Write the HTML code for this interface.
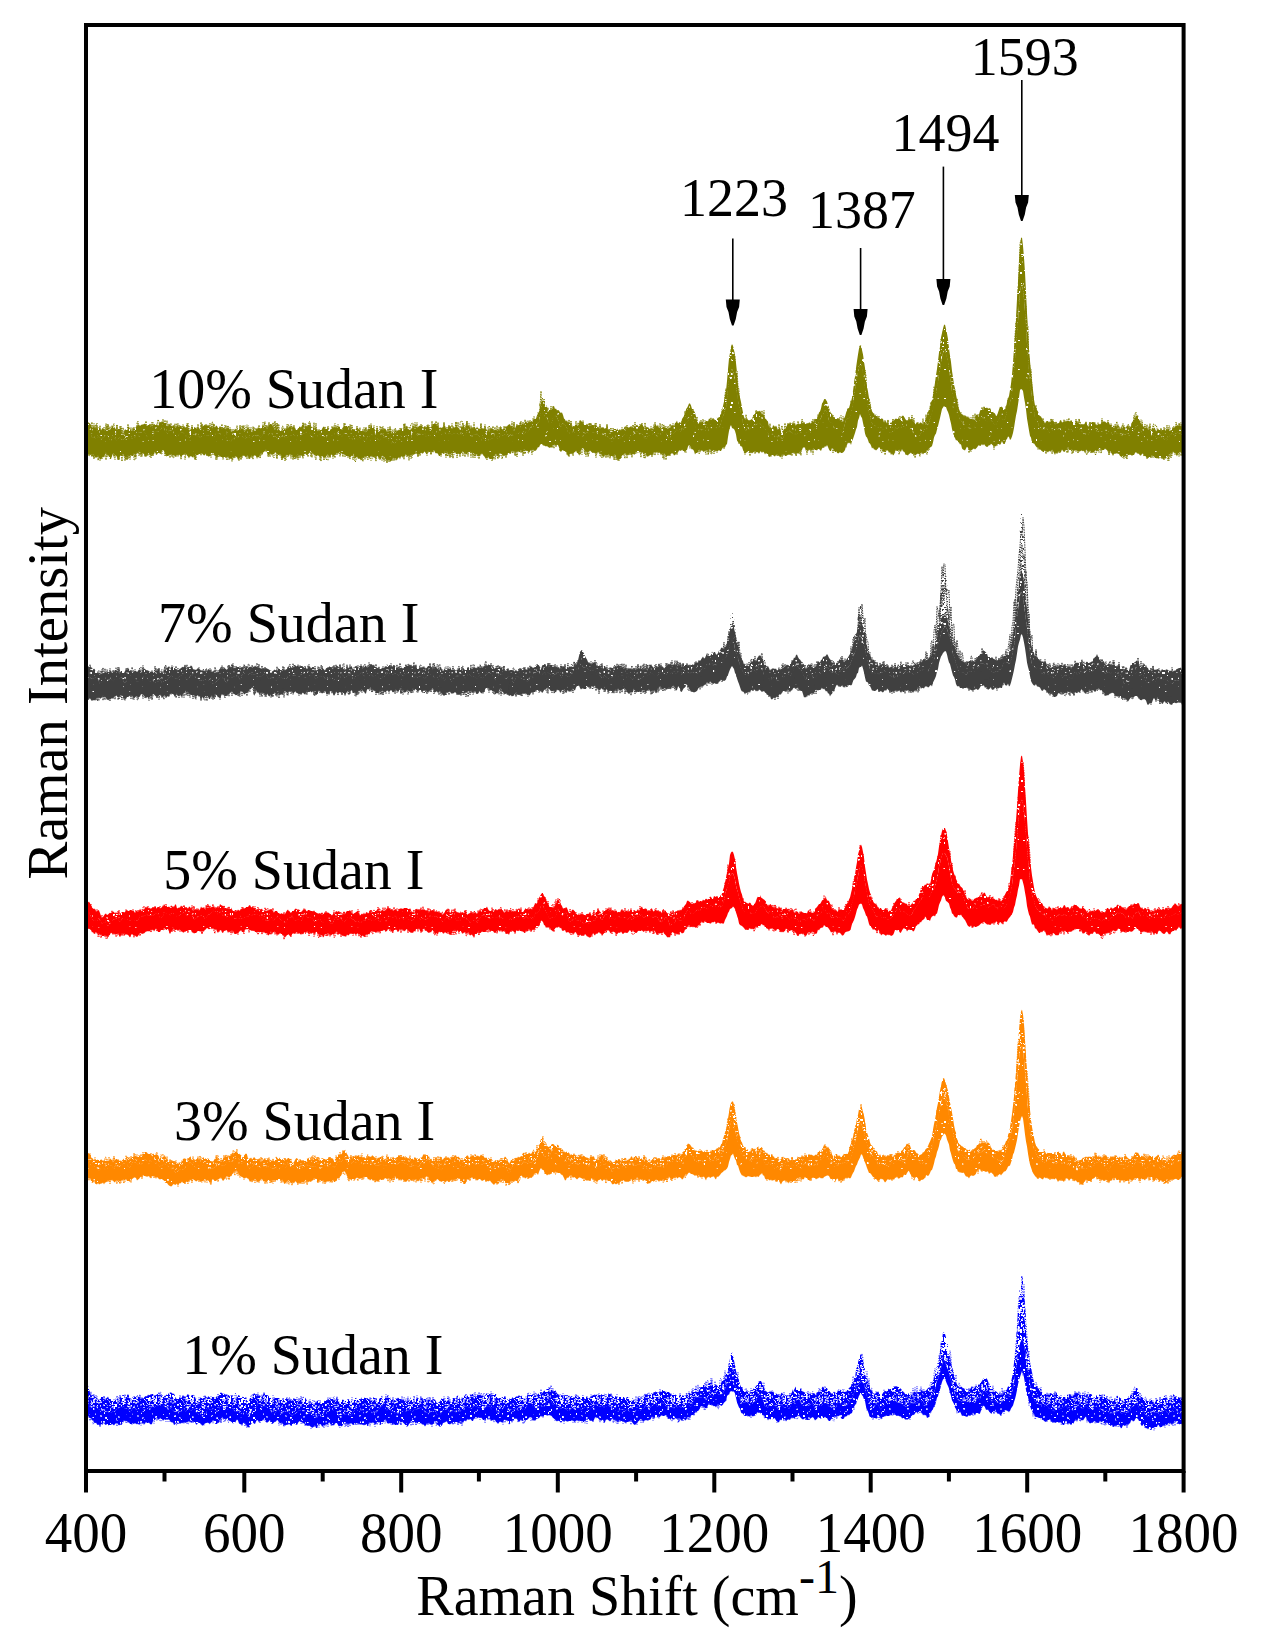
<!DOCTYPE html>
<html><head><meta charset="utf-8"><style>
html,body{margin:0;padding:0;background:#fff;overflow:hidden;}
svg{display:block;}
.t{font-family:'Liberation Serif','Times New Roman',serif;font-size:56px;fill:#000;}
</style></head><body>
<svg width="1261" height="1651" viewBox="0 0 1261 1651">
<rect width="1261" height="1651" fill="#fff"/>
<g transform="scale(0.5)">
<defs><pattern id="pat10u" width="74" height="58" patternUnits="userSpaceOnUse"><rect width="74" height="58" fill="#808000"/><path d="M2 0h2v2h-2zM26 0h2v2h-2zM46 0h2v4h-2zM52 0h4v2h-4zM60 0h4v4h-4zM28 2h2v4h-2zM30 2h4v2h-4zM40 2h2v4h-2zM68 2h2v2h-2zM8 4h2v4h-2zM36 6h4v2h-4zM42 6h2v2h-2zM30 8h2v4h-2zM52 8h4v2h-4zM58 8h4v4h-4zM4 14h4v4h-4zM54 14h4v2h-4zM32 16h2v4h-2zM50 18h4v2h-4zM32 20h2v2h-2zM38 20h2v2h-2zM22 22h4v4h-4zM42 22h4v4h-4zM56 22h2v4h-2zM24 24h4v4h-4zM58 24h2v2h-2zM26 26h2v4h-2zM28 28h2v4h-2zM72 28h2v4h-2zM0 30h4v4h-4zM0 34h2v4h-2zM2 34h2v4h-2zM4 36h4v2h-4zM14 36h2v2h-2zM28 36h2v2h-2zM36 36h2v4h-2zM4 40h2v4h-2zM8 42h2v2h-2zM14 42h4v4h-4zM30 44h4v4h-4zM44 44h4v2h-4zM48 44h2v4h-2zM30 46h2v2h-2zM36 46h2v4h-2zM64 46h4v4h-4zM44 48h4v2h-4zM8 50h4v4h-4zM50 50h2v4h-2zM8 54h4v4h-4zM20 54h4v4h-4zM24 54h4v4h-4zM34 54h4v2h-4zM22 56h2v2h-2z" fill="#fff"/></pattern></defs>
<defs><pattern id="pat10l" width="74" height="58" patternUnits="userSpaceOnUse"><rect width="74" height="58" fill="#808000"/><path d="M54 0h4v4h-4zM0 8h2v4h-2zM8 10h4v2h-4zM62 12h4v2h-4zM16 32h4v2h-4zM24 42h4v2h-4zM38 42h4v2h-4zM4 44h2v2h-2zM70 44h2v2h-2zM56 50h4v4h-4z" fill="#fff"/></pattern></defs>
<defs><pattern id="pat10s" width="74" height="58" patternUnits="userSpaceOnUse"><rect width="74" height="58" fill="#808000"/><path d="M0 0h4v4h-4zM4 0h2v2h-2zM6 0h2v2h-2zM12 0h4v4h-4zM16 0h4v4h-4zM22 0h4v2h-4zM40 0h2v2h-2zM42 0h4v4h-4zM50 0h2v4h-2zM54 0h4v4h-4zM58 0h4v2h-4zM62 0h2v4h-2zM64 0h4v2h-4zM66 0h2v4h-2zM70 0h2v4h-2zM72 0h4v4h-4zM4 2h2v4h-2zM8 2h4v4h-4zM14 2h2v2h-2zM22 2h2v4h-2zM24 2h4v4h-4zM26 2h2v4h-2zM32 2h4v2h-4zM34 2h4v2h-4zM40 2h4v2h-4zM42 2h4v2h-4zM46 2h2v2h-2zM48 2h2v4h-2zM52 2h4v4h-4zM56 2h2v2h-2zM58 2h2v2h-2zM60 2h4v4h-4zM62 2h2v2h-2zM64 2h2v4h-2zM66 2h4v2h-4zM2 4h4v2h-4zM4 4h4v2h-4zM18 4h2v2h-2zM20 4h2v2h-2zM26 4h4v2h-4zM30 4h2v4h-2zM40 4h4v4h-4zM46 4h2v2h-2zM52 4h2v4h-2zM56 4h2v2h-2zM60 4h2v4h-2zM64 4h2v4h-2zM68 4h2v2h-2zM72 4h2v4h-2zM6 6h2v4h-2zM8 6h2v2h-2zM10 6h4v2h-4zM14 6h4v2h-4zM16 6h4v4h-4zM18 6h4v4h-4zM22 6h2v4h-2zM28 6h2v4h-2zM32 6h2v4h-2zM44 6h4v2h-4zM46 6h4v4h-4zM50 6h4v2h-4zM58 6h4v2h-4zM62 6h4v4h-4zM64 6h2v2h-2zM70 6h2v2h-2zM0 8h4v4h-4zM8 8h4v2h-4zM10 8h2v2h-2zM30 8h4v4h-4zM38 8h4v2h-4zM40 8h2v4h-2zM42 8h2v2h-2zM46 8h2v2h-2zM50 8h4v4h-4zM52 8h2v2h-2zM54 8h2v4h-2zM64 8h2v2h-2zM68 8h2v2h-2zM6 10h2v4h-2zM8 10h2v4h-2zM12 10h4v2h-4zM14 10h2v2h-2zM20 10h2v2h-2zM36 10h2v4h-2zM38 10h4v2h-4zM42 10h4v2h-4zM44 10h4v2h-4zM46 10h2v2h-2zM48 10h2v2h-2zM52 10h2v2h-2zM54 10h2v4h-2zM56 10h4v4h-4zM60 10h2v2h-2zM62 10h2v4h-2zM64 10h4v2h-4zM66 10h2v2h-2zM68 10h2v4h-2zM70 10h4v2h-4zM72 10h4v4h-4zM0 12h2v4h-2zM2 12h4v4h-4zM8 12h2v2h-2zM10 12h2v4h-2zM16 12h4v4h-4zM18 12h2v4h-2zM20 12h2v2h-2zM24 12h2v4h-2zM26 12h2v2h-2zM28 12h2v4h-2zM30 12h2v4h-2zM32 12h2v2h-2zM40 12h2v2h-2zM46 12h4v4h-4zM50 12h2v2h-2zM52 12h4v4h-4zM56 12h4v4h-4zM58 12h4v2h-4zM60 12h4v2h-4zM62 12h4v4h-4zM64 12h4v2h-4zM68 12h4v2h-4zM0 14h4v4h-4zM4 14h2v4h-2zM8 14h2v4h-2zM10 14h4v2h-4zM14 14h2v4h-2zM16 14h4v4h-4zM18 14h2v4h-2zM26 14h4v2h-4zM28 14h4v4h-4zM34 14h4v4h-4zM36 14h4v4h-4zM44 14h4v2h-4zM48 14h2v4h-2zM50 14h2v4h-2zM62 14h4v4h-4zM64 14h2v4h-2zM70 14h4v4h-4zM6 16h4v2h-4zM14 16h4v4h-4zM18 16h4v4h-4zM20 16h2v4h-2zM22 16h2v2h-2zM30 16h4v2h-4zM42 16h2v2h-2zM44 16h2v2h-2zM48 16h4v2h-4zM50 16h2v4h-2zM68 16h2v2h-2zM0 18h2v4h-2zM2 18h4v4h-4zM22 18h2v2h-2zM24 18h4v2h-4zM28 18h4v2h-4zM34 18h4v2h-4zM40 18h4v2h-4zM46 18h2v4h-2zM48 18h4v2h-4zM50 18h2v4h-2zM54 18h2v2h-2zM56 18h4v4h-4zM60 18h2v4h-2zM62 18h4v2h-4zM68 18h2v4h-2zM72 18h2v4h-2zM4 20h2v2h-2zM8 20h2v4h-2zM16 20h4v2h-4zM28 20h4v2h-4zM32 20h4v2h-4zM40 20h4v2h-4zM46 20h2v4h-2zM60 20h2v2h-2zM62 20h4v2h-4zM64 20h4v2h-4zM66 20h2v4h-2zM68 20h4v4h-4zM70 20h4v2h-4zM4 22h4v2h-4zM8 22h2v2h-2zM12 22h4v2h-4zM22 22h2v4h-2zM24 22h2v4h-2zM26 22h4v4h-4zM28 22h2v4h-2zM34 22h2v4h-2zM36 22h4v2h-4zM38 22h2v2h-2zM40 22h4v4h-4zM48 22h2v4h-2zM52 22h4v2h-4zM56 22h2v2h-2zM58 22h2v4h-2zM64 22h2v4h-2zM66 22h4v2h-4zM70 22h4v4h-4zM72 22h4v4h-4zM4 24h4v2h-4zM26 24h4v4h-4zM32 24h2v2h-2zM40 24h2v4h-2zM44 24h2v4h-2zM46 24h2v2h-2zM50 24h2v4h-2zM52 24h4v2h-4zM56 24h4v4h-4zM58 24h2v2h-2zM60 24h4v4h-4zM62 24h2v4h-2zM66 24h4v4h-4zM68 24h4v4h-4zM70 24h4v4h-4zM72 24h2v2h-2zM4 26h2v2h-2zM6 26h2v4h-2zM8 26h2v2h-2zM12 26h4v4h-4zM14 26h4v2h-4zM18 26h2v2h-2zM22 26h4v2h-4zM24 26h2v2h-2zM26 26h4v4h-4zM28 26h4v2h-4zM32 26h2v2h-2zM36 26h2v2h-2zM44 26h2v2h-2zM46 26h4v4h-4zM48 26h4v2h-4zM52 26h4v4h-4zM56 26h2v2h-2zM60 26h2v4h-2zM2 28h2v2h-2zM6 28h4v2h-4zM8 28h4v2h-4zM18 28h4v4h-4zM24 28h2v2h-2zM32 28h4v4h-4zM38 28h2v4h-2zM42 28h4v2h-4zM48 28h4v4h-4zM52 28h2v2h-2zM60 28h4v4h-4zM66 28h4v4h-4zM70 28h2v4h-2zM72 28h4v2h-4zM14 30h2v2h-2zM16 30h4v2h-4zM26 30h2v2h-2zM28 30h4v4h-4zM40 30h4v2h-4zM58 30h4v2h-4zM64 30h4v2h-4zM68 30h2v2h-2zM72 30h2v2h-2zM0 32h4v4h-4zM2 32h2v4h-2zM8 32h2v2h-2zM12 32h4v4h-4zM18 32h4v2h-4zM22 32h4v2h-4zM24 32h4v4h-4zM28 32h4v4h-4zM30 32h2v2h-2zM34 32h4v2h-4zM38 32h2v4h-2zM40 32h4v4h-4zM46 32h2v4h-2zM48 32h2v4h-2zM58 32h4v4h-4zM60 32h2v2h-2zM62 32h4v2h-4zM66 32h4v2h-4zM72 32h4v4h-4zM0 34h4v2h-4zM8 34h4v2h-4zM10 34h2v2h-2zM16 34h4v4h-4zM20 34h4v4h-4zM22 34h4v2h-4zM24 34h4v2h-4zM28 34h2v2h-2zM36 34h2v4h-2zM38 34h4v2h-4zM42 34h4v2h-4zM50 34h4v2h-4zM58 34h4v4h-4zM60 34h4v4h-4zM64 34h2v4h-2zM66 34h2v4h-2zM70 34h2v4h-2zM2 36h2v4h-2zM6 36h4v4h-4zM8 36h2v2h-2zM10 36h4v4h-4zM12 36h2v2h-2zM16 36h4v2h-4zM22 36h4v2h-4zM26 36h4v2h-4zM34 36h4v2h-4zM46 36h2v2h-2zM48 36h2v4h-2zM50 36h2v4h-2zM52 36h2v4h-2zM54 36h2v4h-2zM58 36h2v2h-2zM60 36h2v2h-2zM66 36h4v2h-4zM68 36h4v2h-4zM2 38h2v4h-2zM6 38h2v4h-2zM10 38h2v2h-2zM20 38h4v4h-4zM22 38h4v2h-4zM36 38h4v4h-4zM40 38h2v2h-2zM46 38h4v4h-4zM50 38h4v4h-4zM54 38h4v2h-4zM58 38h2v2h-2zM64 38h2v4h-2zM70 38h4v4h-4zM0 40h4v2h-4zM10 40h4v2h-4zM14 40h2v2h-2zM18 40h2v2h-2zM28 40h4v4h-4zM30 40h4v2h-4zM32 40h4v2h-4zM36 40h2v2h-2zM40 40h2v2h-2zM42 40h2v2h-2zM44 40h4v2h-4zM50 40h2v4h-2zM52 40h2v4h-2zM58 40h4v4h-4zM62 40h4v4h-4zM0 42h4v2h-4zM12 42h2v2h-2zM14 42h2v4h-2zM22 42h4v4h-4zM34 42h4v2h-4zM40 42h2v4h-2zM44 42h4v4h-4zM58 42h2v2h-2zM62 42h4v2h-4zM66 42h2v2h-2zM70 42h2v2h-2zM72 42h2v2h-2zM14 44h4v4h-4zM18 44h4v4h-4zM36 44h2v2h-2zM40 44h2v4h-2zM48 44h2v4h-2zM50 44h2v2h-2zM54 44h2v4h-2zM68 44h2v4h-2zM72 44h2v4h-2zM2 46h2v2h-2zM4 46h4v2h-4zM8 46h2v2h-2zM16 46h2v2h-2zM18 46h4v4h-4zM26 46h2v4h-2zM30 46h4v2h-4zM40 46h4v2h-4zM44 46h4v4h-4zM50 46h4v2h-4zM54 46h2v2h-2zM56 46h2v4h-2zM62 46h2v4h-2zM64 46h2v4h-2zM68 46h4v4h-4zM70 46h4v4h-4zM0 48h4v4h-4zM2 48h4v4h-4zM10 48h2v4h-2zM14 48h4v2h-4zM22 48h4v2h-4zM26 48h4v2h-4zM30 48h2v4h-2zM40 48h4v2h-4zM42 48h4v4h-4zM46 48h4v4h-4zM50 48h2v4h-2zM54 48h2v4h-2zM56 48h2v4h-2zM58 48h2v4h-2zM64 48h2v2h-2zM68 48h4v4h-4zM70 48h2v4h-2zM4 50h2v4h-2zM8 50h4v4h-4zM10 50h4v2h-4zM14 50h2v4h-2zM34 50h4v4h-4zM36 50h4v2h-4zM42 50h2v2h-2zM44 50h4v4h-4zM60 50h2v2h-2zM64 50h2v2h-2zM70 50h2v2h-2zM0 52h4v4h-4zM4 52h2v2h-2zM14 52h4v4h-4zM30 52h4v2h-4zM34 52h2v2h-2zM36 52h2v2h-2zM38 52h4v4h-4zM50 52h4v2h-4zM52 52h4v4h-4zM62 52h4v2h-4zM64 52h4v4h-4zM66 52h2v2h-2zM68 52h2v2h-2zM72 52h2v2h-2zM4 54h2v4h-2zM6 54h4v4h-4zM8 54h2v2h-2zM18 54h2v4h-2zM20 54h4v2h-4zM26 54h2v2h-2zM28 54h4v4h-4zM30 54h4v4h-4zM32 54h4v4h-4zM34 54h2v4h-2zM38 54h2v4h-2zM44 54h4v4h-4zM48 54h4v2h-4zM56 54h4v2h-4zM58 54h2v4h-2zM64 54h4v4h-4zM4 56h4v4h-4zM10 56h4v2h-4zM14 56h2v2h-2zM20 56h2v4h-2zM26 56h2v2h-2zM28 56h2v2h-2zM30 56h4v2h-4zM34 56h2v4h-2zM40 56h2v2h-2zM44 56h2v2h-2zM48 56h4v4h-4zM54 56h2v4h-2zM68 56h4v2h-4zM70 56h4v2h-4z" fill="#fff"/></pattern></defs>
<path d="M174 849l2-5 2 2 2 1 2 3 2 5 2 0 2-3 2 4 2 1 2 0 2-3 2 2 2-1 2 6 2-4 2-1 2 3 2 2 2-3 2-2 2 1 2 5 2-1 2-5 2-2 2-2 2 3 2 1 2 3 2 1 2-3 2 1 2 0 2 4 2 3 2 2 2-2 2-7 2 2 2-5 2-1 2-1 2 5 2 2 2 2 2-3 2-2 2 1 2-5 2 0 2-2 2-2 2 3 2-2 2-1 2 0 2-1 2-1 2 3 2 2 2-2 2 0 2 0 2 3 2 0 2-2 2-2 2-1 2 2 2-2 2 4 2-3 2-5 2 1 2-3 2 1 2 3 2 0 2 0 2 4 2 3 2-5 2 2 2 1 2 3 2-4 2 3 2 3 2-1 2-3 2 1 2 0 2-1 2-1 2 5 2-1 2-1 2 2 2-1 2 3 2-2 2 4 2 1 2-5 2 2 2-2 2-2 2 1 2 1 2 2 2-2 2 0 2 3 2-4 2 0 2-2 2-2 2-2 2 3 2-3 2 3 2-3 2 7 2-4 2 5 2-2 2 0 2 0 2-4 2 1 2 4 2 1 2-5 2 4 2 1 2-1 2-1 2 3 2 1 2-1 2-2 2 1 2 4 2 3 2-1 2-1 2 0 2-5 2 2 2 3 2-1 2-4 2 1 2 0 2-1 2 2 2 3 2 2 2-6 2 1 2-1 2 1 2-2 2 5 2 3 2-5 2-2 2 4 2-5 2 2 2-5 2 2 2 0 2 1 2-4 2-3 2 3 2 1 2 0 2-2 2 3 2-4 2-3 2 0 2 1 2 6 2 3 2-5 2 3 2-2 2 6 2 0 2 2 2 0 2-4 2 0 2-3 2 4 2 0 2-4 2 2 2-4 2 0 2 2 2 2 2-6 2 4 2 0 2 5 2 0 2-3 2-3 2-1 2 2 2-4 2-2 2 4 2 2 2-4 2 4 2-5 2 0 2 1 2 3 2-1 2 4 2-4 2 6 2-1 2 1 2 4 2-2 2-4 2 3 2-1 2-5 2-1 2 5 2 0 2 0 2-3 2 2 2 2 2 0 2-2 2-3 2 1 2-2 2 3 2-4 2 2 2-1 2 1 2 2 2 4 2-4 2-3 2 0 2-1 2 0 2 3 2 6 2-2 2-1 2-1 2 3 2 0 2-2 2 3 2-2 2 0 2-2 2 4 2 1 2 0 2-2 2 3 2 0 2 3 2-4 2-2 2-2 2 0 2-6 2-1 2 4 2 2 2 3 2 2 2-3 2 5 2 0 2-3 2-1 2-3 2 4 2-5 2 3 2 0 2 5 2-1 2 1 2-1 2 3 2 1 2-2 2 3 2-2 2-1 2-4 2 0 2 0 2 1 2-5 2 0 2 1 2-1 2 2 2-8 2 3 2 5 2 1 2 0 2 0 2-5 2-1 2 1 2-4 2 3 2 2 2-2 2-2 2-1 2 0 2 2 2 2 2-1 2-2 2 4 2-4 2 0 2 2 2 1 2-1 2-2 2-4 2 0 2-1 2 3 2 2 2 0 2 4 2-1 2 0 2 1 2-3 2 0 2-2 2 6 2 1 2 0 2-4 2-2 2 1 2 3 2 0 2-2 2 2 2-4 2 1 2 3 2 1 2 0 2-7 2 5 2-3 2 1 2 5 2-8 2 2 2-1 2 1 2 3 2 3 2-4 2 3 2-3 2 1 2 3 2-5 2 4 2 0 2 1 2 0 2 0 2-1 2 0 2 0 2 0 2 4 2 2 2 1 2-5 2-1 2-3 2 4 2 2 2-1 2-1 2 2 2 0 2 1 2-6 2 0 2 3 2-1 2-3 2-1 2 1 2-2 2-3 2-1 2-1 2 5 2-2 2 5 2-1 2 2 2-5 2-2 2 1 2-4 2-4 2 4 2 1 2 1 2 0 2-3 2-5 2 6 2-2 2 0 2-2 2 1 2-5 2 1 2-3 2 1 2-1 2-6 2-6 2-1 2-12 2-10 2-1 2 1 2 0 2 9 2 2 2 0 2 7 2 0 2 0 2-3 2 3 2-7 2-1 2 6 2-1 2 4 2 0 2 0 2 4 2 1 2-1 2 5 2 7 2 2 2 4 2-3 2 7 2-4 2 4 2 6 2 2 2-5 2 3 2-2 2-1 2 0 2 2 2-4 2-7 2 0 2 3 2 3 2 3 2 0 2 0 2-3 2 3 2 4 2-1 2-2 2-2 2-1 2 3 2 1 2-2 2 3 2 3 2-1 2-2 2 1 2 2 2-1 2 2 2 0 2-1 2 1 2 2 2 2 2 4 2-1 2 0 2-1 2-7 2 2 2-2 2 0 2 5 2-1 2-2 2 3 2-1 2-1 2-2 2-3 2 4 2-4 2 1 2 0 2-1 2 0 2 2 2-1 2-4 2 4 2-4 2-2 2 3 2 2 2-3 2-2 2-2 2 5 2 2 2 2 2-1 2 0 2-1 2 3 2 1 2 1 2-2 2-3 2 2 2-7 2 1 2 3 2-4 2 7 2-2 2 4 2-2 2-3 2 1 2 1 2 1 2 1 2 1 2-2 2 0 2-3 2-3 2 2 2 1 2-7 2-1 2-4 2 7 2-3 2-1 2 3 2-9 2-3 2-3 2-5 2-8 2-3 2-4 2-5 2 0 2 4 2 7 2 0 2 4 2 3 2 9 2 8 2 6 2-2 2-5 2 5 2-3 2 1 2 0 2 0 2-2 2 0 2 1 2-6 2 1 2 2 2-1 2-2 2 3 2-2 2-3 2 3 2-3 2 0 2-5 2-2 2-6 2-10 2-9 2-13 2-8 2-20 2-24 2-21 2-11 2-12 2-6 2 4 2 8 2 13 2 13 2 19 2 25 2 16 2 9 2 9 2 11 2 10 2 9 2 4 2 1 2-3 2 4 2 1 2 0 2-2 2-1 2-4 2-5 2-1 2-5 2 0 2-1 2 1 2-2 2 4 2 5 2-3 2 6 2 4 2 1 2 3 2 2 2 11 2 2 2-1 2 2 2-6 2 0 2 3 2-3 2 4 2 5 2-4 2 1 2 6 2 1 2-2 2-4 2-3 2-1 2-3 2-3 2 0 2-4 2 3 2 0 2 0 2 2 2-3 2 5 2-2 2-2 2 0 2 2 2-2 2-1 2 1 2-2 2 3 2 0 2-2 2 1 2-2 2 0 2 3 2-5 2 1 2-2 2-3 2-1 2 0 2-6 2-7 2-2 2-6 2-10 2-3 2-5 2-1 2 2 2 3 2 7 2 6 2 6 2 5 2 0 2 6 2 2 2-1 2 0 2 3 2-1 2 3 2 2 2-2 2 5 2 0 2-7 2-4 2-7 2-4 2-5 2-1 2-7 2-5 2-9 2-13 2-15 2-14 2-17 2-14 2-13 2-12 2-5 2-2 2 10 2 9 2 14 2 13 2 21 2 16 2 10 2 13 2 9 2 13 2 4 2 5 2-1 2 6 2-4 2 5 2 3 2-2 2 2 2 1 2 0 2 1 2 7 2-2 2 0 2 4 2 0 2 0 2-2 2 1 2-2 2-1 2-2 2-3 2-1 2 1 2 0 2-5 2 1 2 1 2-3 2-1 2 2 2 4 2 3 2 1 2-1 2 1 2-3 2 1 2-3 2 7 2 0 2 6 2-2 2-3 2 2 2 2 2-3 2 0 2 2 2 3 2-8 2-1 2-3 2-9 2-5 2-5 2-6 2-6 2-7 2-9 2-12 2-14 2-15 2-12 2-16 2-17 2-11 2-19 2-9 2-9 2-7 2-1 2 9 2 9 2 11 2 19 2 14 2 13 2 18 2 13 2 14 2 9 2 11 2 10 2 13 2 6 2 5 2 4 2 2 2 0 2 5 2-4 2 3 2 2 2-3 2 5 2 1 2 0 2 0 2 1 2 1 2-4 2-7 2 1 2 1 2-2 2-7 2-4 2 0 2 1 2-4 2-1 2 2 2-1 2 2 2 0 2-1 2 4 2 3 2 0 2 4 2 0 2 5 2-1 2-6 2-6 2-6 2 0 2 1 2 2 2 2 2 1 2-4 2-11 2-7 2-5 2-12 2-12 2-19 2-23 2-28 2-29 2-33 2-38 2-35 2-41 2-28 2-18 2-1 2 17 2 23 2 30 2 38 2 43 2 34 2 37 2 25 2 23 2 17 2 18 2 19 2 12 2 4 2 5 2 3 2 6 2 4 2 0 2 4 2 4 2 1 2 5 2-4 2-1 2 0 2 3 2-3 2 0 2 0 2-1 2 5 2 5 2-5 2 2 2-1 2-1 2-5 2-1 2 5 2-1 2 0 2-4 2 4 2-1 2-2 2 2 2 0 2-3 2 2 2 2 2 0 2 2 2-1 2-2 2 4 2 0 2 2 2-1 2 1 2-1 2 1 2-3 2-2 2 4 2 5 2 0 2-3 2-4 2-2 2 0 2 1 2 2 2 3 2 1 2-2 2 0 2 1 2-3 2-1 2-3 2 0 2 0 2 2 2 2 2-3 2 1 2 5 2 0 2 5 2 1 2-1 2-4 2 1 2 1 2-2 2 2 2 5 2-1 2 3 2-7 2 0 2 2 2 0 2-4 2 2 2 2 2-1 2-1 2-9 2 0 2-3 2-4 2-6 2 1 2-2 2 9 2 3 2 6 2 3 2 1 2 2 2 2 2-1 2 1 2 3 2 1 2 2 2-1 2-5 2 1 2 1 2-1 2 6 2-3 2-3 2 3 2 0 2 3 2-2 2-5 2 3 2 1 2-3 2 3 2-4 2 3 2 0 2 2 2-4 2-1 2 0 2-3 2-1 2-1 2-1 2 2 2-3 2 4 2-3L2364 869l-2-1 -2-3 -2 3 -2-3 -2 1 -2 1 -2 0 -2 3 -2-2 -2-1 -2 2 -2 2 -2 3 -2 1 -2 6 -2-1 -2 0 -2-2 -2-3 -2 1 -2 0 -2-3 -2 3 -2-2 -2 3 -2 0 -2-6 -2 0 -2-2 -2-1 -2 5 -2 2 -2 1 -2 1 -2 1 -2-2 -2 0 -2-3 -2-5 -2-3 -2-3 -2-4 -2-3 -2-5 -2 3 -2-1 -2 5 -2 4 -2 3 -2 0 -2 6 -2 0 -2 2 -2-1 -2-4 -2 1 -2 2 -2-2 -2 1 -2 5 -2-4 -2 1 -2-4 -2-1 -2 1 -2-2 -2-1 -2 3 -2 3 -2-2 -2-5 -2-1 -2 0 -2 3 -2 3 -2-3 -2-6 -2-1 -2 0 -2 0 -2-1 -2 3 -2 2 -2 2 -2-1 -2-2 -2-2 -2 0 -2 0 -2 0 -2 2 -2 2 -2 4 -2 2 -2-2 -2-1 -2 4 -2 0 -2-4 -2-3 -2-3 -2 0 -2-2 -2 0 -2-1 -2 4 -2 3 -2 0 -2 0 -2-4 -2-2 -2 1 -2 1 -2-4 -2 0 -2-1 -2-2 -2 4 -2 2 -2 2 -2-1 -2 0 -2 0 -2-1 -2 0 -2-3 -2 5 -2-2 -2-1 -2 4 -2 3 -2 0 -2 0 -2-5 -2-3 -2 0 -2 3 -2-1 -2 0 -2 0 -2-1 -2 0 -2-4 -2-8 -2-3 -2-3 -2-5 -2-12 -2-15 -2-14 -2-14 -2-17 -2-21 -2-28 -2-27 -2-35 -2-29 -2-25 -2-18 -2-10 -2 3 -2 14 -2 24 -2 31 -2 24 -2 26 -2 25 -2 24 -2 25 -2 18 -2 14 -2 7 -2 6 -2 3 -2 7 -2 11 -2 7 -2 1 -2-1 -2-2 -2-1 -2-1 -2 2 -2 4 -2 5 -2 4 -2-2 -2 1 -2-6 -2 0 -2-2 -2 0 -2 3 -2 0 -2-1 -2-1 -2-4 -2-2 -2 1 -2-3 -2 1 -2 3 -2 5 -2 3 -2 1 -2-1 -2 5 -2 2 -2 2 -2 2 -2 0 -2 1 -2-1 -2-3 -2 1 -2-2 -2-3 -2 2 -2-4 -2-2 -2-5 -2-2 -2-5 -2-6 -2-11 -2-8 -2-7 -2-3 -2-8 -2-8 -2-17 -2-13 -2-14 -2-16 -2-8 -2-7 -2-7 -2 0 -2 5 -2 9 -2 9 -2 15 -2 9 -2 15 -2 14 -2 11 -2 11 -2 9 -2 10 -2 8 -2 6 -2 6 -2 7 -2 5 -2 3 -2 7 -2 0 -2-1 -2 6 -2-1 -2 2 -2 4 -2 2 -2-2 -2-1 -2 3 -2 1 -2-6 -2-1 -2-6 -2 0 -2-2 -2 1 -2-1 -2 0 -2 0 -2-3 -2-2 -2 0 -2-1 -2 4 -2-1 -2-2 -2 4 -2 0 -2-2 -2 2 -2 5 -2 2 -2-1 -2 3 -2-2 -2 1 -2-4 -2-3 -2-5 -2 3 -2 5 -2-2 -2-3 -2-1 -2-1 -2 0 -2 2 -2-3 -2-3 -2 3 -2-3 -2 0 -2-4 -2-4 -2-10 -2-6 -2-10 -2-9 -2-11 -2-19 -2-16 -2-15 -2-12 -2-7 -2 2 -2 7 -2 9 -2 10 -2 10 -2 15 -2 14 -2 14 -2 11 -2 11 -2 4 -2 5 -2-3 -2 2 -2 2 -2 8 -2 6 -2 7 -2 2 -2-3 -2-1 -2-2 -2-1 -2 2 -2 0 -2-1 -2-2 -2-5 -2-6 -2 2 -2-2 -2-3 -2-7 -2-9 -2-3 -2-1 -2 3 -2 4 -2 2 -2 6 -2 3 -2 1 -2 7 -2 6 -2 2 -2 1 -2 2 -2 2 -2 1 -2 4 -2-1 -2-1 -2 3 -2-2 -2 0 -2 0 -2-3 -2 0 -2 1 -2 3 -2 1 -2 0 -2 0 -2 2 -2 3 -2-4 -2 2 -2-2 -2-2 -2 0 -2-4 -2 2 -2-1 -2 2 -2 2 -2 2 -2 4 -2 4 -2 2 -2-1 -2-4 -2-2 -2 4 -2-2 -2 0 -2 2 -2-5 -2-3 -2 3 -2-1 -2 2 -2 2 -2-7 -2-2 -2-4 -2-1 -2-4 -2-3 -2 4 -2-6 -2-4 -2 2 -2-1 -2 2 -2 0 -2 2 -2-1 -2 2 -2 2 -2 1 -2 2 -2 2 -2 0 -2-1 -2 3 -2-1 -2-4 -2-9 -2-11 -2-10 -2-9 -2-6 -2-9 -2-15 -2-16 -2-11 -2-11 -2-7 -2-4 -2 3 -2 10 -2 9 -2 19 -2 21 -2 15 -2 6 -2 7 -2 4 -2 7 -2 8 -2 4 -2 4 -2-1 -2 3 -2-3 -2 3 -2-1 -2-2 -2 2 -2 1 -2 0 -2 0 -2 6 -2-1 -2 0 -2-1 -2-1 -2-1 -2-1 -2 3 -2-5 -2 1 -2 4 -2-1 -2-3 -2-5 -2-5 -2-5 -2 0 -2-4 -2-3 -2 2 -2 5 -2 3 -2 0 -2 8 -2 4 -2 3 -2 0 -2 4 -2-5 -2 1 -2 3 -2-4 -2 3 -2 1 -2 5 -2-1 -2 0 -2 4 -2 5 -2 0 -2-2 -2-4 -2-4 -2-4 -2-1 -2 2 -2 3 -2 4 -2-4 -2 1 -2-2 -2 5 -2 1 -2-3 -2 1 -2-3 -2 4 -2 0 -2 0 -2 1 -2 0 -2 6 -2 0 -2 1 -2-3 -2-4 -2-5 -2 1 -2 1 -2 1 -2-4 -2-3 -2 1 -2 6 -2-1 -2 3 -2 1 -2 2 -2 0 -2 3 -2-3 -2-4 -2 1 -2-3 -2 3 -2 3 -2 1 -2 2 -2-2 -2 2 -2 0 -2-3 -2-1 -2 3 -2 1 -2 6 -2 0 -2-2 -2-1 -2-5 -2 0 -2-1 -2 0 -2-1 -2 0 -2-1 -2-1 -2-1 -2-1 -2 1 -2 0 -2-2 -2-3 -2 0 -2 0 -2 0 -2 1 -2 1 -2 0 -2 0 -2-1 -2-1 -2 1 -2 1 -2-2 -2-2 -2-1 -2-1 -2 2 -2 6 -2 3 -2-2 -2-4 -2 0 -2-2 -2-2 -2 4 -2 1 -2 0 -2-2 -2 0 -2-9 -2-2 -2-4 -2-1 -2-3 -2 2 -2 6 -2-1 -2-8 -2-6 -2-4 -2-4 -2 2 -2-2 -2 4 -2 10 -2 1 -2 3 -2-4 -2-4 -2-7 -2 2 -2 1 -2-7 -2-2 -2-3 -2 1 -2 8 -2 10 -2 1 -2 4 -2 4 -2 0 -2 0 -2-1 -2-1 -2 3 -2 2 -2 5 -2 2 -2 3 -2-3 -2 3 -2 2 -2 1 -2-2 -2-3 -2-1 -2 4 -2 1 -2-1 -2-1 -2 4 -2 0 -2 2 -2-4 -2 4 -2-4 -2 1 -2-1 -2 2 -2 1 -2-2 -2 1 -2 1 -2-1 -2-1 -2 2 -2 6 -2 1 -2-1 -2-5 -2 0 -2 4 -2 2 -2-2 -2 2 -2 1 -2 2 -2-3 -2 1 -2 1 -2 1 -2-3 -2-3 -2-1 -2 0 -2 0 -2-2 -2-2 -2-4 -2 4 -2-1 -2 0 -2 2 -2 0 -2 2 -2-2 -2-4 -2-4 -2 1 -2 1 -2 7 -2 0 -2-2 -2 0 -2-6 -2 5 -2 0 -2 0 -2-2 -2-1 -2 1 -2 0 -2 1 -2 1 -2-2 -2-1 -2 1 -2 3 -2-2 -2 1 -2-5 -2 3 -2 0 -2 2 -2-1 -2 0 -2-1 -2-6 -2 2 -2 1 -2 2 -2 2 -2 1 -2 2 -2-1 -2 1 -2 1 -2-2 -2 1 -2 3 -2-5 -2-1 -2 1 -2 0 -2 0 -2 1 -2 1 -2 1 -2-1 -2-6 -2-2 -2 3 -2 1 -2 2 -2 7 -2 2 -2 1 -2-1 -2-5 -2-4 -2 6 -2-2 -2 2 -2-1 -2 1 -2 5 -2-2 -2 1 -2 2 -2 3 -2 3 -2 1 -2-6 -2 3 -2 2 -2-1 -2-4 -2-3 -2-1 -2-3 -2 1 -2-3 -2 2 -2-2 -2 4 -2 2 -2 2 -2-2 -2-3 -2 1 -2-2 -2-2 -2-1 -2-3 -2 1 -2 3 -2 1 -2 0 -2 2 -2 5 -2-2 -2 3 -2-3 -2-1 -2 0 -2-2 -2-1 -2 4 -2-2 -2 2 -2-1 -2 1 -2 1 -2-3 -2 1 -2-1 -2-1 -2-6 -2-2 -2 0 -2 0 -2-1 -2 3 -2 3 -2-3 -2-1 -2 1 -2 1 -2-4 -2 2 -2-3 -2 4 -2 0 -2 1 -2-1 -2 0 -2-1 -2 0 -2 4 -2 2 -2 1 -2-4 -2 0 -2 1 -2-2 -2-4 -2 4 -2 2 -2-2 -2 0 -2 1 -2 0 -2 4 -2-1 -2-1 -2-6 -2-3 -2-2 -2 4 -2-4 -2 5 -2-1 -2 0 -2 2 -2 4 -2-1 -2 0 -2 0 -2 2 -2 0 -2-3 -2 1 -2-5 -2 4 -2 1 -2-2 -2 2 -2 4 -2-2 -2 2 -2-1 -2-4 -2 2 -2-1 -2 2 -2 2 -2 1 -2 2 -2-4 -2-1 -2-3 -2 3 -2-2 -2-3 -2-2 -2-1 -2 2 -2 3 -2-4 -2-1 -2 1 -2 1 -2 1 -2 3 -2 3 -2-2 -2 0 -2-4 -2 4 -2-3 -2 2 -2-2 -2 3 -2 4 -2 0 -2-2 -2 1 -2-3 -2 2 -2 0 -2 3 -2-1 -2-2 -2-1 -2 0 -2 0 -2-1 -2 3 -2-1 -2-1 -2 1 -2 4 -2-2 -2 2 -2 4 -2-1 -2-1 -2-3 -2 1 -2-2 -2-3 -2-4 -2 0 -2 0 -2 0 -2-4 -2 2 -2-1 -2-1 -2 0 -2 6 -2 1 -2-1 -2-1 -2-4 -2 5 -2-3 -2 4 -2-3 -2 1 -2 0 -2 2 -2 1 -2 0 -2-2 -2 3 -2-2 -2 0 -2 1 -2-2 -2-3 -2-1 -2 2 -2 2 -2-1 -2 4 -2 0 -2-3 -2 3 -2-2 -2-3 -2-3 -2-2 -2 0 -2 0 -2 2 -2 2 -2 3 -2 0 -2 2 -2-1 -2-4 -2-3 -2 0 -2-3 -2-2 -2-1 -2 6 -2 1 -2-3 -2-2 -2-4 -2-4 -2 0 -2 5 -2 0 -2 3 -2 2 -2-2 -2 1 -2-1 -2 6 -2 4 -2 1 -2-2 -2-3 -2 1 -2 1 -2 3 -2-3 -2-4 -2-2 -2 0 -2 0 -2 1 -2 1 -2-2 -2 4 -2 2 -2 0 -2 5 -2-2 -2 3 -2 2 -2-1 -2-1 -2 0 -2 2 -2 0 -2 2 -2-4 -2 2 -2 1 -2 1 -2-2 -2-3 -2 1 -2 1 -2 3 -2-1 -2-2 -2-1 -2-3 -2 2 -2 2 -2 3 -2-3 -2-5 -2-2 -2 0 -2 3 -2 2 -2-1 -2 3 -2 3 -2-5 -2 0 -2-2 -2 4 -2 1 -2-1 -2-3 -2 2 -2-1 -2-6 -2-3 -2-4 -2-2 -2 3z" fill="url(#pat10u)"/>
<path d="M174 863l2-3 2 2 2 4 2 3 2 6 2 1 2-2 2 3 2 1 2-1 2-4 2 2 2 0 2 5 2-3 2-3 2 1 2-2 2-3 2 0 2 2 2 5 2 3 2-3 2-2 2-2 2 3 2 1 2 2 2 1 2-3 2-1 2-1 2 3 2 2 2-1 2-1 2-2 2 4 2-2 2 0 2-2 2 0 2 1 2 1 2-2 2-3 2 2 2-5 2 0 2-2 2-4 2 2 2-1 2-1 2 0 2 0 2 2 2 4 2 3 2-3 2-1 2-1 2 3 2 2 2-1 2-4 2-6 2 1 2-1 2 2 2-2 2-3 2 0 2-5 2 0 2 4 2 4 2 2 2 3 2-1 2-6 2 1 2 2 2 3 2 0 2 3 2 4 2 1 2-2 2 0 2-3 2-2 2-2 2 0 2 0 2 2 2 3 2 3 2 2 2-3 2 3 2 0 2-4 2 1 2-2 2-2 2 1 2 3 2 2 2-1 2 0 2 2 2-3 2 2 2 0 2-1 2-2 2 0 2-1 2 3 2-4 2 3 2-5 2 4 2 1 2 1 2-1 2-6 2 0 2 1 2 1 2-2 2 4 2 0 2 0 2 0 2 4 2 3 2 2 2-1 2 3 2 1 2 1 2-4 2-2 2 2 2-4 2-1 2 1 2 1 2-3 2 1 2 0 2 0 2 1 2 2 2 1 2-3 2 0 2-2 2 3 2-1 2 2 2 0 2-4 2-3 2 2 2-2 2 3 2-4 2 4 2 0 2 2 2-3 2-3 2-1 2-1 2-1 2 1 2 4 2-3 2-2 2 1 2 2 2 3 2 2 2-3 2 3 2 1 2 4 2-2 2-1 2-2 2-2 2 1 2-2 2 4 2 1 2-2 2 2 2-4 2-2 2 2 2-1 2-4 2 5 2-1 2 3 2 0 2-2 2 0 2 0 2 1 2-4 2-2 2 0 2 1 2-5 2 4 2-4 2 2 2 3 2 6 2 1 2 1 2-4 2 0 2-1 2 0 2 2 2-2 2-4 2 4 2 2 2-1 2 0 2 4 2-1 2-2 2-4 2 0 2 1 2 0 2 1 2-1 2 0 2-4 2 3 2-2 2 4 2-1 2-1 2 1 2 3 2-3 2-3 2 1 2 0 2 0 2 2 2 6 2 1 2 1 2-1 2 3 2-1 2-1 2 1 2-2 2 2 2-4 2 1 2 2 2 0 2 1 2 3 2-3 2 2 2-5 2-2 2 0 2-1 2-3 2-1 2 3 2 1 2 2 2 2 2-1 2 3 2 2 2-2 2-2 2-4 2 2 2-2 2 3 2-1 2 3 2 1 2 3 2 4 2 1 2-2 2-3 2 6 2-1 2-3 2-3 2-2 2-1 2 2 2-5 2-1 2 1 2-2 2 2 2-6 2 4 2 5 2 1 2-1 2-2 2-7 2-2 2-1 2-3 2 2 2 6 2 1 2-1 2-1 2-1 2 0 2 0 2-1 2 1 2 5 2-3 2-1 2 2 2-1 2-1 2 1 2-2 2-1 2-2 2-2 2-1 2-2 2 6 2 1 2 0 2 1 2-2 2 0 2-3 2 5 2-1 2 2 2-3 2-1 2 1 2 2 2-1 2-1 2 0 2-1 2 1 2 2 2 0 2 0 2-5 2 6 2 0 2 2 2 0 2-7 2-1 2-1 2 4 2 4 2 2 2-2 2 0 2-2 2 0 2 1 2-4 2 4 2 2 2 2 2 0 2 0 2 1 2 3 2 3 2-1 2-1 2-1 2 3 2-2 2-1 2-2 2 2 2-2 2-4 2 0 2 5 2 1 2-1 2-6 2-2 2 1 2 1 2-1 2-1 2 2 2-1 2-2 2 1 2-1 2 4 2-4 2 4 2-2 2 0 2-4 2 1 2 1 2-1 2-4 2 1 2 3 2 2 2-1 2-2 2-3 2 3 2-3 2-2 2-5 2-2 2-3 2 1 2 1 2 0 2 0 2-4 2-4 2-1 2-10 2-8 2-1 2 3 2 2 2 7 2-1 2-2 2 7 2 4 2 4 2-3 2-1 2-10 2-4 2 2 2-2 2 4 2 4 2 6 2 8 2 1 2-6 2-2 2 3 2 1 2 4 2 2 2 9 2 0 2 2 2 0 2-1 2-4 2 2 2 2 2 0 2 4 2 2 2-3 2-6 2-2 2 1 2 1 2 2 2 2 2-1 2-1 2 1 2 1 2 0 2 0 2-1 2-1 2 0 2 0 2 0 2 3 2 2 2 0 2-1 2 1 2 1 2 1 2 1 2 0 2 1 2 0 2 1 2 0 2 5 2 1 2 2 2 0 2-6 2-1 2-3 2 1 2 3 2 0 2-2 2 2 2-2 2-1 2-3 2-3 2 3 2-1 2 4 2 3 2-3 2 0 2-2 2-1 2-3 2 1 2-6 2-1 2 3 2 4 2-1 2-1 2-1 2 5 2 4 2 3 2-1 2 0 2-6 2 0 2-1 2 0 2 0 2-4 2 3 2-1 2 3 2-1 2-5 2 2 2-1 2 4 2-4 2-3 2-2 2 1 2 4 2 4 2 4 2 2 2 0 2-5 2-4 2 0 2 1 2-5 2-1 2-3 2 4 2-3 2-1 2 5 2-4 2 0 2-3 2-4 2-8 2 0 2-3 2-5 2-2 2 3 2 4 2 0 2 5 2 5 2 5 2 3 2 1 2-4 2-1 2 5 2-3 2 1 2 1 2 1 2 1 2 0 2 1 2-6 2 0 2 0 2-1 2-2 2 2 2 1 2-3 2 3 2-3 2 1 2-4 2-4 2-8 2-7 2-4 2-7 2-6 2-15 2-21 2-19 2-9 2-10 2-3 2 4 2 7 2 11 2 11 2 16 2 15 2 9 2 6 2 9 2 10 2 11 2 9 2 4 2 1 2-3 2 1 2 0 2-2 2-2 2-1 2-2 2-2 2 1 2-2 2 0 2-2 2 1 2-2 2 4 2 6 2-4 2 3 2 4 2 1 2 4 2 2 2 7 2-2 2-2 2 1 2-3 2 3 2 5 2-2 2 0 2 2 2-4 2 2 2 4 2 1 2-2 2-4 2-4 2-2 2-2 2-2 2 1 2-2 2 4 2 0 2 2 2 2 2-2 2 4 2-3 2-2 2 0 2 0 2-1 2-3 2-1 2 0 2 3 2 0 2 0 2 2 2-3 2 1 2 1 2-4 2-1 2-2 2-2 2-1 2-2 2-6 2-7 2-1 2-3 2-6 2-2 2-4 2-3 2 1 2 3 2 9 2 7 2 3 2 2 2-2 2 6 2 5 2 2 2 1 2 0 2-2 2 1 2 2 2 1 2 3 2-2 2-7 2-6 2-8 2-2 2-2 2 3 2-5 2-4 2-11 2-11 2-14 2-14 2-15 2-10 2-10 2-9 2-7 2-2 2 7 2 12 2 15 2 16 2 19 2 11 2 9 2 10 2 6 2 10 2 4 2 4 2 0 2 3 2-3 2 3 2 3 2-2 2 0 2 1 2 1 2 3 2 2 2-5 2-3 2 5 2 3 2 4 2-1 2 2 2-3 2 1 2-2 2-5 2-2 2 2 2 0 2-4 2 2 2 1 2-4 2 1 2 0 2 2 2 3 2 0 2 0 2 1 2-1 2 2 2 0 2 6 2 1 2 6 2-1 2-3 2 1 2 2 2-2 2-4 2-2 2 1 2-6 2 1 2 0 2-7 2-3 2-5 2-7 2-6 2-6 2-8 2-10 2-9 2-11 2-11 2-14 2-15 2-9 2-15 2-9 2-9 2-5 2 0 2 7 2 7 2 8 2 16 2 14 2 13 2 17 2 8 2 8 2 3 2 7 2 8 2 11 2 6 2 5 2 2 2 5 2 2 2 4 2-2 2 3 2 2 2-1 2 3 2 1 2-1 2 0 2-2 2-2 2-2 2-5 2 1 2-1 2-3 2-5 2-3 2-1 2 3 2-1 2 2 2 4 2 1 2 1 2 0 2-3 2 0 2 2 2 0 2 6 2-1 2 2 2-4 2-5 2-4 2-2 2 1 2 1 2 2 2 1 2-1 2-7 2-11 2-7 2-3 2-6 2-7 2-14 2-18 2-25 2-24 2-25 2-26 2-24 2-31 2-24 2-14 2-3 2 10 2 18 2 25 2 29 2 35 2 27 2 28 2 21 2 17 2 14 2 14 2 15 2 12 2 5 2 3 2 3 2 8 2 4 2 0 2 1 2 0 2 0 2 1 2-3 2 0 2 3 2 5 2 0 2 0 2-3 2-4 2 1 2 2 2-5 2 3 2 0 2 1 2 0 2 0 2 1 2-2 2-2 2-4 2 2 2 1 2 0 2 4 2-1 2-1 2 2 2 4 2 0 2 0 2-3 2-4 2 1 2 0 2 2 2 0 2 3 2 3 2 4 2 0 2-4 2 1 2 2 2-2 2-4 2-2 2-2 2 0 2 0 2 0 2 2 2 2 2 1 2-2 2-2 2-3 2 1 2 0 2 0 2 1 2 6 2 3 2-3 2-3 2 0 2 1 2 5 2 2 2-3 2-3 2 1 2 2 2-1 2 1 2 4 2-1 2 4 2-5 2-1 2 2 2-2 2-1 2 4 2 1 2-2 2 0 2-6 2 0 2-3 2-4 2-5 2 1 2-3 2 5 2 3 2 4 2 3 2 3 2 5 2 3 2 0 2 2 2-1 2-1 2-1 2-2 2-5 2 1 2 2 2 0 2 6 2 0 2-3 2 2 2-3 2 3 2 0 2-1 2 3 2 2 2 0 2 1 2-6 2-1 2-3 2-2 2-2 2 1 2 2 2-3 2 0 2-1 2-1 2 3 2-3 2 3 2 1L2364 908l-2-3 -2-2 -2 3 -2 1 -2 6 -2-4 -2-4 -2 1 -2-3 -2 3 -2-2 -2 4 -2 0 -2 4 -2 0 -2 6 -2-2 -2 1 -2 2 -2-4 -2 2 -2-4 -2 5 -2-2 -2 1 -2-1 -2 0 -2-3 -2-1 -2-2 -2 4 -2 1 -2 1 -2-1 -2 3 -2-5 -2-1 -2-1 -2-4 -2 1 -2 3 -2 0 -2-3 -2-1 -2 0 -2-3 -2 2 -2 4 -2 0 -2 0 -2 0 -2-1 -2 1 -2 0 -2-3 -2 3 -2 5 -2-4 -2 0 -2 4 -2-2 -2-1 -2-4 -2-2 -2 0 -2 1 -2 0 -2 1 -2 4 -2-4 -2-4 -2-2 -2 1 -2 1 -2-4 -2-1 -2-2 -2 3 -2 0 -2 0 -2-2 -2-2 -2 0 -2 4 -2 2 -2-2 -2 2 -2 2 -2 1 -2-1 -2 0 -2-3 -2 2 -2-1 -2-1 -2-2 -2 5 -2-2 -2-1 -2-1 -2 1 -2 2 -2 0 -2 0 -2-2 -2 0 -2-1 -2 2 -2-1 -2-2 -2 0 -2 1 -2-1 -2-6 -2 4 -2 2 -2 4 -2 1 -2-2 -2-3 -2 5 -2 2 -2-4 -2 1 -2 3 -2-1 -2 5 -2-4 -2-4 -2-3 -2 5 -2-3 -2 1 -2 3 -2-2 -2 0 -2-4 -2 5 -2 0 -2-2 -2-2 -2-1 -2 0 -2-5 -2 1 -2-2 -2-3 -2-4 -2 0 -2 0 -2-11 -2-3 -2-11 -2-12 -2-12 -2-18 -2-13 -2-11 -2-13 -2-3 -2-1 -2 2 -2 15 -2 14 -2 13 -2 9 -2 12 -2 13 -2 10 -2 7 -2 5 -2 2 -2-6 -2-1 -2 5 -2 2 -2 6 -2 1 -2 0 -2-5 -2 5 -2 3 -2-2 -2 0 -2 1 -2 4 -2-1 -2 1 -2-2 -2-2 -2-2 -2 4 -2-1 -2 3 -2 1 -2-1 -2-2 -2-3 -2 3 -2-3 -2 3 -2 0 -2-1 -2 2 -2 3 -2 2 -2 2 -2-2 -2 1 -2 2 -2 0 -2 3 -2-4 -2-3 -2-3 -2 4 -2 4 -2-1 -2-1 -2-2 -2-9 -2 1 -2-4 -2-1 -2-4 -2 1 -2-5 -2-3 -2-8 -2-7 -2-11 -2-8 -2-9 -2-6 -2-4 -2-6 -2 0 -2-2 -2 3 -2 3 -2 9 -2 9 -2 8 -2 8 -2 7 -2 8 -2 3 -2 5 -2 10 -2 7 -2 2 -2 1 -2 2 -2 3 -2 0 -2 5 -2 1 -2 0 -2 3 -2-4 -2 0 -2 4 -2-1 -2-1 -2 1 -2 1 -2 1 -2-3 -2 1 -2 0 -2-3 -2 2 -2 1 -2 3 -2-1 -2-1 -2-3 -2-3 -2 0 -2-5 -2 6 -2-2 -2-3 -2 3 -2 2 -2-5 -2 3 -2 7 -2 2 -2-4 -2 3 -2-6 -2 2 -2-5 -2 0 -2-2 -2 4 -2 1 -2-1 -2-5 -2 2 -2-4 -2-2 -2 3 -2 2 -2 2 -2-2 -2 0 -2-4 -2 2 -2-6 -2-4 -2-1 -2-6 -2-5 -2-2 -2-6 -2-12 -2-9 -2-10 -2-3 -2-5 -2 8 -2 5 -2 13 -2 5 -2 7 -2 6 -2 6 -2 4 -2 8 -2-5 -2 2 -2-2 -2 5 -2 2 -2 8 -2 3 -2 2 -2 1 -2 0 -2-2 -2 2 -2 1 -2-2 -2-3 -2 1 -2-2 -2-5 -2 0 -2 6 -2 0 -2-3 -2-5 -2-4 -2 4 -2-2 -2 4 -2-1 -2 2 -2 5 -2-2 -2-2 -2 0 -2 3 -2-1 -2 0 -2-2 -2-1 -2 5 -2-3 -2 2 -2-2 -2 4 -2-2 -2-2 -2-4 -2 0 -2 0 -2 5 -2 2 -2 0 -2 6 -2-2 -2 0 -2 1 -2-2 -2 0 -2 1 -2-1 -2 6 -2-2 -2 1 -2-1 -2 2 -2 1 -2 0 -2-3 -2 0 -2 0 -2 4 -2 2 -2-4 -2-1 -2-1 -2 1 -2 3 -2-1 -2-2 -2 0 -2 1 -2 3 -2-1 -2-5 -2 0 -2-2 -2 3 -2-4 -2-2 -2 3 -2-3 -2 0 -2 5 -2-4 -2 1 -2-1 -2-1 -2 1 -2 1 -2 2 -2-2 -2 0 -2 1 -2-3 -2 1 -2 2 -2 0 -2-3 -2-3 -2-7 -2 0 -2-4 -2-4 -2-1 -2-3 -2-12 -2-7 -2-4 -2-1 -2-1 -2-6 -2 4 -2 8 -2 12 -2 14 -2 2 -2 5 -2-1 -2 1 -2 3 -2 4 -2 0 -2-2 -2 2 -2 1 -2-2 -2 3 -2-4 -2 1 -2 1 -2-1 -2-3 -2 0 -2 4 -2-2 -2 1 -2 0 -2 3 -2-1 -2-3 -2 1 -2 0 -2-3 -2 6 -2 2 -2 0 -2 3 -2-7 -2-3 -2-1 -2-3 -2-4 -2-1 -2 3 -2 7 -2 0 -2 6 -2-4 -2 0 -2-3 -2 3 -2-1 -2 0 -2 4 -2 1 -2 1 -2 3 -2 1 -2-4 -2 0 -2 0 -2 3 -2 2 -2-1 -2 1 -2 1 -2-5 -2-1 -2 1 -2-1 -2 4 -2-5 -2-2 -2-1 -2 0 -2 2 -2-1 -2 1 -2 1 -2 6 -2-3 -2 1 -2 2 -2-2 -2 4 -2-7 -2-1 -2 0 -2-2 -2 0 -2 2 -2-3 -2 3 -2-3 -2 4 -2-4 -2 6 -2 0 -2-1 -2 1 -2 2 -2-6 -2 6 -2-2 -2 2 -2-3 -2-1 -2 1 -2 3 -2-1 -2 6 -2 2 -2 0 -2 0 -2-1 -2-5 -2-4 -2 1 -2 6 -2-2 -2-1 -2 2 -2-6 -2 3 -2-1 -2 2 -2-3 -2 3 -2 4 -2-7 -2-1 -2-3 -2 2 -2-4 -2 6 -2-3 -2 1 -2-2 -2 1 -2-1 -2-2 -2-2 -2 1 -2 2 -2 2 -2-4 -2 2 -2-7 -2-1 -2 1 -2 3 -2 1 -2 4 -2 1 -2 0 -2-5 -2 4 -2-1 -2 3 -2-1 -2 1 -2 1 -2 2 -2 2 -2-4 -2-5 -2 1 -2-1 -2-3 -2 1 -2 3 -2-2 -2-7 -2-5 -2-1 -2 3 -2-2 -2-1 -2 0 -2 5 -2 0 -2 2 -2-1 -2-1 -2-2 -2 1 -2-1 -2-1 -2 0 -2-3 -2 0 -2 2 -2 5 -2-1 -2 4 -2 3 -2-1 -2 2 -2-5 -2 3 -2-1 -2 3 -2 3 -2-2 -2-2 -2 1 -2-2 -2-2 -2 6 -2 2 -2-6 -2 4 -2 0 -2-2 -2 2 -2-1 -2 1 -2-2 -2 1 -2-2 -2 6 -2 1 -2-2 -2 0 -2 5 -2 0 -2 0 -2 1 -2-1 -2-2 -2-2 -2-1 -2 0 -2 5 -2 2 -2-6 -2 2 -2 6 -2 5 -2-3 -2 1 -2 0 -2-1 -2-4 -2 2 -2 3 -2-3 -2-3 -2-4 -2-1 -2 1 -2 3 -2 2 -2-1 -2-4 -2 1 -2-2 -2-1 -2-2 -2 3 -2-4 -2 1 -2 0 -2 0 -2 4 -2 1 -2-5 -2 2 -2-4 -2 3 -2 1 -2 4 -2-3 -2-1 -2 2 -2 0 -2-4 -2 2 -2 0 -2 2 -2-2 -2 1 -2 1 -2 2 -2-7 -2 1 -2-3 -2 6 -2 0 -2-1 -2 1 -2 5 -2 0 -2-4 -2-2 -2 1 -2-2 -2-5 -2 3 -2 0 -2-1 -2 2 -2 0 -2-1 -2 1 -2 3 -2-3 -2-1 -2 4 -2 0 -2-2 -2 3 -2 0 -2 0 -2 1 -2-5 -2 4 -2 1 -2 1 -2-1 -2 2 -2 0 -2 1 -2-1 -2 2 -2-5 -2 5 -2-1 -2 2 -2-1 -2 0 -2 6 -2-5 -2 2 -2 4 -2-3 -2-1 -2 3 -2-5 -2 6 -2 2 -2 2 -2-5 -2 1 -2-2 -2 0 -2-2 -2-4 -2 0 -2-1 -2 5 -2 1 -2 0 -2-5 -2 1 -2-1 -2 1 -2 2 -2-1 -2-3 -2 1 -2 2 -2 4 -2-6 -2 0 -2 3 -2-3 -2 3 -2 1 -2-1 -2 6 -2-3 -2-1 -2 1 -2-5 -2 2 -2 1 -2-9 -2 3 -2 1 -2 2 -2 2 -2-1 -2-2 -2 1 -2-1 -2-3 -2-1 -2 1 -2-2 -2 0 -2-4 -2 2 -2 3 -2-4 -2 5 -2 0 -2 4 -2-2 -2-1 -2-1 -2 4 -2-1 -2-3 -2 0 -2 5 -2 1 -2-1 -2-1 -2-1 -2 2 -2-1 -2-1 -2-1 -2 0 -2 3 -2-5 -2 2 -2-5 -2 0 -2-3 -2-2 -2 4 -2 3 -2 2 -2-3 -2 2 -2-1 -2 6 -2-3 -2 0 -2 0 -2 0 -2-4 -2 3 -2 3 -2 1 -2 3 -2-4 -2-4 -2 2 -2-3 -2 4 -2-1 -2-3 -2 1 -2 5 -2 1 -2 2 -2-1 -2-7 -2 0 -2 1 -2 0 -2-2 -2-4 -2 0 -2 4 -2 0 -2 3 -2-3 -2-2 -2 4 -2 1 -2-6 -2-6 -2 3 -2 2 -2 1 -2 0 -2 2 -2 1 -2 7 -2-1 -2 4 -2-6 -2-1 -2 0 -2 1 -2-3 -2 4 -2 5 -2-1 -2-5 -2-1 -2 4 -2-2 -2-2 -2 1 -2-1 -2 3 -2 1 -2 3 -2 2 -2-6 -2-2 -2 2 -2 3 -2-4 -2 1 -2 3 -2 1 -2-1 -2-5 -2 1 -2 0 -2 3 -2-2 -2 1 -2-1 -2 0 -2-2 -2-2 -2 0 -2 6 -2-4 -2-1 -2-4 -2-1 -2 0 -2 0 -2 6 -2 1 -2 0 -2-4 -2-2 -2 3 -2 1 -2-2 -2-2 -2 0 -2 1 -2 0 -2 2 -2 0 -2 0 -2-3 -2 2 -2 6 -2-1 -2-2 -2 0 -2 5 -2-4 -2-2 -2-3 -2-1 -2 2 -2 1 -2 1 -2 4 -2-4 -2-2 -2 2 -2-2 -2 4 -2 0 -2-3 -2 1 -2-4 -2 4 -2-3 -2 1 -2 3 -2 2 -2-4 -2-3 -2-5 -2-2 -2 1 -2 7 -2-1 -2-1 -2 0 -2 3 -2 1 -2-7 -2 6 -2 0 -2 0 -2 1 -2 0 -2-3 -2-1 -2 3 -2 2 -2 2 -2-5 -2-1 -2 0 -2 2 -2-6 -2-2 -2 5 -2-1 -2 2 -2 1 -2-2 -2 6 -2 0 -2-1 -2 0 -2 2 -2-3 -2-1 -2 5 -2 1 -2-5 -2-3 -2 4 -2 0 -2 1 -2 1 -2 2 -2-1 -2-3 -2-2 -2-2 -2 0 -2 5 -2 6 -2 0 -2-4 -2-4 -2-1 -2-4 -2 3 -2 7 -2-2 -2 2 -2 4 -2-1 -2-3 -2-4 -2 3 -2 2 -2-2 -2-5 -2 0 -2 1 -2-1 -2 1 -2-1 -2 1 -2 1z" fill="url(#pat10l)"/>
<path d="M1068 835l2 1 2 1 2-7 2-8 2-7 2-13 2-14 2-4 2 3 2 5 2 10 2 8 2 3 2 7 2 0 2 0 2-4L1102 817l-2 3 -2 0 -2 0 -2-7 -2 0 -2-2 -2-9 -2 0 -2-1 -2 1 -2 10 -2 12 -2 1 -2 6 -2 6 -2 1 -2-1z" fill="url(#pat10s)"/>
<g fill="none" stroke="#808000" stroke-width="2.0" stroke-dasharray="3 2"><path d="M174 898l2 7 2-51 2 14 2 36 2 8 2-7 2 13 2-61 2 40 2-21 2 45 2-6 2-64 2 55 2-6 2-1 2 14 2-19 2-31 2-14 2 53 2-7 2-27 2 44 2-16 2-34 2 51 2-11 2-35 2-18 2 60 2 11 2-68 2 24 2-9 2-12 2 9 2 5 2 29 2 22 2-23 2 12 2-15 2-30 2 2 2 39 2-51 2 26 2 37 2-71 2-4 2 57 2-42 2 31 2-10 2 28 2-29 2 15 2-50 2 46 2-33 2 29 2-37 2 37 2-40 2 55 2-39 2 41 2-30 2-21 2-11 2 4 2 26 2-6 2 31 2-56 2 38 2 36 2-29 2-42 2 55 2 15 2-52 2-13 2 53 2 12 2-59 2 43 2 2 2 8 2-44 2 3 2 26 2 29 2-16 2-45 2-5 2 66 2-16 2-49 2 57 2-43 2 45 2-3 2-57 2 8 2 54 2-5 2 10 2-28 2-44 2 33 2 11 2-30 2-12 2 43 2-34 2 9 2-5 2 48 2-48 2-6 2 29 2-12 2 28 2 8 2-62 2 50 2 22 2-61 2 52 2-6 2 8 2-5 2-53 2 64 2-14 2-43 2 35 2-24 2-22 2 68 2-64 2 56 2 7 2 1 2-7 2-8 2-20 2-33 2 22 2 24 2-7 2 27 2-51 2-4 2 13 2 21 2-45 2-2 2 2 2 37 2-4 2-29 2 60 2-51 2-10 2 16 2-14 2 58 2 1 2-31 2 28 2-50 2 45 2-3 2-47 2 37 2-8 2-29 2 27 2 13 2 17 2-21 2-36 2-12 2 25 2 24 2-13 2 35 2-68 2 26 2 6 2 2 2 38 2-34 2 19 2-21 2 22 2-2 2 10 2-55 2 6 2-17 2 8 2 60 2-3 2 6 2-40 2 7 2 34 2-32 2 16 2-10 2 17 2-4 2 5 2-34 2 15 2 17 2-58 2 54 2-6 2 14 2-17 2-31 2 6 2 42 2 6 2-35 2-7 2-17 2 31 2 31 2-42 2 22 2-5 2-45 2 66 2 0 2 2 2-59 2 21 2-11 2 13 2 32 2-49 2 13 2-15 2 44 2-18 2 14 2 3 2-5 2-7 2-39 2 3 2-15 2 46 2 20 2-46 2 42 2 11 2-48 2 39 2-33 2-19 2 58 2-53 2 48 2-7 2 8 2-1 2-5 2-34 2 28 2-23 2-17 2-4 2 27 2 26 2-24 2 30 2 6 2-2 2-56 2-12 2 59 2 13 2-66 2 11 2 12 2 12 2 17 2-56 2 64 2-20 2-40 2 5 2 63 2-70 2 69 2-71 2 60 2 4 2-15 2-10 2-26 2-5 2 20 2 34 2-36 2-23 2 15 2-6 2 45 2-62 2 8 2 36 2 7 2-25 2-20 2 3 2-9 2-1 2-1 2 28 2-29 2 28 2-28 2 58 2-47 2 56 2-42 2-20 2 51 2-2 2-17 2 6 2 20 2-25 2 3 2-1 2 24 2-67 2 57 2-23 2 25 2-59 2 20 2-5 2 36 2-37 2 30 2 17 2-5 2-53 2 37 2 5 2 6 2-23 2-18 2 49 2-8 2-46 2 59 2-50 2 48 2-60 2 72 2-22 2-7 2 7 2-3 2 13 2 8 2-25 2 27 2-48 2-24 2 26 2-1 2 5 2 30 2-26 2-5 2 29 2 13 2-52 2-5 2 58 2 4 2-8 2-28 2-26 2 46 2-40 2-13 2 55 2 16 2-67 2 0 2 0 2 16 2 53 2-8 2-27 2 20 2-8 2-27 2-14 2 56 2-2 2-33 2 39 2-6 2-37 2 32 2-11 2 2 2 3 2-44 2 31 2-14 2 27 2 6 2-62 2 66 2 0 2-58 2 44 2-10 2-42 2 61 2-15 2 21 2-17 2-3 2-48 2 14 2 48 2 0 2-22 2-28 2 12 2-11 2 43 2-61 2 26 2-9 2 34 2-2 2-8 2-62 2 21 2 1 2 31 2-37 2-2 2 10 2 45 2-23 2-30 2 8 2 54 2-15 2 16 2-68 2 65 2-26 2 2 2 9 2 23 2-12 2 7 2-25 2 20 2-45 2 0 2 62 2-3 2 8 2-8 2-59 2 62 2-51 2 40 2-19 2 16 2-41 2 13 2 42 2 1 2-58 2 11 2 14 2 16 2-20 2-14 2 14 2 40 2-42 2-25 2 50 2-31 2 32 2-3 2-47 2 21 2-3 2 20 2 18 2-52 2 27 2 7 2 11 2-23 2-4 2 23 2-43 2 12 2-1 2 57 2-42 2-9 2 18 2-11 2 47 2-37 2-19 2 48 2 10 2-51 2 37 2-53 2 28 2-18 2-12 2 24 2 40 2-53 2 32 2-28 2 25 2-35 2 11 2 29 2 4 2-32 2 11 2 9 2-30 2-9 2 6 2-11 2 54 2 16 2-28 2 23 2-5 2 7 2-55 2 45 2-33 2-13 2 48 2-29 2-32 2 14 2-1 2 47 2-28 2-3 2 25 2-50 2 4 2-3 2 46 2-42 2 11 2-12 2 8 2 52 2-61 2 26 2-23 2 44 2-30 2 7 2-13 2 25 2-23 2 4 2 19 2-34 2 20 2-6 2 33 2 5 2-67 2-9 2 9 2 59 2-28 2 30 2-65 2 12 2 44 2-19 2-25 2 28 2 34 2-3 2-40 2 28 2-23 2 3 2-32 2 17 2-14 2 66 2-6 2-54 2 58 2 0 2-61 2 61 2-55 2 10 2 32 2 1 2-41 2 9 2 26 2-45 2-2 2 55 2-26 2-6 2-51 2-12 2 55 2-40 2 17 2 6 2 4 2-37 2 14 2 37 2 2 2-1 2 28 2-62 2 67 2-9 2-31 2 49 2 7 2-47 2 7 2-18 2 31 2 30 2-62 2 11 2 39 2-57 2 65 2-12 2-39 2 21 2 28 2-39 2 22 2 9 2-40 2 45 2-54 2 9 2 18 2 11 2 26 2-43 2-7 2 25 2 14 2-15 2-10 2 29 2-28 2 27 2 7 2-35 2-11 2 51 2-29 2-9 2-14 2 44 2-19 2-42 2 20 2-2 2-12 2 14 2 29 2-54 2 27 2 41 2-54 2-4 2 16 2 40 2-40 2 11 2 13 2-49 2 28 2 29 2-13 2-32 2 2 2-6 2-5 2 36 2-37 2 5 2-10 2 20 2 21 2-23 2 33 2-23 2 11 2 3 2-40 2 46 2-35 2 14 2 14 2-10 2 21 2-48 2 35 2-39 2 65 2-51 2 38 2-52 2 35 2 30 2-53 2 42 2 1 2 3 2-51 2 42 2-19 2 24 2-30 2 18 2 1 2-15 2-47 2 6 2 5 2-2 2-4 2-34 2 4 2-19 2 3 2 8 2-26 2 51 2-21 2 36 2 13 2 13 2-1 2 1 2 22 2-16 2 26 2 3 2 2 2-16 2-24 2-8 2 2 2 45 2-5 2-7 2 3 2 7 2-24 2-9 2 54 2-12 2-42 2 35 2 0 2-1 2-38 2 52 2-50 2 50 2-54 2 50 2 1 2-58 2 66 2-7 2-35 2-14 2 3 2 6 2-13 2 61 2-54 2 51 2-4 2-9 2-44 2 57 2-3 2-40 2 52 2-10 2 0 2-57 2 58 2 6 2-63 2 3 2 21 2 5 2-13 2 37 2 6 2-9 2 1 2-32 2-22 2 25 2-41 2 27 2 8 2-28 2-41 2 28 2 8 2-28 2-27 2 17 2 12 2-27 2 3 2-14 2 35 2-44 2 55 2-44 2 18 2 3 2 2 2 21 2 52 2-39 2 7 2-2 2-2 2 50 2-34 2-12 2 59 2-14 2-42 2 56 2-41 2 17 2 36 2-21 2-12 2-7 2 22 2-12 2-12 2-9 2 16 2 9 2-36 2-8 2 4 2 10 2 39 2-51 2 34 2 10 2-43 2 39 2-7 2-37 2 49 2 1 2-40 2 55 2-45 2-16 2 53 2-62 2 59 2-38 2 2 2-1 2-9 2 46 2-4 2-53 2-12 2-5 2 40 2-42 2 10 2 36 2-66 2-5 2 43 2-58 2 3 2 7 2-13 2-16 2-69 2 12 2 4 2 43 2 22 2 13 2-29 2 56 2 21 2-8 2 35 2-31 2 48 2 17 2-16 2-1 2-36 2 65 2-23 2 9 2-6 2 22 2-18 2-18 2-11 2 49 2-13 2-24 2-3 2-11 2 39 2-11 2-23 2-13 2 11 2-12 2 57 2-54 2 60 2-6 2-38 2-11 2 26 2 6 2-36 2 11 2 48 2-64 2 11 2 4 2 43 2-7 2-32 2 22 2 4 2-49 2 35 2-31 2-2 2 2 2 10 2 48 2 0 2-27 2 32 2-62 2 33 2-22 2 50 2-57 2 52 2 0 2 7 2-62 2 36 2-32 2 55 2-10 2 12 2-58 2 60 2-7 2-45 2 29 2-24 2-13 2 2 2 12 2 48 2-22 2-40 2 6 2 4 2 17 2 33 2-2 2-11 2-45 2 33 2 21 2-14 2-36 2 55 2 9 2-19 2-41 2 45 2-34 2 1 2 27 2-18 2-5 2 13 2-30 2-8 2 20 2 5 2-15 2-13 2 56 2-40 2-16 2 39 2-23 2 44 2-7 2-49 2 65 2-7 2-30 2 5 2 28 2-61 2-1 2 3 2-1 2 5 2 23 2 22 2-26 2-18 2 24 2-10 2 49 2-25 2-6 2-38 2 58 2 13 2-42 2-11 2 26 2-18 2 23 2 4 2 0 2-38 2 6 2-25 2 2 2 34 2-6"/><path d="M174 900l2-50 2 62 2-1 2-45 2-8 2 54 2-65 2 62 2-60 2 41 2-26 2 36 2 7 2-7 2 12 2-17 2 2 2 7 2-6 2-5 2-45 2 16 2 14 2 14 2-20 2-20 2-5 2 64 2-45 2 38 2 16 2-4 2-28 2 4 2 31 2-59 2 9 2-13 2 9 2 46 2-19 2-29 2 52 2-26 2-11 2-23 2 61 2 0 2-50 2-17 2 54 2-35 2 38 2-4 2-5 2-3 2 3 2 12 2-32 2 19 2 11 2-20 2-33 2 58 2-14 2 10 2-19 2 6 2-43 2 3 2 32 2-9 2 25 2-35 2-26 2 26 2 10 2-18 2-9 2 55 2-3 2-44 2 42 2-43 2-9 2 63 2-1 2-44 2 20 2-24 2 46 2-28 2-12 2-6 2-3 2-15 2 9 2 19 2-15 2-5 2-11 2 24 2 33 2-1 2-47 2 35 2-3 2 33 2-62 2 39 2-11 2-1 2-21 2-20 2 11 2 20 2-24 2 41 2-44 2 64 2-55 2 16 2-27 2 34 2-19 2-2 2-11 2 63 2-55 2 63 2-46 2 40 2-7 2-30 2 19 2-37 2 20 2 24 2-51 2 64 2-57 2 16 2 37 2-53 2 65 2-40 2-21 2-2 2 2 2 10 2 1 2-6 2-1 2 54 2-69 2 22 2-14 2 36 2-34 2 49 2-54 2 62 2-58 2 23 2 32 2-62 2 22 2 24 2 3 2 9 2-12 2 9 2-4 2-34 2-2 2-13 2-3 2-9 2 61 2-53 2 63 2-5 2-4 2-51 2 1 2 52 2-60 2-5 2 20 2-16 2 16 2 5 2 8 2 38 2 7 2-59 2-2 2 0 2 53 2-63 2 60 2-43 2 5 2-18 2 1 2 39 2-43 2 28 2-7 2 43 2-5 2-46 2 19 2 28 2-9 2 16 2-41 2-16 2 45 2 4 2-59 2 56 2-60 2 15 2 31 2-8 2 24 2-32 2-30 2 61 2-6 2-41 2 42 2 2 2-16 2-32 2 65 2-47 2 37 2-52 2 49 2-39 2 45 2-42 2-7 2 9 2 30 2 12 2-47 2 38 2-13 2-16 2-7 2 13 2-21 2-8 2 4 2 41 2 6 2-31 2 40 2-62 2 21 2-25 2 57 2 14 2-10 2 14 2-2 2-69 2 28 2-19 2 6 2 36 2-21 2-25 2-3 2 64 2-65 2 61 2 5 2-70 2 10 2 33 2-22 2 31 2-40 2 54 2-32 2 0 2 4 2 7 2 25 2-7 2-5 2-42 2 7 2-5 2 40 2 18 2-68 2 3 2 55 2-38 2-7 2-12 2 52 2-55 2 3 2 39 2-31 2 36 2 3 2-49 2 8 2 50 2-2 2-20 2 12 2-53 2 18 2 51 2-61 2 55 2 1 2-22 2-40 2 43 2 11 2-22 2 28 2-53 2 23 2-21 2 10 2 18 2-36 2 28 2 12 2-28 2 38 2-17 2 9 2-37 2 44 2-51 2 39 2-46 2 31 2-27 2-3 2 49 2-16 2 30 2-38 2-5 2-22 2 21 2 46 2-58 2 38 2-42 2 66 2-35 2 33 2-62 2 16 2 36 2-9 2 10 2-48 2 31 2 26 2-31 2-26 2 11 2-18 2 57 2-25 2 2 2-31 2 32 2 0 2 30 2-60 2 55 2-65 2 58 2 8 2-19 2-27 2 23 2-9 2-33 2 23 2 26 2 13 2-56 2 12 2 35 2-32 2-10 2 38 2-15 2-4 2-24 2 45 2-31 2 0 2 46 2 6 2-59 2 0 2 41 2-25 2 20 2 15 2-8 2-50 2 57 2-36 2 29 2-9 2-18 2-1 2 27 2-39 2 3 2 40 2 9 2-13 2-7 2 2 2-42 2 12 2-11 2 22 2-38 2 13 2 17 2-28 2 13 2-14 2 21 2-18 2 61 2-47 2-13 2 43 2 7 2-64 2 4 2 21 2-27 2 12 2-29 2 41 2-28 2 59 2-24 2-2 2 33 2-63 2 36 2-1 2 4 2-45 2 37 2 2 2 29 2-1 2-4 2-6 2 8 2 14 2-10 2-2 2-4 2 5 2 11 2-57 2 35 2-5 2-17 2 38 2 8 2-29 2-13 2 34 2-41 2 54 2 1 2-53 2-6 2 21 2-29 2 59 2 8 2-56 2-1 2 8 2 24 2-22 2-7 2 25 2 21 2-41 2 25 2-39 2 53 2-33 2 20 2-37 2 66 2 2 2-62 2 42 2-37 2 6 2-16 2 38 2-26 2 49 2-54 2 55 2-55 2 9 2 31 2-35 2-2 2 62 2-37 2 22 2 10 2-20 2 7 2 7 2 7 2-65 2 55 2-48 2 36 2 9 2-52 2 52 2-8 2 12 2-2 2 1 2-50 2 34 2 0 2 7 2-42 2 9 2 23 2 19 2 10 2-6 2-51 2 52 2-26 2 19 2-12 2-6 2 23 2-30 2-4 2 30 2-39 2 6 2 13 2 10 2-21 2-13 2 45 2-5 2-49 2 67 2-39 2 17 2-31 2-19 2 6 2 24 2-31 2 12 2 24 2-17 2 28 2-27 2-9 2 10 2-11 2-15 2 40 2-4 2 16 2 0 2-58 2-1 2 30 2-47 2 33 2-24 2 51 2 11 2-34 2 48 2-6 2-11 2 0 2-23 2 7 2 32 2-42 2 37 2 5 2 7 2-53 2 50 2-1 2-58 2 34 2-16 2 4 2 13 2-41 2 8 2 0 2 37 2-7 2-4 2-26 2 35 2-49 2 3 2 31 2-56 2-15 2-2 2 9 2-2 2-13 2 7 2-10 2 23 2-31 2 52 2-43 2 38 2-17 2 6 2 20 2 28 2-11 2 6 2 14 2 21 2-1 2-51 2 1 2 63 2-22 2-21 2-10 2-5 2-2 2 54 2-1 2-63 2 53 2-61 2 12 2 38 2 7 2-4 2 19 2-32 2-18 2 56 2-16 2 9 2-34 2 28 2 10 2-44 2-3 2 49 2-14 2 21 2-3 2-1 2-7 2 0 2 0 2-5 2-15 2 21 2-16 2-35 2 58 2-16 2 1 2-10 2-3 2 9 2-39 2 43 2 2 2-30 2 35 2-49 2-3 2-5 2 33 2-26 2 32 2-34 2 40 2-3 2-26 2 9 2 1 2-21 2 61 2-47 2-25 2 35 2 24 2-38 2-27 2 63 2-13 2-13 2 5 2-40 2-10 2 46 2-41 2 29 2 24 2-37 2 12 2 11 2-37 2 72 2 0 2 2 2-33 2 34 2-69 2 36 2-16 2 41 2-64 2 8 2 0 2 33 2 0 2-18 2-28 2 49 2-42 2 30 2-26 2-37 2-1 2-17 2 17 2 10 2-21 2-19 2 15 2-18 2-14 2 20 2 55 2-42 2 24 2 42 2 2 2-43 2 24 2 46 2 6 2-55 2 61 2-56 2 54 2-42 2 23 2 17 2 14 2 2 2-9 2-32 2-25 2 51 2-25 2-25 2 59 2-39 2-8 2 43 2-2 2 13 2-3 2-66 2 34 2 28 2-7 2-48 2 13 2 38 2-62 2 61 2 9 2-6 2-7 2-15 2-41 2 16 2 7 2 40 2 7 2 7 2-51 2-9 2 28 2-35 2 14 2 37 2-1 2 12 2-6 2-8 2-12 2-40 2 1 2 18 2 24 2-58 2-9 2 42 2-34 2-28 2 39 2-25 2 7 2 4 2-25 2-13 2-11 2-16 2 8 2 4 2-57 2-4 2 21 2 2 2 67 2-23 2 27 2 31 2-26 2 44 2-45 2-4 2 28 2 35 2 11 2 4 2-16 2-23 2 6 2-17 2 33 2-30 2 44 2 14 2-12 2-30 2 54 2-58 2 13 2-7 2 29 2-46 2 58 2-56 2 36 2 20 2-64 2 19 2 22 2 18 2-13 2-51 2 23 2 1 2-5 2 41 2 5 2-18 2 0 2-35 2 9 2 42 2-22 2-29 2 39 2-48 2 23 2-28 2 62 2 4 2-21 2-15 2-19 2-12 2-11 2-3 2 6 2-26 2 30 2-6 2-21 2-68 2-40 2-32 2 28 2-52 2-17 2-11 2 55 2-18 2 7 2 86 2 14 2 24 2 45 2 3 2-11 2 0 2 32 2 15 2 14 2-31 2 12 2 0 2 23 2-28 2 34 2 15 2-52 2 30 2 7 2 14 2 4 2-16 2-26 2 49 2-43 2 16 2-32 2 58 2 6 2-59 2 45 2-26 2-3 2-7 2 40 2-47 2 15 2-15 2 53 2-21 2-36 2 63 2-56 2 14 2 28 2 17 2-4 2-33 2 26 2-56 2 25 2-22 2 46 2-25 2-7 2 30 2 15 2-44 2 41 2-9 2-11 2-27 2-4 2-5 2 63 2-11 2-39 2 25 2-25 2 14 2 29 2-55 2 17 2-4 2 43 2-64 2 57 2-49 2 46 2 4 2-25 2-14 2 35 2 2 2-33 2 7 2-9 2 23 2 9 2 10 2 0 2 2 2 6 2-16 2-1 2-18 2 43 2-5 2-11 2 5 2 14 2-69 2 41 2 18 2-54 2 56 2-35 2-36 2 54 2 4 2-42 2 42 2 5 2-54 2 42 2-5 2-3 2-19 2-16 2 60 2 9 2-25 2-39 2 60 2-32 2 17 2 17 2-34 2-16 2 27 2 8 2-27 2 11 2 6 2-32 2 21 2-18 2 10 2-14 2 40 2-22 2 47 2-47 2 39 2-26 2 23 2-52 2 2 2 34 2-41 2 56 2-40 2 43 2-19 2-17 2 24"/><path d="M174 858l2 36 2-41 2 8 2 5 2 48 2-50 2 52 2-7 2-19 2-38 2 64 2 1 2 4 2-42 2 39 2-45 2-19 2 21 2-28 2 67 2-15 2-29 2-9 2 53 2-43 2 26 2 14 2-14 2 13 2-49 2 49 2 8 2-32 2-31 2 7 2 37 2 9 2 7 2 4 2-32 2 31 2-40 2 28 2-41 2 15 2 24 2-41 2 52 2-8 2-14 2-46 2 65 2-14 2-13 2 28 2-27 2 11 2-38 2 55 2-16 2 3 2-45 2 58 2-64 2 62 2-4 2-42 2-12 2 50 2-6 2-11 2-17 2-24 2 49 2-8 2-28 2 4 2 39 2-44 2 30 2-21 2-20 2 69 2-64 2 62 2-39 2 14 2-42 2 66 2-55 2-11 2 3 2 22 2-12 2 16 2-10 2-13 2 17 2 38 2-61 2 7 2-2 2 55 2-36 2 40 2-29 2 32 2-33 2-8 2 8 2-27 2 50 2-39 2 46 2-64 2 53 2 3 2-26 2 9 2 25 2-38 2 29 2-2 2 15 2-66 2 53 2-8 2-26 2 22 2 23 2-56 2 42 2-32 2-9 2-10 2 27 2-14 2 33 2 22 2-60 2 28 2 19 2-1 2 12 2-26 2 26 2-19 2 21 2-35 2 34 2-22 2 16 2-59 2 19 2 41 2-59 2 47 2-30 2 5 2-20 2 5 2-3 2 2 2 41 2-29 2 8 2-15 2 29 2 14 2 4 2 2 2-61 2 24 2-7 2 42 2-65 2 2 2 2 2 26 2 3 2-27 2 0 2 0 2 54 2-30 2 39 2 3 2-71 2 64 2 9 2-33 2 15 2-23 2 32 2-56 2-1 2 29 2 35 2 4 2-37 2-35 2 4 2 34 2 17 2-21 2-26 2 45 2 0 2 15 2-46 2 26 2-35 2-4 2-3 2 53 2-61 2 54 2-54 2 41 2-33 2 60 2-51 2 3 2 17 2 32 2-37 2-33 2 43 2-34 2 53 2-34 2-4 2 52 2-53 2 35 2 9 2 4 2-30 2-26 2 5 2-13 2 22 2 42 2-45 2-19 2 9 2 1 2 7 2-18 2 14 2 29 2-15 2 34 2-11 2-22 2 4 2-30 2 54 2-31 2 17 2-42 2 2 2 24 2 18 2 11 2-49 2 34 2 22 2-12 2-46 2 21 2-6 2-16 2 61 2 5 2-52 2 20 2-32 2 52 2-2 2-49 2 2 2 32 2-45 2 28 2 32 2-27 2-14 2 52 2-66 2 20 2 45 2-36 2-22 2 62 2-6 2 8 2-38 2 24 2-43 2 11 2-5 2-18 2 22 2-5 2 2 2 3 2-17 2 62 2-13 2 3 2-52 2 50 2-40 2 43 2 0 2-65 2 15 2 4 2 8 2 2 2-4 2 32 2-46 2 0 2 6 2 29 2-35 2 36 2-17 2 36 2-13 2 6 2-58 2 36 2 22 2-9 2-44 2 23 2-26 2 1 2 43 2-25 2 24 2 10 2-44 2 23 2 7 2 5 2-23 2-26 2 54 2-39 2-3 2 17 2 10 2-21 2 43 2-19 2 22 2 4 2-41 2 23 2-22 2 31 2-17 2 13 2-42 2-15 2 22 2 43 2-39 2 37 2 2 2-24 2-38 2 16 2 24 2-30 2-14 2 71 2-66 2 42 2 15 2-19 2-13 2 19 2 4 2-23 2 9 2 32 2-27 2-24 2-14 2 61 2-10 2 7 2-20 2 24 2-4 2 6 2-5 2-34 2 28 2 17 2-50 2-3 2 54 2-17 2-51 2 54 2 10 2-62 2 1 2 45 2-23 2 13 2-2 2 4 2-37 2 3 2 7 2 41 2-4 2-58 2 60 2-36 2 12 2-20 2 20 2 21 2-2 2-35 2-21 2 49 2-46 2 43 2 20 2-6 2-54 2 8 2 5 2 38 2-5 2 15 2-31 2 4 2 20 2-57 2-8 2-5 2-5 2 1 2 11 2-40 2 11 2 8 2 34 2 12 2-9 2 12 2 12 2-45 2 24 2 21 2-61 2 56 2-17 2 27 2-17 2 22 2-54 2 11 2 2 2 20 2 20 2-49 2 53 2 0 2-10 2 26 2-69 2 26 2-24 2 33 2 38 2-12 2-36 2-22 2 26 2-23 2 8 2 56 2-57 2 21 2-7 2 3 2 22 2-23 2 37 2-40 2-19 2 45 2-45 2 48 2-21 2 16 2 10 2 16 2-23 2-19 2-7 2 46 2-52 2 50 2-10 2-4 2-30 2 50 2-62 2 18 2-4 2-11 2 0 2 2 2 4 2 57 2-55 2 2 2 53 2-19 2-18 2 35 2-27 2 17 2-49 2 36 2-32 2 43 2-41 2-4 2 12 2 37 2-39 2-18 2 14 2 27 2-50 2 39 2-17 2 32 2-31 2 35 2 13 2-34 2-26 2 40 2-50 2 29 2 37 2 1 2-33 2 31 2-36 2 25 2-22 2-28 2 51 2-39 2 41 2-45 2 49 2-60 2 16 2 35 2 20 2-30 2-16 2 38 2 3 2-19 2 15 2-16 2-4 2-17 2-1 2 8 2-19 2 19 2 32 2-64 2 53 2-39 2 40 2-26 2 7 2-18 2 6 2-21 2-23 2 2 2 18 2-32 2 49 2-29 2-15 2 47 2-34 2 49 2-31 2 52 2-45 2 47 2-63 2 14 2-16 2 13 2 39 2-43 2-5 2 37 2-22 2-9 2 58 2-12 2-32 2-17 2 13 2-10 2 57 2-61 2 9 2 7 2 35 2-25 2-50 2 1 2 5 2 22 2-22 2-41 2-26 2 3 2 15 2-18 2-11 2-32 2 18 2 29 2 30 2 13 2 14 2 39 2-30 2-3 2 56 2 8 2-12 2 11 2-25 2 34 2-31 2-6 2 32 2-5 2 13 2-19 2 4 2-9 2-7 2 7 2-40 2 37 2-2 2-51 2 67 2-57 2 43 2 17 2-36 2 33 2 15 2-56 2 49 2-10 2 12 2-4 2-24 2-5 2 47 2-8 2-8 2-1 2 11 2-36 2 42 2-44 2 40 2-24 2 26 2-35 2 23 2 8 2-8 2 7 2-1 2 3 2-25 2 30 2-5 2-8 2 5 2-5 2-9 2-42 2 30 2-8 2-9 2 20 2 28 2-40 2-16 2 25 2 27 2-40 2-27 2 23 2-20 2 2 2 16 2 26 2-2 2-15 2-8 2 19 2-70 2 29 2-16 2 42 2-49 2 54 2-16 2-20 2 35 2-33 2 40 2-14 2 10 2-12 2 39 2 4 2-54 2 49 2-47 2 48 2 0 2-28 2 7 2-32 2 27 2-55 2 20 2 23 2-40 2 30 2-56 2-8 2 33 2-43 2-32 2-6 2-27 2 64 2-62 2 35 2-17 2 60 2-30 2 58 2-34 2 51 2 18 2-33 2 58 2-55 2 57 2-18 2 23 2 3 2-57 2 1 2 12 2 28 2-11 2-24 2 42 2-29 2 37 2 14 2-6 2-48 2 34 2-22 2 20 2-31 2-10 2 46 2-7 2 20 2-19 2 11 2-35 2-8 2 32 2-28 2 46 2-36 2-19 2 9 2 30 2 16 2-62 2 59 2-35 2 5 2 42 2-63 2 20 2 2 2 5 2 26 2-40 2 5 2 44 2-56 2 54 2-7 2-5 2-62 2 65 2-70 2 61 2-22 2-42 2-19 2 44 2-55 2 25 2-53 2 36 2-50 2 5 2-19 2-41 2 17 2 13 2-1 2-26 2 39 2 2 2-40 2 68 2-1 2 32 2 19 2-45 2 33 2 10 2 39 2-56 2 12 2 53 2-2 2 22 2-18 2 3 2 4 2-4 2-30 2 4 2 53 2-20 2 15 2-54 2 53 2-58 2 65 2-24 2-21 2-12 2 38 2-31 2-16 2 42 2-57 2 19 2-20 2 33 2 24 2-28 2 16 2-7 2-20 2 40 2-29 2 47 2-44 2 33 2-45 2 53 2 1 2-15 2-2 2-48 2 1 2 53 2-26 2-1 2 22 2-61 2-3 2 43 2-53 2-5 2-17 2-21 2 19 2-63 2-6 2-58 2-54 2 14 2-4 2-25 2-1 2-17 2 37 2-9 2 74 2 4 2 67 2-15 2 19 2 86 2 10 2-40 2 40 2-9 2-13 2 66 2-8 2 4 2-40 2 12 2 39 2-22 2 41 2-10 2 16 2-17 2-10 2 5 2 14 2-63 2 71 2-8 2-56 2 13 2 40 2 11 2-12 2-9 2-1 2-20 2 30 2-27 2-30 2 42 2 19 2-61 2 41 2-12 2-19 2 42 2-9 2 24 2-7 2-2 2-15 2-26 2-5 2 16 2-1 2-16 2 1 2 16 2 27 2 7 2 6 2 3 2-41 2-13 2 5 2 35 2-3 2-46 2 5 2-7 2 51 2-8 2-38 2-1 2 4 2 42 2-55 2 52 2-47 2 35 2-23 2 6 2 24 2 11 2-39 2 47 2-1 2-50 2-4 2 51 2-54 2-5 2 65 2-16 2-18 2-15 2-6 2-6 2 47 2 9 2 2 2-13 2-43 2 1 2 4 2 52 2-60 2 8 2-23 2 65 2-16 2-23 2-5 2 51 2-15 2-23 2 34 2-33 2 47 2-23 2-13 2 23 2-29 2 4 2-28 2 44 2 1 2-39 2 0 2 7 2 43 2 0 2 11 2-1 2-39 2 22 2 18 2-16 2-44 2 36 2 15 2-1 2 5 2-46 2 25 2 9 2 1 2-45 2 0 2 56 2-65 2 9 2 48 2-52 2 10 2 53 2-7"/><path d="M174 872l2 0 2-13 2 9 2-16 2-8 2 20 2 29 2-4 2-38 2-5 2 42 2 5 2-15 2 5 2 7 2-19 2 7 2-15 2 57 2-53 2-17 2 19 2-16 2 58 2-60 2 13 2 49 2 6 2-26 2-43 2 69 2-39 2-10 2-18 2 22 2 39 2-33 2 42 2-41 2 38 2-71 2 68 2-40 2-21 2 56 2-56 2 55 2 4 2-36 2-9 2 37 2-25 2-24 2 57 2-38 2-1 2-17 2 39 2-7 2 22 2-11 2-21 2-8 2-21 2 35 2-41 2 23 2 32 2 6 2-33 2 16 2-22 2-22 2 63 2 0 2-56 2 35 2-47 2 72 2-18 2 18 2-50 2 41 2-3 2 9 2-44 2-15 2 57 2-53 2-7 2 24 2-20 2 35 2-19 2-15 2 26 2 8 2-20 2-12 2-5 2 53 2-27 2 22 2 9 2-56 2 50 2 0 2 17 2-36 2-26 2 4 2 44 2-8 2-16 2 7 2-33 2 38 2 11 2-45 2-3 2 17 2 34 2-11 2-18 2-32 2 1 2 59 2 8 2-2 2-55 2 59 2-43 2-18 2 8 2 47 2-45 2-3 2-10 2 4 2 67 2-68 2 40 2-34 2 50 2 9 2-60 2 56 2-17 2-26 2 17 2-26 2 60 2-69 2 13 2 50 2-58 2-7 2 12 2-2 2 57 2-55 2-2 2 11 2 31 2 3 2 13 2-22 2 13 2-18 2 15 2-50 2 1 2 59 2-8 2 0 2-8 2-38 2 22 2-33 2 0 2 47 2-55 2 28 2-6 2 26 2-38 2-3 2 11 2 42 2-57 2 4 2-2 2 62 2-36 2 13 2 24 2-36 2 46 2-66 2 5 2-2 2 39 2-39 2 58 2-57 2 60 2-28 2-30 2 55 2-55 2 54 2-58 2 58 2-49 2 27 2-49 2 12 2 44 2-52 2 6 2 10 2-22 2 1 2 33 2 18 2-31 2 14 2 19 2-21 2-14 2-3 2 47 2 0 2-42 2-4 2 8 2 7 2 14 2 18 2 2 2 5 2-36 2 0 2 18 2-29 2 9 2-24 2-5 2 43 2-13 2-28 2 51 2-39 2 9 2 30 2 14 2-68 2 68 2-42 2-13 2 7 2 5 2-22 2 56 2-55 2 16 2 43 2-23 2-20 2-13 2 7 2 56 2-9 2-36 2 44 2 8 2-24 2-5 2-24 2-9 2 39 2-49 2-1 2 57 2 7 2-12 2-42 2 45 2 3 2-52 2 3 2 56 2-63 2 8 2 49 2-56 2 20 2 49 2-16 2-28 2 44 2-57 2 45 2-51 2 63 2-29 2 29 2-22 2-13 2-4 2 8 2-2 2 23 2-53 2 36 2-29 2 53 2-72 2 56 2 11 2-9 2-6 2 16 2 2 2-40 2-27 2 49 2-20 2-28 2 18 2-14 2 5 2-8 2 53 2-31 2 9 2-17 2-9 2 45 2 9 2-62 2 1 2 32 2 27 2-17 2 13 2-24 2-21 2 24 2-10 2 25 2-31 2 13 2 32 2-56 2 42 2 9 2-41 2 48 2-58 2 16 2-21 2 62 2-53 2 39 2 17 2-9 2-49 2 7 2 41 2-63 2 64 2-62 2-4 2 0 2 9 2 11 2 43 2-57 2-2 2 41 2-22 2 37 2-51 2 39 2 26 2-18 2 18 2-55 2 46 2-8 2-17 2 4 2-26 2 37 2-4 2 19 2-50 2 18 2 37 2-43 2-16 2 2 2-3 2 10 2 13 2-7 2-19 2 45 2-33 2 9 2-20 2 4 2-5 2 18 2 5 2-25 2 15 2 49 2-39 2 20 2-33 2 0 2 25 2 1 2-7 2-39 2 67 2-50 2-13 2 53 2-29 2 0 2 26 2-36 2-17 2 63 2-28 2 20 2-40 2 6 2-14 2 44 2 5 2-8 2-56 2-4 2 30 2 7 2-4 2 8 2-45 2-14 2-33 2 57 2-39 2-1 2 26 2-8 2 10 2-12 2 31 2 24 2-58 2 71 2-71 2 21 2 17 2-7 2-12 2-11 2 71 2-56 2-10 2 53 2 19 2-23 2-6 2-19 2 2 2 13 2 38 2-10 2-46 2 46 2-19 2 26 2 3 2-24 2-13 2-10 2 53 2-67 2 66 2 2 2-65 2 38 2 22 2 9 2-8 2 6 2-1 2-63 2 34 2-28 2 52 2-53 2-2 2 40 2-29 2-8 2 8 2 9 2 6 2-10 2 45 2 2 2-4 2-35 2-11 2 52 2-57 2 38 2 15 2-13 2 15 2-27 2 3 2 16 2 14 2-26 2 7 2 8 2 0 2-49 2 43 2-42 2 45 2-4 2-51 2 30 2 2 2 18 2-18 2 33 2-66 2 32 2 22 2-32 2-8 2 9 2-4 2-20 2 2 2 56 2-28 2 30 2-16 2-39 2 45 2-40 2 2 2 26 2-33 2 61 2-57 2 20 2 34 2-45 2 28 2 15 2-45 2 18 2 12 2 8 2-40 2 57 2-40 2-18 2 36 2 12 2 0 2-1 2-14 2-9 2-21 2 28 2 17 2-17 2-46 2 42 2-4 2-20 2 14 2-20 2 11 2-28 2-19 2 16 2-22 2 57 2-31 2 31 2-8 2-29 2-6 2 7 2 16 2 7 2-27 2 54 2 12 2-49 2 47 2-7 2-32 2 3 2 0 2 41 2-8 2 9 2-5 2-47 2-16 2 66 2-65 2 7 2-3 2 21 2 2 2-17 2 30 2 0 2-1 2-56 2 43 2-12 2-60 2-13 2 18 2-10 2-23 2-10 2-20 2-41 2 6 2 9 2 6 2 63 2-33 2 31 2 6 2 68 2-30 2 45 2-18 2 25 2 15 2-55 2 20 2 42 2 2 2-53 2 1 2 8 2-17 2-2 2 3 2-13 2 6 2 11 2 18 2-17 2 29 2 1 2-18 2-29 2 67 2-16 2-26 2 35 2-30 2 45 2 17 2-28 2 1 2-32 2 13 2 5 2 3 2 22 2-49 2 19 2-8 2-8 2 16 2 1 2-22 2 26 2 7 2-33 2 46 2 7 2-8 2 21 2-67 2 41 2 22 2-60 2 42 2-48 2 20 2 31 2 18 2-73 2 7 2 48 2-21 2 0 2-19 2 16 2 7 2 13 2-18 2-29 2 26 2 18 2-33 2 47 2-35 2-36 2 57 2-19 2-5 2-10 2-46 2 7 2-15 2 15 2 52 2-53 2 8 2 54 2-21 2-6 2 37 2-9 2 12 2 0 2 10 2-54 2-1 2-8 2-3 2 19 2 16 2 3 2 11 2 12 2-69 2-5 2 18 2 4 2-39 2 48 2-48 2 31 2-71 2-11 2-6 2 2 2-9 2-46 2 6 2 29 2 0 2 42 2-28 2 12 2 56 2 34 2-45 2 8 2 13 2 11 2 7 2 34 2-14 2 23 2-37 2 50 2-60 2 37 2-13 2-7 2 4 2 40 2-45 2 48 2-38 2-19 2 45 2 11 2-17 2-15 2-25 2 60 2-41 2 23 2-1 2 3 2-27 2-23 2 20 2 26 2 13 2 3 2 1 2-52 2 36 2 12 2-13 2 16 2-54 2-10 2 15 2-9 2 56 2-2 2-16 2-16 2 22 2 10 2 5 2-16 2-42 2 53 2-21 2-4 2-25 2-14 2 11 2-22 2-11 2 41 2-43 2-29 2 3 2 25 2 3 2-62 2-22 2-6 2-36 2 2 2-16 2-3 2 30 2-26 2 58 2 22 2 14 2 2 2-18 2 22 2 50 2-40 2 5 2 26 2 34 2-22 2 45 2 6 2-44 2 65 2-47 2 18 2-12 2-8 2 35 2-30 2-11 2 62 2-41 2-5 2 5 2 37 2-66 2 43 2-12 2-30 2 37 2-21 2 22 2 14 2-58 2 26 2 27 2-57 2 6 2 10 2 39 2-4 2 9 2-12 2-16 2-24 2 5 2 19 2 8 2 26 2-12 2-26 2-29 2 50 2 6 2-51 2 51 2-61 2 10 2-25 2 48 2-18 2-11 2-50 2 10 2-42 2-62 2-27 2 11 2-70 2-32 2-67 2-6 2 53 2-14 2 39 2 47 2 5 2 49 2-7 2 95 2 28 2-37 2 37 2 53 2 2 2 22 2-36 2 48 2-16 2 18 2-31 2 58 2-3 2-2 2-2 2-7 2-32 2 36 2-33 2 34 2 18 2-61 2-4 2 20 2 41 2-25 2 6 2 13 2 11 2-21 2-21 2-1 2 24 2 2 2-14 2-14 2 41 2-57 2 1 2-8 2 65 2-44 2 31 2-15 2-23 2 51 2 2 2-37 2 41 2-70 2 12 2 53 2-13 2-34 2-5 2 43 2-16 2-16 2 45 2-4 2-58 2 17 2 38 2-8 2-12 2 30 2 0 2-15 2-39 2 1 2 33 2-24 2 19 2 11 2-24 2 19 2-45 2 13 2-18 2 70 2-16 2 2 2-8 2-5 2 22 2-56 2 5 2 53 2-53 2-1 2 36 2-34 2 12 2 1 2-17 2 51 2 14 2-3 2-4 2-35 2 27 2-25 2-27 2-6 2 5 2-20 2-4 2 60 2-38 2 14 2 38 2-59 2 2 2 21 2 2 2 4 2-15 2 58 2-29 2-22 2-8 2 64 2-2 2-40 2-12 2 23 2 15 2-12 2 1 2-7 2-22 2 18 2 39 2-13 2 15 2-36 2 27 2-42 2 9 2-26 2 5 2 60 2-13 2-46 2-1 2 28 2-13 2 13 2 12 2-42 2-7 2-2 2 8"/></g>
</g>
<g transform="scale(0.5)">
<defs><pattern id="pat7u" width="74" height="58" patternUnits="userSpaceOnUse"><rect width="74" height="58" fill="#404040"/><path d="M20 0h4v4h-4zM22 0h2v2h-2zM50 0h4v2h-4zM60 0h2v2h-2zM8 2h4v2h-4zM42 2h4v4h-4zM50 2h2v4h-2zM32 4h4v2h-4zM36 4h2v4h-2zM66 6h2v4h-2zM22 8h4v4h-4zM42 8h2v4h-2zM2 10h2v2h-2zM10 10h2v2h-2zM14 10h4v4h-4zM30 10h4v4h-4zM32 10h4v4h-4zM58 10h4v2h-4zM68 12h4v2h-4zM10 16h2v4h-2zM38 16h4v2h-4zM26 20h4v4h-4zM62 20h2v4h-2zM72 20h4v4h-4zM18 22h2v4h-2zM20 22h4v4h-4zM22 22h2v2h-2zM24 22h2v2h-2zM48 22h4v4h-4zM10 24h4v4h-4zM66 24h4v4h-4zM32 26h4v4h-4zM54 26h2v2h-2zM36 28h2v4h-2zM38 28h4v4h-4zM0 30h4v4h-4zM16 30h4v2h-4zM46 30h4v2h-4zM64 30h4v4h-4zM2 32h4v4h-4zM8 32h4v4h-4zM10 32h4v4h-4zM18 32h2v2h-2zM56 32h4v2h-4zM30 34h2v4h-2zM56 36h4v4h-4zM14 38h2v2h-2zM52 40h2v4h-2zM68 40h2v4h-2zM18 42h2v4h-2zM24 44h2v4h-2zM36 44h4v4h-4zM12 50h2v4h-2zM38 50h4v4h-4zM42 50h2v4h-2zM48 50h4v4h-4zM22 52h4v4h-4zM36 52h2v4h-2zM10 54h4v2h-4zM30 54h4v4h-4zM62 54h2v2h-2zM20 56h2v2h-2zM34 56h2v4h-2zM62 56h2v2h-2zM68 56h4v4h-4z" fill="#fff"/></pattern></defs>
<defs><pattern id="pat7l" width="74" height="58" patternUnits="userSpaceOnUse"><rect width="74" height="58" fill="#404040"/><path d="M20 6h4v4h-4zM58 8h2v2h-2zM60 8h2v2h-2zM62 24h2v2h-2zM36 34h4v2h-4zM24 38h2v4h-2zM62 38h2v2h-2zM36 48h4v2h-4z" fill="#fff"/></pattern></defs>
<defs><pattern id="pat7s" width="74" height="58" patternUnits="userSpaceOnUse"><rect width="74" height="58" fill="#404040"/><path d="M0 0h4v4h-4zM2 0h4v4h-4zM4 0h2v2h-2zM6 0h2v2h-2zM10 0h2v2h-2zM14 0h2v4h-2zM16 0h4v2h-4zM18 0h4v2h-4zM32 0h2v4h-2zM38 0h2v2h-2zM44 0h2v2h-2zM46 0h4v4h-4zM50 0h2v2h-2zM52 0h2v2h-2zM62 0h2v2h-2zM64 0h2v4h-2zM66 0h4v4h-4zM68 0h2v4h-2zM70 0h4v2h-4zM72 0h2v4h-2zM0 2h4v4h-4zM2 2h2v2h-2zM8 2h4v4h-4zM16 2h2v4h-2zM18 2h2v4h-2zM20 2h4v4h-4zM30 2h2v2h-2zM32 2h2v2h-2zM36 2h4v4h-4zM38 2h4v4h-4zM42 2h2v4h-2zM48 2h2v4h-2zM50 2h2v4h-2zM52 2h2v2h-2zM54 2h4v2h-4zM58 2h4v2h-4zM60 2h4v2h-4zM66 2h2v2h-2zM70 2h2v4h-2zM72 2h4v2h-4zM0 4h2v4h-2zM4 4h4v4h-4zM12 4h4v4h-4zM20 4h2v4h-2zM26 4h4v4h-4zM28 4h4v2h-4zM30 4h4v4h-4zM34 4h4v2h-4zM36 4h2v4h-2zM38 4h2v2h-2zM42 4h2v4h-2zM44 4h4v4h-4zM52 4h2v4h-2zM54 4h4v2h-4zM68 4h2v4h-2zM12 6h4v4h-4zM14 6h2v2h-2zM18 6h4v4h-4zM20 6h4v2h-4zM22 6h4v2h-4zM24 6h4v4h-4zM30 6h2v2h-2zM34 6h4v4h-4zM36 6h4v4h-4zM38 6h2v4h-2zM46 6h4v2h-4zM48 6h2v2h-2zM50 6h2v4h-2zM52 6h2v4h-2zM54 6h2v4h-2zM56 6h2v2h-2zM58 6h2v2h-2zM60 6h4v2h-4zM62 6h2v2h-2zM66 6h4v2h-4zM68 6h4v4h-4zM72 6h4v2h-4zM2 8h4v2h-4zM6 8h2v2h-2zM8 8h2v4h-2zM10 8h4v2h-4zM12 8h2v4h-2zM16 8h4v4h-4zM18 8h4v2h-4zM32 8h4v2h-4zM38 8h2v4h-2zM40 8h4v4h-4zM44 8h4v2h-4zM46 8h4v4h-4zM48 8h4v2h-4zM56 8h2v2h-2zM64 8h4v2h-4zM66 8h2v4h-2zM72 8h2v4h-2zM8 10h2v2h-2zM20 10h2v2h-2zM22 10h4v2h-4zM28 10h2v2h-2zM30 10h2v2h-2zM32 10h2v2h-2zM48 10h2v4h-2zM56 10h4v4h-4zM62 10h4v2h-4zM66 10h2v2h-2zM2 12h4v4h-4zM8 12h4v2h-4zM14 12h4v2h-4zM16 12h2v2h-2zM18 12h4v4h-4zM24 12h2v4h-2zM26 12h4v2h-4zM34 12h2v2h-2zM36 12h4v2h-4zM38 12h4v4h-4zM40 12h4v4h-4zM44 12h2v4h-2zM56 12h4v2h-4zM58 12h4v2h-4zM60 12h4v4h-4zM62 12h2v4h-2zM64 12h2v4h-2zM72 12h2v2h-2zM0 14h2v2h-2zM2 14h2v4h-2zM8 14h4v4h-4zM10 14h2v2h-2zM12 14h2v2h-2zM16 14h2v4h-2zM18 14h2v2h-2zM20 14h4v2h-4zM26 14h4v4h-4zM28 14h4v4h-4zM30 14h4v4h-4zM32 14h4v2h-4zM36 14h2v4h-2zM38 14h2v2h-2zM42 14h4v4h-4zM44 14h2v4h-2zM46 14h2v4h-2zM52 14h4v2h-4zM54 14h2v2h-2zM56 14h4v2h-4zM58 14h4v2h-4zM60 14h2v4h-2zM62 14h2v4h-2zM68 14h4v4h-4zM0 16h4v2h-4zM2 16h4v4h-4zM4 16h2v4h-2zM6 16h2v4h-2zM8 16h4v2h-4zM16 16h2v2h-2zM20 16h2v2h-2zM24 16h4v4h-4zM26 16h4v2h-4zM28 16h2v2h-2zM34 16h2v2h-2zM36 16h2v2h-2zM42 16h4v2h-4zM44 16h2v2h-2zM48 16h4v2h-4zM50 16h4v2h-4zM52 16h2v2h-2zM54 16h4v2h-4zM60 16h2v2h-2zM68 16h4v4h-4zM70 16h4v2h-4zM0 18h2v2h-2zM8 18h2v2h-2zM22 18h4v4h-4zM26 18h4v4h-4zM30 18h2v4h-2zM38 18h2v4h-2zM48 18h4v4h-4zM56 18h4v4h-4zM58 18h4v2h-4zM62 18h4v2h-4zM66 18h2v2h-2zM2 20h2v2h-2zM6 20h2v4h-2zM10 20h2v4h-2zM16 20h4v2h-4zM18 20h2v4h-2zM20 20h4v2h-4zM24 20h4v4h-4zM28 20h4v2h-4zM32 20h4v4h-4zM34 20h2v2h-2zM36 20h4v2h-4zM38 20h4v2h-4zM40 20h2v4h-2zM46 20h2v2h-2zM48 20h2v4h-2zM50 20h4v2h-4zM54 20h2v2h-2zM60 20h2v2h-2zM68 20h4v2h-4zM0 22h4v4h-4zM2 22h2v4h-2zM6 22h4v4h-4zM10 22h2v4h-2zM12 22h4v2h-4zM14 22h2v2h-2zM16 22h2v2h-2zM22 22h4v2h-4zM24 22h4v2h-4zM28 22h2v2h-2zM36 22h4v4h-4zM40 22h4v2h-4zM44 22h4v2h-4zM46 22h4v2h-4zM54 22h4v4h-4zM58 22h4v2h-4zM62 22h4v4h-4zM64 22h4v2h-4zM66 22h2v4h-2zM2 24h4v2h-4zM12 24h4v4h-4zM14 24h4v4h-4zM18 24h2v4h-2zM20 24h4v2h-4zM22 24h4v4h-4zM24 24h2v2h-2zM26 24h4v4h-4zM28 24h4v2h-4zM30 24h2v4h-2zM32 24h2v2h-2zM36 24h4v2h-4zM38 24h4v4h-4zM40 24h4v4h-4zM42 24h4v4h-4zM44 24h2v4h-2zM46 24h4v4h-4zM48 24h4v2h-4zM54 24h2v2h-2zM56 24h4v2h-4zM62 24h2v2h-2zM0 26h2v2h-2zM4 26h2v2h-2zM8 26h4v4h-4zM10 26h4v2h-4zM14 26h2v4h-2zM16 26h4v4h-4zM24 26h4v2h-4zM26 26h2v2h-2zM28 26h4v4h-4zM30 26h2v4h-2zM38 26h2v4h-2zM52 26h2v4h-2zM54 26h2v2h-2zM56 26h4v4h-4zM58 26h4v2h-4zM62 26h2v4h-2zM64 26h2v4h-2zM70 26h2v4h-2zM72 26h2v2h-2zM2 28h4v4h-4zM8 28h4v2h-4zM12 28h4v4h-4zM14 28h4v2h-4zM16 28h2v4h-2zM18 28h4v4h-4zM20 28h2v2h-2zM26 28h4v2h-4zM28 28h4v2h-4zM34 28h2v2h-2zM36 28h4v2h-4zM38 28h4v4h-4zM44 28h2v2h-2zM50 28h4v4h-4zM52 28h2v4h-2zM54 28h4v2h-4zM56 28h2v2h-2zM60 28h4v4h-4zM62 28h4v2h-4zM72 28h2v2h-2zM6 30h4v2h-4zM8 30h4v2h-4zM12 30h4v2h-4zM14 30h2v2h-2zM16 30h4v4h-4zM18 30h2v4h-2zM22 30h2v2h-2zM24 30h2v4h-2zM26 30h2v2h-2zM38 30h2v4h-2zM40 30h2v2h-2zM42 30h4v2h-4zM50 30h2v4h-2zM52 30h2v2h-2zM56 30h2v4h-2zM64 30h2v2h-2zM68 30h2v4h-2zM70 30h4v2h-4zM0 32h2v2h-2zM2 32h4v4h-4zM6 32h4v2h-4zM8 32h2v4h-2zM10 32h4v4h-4zM12 32h2v4h-2zM18 32h4v2h-4zM22 32h4v2h-4zM24 32h2v2h-2zM32 32h4v4h-4zM36 32h2v4h-2zM38 32h4v4h-4zM40 32h2v2h-2zM42 32h2v4h-2zM44 32h4v2h-4zM48 32h4v2h-4zM52 32h2v4h-2zM54 32h4v2h-4zM58 32h2v4h-2zM64 32h2v4h-2zM72 32h4v4h-4zM0 34h2v2h-2zM4 34h2v2h-2zM12 34h2v4h-2zM14 34h4v4h-4zM16 34h2v2h-2zM20 34h4v4h-4zM22 34h4v2h-4zM28 34h2v2h-2zM32 34h2v2h-2zM36 34h4v4h-4zM40 34h4v4h-4zM42 34h2v4h-2zM48 34h4v2h-4zM50 34h2v4h-2zM52 34h4v4h-4zM54 34h2v4h-2zM64 34h4v4h-4zM72 34h4v2h-4zM6 36h4v2h-4zM8 36h4v4h-4zM12 36h4v2h-4zM18 36h4v4h-4zM26 36h2v2h-2zM28 36h2v4h-2zM34 36h4v2h-4zM36 36h2v2h-2zM38 36h2v2h-2zM44 36h4v4h-4zM50 36h4v4h-4zM54 36h2v2h-2zM56 36h2v2h-2zM58 36h2v4h-2zM60 36h4v4h-4zM62 36h4v2h-4zM66 36h2v2h-2zM68 36h2v2h-2zM72 36h2v2h-2zM0 38h2v2h-2zM2 38h2v2h-2zM10 38h4v4h-4zM12 38h2v4h-2zM16 38h4v2h-4zM18 38h4v2h-4zM28 38h2v4h-2zM32 38h2v4h-2zM34 38h2v4h-2zM38 38h4v4h-4zM40 38h4v2h-4zM44 38h4v4h-4zM46 38h4v4h-4zM50 38h4v2h-4zM54 38h2v4h-2zM56 38h4v4h-4zM58 38h4v2h-4zM62 38h2v4h-2zM64 38h4v2h-4zM72 38h4v4h-4zM2 40h2v4h-2zM8 40h2v4h-2zM10 40h4v4h-4zM12 40h4v4h-4zM14 40h4v4h-4zM18 40h4v2h-4zM20 40h2v2h-2zM24 40h4v2h-4zM26 40h2v4h-2zM28 40h4v4h-4zM30 40h4v2h-4zM34 40h2v2h-2zM36 40h2v4h-2zM42 40h2v2h-2zM44 40h2v2h-2zM54 40h4v4h-4zM56 40h4v2h-4zM58 40h2v2h-2zM60 40h2v4h-2zM66 40h2v4h-2zM68 40h2v2h-2zM72 40h4v4h-4zM0 42h2v4h-2zM4 42h2v2h-2zM8 42h2v2h-2zM12 42h4v4h-4zM16 42h4v4h-4zM30 42h2v2h-2zM32 42h4v4h-4zM34 42h4v2h-4zM36 42h2v2h-2zM38 42h4v2h-4zM40 42h4v2h-4zM46 42h2v2h-2zM48 42h2v4h-2zM50 42h4v2h-4zM52 42h4v2h-4zM54 42h2v4h-2zM60 42h4v4h-4zM64 42h2v4h-2zM68 42h4v2h-4zM72 42h2v2h-2zM0 44h2v2h-2zM6 44h4v2h-4zM8 44h2v2h-2zM10 44h4v4h-4zM20 44h2v4h-2zM26 44h4v2h-4zM28 44h2v2h-2zM34 44h4v2h-4zM36 44h2v2h-2zM40 44h4v4h-4zM42 44h4v4h-4zM46 44h4v2h-4zM50 44h4v4h-4zM52 44h4v4h-4zM54 44h4v4h-4zM58 44h4v4h-4zM60 44h4v2h-4zM62 44h2v4h-2zM64 44h4v2h-4zM68 44h2v2h-2zM72 44h2v2h-2zM0 46h2v4h-2zM2 46h2v4h-2zM4 46h2v4h-2zM8 46h2v4h-2zM16 46h4v2h-4zM18 46h2v2h-2zM24 46h4v4h-4zM26 46h2v4h-2zM28 46h4v2h-4zM32 46h4v4h-4zM38 46h4v4h-4zM40 46h2v2h-2zM44 46h4v4h-4zM46 46h2v4h-2zM48 46h2v4h-2zM54 46h2v4h-2zM56 46h2v2h-2zM58 46h4v4h-4zM66 46h4v4h-4zM70 46h4v2h-4zM2 48h4v2h-4zM6 48h2v4h-2zM8 48h4v2h-4zM12 48h4v2h-4zM14 48h2v4h-2zM16 48h4v2h-4zM18 48h2v4h-2zM24 48h2v4h-2zM26 48h2v2h-2zM28 48h4v2h-4zM32 48h4v2h-4zM34 48h2v4h-2zM38 48h4v4h-4zM42 48h4v2h-4zM44 48h2v4h-2zM46 48h2v2h-2zM54 48h4v4h-4zM58 48h4v4h-4zM64 48h2v2h-2zM66 48h4v2h-4zM68 48h4v2h-4zM72 48h4v4h-4zM0 50h2v2h-2zM2 50h4v2h-4zM10 50h4v4h-4zM14 50h4v4h-4zM18 50h2v2h-2zM20 50h4v4h-4zM24 50h4v2h-4zM36 50h2v4h-2zM44 50h2v4h-2zM46 50h2v4h-2zM48 50h4v2h-4zM50 50h4v2h-4zM54 50h2v4h-2zM56 50h4v4h-4zM58 50h2v2h-2zM60 50h2v4h-2zM62 50h2v2h-2zM64 50h4v4h-4zM66 50h2v4h-2zM68 50h4v2h-4zM72 50h4v2h-4zM2 52h2v2h-2zM8 52h2v2h-2zM10 52h4v2h-4zM12 52h2v2h-2zM20 52h2v2h-2zM26 52h2v4h-2zM30 52h2v4h-2zM34 52h4v4h-4zM38 52h4v2h-4zM40 52h4v2h-4zM44 52h4v4h-4zM46 52h2v4h-2zM50 52h2v4h-2zM52 52h4v4h-4zM56 52h2v4h-2zM58 52h2v2h-2zM60 52h2v2h-2zM62 52h2v4h-2zM64 52h4v2h-4zM66 52h2v4h-2zM68 52h2v2h-2zM70 52h2v2h-2zM0 54h2v2h-2zM4 54h2v4h-2zM8 54h4v2h-4zM12 54h2v2h-2zM16 54h2v4h-2zM20 54h2v4h-2zM22 54h4v4h-4zM28 54h4v4h-4zM30 54h4v2h-4zM34 54h4v4h-4zM42 54h4v2h-4zM54 54h2v2h-2zM56 54h2v2h-2zM58 54h4v2h-4zM64 54h2v2h-2zM66 54h2v2h-2zM70 54h2v4h-2zM72 54h2v2h-2zM4 56h2v2h-2zM8 56h4v2h-4zM16 56h2v2h-2zM20 56h4v2h-4zM22 56h4v4h-4zM26 56h4v2h-4zM28 56h2v4h-2zM30 56h4v4h-4zM32 56h4v4h-4zM38 56h4v4h-4zM42 56h4v4h-4zM46 56h4v2h-4zM52 56h2v4h-2zM54 56h4v2h-4zM60 56h2v2h-2zM62 56h4v2h-4zM64 56h2v2h-2zM66 56h4v4h-4z" fill="#fff"/></pattern></defs>
<path d="M174 1332l2 2 2-2 2 0 2 3 2 0 2 5 2-3 2 3 2 6 2 0 2-2 2 3 2 3 2-3 2 2 2-2 2-1 2-4 2 4 2 0 2 0 2 0 2-3 2-2 2 5 2-3 2 2 2-5 2 0 2 2 2 1 2 3 2-1 2-3 2 0 2 0 2 4 2-4 2-2 2-2 2-3 2 4 2 1 2 1 2 4 2 0 2-1 2-2 2 0 2 2 2-2 2-2 2-2 2 5 2 1 2-4 2-3 2 1 2 2 2 2 2-1 2 1 2 2 2-1 2 1 2-1 2 3 2-3 2-1 2-2 2 1 2 1 2 0 2 0 2 5 2-3 2-3 2-3 2-1 2-2 2 0 2-3 2 5 2-2 2-1 2 0 2-1 2 4 2 1 2 5 2-3 2 0 2-2 2-2 2-1 2 1 2-4 2 3 2 4 2 2 2-7 2 1 2-2 2 0 2-1 2 6 2 1 2 0 2 1 2-2 2-2 2 1 2 4 2-2 2 3 2-1 2 2 2 0 2 2 2-1 2-5 2-1 2 3 2 3 2 0 2 0 2-4 2 3 2 1 2 1 2-2 2-2 2-4 2 0 2 2 2 0 2-5 2 3 2 1 2 2 2-2 2-5 2-1 2 3 2 3 2-2 2-1 2 2 2-1 2-4 2 0 2 2 2 3 2-3 2 1 2-2 2 3 2 1 2-2 2-1 2 1 2 0 2-2 2 1 2 2 2-3 2 1 2-3 2 3 2 0 2 2 2 0 2 0 2 1 2 2 2-1 2 0 2 1 2-3 2 1 2 1 2 1 2 2 2 0 2 2 2-1 2-2 2-1 2 2 2-1 2-4 2 2 2 0 2 2 2 1 2 0 2-2 2 2 2-3 2 1 2-6 2 2 2-2 2 2 2 0 2 0 2-1 2-4 2 3 2-1 2 0 2 1 2 0 2-3 2 2 2 1 2 3 2-1 2-1 2 0 2 2 2-2 2-1 2 4 2-2 2-3 2 3 2 6 2 0 2-1 2-1 2-2 2 0 2 1 2-2 2 1 2 2 2 2 2-4 2-2 2 0 2-1 2-2 2 3 2 2 2 3 2-5 2 0 2 0 2 0 2 1 2 2 2-4 2 2 2-2 2 1 2 4 2 0 2 1 2-4 2-1 2 1 2-3 2-1 2 2 2 5 2 0 2-7 2 1 2-2 2 4 2-2 2-1 2-1 2 1 2 6 2-3 2-3 2-1 2 4 2-1 2-1 2-4 2-1 2 1 2 2 2-2 2 5 2 0 2 3 2-2 2 3 2-1 2 0 2 0 2-3 2 3 2-5 2 1 2-5 2 5 2-2 2-2 2 5 2-1 2 0 2-2 2 1 2 3 2 0 2 0 2 3 2-5 2 2 2 1 2 1 2-1 2-5 2-3 2 4 2-1 2 1 2 1 2-1 2 1 2-1 2-2 2 3 2-3 2 7 2-2 2 0 2-1 2 2 2-1 2 0 2 0 2 2 2 0 2-2 2-3 2 0 2 2 2-1 2 2 2-2 2 5 2-5 2 1 2 4 2-1 2 4 2-6 2-1 2 6 2 2 2-2 2-1 2 1 2 1 2-3 2-1 2-4 2 6 2 1 2-1 2 2 2-1 2 2 2-3 2 0 2-3 2 1 2 3 2-2 2-1 2 1 2 2 2-4 2 0 2-2 2 1 2 2 2 1 2 0 2-1 2-5 2 5 2-2 2 2 2-3 2-2 2 4 2-1 2 0 2 0 2-3 2 2 2-3 2 1 2-4 2 2 2 0 2 1 2-1 2 4 2 3 2 0 2-2 2 1 2 0 2-2 2 0 2 2 2-3 2 3 2 3 2 2 2 0 2 1 2-2 2 1 2 0 2-1 2 0 2 2 2 0 2 0 2-3 2 4 2-1 2 1 2-5 2 0 2 3 2-1 2-1 2 0 2-1 2 2 2-4 2 0 2-2 2 0 2 0 2 2 2 0 2-3 2-3 2-2 2 1 2 2 2 3 2 4 2-6 2-3 2 0 2-1 2 5 2-1 2-1 2 4 2-5 2 0 2 0 2 4 2 0 2-3 2 5 2 0 2-1 2 0 2 3 2 1 2-3 2-4 2 2 2 2 2 1 2-1 2 0 2-2 2-2 2-3 2-1 2 5 2 0 2 0 2-2 2-3 2-7 2-9 2-8 2-3 2-1 2 4 2 3 2 5 2 4 2 3 2 5 2 3 2-1 2 3 2-1 2-2 2 0 2 0 2 2 2 5 2-3 2-1 2 4 2 3 2 5 2-3 2-6 2 0 2 4 2 3 2-2 2 2 2-4 2 0 2 1 2 0 2 0 2-3 2 0 2 0 2-2 2-1 2 5 2 0 2 0 2 0 2 3 2-2 2 1 2 3 2-5 2 3 2-1 2 2 2-1 2 2 2-2 2 1 2 0 2-1 2 0 2 0 2-4 2 4 2-1 2 2 2-1 2 1 2 0 2 0 2-2 2 0 2-6 2-3 2 4 2 2 2 3 2 0 2-3 2 1 2-1 2-1 2-2 2 1 2 1 2 0 2 4 2-2 2-1 2-3 2-2 2-2 2 3 2 0 2 4 2-5 2 0 2-1 2 3 2-3 2 0 2 4 2-1 2-4 2 4 2-5 2 3 2-1 2 2 2-1 2 2 2-2 2 5 2-4 2-2 2 2 2-1 2-1 2-2 2-1 2 0 2-3 2 0 2-3 2-3 2-3 2 4 2-1 2-5 2-5 2 3 2 0 2 3 2-2 2-7 2 4 2-3 2 0 2 5 2 0 2-3 2-5 2 1 2-6 2-1 2 2 2 1 2-4 2-1 2-8 2-6 2-11 2-10 2-9 2-1 2 2 2 3 2 11 2 10 2 10 2 5 2 12 2 8 2 5 2 5 2 3 2 8 2-3 2 4 2 0 2 2 2-1 2-4 2-3 2-4 2-3 2 0 2 4 2 1 2-6 2-3 2-3 2 0 2 2 2 3 2 4 2 11 2-2 2 2 2 3 2 0 2 2 2 5 2-1 2-3 2 0 2 0 2 1 2-1 2 4 2-1 2-3 2 3 2-4 2-1 2 1 2-2 2-1 2-2 2-2 2 2 2-2 2-1 2 0 2-7 2 0 2-6 2 1 2-6 2-1 2 5 2 4 2 1 2 3 2 3 2 2 2 2 2 8 2 1 2-5 2-3 2-1 2 1 2 0 2 0 2 6 2 0 2-2 2-1 2-5 2-6 2 2 2 1 2-5 2-1 2-5 2-1 2 0 2-2 2-3 2 3 2 5 2 2 2 3 2 5 2-2 2 3 2 1 2-1 2-2 2 1 2-6 2-2 2 1 2 0 2 0 2 6 2-3 2-1 2-4 2-2 2-4 2-3 2-6 2-4 2-7 2-8 2-7 2-8 2-6 2-11 2-7 2-7 2 4 2 4 2 8 2 9 2 4 2 12 2 13 2 10 2 5 2 6 2 2 2 8 2-3 2 1 2 4 2 1 2 0 2 5 2 3 2-4 2 1 2-2 2 0 2 5 2-3 2 0 2 2 2 1 2 2 2 0 2-2 2 1 2 2 2 2 2-4 2 0 2 1 2-7 2 3 2 2 2-2 2-1 2-2 2 1 2 1 2 1 2 2 2-2 2 1 2-1 2 2 2-1 2 0 2-1 2-3 2 0 2 2 2-1 2-1 2-4 2 1 2-1 2-5 2-1 2 3 2 0 2 0 2-2 2-5 2 1 2-4 2-1 2-8 2-3 2-8 2-9 2-12 2-8 2-5 2-8 2-11 2-5 2-1 2 0 2-3 2 5 2 2 2 6 2 11 2 8 2 9 2 11 2 9 2 1 2 6 2 8 2 2 2 3 2 9 2-1 2 0 2 5 2-2 2 4 2 1 2 4 2-7 2 1 2-2 2 0 2 0 2 1 2 2 2-3 2 2 2-2 2-5 2-5 2 0 2-3 2-4 2 0 2-5 2 2 2 1 2 2 2 2 2 7 2 0 2 0 2 2 2 0 2 1 2 1 2 1 2 2 2 1 2-2 2-4 2 4 2-2 2 0 2-3 2-3 2 0 2-3 2 1 2-1 2-4 2-5 2-6 2-10 2-14 2-13 2-17 2-22 2-19 2-14 2-19 2-17 2-7 2 2 2 4 2 14 2 19 2 18 2 18 2 22 2 17 2 14 2 18 2 9 2 3 2 6 2 7 2 0 2 5 2-1 2 4 2-2 2 4 2 1 2-2 2 3 2-2 2 2 2 5 2 0 2 4 2 3 2-1 2-2 2 0 2 1 2 0 2-1 2-2 2 2 2-2 2-5 2 0 2 4 2 1 2-4 2 3 2 0 2 5 2-3 2 0 2 1 2 3 2-1 2-1 2-6 2-1 2-3 2 1 2-1 2 2 2-3 2 1 2 5 2-3 2 3 2-2 2-3 2-2 2 3 2 0 2-1 2-1 2-3 2-1 2-3 2-3 2-1 2-5 2 5 2 2 2 3 2 5 2 3 2-4 2 1 2 5 2 4 2-3 2 0 2-4 2 5 2-2 2 3 2-1 2 2 2-3 2 4 2 1 2-2 2-4 2 4 2 0 2 5 2 3 2 1 2-3 2-2 2 1 2 1 2 3 2-7 2-4 2-4 2 0 2 0 2-1 2-3 2-1 2 7 2 2 2 3 2 0 2 1 2-4 2-3 2 3 2 4 2 1 2 1 2 5 2-1 2 2 2 1 2-4 2 0 2 1 2-1 2 0 2-2 2 3 2 4 2-2 2-4 2 2 2-1 2 0 2 0 2 0 2 1 2 2 2-1 2 1 2 0 2 2 2-3 2 1 2-2 2-2 2-1 2-1 2 0 2-1 2 6L2364 1360l-2-5 -2 3 -2 2 -2 2 -2-1 -2 0 -2 1 -2 2 -2 3 -2 0 -2-1 -2-2 -2 0 -2-2 -2-1 -2 0 -2-3 -2 0 -2 2 -2 0 -2 0 -2-1 -2-3 -2-2 -2 3 -2 4 -2 2 -2-2 -2-1 -2 4 -2 0 -2 0 -2 3 -2-2 -2 0 -2-2 -2-4 -2-6 -2-3 -2 0 -2-1 -2 2 -2-1 -2 0 -2-5 -2 1 -2 3 -2 1 -2 1 -2 0 -2 5 -2 4 -2 5 -2-1 -2-1 -2 2 -2 1 -2 1 -2-6 -2-6 -2-6 -2 0 -2-1 -2 5 -2 4 -2 2 -2-3 -2 1 -2-4 -2-2 -2-4 -2 0 -2-4 -2 3 -2-1 -2 3 -2-2 -2-4 -2-1 -2 0 -2-3 -2-4 -2-3 -2 0 -2-1 -2 7 -2 2 -2 1 -2 1 -2 2 -2 1 -2 0 -2-3 -2 0 -2-2 -2 3 -2 3 -2 1 -2-2 -2 1 -2-4 -2 3 -2 4 -2 0 -2 1 -2-4 -2 1 -2 0 -2 8 -2 3 -2 1 -2-3 -2-2 -2-2 -2 2 -2-4 -2 2 -2 0 -2 3 -2 1 -2-7 -2 0 -2 0 -2 0 -2 0 -2 3 -2 3 -2 1 -2 0 -2-3 -2 1 -2-1 -2-2 -2-3 -2 2 -2-1 -2 0 -2 1 -2-2 -2 1 -2-4 -2-7 -2-1 -2-2 -2 3 -2-3 -2 2 -2-3 -2-2 -2-3 -2-8 -2-16 -2-15 -2-16 -2-18 -2-15 -2-15 -2-16 -2-15 -2-7 -2-3 -2 7 -2 13 -2 16 -2 17 -2 18 -2 20 -2 16 -2 11 -2 11 -2 7 -2 6 -2 2 -2-3 -2 0 -2 0 -2 1 -2-1 -2 3 -2 7 -2 3 -2 2 -2-1 -2 4 -2 0 -2 0 -2 0 -2 2 -2 0 -2-2 -2-4 -2-2 -2 2 -2 1 -2-6 -2-3 -2-1 -2-3 -2-1 -2 2 -2-2 -2 4 -2 4 -2 1 -2 4 -2 2 -2 3 -2-2 -2 2 -2-1 -2 0 -2 0 -2 0 -2 4 -2-1 -2 4 -2-3 -2-1 -2-1 -2 1 -2-2 -2 1 -2-1 -2-7 -2-5 -2-5 -2-8 -2-6 -2-4 -2-11 -2-12 -2-9 -2-5 -2-8 -2-6 -2-3 -2-3 -2 4 -2 3 -2 3 -2 5 -2 9 -2 6 -2 6 -2 6 -2 11 -2 8 -2 6 -2 3 -2 8 -2 0 -2 5 -2 3 -2 5 -2 0 -2-2 -2-1 -2-1 -2 0 -2 3 -2 0 -2-2 -2 5 -2 0 -2 4 -2-2 -2 0 -2 2 -2 0 -2-3 -2 0 -2-1 -2 1 -2-1 -2 1 -2-2 -2-1 -2 4 -2 2 -2 2 -2 1 -2 0 -2-2 -2 0 -2 4 -2 0 -2-1 -2 3 -2-3 -2 0 -2-1 -2-1 -2-1 -2-4 -2-3 -2 0 -2 1 -2 2 -2-1 -2 0 -2 1 -2 0 -2 3 -2-2 -2-2 -2 2 -2 0 -2-2 -2-1 -2 3 -2-6 -2-3 -2-6 -2-7 -2-8 -2-9 -2-11 -2-5 -2-7 -2-7 -2-3 -2-5 -2 4 -2 8 -2 9 -2 8 -2 6 -2 4 -2 4 -2 7 -2 4 -2 6 -2 3 -2 2 -2 0 -2 3 -2-1 -2 3 -2-5 -2 3 -2 3 -2 2 -2 1 -2 6 -2-2 -2-1 -2-2 -2 0 -2-3 -2 4 -2-2 -2-1 -2-4 -2-3 -2-3 -2 3 -2 3 -2 1 -2 2 -2 2 -2 1 -2 3 -2-1 -2 0 -2 4 -2 3 -2 2 -2 2 -2-1 -2-7 -2-2 -2 1 -2 1 -2 0 -2 3 -2 6 -2-1 -2-6 -2-5 -2-5 -2-3 -2-2 -2 0 -2-2 -2-4 -2 0 -2 3 -2 2 -2 7 -2 2 -2 5 -2 1 -2-2 -2-1 -2-1 -2 2 -2 2 -2 2 -2 3 -2 1 -2 4 -2 3 -2-4 -2 2 -2-1 -2-4 -2-1 -2-1 -2 1 -2 1 -2 3 -2 1 -2-4 -2-2 -2 0 -2-3 -2-2 -2 0 -2-7 -2-3 -2-4 -2-3 -2 0 -2 5 -2 3 -2 4 -2-3 -2-3 -2 0 -2 1 -2 1 -2 4 -2 3 -2 3 -2-1 -2 0 -2-1 -2 0 -2-6 -2-2 -2-5 -2-5 -2-7 -2-8 -2-3 -2-8 -2-7 -2-11 -2-4 -2-3 -2 2 -2 8 -2 9 -2 8 -2 3 -2 5 -2 0 -2 4 -2 0 -2-1 -2 0 -2 4 -2-2 -2 5 -2 3 -2 3 -2-2 -2 0 -2 2 -2-5 -2 3 -2 0 -2 0 -2 1 -2-2 -2 5 -2 4 -2 0 -2-3 -2 4 -2 2 -2 4 -2 1 -2 3 -2-1 -2-2 -2 0 -2 0 -2 0 -2-1 -2 1 -2 3 -2-4 -2 2 -2-4 -2 2 -2 1 -2 2 -2-1 -2 4 -2-2 -2-2 -2 0 -2-3 -2 2 -2 3 -2-5 -2 0 -2 1 -2 4 -2 0 -2-2 -2-3 -2 2 -2 3 -2 1 -2-2 -2 1 -2-3 -2 0 -2-1 -2 1 -2 3 -2 1 -2 2 -2-1 -2 0 -2 1 -2-3 -2-1 -2-2 -2 3 -2 2 -2 0 -2 1 -2 1 -2 1 -2-1 -2 2 -2 1 -2 2 -2-1 -2 4 -2-1 -2-3 -2 0 -2-3 -2 1 -2 5 -2-1 -2-2 -2-3 -2 0 -2-1 -2 3 -2-3 -2 0 -2 1 -2-2 -2 0 -2 2 -2 2 -2-2 -2 1 -2 1 -2-3 -2-1 -2-1 -2 1 -2 4 -2-1 -2 0 -2 3 -2-1 -2-1 -2-2 -2-1 -2-1 -2 5 -2 1 -2-4 -2-2 -2-3 -2 1 -2 0 -2-3 -2-4 -2 0 -2-1 -2 0 -2 1 -2-1 -2-1 -2-2 -2-3 -2 1 -2 0 -2-1 -2-1 -2-3 -2 0 -2 0 -2 3 -2 6 -2 3 -2 2 -2 3 -2 0 -2 0 -2-2 -2 3 -2 3 -2 2 -2-1 -2-1 -2-1 -2-2 -2 1 -2 0 -2 3 -2 2 -2-3 -2-7 -2 0 -2 1 -2 3 -2-2 -2 4 -2 2 -2-1 -2-2 -2-3 -2 1 -2-4 -2 3 -2 2 -2-4 -2 0 -2 2 -2 3 -2 1 -2-3 -2-4 -2-1 -2 0 -2 2 -2 6 -2 4 -2 1 -2-3 -2-1 -2 2 -2 6 -2 1 -2 2 -2-3 -2 0 -2-1 -2-1 -2 0 -2-1 -2-3 -2 2 -2-3 -2 1 -2-1 -2 7 -2 5 -2-1 -2-5 -2-4 -2-3 -2 1 -2 1 -2 4 -2-1 -2-1 -2-4 -2-2 -2-2 -2 2 -2-3 -2 0 -2 5 -2 3 -2 2 -2 4 -2-4 -2-4 -2-5 -2-1 -2-1 -2 0 -2-1 -2 4 -2 0 -2 3 -2 1 -2 3 -2 1 -2-2 -2-1 -2-4 -2 4 -2 3 -2-1 -2 0 -2-4 -2 2 -2-1 -2-1 -2-1 -2-3 -2 0 -2 5 -2 1 -2 3 -2-4 -2-2 -2 0 -2 1 -2 0 -2-1 -2 2 -2-2 -2 2 -2 1 -2 4 -2 2 -2 2 -2 1 -2-5 -2-1 -2-2 -2 1 -2 0 -2 4 -2 2 -2-1 -2-5 -2-5 -2-1 -2 5 -2-1 -2 1 -2-1 -2 0 -2 2 -2-7 -2 0 -2 0 -2 1 -2 0 -2 2 -2 1 -2 2 -2 2 -2-2 -2 0 -2 0 -2-1 -2-2 -2 1 -2 1 -2 2 -2-5 -2 4 -2 1 -2-1 -2-1 -2-2 -2-2 -2-3 -2-1 -2 1 -2 0 -2 3 -2 3 -2-2 -2-1 -2-2 -2-1 -2 4 -2-1 -2-2 -2-1 -2-1 -2 1 -2 3 -2-2 -2 0 -2-3 -2 3 -2 3 -2-3 -2 2 -2 1 -2 3 -2-1 -2 3 -2 2 -2-1 -2 0 -2-5 -2-1 -2-1 -2 2 -2 1 -2 1 -2-3 -2-3 -2 1 -2 3 -2 0 -2 2 -2 0 -2 0 -2-3 -2-1 -2-6 -2 1 -2 3 -2 2 -2 1 -2-1 -2 2 -2 1 -2 6 -2 0 -2-6 -2-4 -2 1 -2 1 -2-2 -2 2 -2 4 -2 1 -2-2 -2-3 -2-2 -2 4 -2 2 -2 7 -2 1 -2-2 -2-4 -2 1 -2 2 -2 2 -2-3 -2-1 -2-4 -2 2 -2 1 -2 1 -2 0 -2-1 -2-3 -2-1 -2-1 -2 1 -2 0 -2-1 -2 2 -2 2 -2 1 -2-1 -2-5 -2-2 -2 2 -2 2 -2-3 -2 3 -2 3 -2-2 -2 1 -2 0 -2-1 -2-4 -2 0 -2-1 -2 3 -2 1 -2-1 -2 0 -2 0 -2-3 -2 3 -2-1 -2-1 -2 0 -2 0 -2 2 -2 0 -2 5 -2 0 -2 1 -2-2 -2 2 -2-2 -2-1 -2-1 -2 1 -2 0 -2 6 -2 1 -2-4 -2 0 -2-2 -2 1 -2-2 -2 3 -2 0 -2-2 -2-4 -2-2 -2-1 -2-1 -2 2 -2 3 -2 0 -2 0 -2 0 -2 0 -2 0 -2-2 -2-2 -2 1 -2-1 -2 1 -2-2 -2-2 -2 2 -2 2 -2-4 -2-1 -2 2 -2 1 -2 0 -2 5 -2 3 -2 4 -2-4 -2-4 -2-2 -2 3 -2 0 -2 0 -2 1 -2 1 -2 0 -2-1 -2 3 -2 5 -2 3 -2-1 -2-2 -2-6 -2 1 -2-3 -2 0 -2 2 -2 2 -2 2 -2 2 -2 2 -2 2 -2 0 -2 2 -2-3 -2 0 -2-1 -2-2 -2-2 -2 1 -2-1 -2-2 -2 2 -2 1 -2 1 -2-1 -2 0 -2-1 -2-3 -2-1 -2 0 -2-3 -2-1 -2 0 -2-3 -2 2 -2 2 -2 3 -2 1 -2 4 -2-4 -2-3 -2-4 -2 1 -2-1 -2 1 -2 1 -2 3 -2 1 -2 2 -2-1 -2 1 -2-3 -2-1 -2-3 -2 1 -2 2 -2 1 -2 3 -2 2 -2 2 -2 0 -2 0 -2 4 -2 1 -2-5 -2-1 -2 1 -2 1 -2 1 -2 1 -2-1 -2 0 -2-5 -2 3 -2 0 -2 2 -2-3 -2-3 -2-2 -2-2 -2-2 -2 0 -2 4 -2 5 -2-2 -2-2 -2 3 -2 3 -2 1 -2-2 -2 0 -2 2 -2 0 -2 0 -2-3 -2-2 -2 1 -2-1 -2 2 -2 2 -2 2 -2 0 -2-6 -2-4 -2-1 -2 2 -2 2 -2 0 -2 1 -2-1 -2 0 -2 5 -2-2 -2 1 -2-5 -2 0 -2 4 -2 1 -2 1 -2 0 -2-2 -2 3 -2-1 -2 2 -2 0 -2 3 -2-5 -2-6 -2-1 -2 0 -2-2 -2 1 -2 3 -2-1 -2 1 -2-4 -2 1 -2 1 -2 0z" fill="url(#pat7u)"/>
<path d="M174 1356l2 0 2-1 2-1 2 4 2-1 2 1 2-3 2-1 2 2 2 0 2 1 2 6 2 5 2-3 2 0 2-2 2 1 2-3 2 2 2 0 2-1 2-1 2-4 2 0 2 5 2-1 2 2 2-5 2 0 2 1 2-1 2 0 2-2 2-2 2 1 2 4 2 6 2 0 2-2 2-2 2-2 2 1 2-1 2 2 2 3 2 0 2 0 2-2 2 0 2 2 2-1 2-3 2-3 2 2 2 2 2-5 2-4 2 0 2 2 2 2 2 2 2 3 2 3 2-2 2 0 2-3 2 5 2 0 2 1 2-1 2-1 2-1 2-1 2 1 2 5 2-1 2-4 2 0 2 0 2-2 2-2 2-3 2-1 2-2 2-1 2 3 2 1 2 3 2-1 2 1 2-2 2-1 2-3 2-1 2-1 2 1 2-1 2 4 2 3 2 4 2-4 2-1 2-3 2-2 2-2 2 3 2 0 2 1 2 3 2 0 2 1 2 3 2 1 2 0 2 1 2-1 2-1 2-2 2 2 2 1 2-1 2 2 2 2 2 1 2 0 2 3 2-2 2 0 2-2 2-2 2-2 2-2 2-2 2-2 2 0 2 3 2-1 2 6 2 2 2 1 2-3 2-5 2-3 2 1 2 0 2-1 2-1 2 0 2 0 2-3 2 2 2 4 2 4 2-4 2-3 2-5 2 0 2-1 2-2 2 1 2 4 2-2 2-2 2 2 2 2 2-1 2 1 2-1 2 2 2 2 2 0 2 0 2 0 2 0 2 0 2-3 2-2 2 1 2 1 2 2 2 4 2 2 2 0 2-3 2 2 2-1 2 2 2 0 2 4 2-1 2-6 2 0 2-1 2 1 2 1 2 2 2-2 2 2 2-1 2 0 2-5 2 0 2-2 2 0 2 0 2 1 2 1 2-3 2 3 2 0 2 0 2 1 2-1 2-3 2 1 2 0 2 4 2 1 2 0 2-1 2 2 2-3 2-3 2 3 2-2 2-2 2 2 2 5 2 1 2-1 2-2 2-2 2 1 2 0 2-1 2 1 2 1 2 3 2 1 2 0 2-1 2-1 2-2 2 4 2 1 2 3 2-2 2-2 2-1 2 4 2 2 2-1 2-7 2-2 2-4 2 2 2 3 2 2 2-1 2-4 2-2 2 2 2-1 2-1 2 4 2 6 2 0 2-6 2-1 2-2 2 1 2-1 2-2 2-3 2-1 2 6 2 1 2 3 2 0 2 0 2-2 2 0 2-3 2-1 2 3 2 3 2-1 2-1 2-2 2 1 2 1 2 5 2 0 2 1 2-2 2-3 2 1 2-3 2-1 2-2 2 3 2-3 2-3 2 3 2 0 2 2 2-3 2-1 2 1 2 1 2 2 2 1 2-4 2 1 2 2 2 1 2 2 2-3 2-3 2 0 2-1 2 1 2 3 2 2 2 2 2 1 2 1 2-1 2-4 2 5 2-2 2-1 2-1 2 2 2 1 2 0 2 0 2 2 2-2 2-2 2-1 2-2 2 0 2-1 2 0 2 0 2 7 2-2 2 0 2 1 2-1 2 1 2-5 2 1 2 5 2 5 2 1 2-2 2-4 2 0 2-1 2 2 2 1 2 5 2-1 2-2 2-2 2-4 2-1 2-2 2 2 2-2 2 1 2 0 2-1 2 0 2 2 2 4 2-3 2-1 2-5 2 0 2 3 2 1 2 1 2 1 2-2 2 4 2 0 2 1 2-3 2-4 2 4 2 1 2 2 2-1 2-3 2-1 2-3 2 0 2-4 2 1 2 0 2 1 2 1 2 5 2 4 2 4 2-4 2-2 2-3 2-5 2 0 2 3 2-2 2 2 2 2 2 4 2 1 2 1 2-4 2-1 2-1 2 3 2 4 2 5 2 1 2-5 2-7 2 1 2-1 2 3 2-2 2 3 2 1 2 0 2 1 2 1 2 0 2 3 2-2 2-1 2-6 2-2 2 1 2 3 2-1 2-4 2-6 2-2 2 0 2 1 2 4 2 3 2-1 2-3 2-2 2 0 2 4 2-2 2-3 2 4 2-1 2 3 2 2 2 1 2-2 2-4 2 2 2-3 2-1 2 0 2 7 2 3 2-2 2-3 2 0 2-1 2 2 2 1 2 1 2 1 2-2 2-3 2-3 2 2 2 0 2 0 2-3 2-2 2-3 2-6 2-3 2 0 2 0 2 3 2 1 2 1 2 0 2-1 2 3 2 2 2 1 2 1 2-1 2 0 2 1 2 0 2 4 2 3 2 0 2-1 2 3 2 2 2 4 2-1 2-5 2 1 2 1 2 2 2 1 2 1 2-3 2 0 2 1 2-4 2-1 2 1 2 1 2 3 2-1 2-1 2 2 2-2 2-2 2 0 2 2 2-1 2 0 2 3 2-3 2 1 2 0 2 3 2 2 2 1 2-5 2-1 2 3 2 0 2 3 2 1 2-4 2 1 2-2 2-1 2-2 2 1 2-1 2-1 2-1 2 0 2-2 2-3 2 2 2 1 2 3 2-1 2 0 2 1 2-2 2-1 2-3 2-1 2 1 2 0 2 3 2-1 2 2 2-1 2-3 2-2 2 3 2 2 2 0 2-4 2-1 2 0 2 5 2-3 2-2 2 3 2 0 2 2 2 2 2-4 2 1 2-2 2-1 2-2 2 4 2-2 2 4 2-3 2-1 2 1 2 0 2 0 2 0 2 2 2 1 2-3 2-1 2-4 2-2 2-4 2 3 2 0 2-4 2-5 2 2 2-1 2 0 2 0 2-3 2 5 2-2 2 0 2 2 2-3 2-3 2-5 2 2 2-4 2 0 2 1 2 0 2-4 2 0 2-5 2-3 2-8 2-9 2-8 2-2 2 3 2 4 2 11 2 7 2 8 2 3 2 8 2 7 2 5 2 5 2 2 2 6 2 0 2 1 2 0 2 1 2-3 2-3 2-4 2-1 2-1 2 0 2 3 2 3 2-4 2-3 2-5 2 0 2 3 2 4 2 3 2 7 2 0 2 2 2 3 2 0 2 2 2 4 2-1 2-3 2-1 2-1 2 1 2 1 2 4 2 1 2-2 2 4 2-3 2-4 2-1 2-3 2-2 2-2 2-2 2 1 2 1 2 2 2-1 2-5 2-2 2-7 2-2 2-3 2 0 2 4 2 2 2 0 2 2 2 3 2 5 2 5 2 6 2 1 2-6 2-3 2 0 2-1 2-1 2 2 2 7 2 1 2-2 2-2 2-3 2-4 2 0 2 1 2-3 2-1 2-2 2-2 2-1 2-3 2-3 2 3 2 3 2 4 2 1 2 2 2-4 2 3 2 0 2 2 2 1 2 2 2-6 2-1 2-2 2-3 2-3 2 5 2-3 2 1 2-3 2 0 2-2 2-3 2-6 2-4 2-7 2-4 2-4 2-6 2-8 2-9 2-8 2-4 2 5 2 3 2 7 2 7 2 5 2 11 2 9 2 8 2 7 2 6 2 3 2 6 2-3 2 1 2 2 2 0 2-2 2 2 2 2 2-3 2 0 2-1 2 0 2 1 2-2 2-1 2 0 2 3 2 4 2 1 2 1 2 1 2 0 2 3 2-3 2 1 2 0 2-4 2 0 2 2 2 0 2-1 2-2 2-2 2-4 2 1 2 2 2-1 2 1 2-1 2 1 2 0 2 3 2 0 2-2 2 0 2 2 2-4 2 0 2-5 2 2 2 0 2-3 2 0 2 1 2 1 2 2 2 0 2-5 2-3 2-5 2 0 2-8 2-3 2-6 2-8 2-11 2-6 2-6 2-6 2-9 2-5 2-3 2-3 2-4 2 3 2 3 2 6 2 8 2 5 2 9 2 12 2 11 2 4 2 6 2 8 2 5 2 5 2 7 2 1 2-1 2 2 2-1 2 1 2 1 2 3 2-4 2 1 2-4 2 0 2 0 2 0 2 1 2-2 2 2 2-3 2-2 2-4 2-1 2-4 2-4 2 2 2-2 2 1 2 3 2 1 2 3 2 6 2-1 2-2 2 2 2 4 2 2 2 0 2-2 2 0 2 0 2 0 2-4 2 1 2-2 2-3 2-7 2-3 2 1 2-1 2 0 2 0 2 3 2-2 2-6 2-7 2-11 2-11 2-16 2-20 2-18 2-17 2-16 2-13 2-7 2 3 2 7 2 15 2 16 2 15 2 15 2 18 2 16 2 15 2 16 2 8 2 3 2 2 2 3 2-2 2 3 2-3 2 2 2 1 2 7 2 4 2-1 2 2 2-1 2 0 2 1 2-2 2 3 2 2 2 1 2-1 2 3 2 0 2-1 2-3 2-3 2 0 2 0 2 0 2 0 2 7 2-1 2-3 2 0 2-2 2 4 2-2 2 2 2 2 2 3 2-1 2-3 2-8 2 0 2-1 2 4 2-1 2 0 2-4 2-3 2 4 2-1 2 2 2-1 2-3 2-3 2 2 2 0 2 3 2 0 2-1 2-2 2-1 2-1 2-2 2-7 2 1 2 0 2 3 2 4 2 3 2 0 2 1 2 4 2 2 2-3 2 1 2-3 2 4 2 0 2 4 2 2 2 4 2-1 2 3 2-2 2-4 2-5 2 1 2 0 2 6 2 6 2 6 2-1 2-1 2-2 2 1 2 1 2-5 2-4 2-5 2 0 2-1 2-1 2-3 2-1 2 5 2 0 2 1 2-2 2 1 2 0 2 3 2 6 2 4 2 2 2 0 2 2 2-3 2 0 2 0 2-4 2 1 2 2 2-2 2-4 2-3 2 2 2 3 2 1 2 0 2 0 2-2 2 0 2 3 2 0 2 1 2 2 2 0 2 2 2 1 2 0 2-3 2-2 2-1 2 0 2 1 2-2 2-2 2-3 2 5L2364 1410l-2-5 -2 1 -2-3 -2 2 -2 0 -2 2 -2-3 -2 2 -2 0 -2 4 -2-1 -2 0 -2-3 -2-3 -2 2 -2 2 -2-4 -2 0 -2 4 -2 1 -2-4 -2-2 -2-4 -2-2 -2-1 -2 5 -2-1 -2-3 -2 3 -2 6 -2 2 -2-1 -2 2 -2 1 -2-2 -2-6 -2-2 -2-1 -2 1 -2 0 -2 2 -2-1 -2-4 -2-1 -2-3 -2 0 -2 0 -2 2 -2 1 -2 0 -2 0 -2 2 -2 3 -2 3 -2-3 -2-2 -2-1 -2 0 -2-2 -2 0 -2-3 -2 0 -2 0 -2 1 -2 0 -2-1 -2-1 -2-4 -2-1 -2-1 -2 2 -2 0 -2 2 -2 2 -2-1 -2 2 -2-2 -2-5 -2 0 -2-4 -2-1 -2 1 -2-4 -2-1 -2 1 -2 5 -2 2 -2-2 -2-2 -2 2 -2-1 -2 1 -2-4 -2 6 -2 0 -2 2 -2 1 -2-4 -2-2 -2-1 -2-2 -2 6 -2 1 -2-2 -2 2 -2 0 -2 0 -2-1 -2 3 -2 0 -2-2 -2-2 -2 1 -2-2 -2 6 -2-3 -2 1 -2 1 -2-2 -2 3 -2-5 -2 5 -2-2 -2 1 -2 5 -2 1 -2 1 -2 0 -2-3 -2-6 -2 3 -2-3 -2 4 -2-3 -2-3 -2-2 -2-1 -2-2 -2 3 -2 1 -2-3 -2-4 -2-1 -2-1 -2 0 -2-5 -2 3 -2 0 -2-2 -2-3 -2-4 -2-10 -2-11 -2-7 -2-9 -2-15 -2-14 -2-11 -2-10 -2-6 -2 0 -2 10 -2 6 -2 8 -2 14 -2 13 -2 9 -2 11 -2 9 -2 8 -2 8 -2 6 -2 2 -2-6 -2 4 -2 0 -2-1 -2-5 -2 2 -2 9 -2 0 -2-1 -2 1 -2 1 -2-2 -2 1 -2-1 -2 4 -2 0 -2 1 -2-6 -2 3 -2 1 -2 2 -2-4 -2-2 -2 2 -2-5 -2 0 -2 1 -2-1 -2 4 -2 3 -2 2 -2-1 -2-2 -2 3 -2-1 -2 2 -2 0 -2-1 -2-1 -2-2 -2 1 -2-3 -2 1 -2 0 -2 0 -2 2 -2-2 -2 0 -2 0 -2-4 -2 1 -2-1 -2-4 -2-9 -2-5 -2-3 -2-7 -2-8 -2-8 -2-3 -2-7 -2-9 -2-6 -2-1 -2 2 -2 2 -2 4 -2 3 -2 6 -2 7 -2 12 -2 5 -2 9 -2 5 -2 4 -2 4 -2 8 -2-3 -2 1 -2 3 -2 1 -2-2 -2 0 -2 0 -2 4 -2-1 -2-1 -2 3 -2-5 -2 3 -2-3 -2 8 -2 0 -2-1 -2 2 -2 2 -2-2 -2 0 -2 1 -2-2 -2-1 -2 2 -2-1 -2-1 -2 4 -2 0 -2-3 -2 3 -2-1 -2-3 -2 3 -2-3 -2 4 -2-4 -2 2 -2-1 -2 3 -2 0 -2-4 -2 1 -2-2 -2-2 -2 4 -2-1 -2 2 -2 3 -2-1 -2-2 -2 1 -2-1 -2-4 -2 1 -2 2 -2 1 -2 0 -2-1 -2 0 -2-5 -2-4 -2-1 -2-6 -2-1 -2-1 -2-8 -2-10 -2-8 -2-6 -2 3 -2 0 -2 2 -2 10 -2 1 -2 7 -2 3 -2 2 -2 3 -2 7 -2 2 -2-1 -2 0 -2 1 -2 0 -2 4 -2-2 -2 3 -2-5 -2 0 -2 2 -2 1 -2-4 -2 2 -2-3 -2 3 -2 5 -2 5 -2 0 -2 6 -2 1 -2 4 -2-6 -2 0 -2-5 -2 1 -2-3 -2-3 -2 2 -2-4 -2 4 -2 1 -2 0 -2 1 -2-1 -2-1 -2 2 -2 4 -2 2 -2 0 -2 0 -2 2 -2 1 -2 0 -2 1 -2 4 -2-1 -2 1 -2-7 -2-6 -2 0 -2-1 -2-2 -2-5 -2 1 -2 3 -2-1 -2-2 -2 2 -2 4 -2 0 -2 4 -2-3 -2-5 -2 4 -2 1 -2 1 -2-1 -2 0 -2 2 -2 5 -2 0 -2 0 -2 5 -2-1 -2 2 -2 0 -2 0 -2 2 -2 2 -2-1 -2-6 -2 0 -2-3 -2 1 -2-4 -2-1 -2-3 -2 1 -2-1 -2 0 -2-2 -2-1 -2 4 -2-2 -2 2 -2-3 -2-1 -2 2 -2-1 -2 0 -2 6 -2-3 -2 2 -2 0 -2 0 -2 4 -2-4 -2-2 -2 0 -2-3 -2-6 -2-6 -2-5 -2-6 -2-8 -2-3 -2-8 -2-3 -2-3 -2 3 -2 4 -2 5 -2 6 -2 3 -2 6 -2 2 -2 1 -2-1 -2 0 -2-2 -2 4 -2 0 -2 5 -2-1 -2 1 -2-2 -2 1 -2 1 -2-2 -2-2 -2-2 -2 6 -2-2 -2-2 -2 4 -2 1 -2 2 -2-1 -2 3 -2-2 -2 3 -2 0 -2 4 -2 4 -2 1 -2 1 -2 1 -2-1 -2-1 -2 1 -2-4 -2-6 -2 1 -2-6 -2 0 -2 6 -2 1 -2 3 -2 4 -2 1 -2-7 -2-2 -2-2 -2 7 -2 1 -2-7 -2-3 -2 0 -2 2 -2 6 -2-2 -2-2 -2 2 -2 2 -2 0 -2-3 -2 0 -2 0 -2 1 -2-3 -2-1 -2 0 -2 3 -2 7 -2 4 -2-6 -2-1 -2 1 -2-1 -2 2 -2 1 -2-4 -2 1 -2 0 -2 4 -2-1 -2-4 -2 0 -2 2 -2 3 -2-1 -2 1 -2 0 -2-1 -2 3 -2-6 -2-3 -2 7 -2 1 -2-1 -2 1 -2 1 -2 0 -2-2 -2-5 -2-2 -2 0 -2 1 -2 1 -2 2 -2-1 -2 0 -2-3 -2 3 -2-2 -2 5 -2-2 -2 3 -2 3 -2-4 -2-2 -2 1 -2 1 -2-4 -2 0 -2 3 -2-5 -2 2 -2-1 -2-2 -2 2 -2 1 -2 1 -2-4 -2 2 -2-7 -2 2 -2 1 -2-2 -2 2 -2 0 -2-1 -2 1 -2-1 -2 5 -2 0 -2 0 -2-1 -2 0 -2 2 -2-3 -2-5 -2 1 -2 0 -2 3 -2 6 -2-1 -2-3 -2 0 -2 4 -2 1 -2 2 -2-3 -2 0 -2 1 -2-4 -2 0 -2 1 -2 1 -2 5 -2 0 -2-5 -2 1 -2-2 -2 6 -2-2 -2-2 -2 1 -2 0 -2-1 -2-1 -2-3 -2-3 -2 2 -2 2 -2 1 -2 0 -2 5 -2 2 -2-5 -2 1 -2-2 -2 0 -2 0 -2 0 -2 4 -2 0 -2 1 -2-1 -2 2 -2 4 -2 1 -2-3 -2 1 -2-3 -2 1 -2 1 -2-1 -2 0 -2 4 -2-2 -2 1 -2-1 -2 0 -2-5 -2 3 -2 4 -2 1 -2 0 -2-2 -2 1 -2 1 -2-3 -2 1 -2-4 -2 2 -2-2 -2-2 -2-2 -2-5 -2-1 -2 6 -2 5 -2-1 -2 1 -2 2 -2-7 -2 0 -2-2 -2 0 -2-1 -2-2 -2-3 -2 2 -2 0 -2 3 -2 4 -2 0 -2 4 -2-1 -2-2 -2-2 -2 5 -2 1 -2-1 -2-5 -2 1 -2 1 -2 0 -2-3 -2 5 -2-4 -2 0 -2 3 -2-1 -2 3 -2-2 -2 1 -2 0 -2 1 -2 3 -2-1 -2 1 -2-3 -2-1 -2-2 -2 2 -2 1 -2 0 -2 0 -2-4 -2 0 -2 3 -2-1 -2-1 -2 6 -2 2 -2-2 -2-4 -2-1 -2-4 -2 3 -2 2 -2-3 -2 0 -2 2 -2-2 -2-6 -2-1 -2 5 -2 0 -2 0 -2 6 -2-4 -2-2 -2 1 -2-1 -2 1 -2 3 -2-5 -2 0 -2 1 -2 2 -2-2 -2-3 -2 1 -2 3 -2-5 -2 1 -2 5 -2 1 -2-2 -2-1 -2-2 -2 5 -2 1 -2 0 -2-5 -2-1 -2-3 -2 1 -2 4 -2 4 -2-4 -2-2 -2 1 -2 3 -2 2 -2-3 -2-2 -2 2 -2 2 -2-3 -2 0 -2 1 -2 3 -2-2 -2-1 -2-3 -2 3 -2-1 -2 4 -2 1 -2 0 -2 0 -2-5 -2 2 -2-4 -2-2 -2-3 -2 2 -2 3 -2-1 -2 1 -2 8 -2 0 -2-4 -2 0 -2-5 -2 2 -2 0 -2 1 -2 1 -2 5 -2-2 -2-1 -2 2 -2 0 -2-5 -2 0 -2 3 -2-2 -2-1 -2 3 -2 3 -2 3 -2-4 -2 0 -2-3 -2 2 -2-1 -2 1 -2 1 -2 0 -2-3 -2 5 -2 4 -2-5 -2-5 -2 1 -2-1 -2 1 -2 4 -2 2 -2-3 -2-5 -2 2 -2 3 -2 1 -2-2 -2-2 -2-2 -2 2 -2 6 -2 1 -2-2 -2-5 -2-1 -2 3 -2-1 -2-2 -2 2 -2-1 -2-2 -2 4 -2 4 -2-1 -2-3 -2 2 -2 1 -2-1 -2 1 -2-1 -2-1 -2-1 -2-3 -2 4 -2 0 -2-3 -2-1 -2 2 -2-1 -2 1 -2 0 -2 1 -2-4 -2 2 -2 7 -2-1 -2 0 -2 1 -2-1 -2-3 -2 3 -2-1 -2-4 -2 2 -2 1 -2 5 -2-3 -2 2 -2 1 -2-2 -2-3 -2 5 -2-5 -2 1 -2-3 -2 0 -2 0 -2 1 -2-1 -2-1 -2 2 -2-6 -2-2 -2-1 -2-3 -2 1 -2 3 -2 0 -2 3 -2 6 -2-4 -2 3 -2 2 -2 1 -2-4 -2-3 -2 0 -2 4 -2 0 -2 2 -2 2 -2 0 -2-1 -2-1 -2-1 -2-5 -2 3 -2 0 -2 3 -2 1 -2 2 -2 1 -2 0 -2-3 -2 2 -2-3 -2 4 -2 3 -2-1 -2 1 -2-4 -2-2 -2-2 -2 5 -2 2 -2-3 -2 2 -2 5 -2 0 -2-5 -2-1 -2 0 -2 0 -2 5 -2-1 -2-3 -2 2 -2-3 -2 2 -2-3 -2 0 -2 1 -2 1 -2-4 -2 3 -2-2 -2 0 -2-2 -2-1 -2-3 -2-1 -2-2 -2 3 -2 2 -2 2 -2 4 -2 1 -2-4 -2 3 -2-2 -2-3 -2 3 -2 3 -2-3 -2-2 -2-1 -2 0 -2 1 -2 5 -2-1 -2 1 -2 1 -2-2 -2-2 -2 4 -2-1 -2-2 -2-2 -2 2 -2 2 -2 1 -2-1 -2-2 -2-2 -2-2 -2 5 -2 0 -2 2 -2 1 -2 0 -2-1 -2 3 -2-3 -2-3 -2-2 -2 0 -2-1 -2 5 -2 1 -2 0 -2-2 -2 1 -2 2 -2 1 -2-3 -2-2 -2 2 -2-2 -2 2 -2 1 -2 0 -2 2 -2 2 -2-3 -2-3 -2-2 -2 0 -2 2 -2 2 -2 1 -2-3 -2-1 -2 1 -2 2 -2 2 -2 0 -2 2 -2-1 -2 4 -2-2 -2 1 -2-4 -2-3 -2 1 -2-3 -2 4 -2 1 -2 2 -2-4 -2 1 -2 0 -2 3 -2 2 -2 1 -2-1 -2 2 -2-2 -2-4 -2 3 -2 1 -2 3z" fill="url(#pat7l)"/>
<path d="M1448 1298l2-4 2-4 2-5 2-8 2-16 2-15 2-17 2-5 2 5 2 8 2 18 2 15 2 11 2 6 2 13 2 7 2 7L1482 1314l-2-5 -2-8 -2-12 -2-5 -2-10 -2-10 -2-11 -2-3 -2-2 -2 1 -2 9 -2 10 -2 11 -2 6 -2 8 -2 1 -2 4z" fill="url(#pat7s)"/>
<path d="M1702 1300l2-2 2-7 2-11 2-10 2-6 2-14 2-20 2-11 2-16 2 4 2 10 2 14 2 17 2 9 2 18 2 16 2 10 2 4 2 7L1740 1312l-2-6 -2-5 -2-10 -2-13 -2-12 -2-4 -2-9 -2-8 -2-4 -2-4 -2 7 -2 7 -2 11 -2 6 -2 8 -2 7 -2 8 -2 7 -2 4z" fill="url(#pat7s)"/>
<path d="M1864 1310l2-8 2-3 2-9 2-12 2-16 2-14 2-15 2-25 2-31 2-25 2-14 2-11 2 4 2 16 2 19 2 25 2 30 2 23 2 14 2 18 2 14 2-2 2 8 2 9L1912 1305l-2-8 -2-6 -2-1 -2-9 -2-11 -2-9 -2-8 -2-11 -2-6 -2-2 -2-5 -2 3 -2 0 -2 1 -2 5 -2 11 -2 8 -2 5 -2 8 -2 12 -2 9 -2 8 -2 3 -2 8z" fill="url(#pat7s)"/>
<path d="M2026 1269l2-12 2-19 2-26 2-32 2-33 2-45 2-47 2-29 2-3 2 16 2 44 2 48 2 45 2 29 2 31 2 20 2 14 2 18L2062 1288l-2-18 -2-14 -2-17 -2-22 -2-18 -2-18 -2-19 -2-14 -2-4 -2-2 -2 7 -2 17 -2 19 -2 14 -2 19 -2 22 -2 17 -2 13z" fill="url(#pat7s)"/>
<g fill="none" stroke="#404040" stroke-width="2.0" stroke-dasharray="3 2"><path d="M174 1377l2-30 2-10 2 50 2 4 2-13 2-16 2-24 2 13 2 21 2 28 2-58 2-1 2 11 2 32 2-11 2 21 2-15 2-42 2 51 2-22 2 15 2-23 2-21 2 20 2 1 2 40 2-57 2 58 2-30 2-12 2 27 2-49 2 47 2 0 2-6 2 9 2 4 2 12 2-21 2-1 2-25 2 25 2-31 2 16 2-18 2 13 2 19 2-32 2 12 2 33 2-6 2-47 2-2 2-2 2 47 2-10 2 15 2-27 2-14 2 47 2-3 2 12 2-56 2 9 2 46 2-9 2-16 2-6 2-18 2 23 2 3 2-40 2 17 2 19 2 23 2-25 2 12 2-14 2 20 2-47 2 51 2 0 2-13 2 9 2-33 2 15 2-30 2 52 2-61 2 48 2 12 2-24 2-31 2 28 2 30 2-56 2 35 2-45 2 19 2 32 2 12 2-23 2 5 2-9 2 22 2-17 2 19 2 1 2 1 2-50 2 11 2-5 2 17 2 36 2-54 2-4 2 53 2-53 2 40 2-40 2 33 2 17 2-6 2-47 2 16 2-13 2 56 2-2 2-9 2 2 2-43 2 4 2-12 2 47 2-13 2 15 2-12 2-5 2 16 2-14 2-41 2 22 2 27 2-10 2-16 2-27 2 31 2-19 2 52 2-18 2 0 2 20 2-27 2-16 2 1 2 14 2-36 2 9 2 20 2-5 2-14 2 43 2 2 2-43 2-2 2 40 2 4 2-41 2 23 2 8 2-13 2-32 2 62 2-30 2-29 2 38 2 9 2-44 2 60 2-19 2-27 2-8 2 53 2 2 2-12 2 11 2-16 2-30 2 44 2-59 2 52 2-27 2 26 2-43 2 10 2 31 2-26 2-10 2 24 2 21 2-4 2-14 2-7 2 22 2-7 2-37 2-13 2 0 2 15 2 23 2-25 2 47 2-20 2-27 2 0 2-10 2 24 2-8 2-3 2 5 2 13 2-36 2 49 2-10 2-25 2 20 2 28 2-52 2 12 2 35 2-2 2-44 2 13 2 28 2-49 2 40 2-22 2 25 2-18 2 7 2 6 2-23 2-12 2 5 2-6 2 21 2 5 2 27 2-58 2 32 2-28 2 3 2-7 2 14 2 35 2 6 2-44 2 45 2-15 2 2 2 15 2 1 2-3 2-52 2 36 2 0 2-19 2 5 2 35 2-43 2 42 2-2 2-16 2-6 2 11 2 4 2-29 2 11 2-7 2-12 2 22 2 13 2 4 2-36 2 37 2-2 2-10 2-28 2 32 2-34 2 26 2-34 2 34 2-5 2 12 2 16 2-14 2-33 2 30 2-35 2 43 2-25 2 4 2-5 2 9 2 20 2-42 2 37 2-21 2-23 2 15 2 14 2-23 2 47 2-6 2-10 2-16 2-17 2 44 2-32 2 38 2-7 2-52 2 45 2-41 2 3 2-13 2 47 2-28 2 36 2-36 2 0 2-7 2 2 2 16 2 32 2-2 2 2 2-5 2 7 2-45 2-5 2 27 2-7 2 1 2-28 2-5 2 9 2 4 2 42 2 2 2-54 2 0 2 58 2-48 2 33 2 2 2 16 2-50 2 20 2 21 2-42 2 42 2-23 2-15 2 30 2-35 2 2 2 39 2 11 2-23 2 20 2-2 2-24 2-27 2 39 2-18 2-4 2-5 2 9 2-3 2 15 2-17 2 27 2-26 2 38 2-5 2-40 2 24 2 1 2-26 2 22 2 14 2-22 2 27 2-4 2 5 2-56 2 9 2-7 2 45 2-35 2 36 2 3 2-18 2-32 2 46 2-3 2 13 2-55 2 28 2-1 2 11 2 18 2 1 2-51 2 33 2-22 2-6 2 7 2-13 2 22 2-18 2 41 2-27 2-13 2 40 2-19 2-17 2 0 2 36 2 0 2-45 2 49 2 8 2-10 2-48 2 29 2 14 2 6 2 6 2-8 2 0 2-49 2 39 2 3 2-40 2 45 2-42 2 30 2-2 2 16 2 2 2-22 2 9 2-38 2 34 2 7 2 7 2 4 2-58 2 22 2-9 2 11 2-2 2 32 2-28 2-25 2 14 2-11 2 34 2-30 2 30 2-33 2 5 2-5 2 15 2-18 2 55 2-18 2 13 2-12 2-18 2 34 2-23 2 26 2-47 2-12 2 30 2 5 2-42 2 10 2 25 2 6 2 11 2-19 2 20 2-51 2 17 2-6 2 10 2-19 2 54 2-10 2 5 2-2 2-13 2-21 2-13 2 2 2 40 2-21 2-1 2-16 2 14 2 35 2 6 2-13 2-2 2 0 2 11 2 6 2-47 2 39 2 5 2-6 2-43 2 42 2-42 2 50 2-1 2-45 2 50 2-53 2 10 2 34 2-13 2-32 2 52 2-20 2-23 2 25 2-31 2 55 2-43 2-4 2 4 2 36 2-25 2-18 2-12 2 24 2-12 2-10 2 17 2-19 2 22 2 12 2 23 2-54 2 44 2 1 2-30 2-11 2 28 2-25 2-2 2-7 2 35 2-33 2 53 2-57 2 18 2-19 2 27 2 27 2-16 2 17 2-56 2 49 2-4 2-27 2 13 2-27 2 5 2 42 2-40 2 39 2-36 2-19 2 6 2 36 2-27 2 47 2-51 2 37 2-3 2 8 2-35 2 6 2 18 2-14 2 26 2 0 2-29 2-14 2 5 2 46 2-43 2-14 2 50 2-56 2 20 2 30 2-43 2 46 2-41 2 28 2 9 2 3 2-52 2 38 2-20 2-25 2 36 2 16 2-7 2 0 2 2 2-37 2 35 2-38 2 24 2-34 2 54 2-6 2-4 2-43 2 9 2 32 2-16 2-48 2 18 2-31 2 30 2-37 2 42 2 18 2 8 2 18 2-15 2 8 2-19 2 10 2-12 2 15 2 3 2 27 2-1 2-43 2 9 2 6 2 6 2 2 2 7 2 25 2-45 2-10 2 45 2-3 2 6 2-53 2 9 2 18 2 35 2-47 2-6 2 28 2-18 2 36 2-33 2 50 2-51 2 43 2-24 2 31 2-12 2 19 2-53 2 2 2-5 2-9 2 18 2 34 2-58 2 8 2 42 2-41 2 46 2-52 2 55 2-51 2 24 2 16 2-16 2-28 2 24 2 0 2-1 2 25 2 0 2 2 2-47 2 3 2-7 2 17 2 36 2-5 2-27 2-4 2-18 2-1 2 46 2-48 2 0 2 3 2 58 2-52 2 52 2-17 2-43 2 30 2-32 2 42 2-30 2 39 2-35 2-16 2 20 2 21 2-14 2-10 2 14 2-31 2 44 2 11 2 2 2-42 2-9 2-4 2 28 2 4 2 3 2 3 2-26 2 34 2-4 2-21 2 19 2 6 2-3 2-11 2-23 2 28 2 0 2-19 2 2 2-3 2-51 2 7 2 31 2-17 2-12 2-18 2 7 2 28 2-30 2 58 2-36 2 23 2 22 2-31 2 3 2 3 2-4 2 8 2 40 2-13 2-4 2-35 2 16 2 40 2-10 2 5 2 7 2 2 2-10 2-42 2 36 2-30 2 36 2-30 2 41 2-18 2 15 2-50 2 22 2-28 2 14 2 1 2-8 2 10 2 36 2-16 2 20 2-15 2-34 2 53 2-62 2 38 2 10 2 12 2-40 2-3 2 42 2-7 2-48 2 26 2-6 2-19 2 55 2-17 2-41 2-4 2 53 2-11 2-47 2 27 2-19 2 32 2-39 2 3 2 38 2-42 2 50 2-12 2-11 2-6 2-7 2-43 2 13 2-36 2 15 2-17 2 19 2-52 2 41 2-7 2-10 2 23 2 6 2-27 2 48 2-33 2 56 2 1 2-33 2 31 2 24 2-16 2-10 2-6 2 39 2 18 2-7 2 2 2 4 2-11 2 9 2-33 2-9 2 51 2-24 2-30 2-1 2 56 2-20 2-8 2-22 2 44 2-23 2-16 2 35 2-11 2-39 2-3 2 19 2 20 2-30 2 49 2-39 2 26 2 5 2-37 2 45 2-11 2-17 2 0 2 18 2 13 2-45 2 8 2 7 2-33 2 18 2 19 2 8 2-16 2-23 2 38 2-7 2 4 2-24 2-11 2-15 2 27 2-47 2-15 2 6 2-48 2 23 2-24 2-4 2-7 2-30 2-2 2 14 2 11 2 17 2 18 2 42 2 17 2 28 2 1 2 1 2-29 2 43 2 11 2-22 2-26 2 6 2-1 2 1 2-1 2 28 2 21 2-39 2-3 2 10 2 50 2-26 2 15 2 7 2-10 2-6 2-1 2 2 2-36 2 6 2 36 2-20 2 17 2-27 2 7 2 17 2 17 2 5 2 3 2-1 2-48 2 38 2 1 2-53 2 29 2-6 2 26 2 13 2-36 2 25 2-30 2 33 2-43 2 39 2-29 2-10 2-14 2-3 2 15 2 1 2-15 2 59 2-51 2 9 2-3 2-16 2 6 2 26 2-22 2-14 2 63 2 0 2-53 2 3 2 31 2-43 2 70 2-36 2 39 2-15 2-26 2 32 2-25 2 10 2 12 2-1 2 5 2-61 2 72 2-17 2-44 2 2 2 51 2-1 2 0 2-38 2-16 2 33 2-17 2-12 2 4 2 48 2-21 2 16 2-53 2 68 2 0 2-70 2 62 2-56 2 57 2-45 2 51 2-37 2 41 2-49 2-15 2-1 2-2 2 31 2-27 2 71 2-27 2 10 2 17 2-60 2-16 2 39 2-30 2 30 2 26 2 3 2-9 2 16 2-17 2-22 2-10 2 18 2-22 2 17 2 36 2-2 2-29 2-27 2 44 2-59 2 11 2 1 2 41 2 1 2 8 2 1 2-10 2-28 2 40 2 1"/><path d="M174 1389l2-42 2 44 2-62 2 14 2-3 2 3 2 16 2-9 2 24 2-16 2 33 2-9 2-19 2-22 2 47 2-27 2 29 2-34 2 32 2-44 2 50 2-31 2 39 2-21 2-28 2 2 2 32 2 4 2-46 2 22 2-33 2 64 2-3 2-6 2 11 2-32 2 29 2-49 2 4 2-16 2 8 2 30 2-23 2 19 2-36 2 7 2 1 2 48 2-5 2-28 2 40 2-15 2 8 2-39 2 31 2-46 2 18 2 34 2-12 2 8 2-34 2 27 2-12 2 33 2-28 2-12 2-4 2-22 2 17 2 40 2-42 2-11 2 38 2-13 2-17 2 48 2 7 2-66 2 56 2-37 2-13 2-5 2 1 2 44 2-7 2 16 2-32 2 15 2 25 2-6 2-42 2 3 2 7 2-5 2-11 2 26 2-15 2-20 2 33 2 23 2-56 2 48 2 14 2-64 2 21 2 46 2-20 2 10 2-19 2 8 2 11 2-16 2-8 2 30 2-15 2-16 2 36 2 2 2-19 2 20 2-58 2 51 2-58 2 6 2 29 2-1 2 26 2-63 2 14 2 7 2 31 2-46 2 59 2-41 2-13 2-11 2 54 2-23 2 22 2 5 2-24 2-39 2 56 2-35 2 42 2-60 2 47 2-47 2 37 2 7 2-4 2 13 2 8 2-54 2 14 2-7 2 6 2 23 2-6 2-37 2 41 2-24 2 13 2 4 2-34 2 2 2 55 2-3 2-53 2-7 2 4 2 57 2-37 2 36 2-28 2-23 2 7 2 13 2-9 2 21 2 12 2 13 2-7 2-40 2 1 2 12 2 27 2-29 2 33 2 4 2-8 2-22 2 9 2 14 2-39 2-15 2 28 2 25 2-40 2 32 2 14 2-59 2-4 2 22 2 15 2-5 2 25 2-52 2 0 2 9 2 2 2 31 2-14 2 29 2-31 2 19 2 8 2-54 2 15 2 31 2-30 2 36 2-12 2-31 2 41 2-42 2 30 2 6 2-1 2 13 2-18 2-36 2 39 2-33 2 9 2 32 2 0 2 2 2-15 2 1 2-5 2 23 2-44 2 39 2-32 2 33 2-48 2-1 2 36 2-39 2 60 2-54 2 40 2 6 2 6 2-16 2-10 2 28 2-42 2-17 2 15 2 0 2 26 2-3 2-27 2 1 2 35 2-13 2 6 2-26 2-15 2 5 2 26 2-33 2 24 2 23 2-19 2 22 2-43 2 11 2 14 2-1 2-22 2 11 2 36 2-47 2 4 2 7 2 10 2-11 2 28 2 13 2-47 2 39 2 5 2 3 2-53 2 7 2 23 2-5 2-20 2 34 2-9 2-14 2 7 2-22 2 47 2-18 2-18 2-19 2 49 2 0 2 1 2 7 2-24 2 9 2 5 2-11 2-33 2 50 2-31 2-22 2 37 2-37 2 54 2-25 2-23 2 5 2-11 2 26 2 12 2 1 2-32 2 9 2 39 2-16 2-35 2 42 2-12 2-26 2 36 2 10 2-54 2 8 2 42 2-52 2 1 2 56 2-17 2-38 2 1 2 27 2 4 2 30 2-3 2-27 2-18 2 47 2-4 2-37 2 9 2-16 2-4 2 45 2-8 2-4 2-26 2 33 2-30 2-3 2-8 2-5 2 15 2 41 2-43 2 45 2-5 2 1 2 8 2-10 2-41 2-2 2 32 2-6 2 19 2-39 2 38 2-46 2 31 2-34 2-3 2 33 2 12 2-46 2 40 2-39 2 24 2-25 2 13 2-14 2 48 2-32 2-12 2 1 2 41 2 9 2-48 2 37 2-1 2-4 2-18 2-6 2 31 2-26 2 20 2-24 2-15 2 55 2-31 2-11 2-7 2 47 2-22 2-23 2 53 2-57 2 0 2 46 2 11 2-16 2 0 2 13 2-1 2 2 2-14 2-26 2-5 2-12 2 55 2-21 2 25 2-48 2-14 2 54 2-7 2-22 2 28 2-47 2 28 2-8 2 15 2 13 2-3 2-43 2 26 2 9 2 2 2-48 2 13 2 7 2-22 2 52 2-6 2-7 2-16 2 17 2-9 2 27 2-20 2 3 2 7 2 4 2-12 2 1 2-24 2 45 2-50 2 44 2 4 2-4 2-34 2 23 2 12 2-14 2-36 2 43 2-14 2-33 2 33 2-35 2 31 2-19 2-21 2 6 2 39 2-2 2-8 2 4 2-28 2 21 2 12 2-30 2 29 2 6 2-38 2 0 2 21 2-30 2 62 2-40 2 4 2 8 2 26 2-9 2 4 2-39 2 42 2 3 2-34 2 25 2-27 2-9 2 0 2 16 2 14 2 20 2-24 2-20 2 32 2 11 2-52 2 9 2 32 2-8 2 6 2-25 2-20 2 61 2-48 2-3 2 11 2 39 2-39 2-9 2-8 2 27 2-15 2 45 2-56 2 48 2-14 2 12 2-2 2 12 2-42 2 28 2 9 2-50 2 11 2-14 2 31 2 4 2-36 2 60 2-49 2 47 2-42 2 7 2-7 2 22 2 9 2-34 2 4 2 34 2-10 2 12 2-44 2 2 2 10 2 12 2-20 2 7 2-13 2 15 2-30 2 18 2 33 2-9 2 8 2-37 2 27 2-31 2 26 2 22 2-35 2 0 2-7 2 6 2 9 2-25 2 36 2-4 2-27 2 12 2-6 2 45 2-22 2-36 2 36 2 13 2 2 2-48 2 52 2-23 2 19 2-18 2-27 2-4 2 34 2-29 2 13 2-30 2 53 2-54 2 56 2-56 2 9 2 8 2 0 2 8 2-24 2 30 2-39 2 11 2 0 2 14 2-19 2 6 2-15 2-14 2 14 2 4 2-28 2 29 2-12 2-29 2 12 2 6 2 2 2 41 2-1 2-1 2 16 2 32 2-44 2 2 2 42 2 12 2-9 2 12 2 0 2-64 2 26 2 31 2-42 2 30 2-43 2-5 2 50 2-48 2 40 2-8 2-21 2 37 2 4 2-22 2 3 2-22 2 18 2 20 2 17 2-18 2-12 2-5 2-9 2 29 2 9 2-39 2 38 2-13 2 20 2-11 2-35 2 7 2 35 2-58 2 19 2-9 2 33 2-7 2 17 2-28 2-3 2-3 2-25 2 54 2-24 2-32 2 56 2-41 2 42 2 4 2-18 2-19 2 32 2-7 2-16 2 39 2-14 2 16 2-52 2-11 2 37 2 18 2-38 2 40 2-17 2 0 2-17 2-1 2-21 2 4 2 39 2-18 2-36 2 55 2-21 2-5 2 29 2-31 2-3 2-9 2-7 2 21 2-23 2 7 2-9 2 7 2 31 2 7 2-25 2-1 2 5 2 1 2-6 2 13 2 14 2-14 2 18 2-13 2-24 2-14 2 21 2-1 2 6 2-37 2-26 2 0 2 42 2-61 2 41 2-24 2-3 2 5 2-16 2-6 2 51 2-9 2-18 2 49 2-34 2 10 2-8 2 65 2-18 2 11 2-24 2-5 2-2 2 44 2-10 2 18 2-59 2 54 2 2 2-2 2-51 2 36 2 17 2-35 2-16 2 44 2-27 2 23 2 1 2-20 2 33 2-55 2 23 2 18 2 12 2-43 2-3 2 49 2-49 2 4 2 34 2-17 2 9 2-35 2-1 2 14 2 36 2 6 2-44 2 43 2-42 2 16 2 24 2-58 2 18 2 39 2-31 2 2 2 18 2-51 2 13 2-16 2 40 2-18 2-8 2-14 2 33 2-8 2-48 2 38 2-41 2 3 2 27 2-19 2-42 2 20 2-58 2 19 2-5 2 8 2-4 2-15 2 16 2-26 2 5 2 30 2 32 2-6 2 33 2 11 2-24 2 6 2 33 2-16 2-14 2 56 2-34 2 38 2-31 2-7 2 42 2-30 2-14 2-3 2 48 2-45 2 51 2-11 2 12 2-54 2 33 2 21 2-24 2-32 2 54 2-31 2-6 2-13 2-10 2 43 2-23 2-11 2 46 2-52 2 44 2 4 2-10 2 1 2-40 2 58 2-7 2-25 2 0 2-17 2 12 2-17 2 29 2 16 2-56 2 61 2-47 2-14 2-8 2 16 2-16 2-4 2-11 2 52 2-14 2-57 2-9 2-26 2-16 2 29 2-47 2-15 2-31 2-27 2 33 2 12 2-1 2-15 2 61 2 27 2 9 2 6 2 5 2 42 2-12 2 37 2 8 2 27 2-9 2 13 2-37 2 7 2 21 2-20 2 11 2-1 2 13 2-44 2 45 2-17 2-20 2 29 2 35 2-27 2-16 2 45 2-65 2 50 2-49 2 57 2-33 2-2 2 37 2-1 2-52 2 17 2-4 2-2 2 40 2-54 2-4 2 53 2-23 2-5 2 22 2-43 2 59 2-55 2 31 2-10 2 0 2 15 2-10 2 9 2-49 2 25 2-13 2 36 2 17 2-40 2 41 2-12 2 2 2-1 2 9 2-36 2-32 2 38 2 14 2 9 2-53 2 14 2-21 2 58 2-59 2 26 2 35 2-5 2-5 2 20 2-1 2-58 2-8 2 4 2 31 2-36 2 43 2-26 2 8 2-15 2 43 2-50 2 59 2-3 2 18 2-50 2-3 2 21 2 7 2 12 2-1 2 8 2-21 2-34 2 46 2 1 2-33 2-14 2 19 2 20 2-53 2 5 2 63 2-9 2 16 2-13 2 11 2-57 2-1 2 18 2 6 2 32 2-52 2-5 2 55 2-35 2 20 2-38 2 4 2 46 2-17 2 26 2 9 2-51 2 0 2-6 2 51 2-40 2-20 2 54 2-33 2 24 2-34 2 54 2-10 2 10 2-2 2-63 2 8 2 14 2 26 2-48 2 31 2-22 2 26"/><path d="M174 1366l2-30 2 2 2 11 2 33 2-5 2-30 2 7 2 45 2 1 2-1 2 3 2-1 2-47 2 12 2-27 2 62 2-16 2 15 2-47 2 0 2-10 2 5 2-5 2 18 2 28 2-49 2 16 2 13 2 17 2-42 2 13 2-20 2 14 2 8 2 1 2 14 2 25 2-2 2 0 2-10 2-34 2 39 2-49 2 11 2-12 2 57 2-57 2 34 2-22 2 45 2 1 2-20 2-37 2 27 2-21 2-18 2 19 2 46 2-47 2 24 2 6 2 10 2-39 2 1 2 40 2-3 2-9 2-28 2 11 2-14 2-11 2 14 2 33 2-43 2-2 2 53 2-53 2-6 2-3 2 60 2-13 2-32 2 28 2-10 2 24 2-43 2 32 2-2 2-14 2-16 2 46 2-1 2-22 2-26 2-5 2-3 2 29 2-18 2 47 2-23 2 10 2 2 2-2 2 7 2-34 2 37 2-48 2 56 2 3 2-44 2 32 2-52 2 11 2 50 2-3 2-35 2-17 2 47 2-50 2 0 2 13 2 5 2 28 2 1 2-33 2 47 2-16 2 11 2-53 2-1 2 3 2 11 2 33 2-53 2 41 2-26 2 30 2-19 2-10 2 10 2 13 2 20 2-47 2 20 2-37 2 37 2 12 2 0 2 3 2-2 2-25 2 30 2-33 2 3 2 38 2-29 2 13 2 7 2-51 2 51 2-30 2 15 2-15 2 11 2-20 2 19 2 27 2-1 2-31 2-21 2-5 2 29 2 5 2-28 2 56 2-51 2 34 2 16 2-11 2-16 2 13 2-19 2 26 2 2 2 6 2-46 2 30 2-32 2 33 2 11 2-23 2-28 2 3 2 10 2 27 2-2 2-43 2 47 2-41 2 0 2 0 2 6 2 21 2-11 2-13 2 46 2-8 2-15 2-26 2 42 2-43 2 34 2 4 2 8 2-2 2-29 2-5 2 38 2 2 2-8 2-50 2 53 2-37 2 32 2-9 2-23 2 41 2 4 2-48 2 44 2-55 2 22 2 9 2-34 2 4 2 25 2 27 2-21 2 0 2 26 2-48 2 45 2-27 2-26 2 52 2-55 2 58 2-46 2 11 2-23 2 16 2 12 2-31 2 15 2 46 2-32 2 28 2-6 2-42 2 15 2-6 2 30 2 11 2-33 2 4 2 27 2-31 2 29 2 0 2 7 2-51 2 15 2-18 2 40 2 8 2-53 2 13 2 17 2 14 2-26 2 21 2-46 2 6 2 36 2 16 2-3 2-33 2 11 2-30 2 40 2-24 2 14 2 13 2 18 2-17 2-25 2 24 2 9 2 7 2-47 2 34 2-39 2 35 2-6 2-5 2-24 2-5 2 58 2-16 2-13 2 23 2-47 2-9 2 9 2 43 2-1 2-42 2 0 2 6 2 35 2-48 2 1 2 25 2-21 2 52 2-35 2-11 2 3 2 34 2 4 2 1 2-40 2-11 2 0 2 40 2-37 2 38 2-34 2 19 2 8 2 4 2 14 2-2 2-24 2-15 2 26 2-33 2 42 2-26 2-7 2-1 2 48 2-37 2 19 2 8 2-13 2-22 2 11 2 35 2-25 2-33 2 57 2-53 2 7 2 13 2 16 2-33 2 7 2 17 2 12 2-12 2 21 2-13 2-8 2-31 2-1 2 27 2-9 2 14 2-21 2 51 2-12 2-39 2-14 2 33 2-25 2 29 2-30 2 22 2 29 2-50 2 37 2-45 2 4 2 19 2-3 2 33 2-30 2 20 2-8 2-3 2 24 2-21 2-38 2 28 2 26 2 9 2-1 2-55 2 10 2-13 2 7 2-5 2 59 2-41 2-12 2 51 2-17 2-3 2-31 2 45 2 4 2-32 2 1 2-7 2-2 2-5 2 45 2-12 2-32 2 6 2-12 2 45 2 3 2-14 2-35 2-1 2 37 2-11 2 17 2-33 2 19 2 6 2-6 2-15 2-6 2 40 2-31 2-12 2-12 2 3 2 5 2 3 2 15 2-7 2-6 2 39 2-31 2 9 2-12 2 41 2-61 2 27 2-2 2 35 2-56 2 57 2-5 2-28 2-21 2 2 2 2 2 37 2-45 2 17 2 16 2 25 2-58 2 55 2-43 2-15 2 53 2-39 2 37 2-13 2-13 2 19 2-44 2 39 2-35 2 25 2 7 2-50 2 36 2-42 2 8 2 52 2 2 2 4 2-37 2-6 2 35 2-8 2-33 2 26 2-25 2 24 2 9 2-25 2 34 2-20 2 42 2-24 2 1 2-38 2 52 2-18 2 7 2-27 2-10 2 30 2 20 2-10 2 2 2 4 2-12 2 22 2-35 2 33 2-58 2 18 2 11 2-18 2 35 2-46 2 24 2 24 2-2 2-44 2 44 2-27 2 41 2-48 2 30 2-30 2 8 2-12 2 11 2 2 2 36 2-47 2 30 2-34 2 4 2 24 2 25 2-5 2-6 2-32 2 19 2 20 2-29 2 21 2-41 2 56 2-45 2 40 2-41 2 43 2-41 2-3 2 40 2-52 2 43 2-14 2-14 2 17 2 15 2-35 2-16 2 18 2 34 2-49 2 44 2-6 2-7 2-18 2-21 2 48 2-41 2-3 2 39 2-39 2 41 2-4 2-36 2 30 2-24 2 12 2 19 2 16 2 3 2-53 2 49 2-16 2 1 2 0 2 9 2-49 2 23 2 30 2-9 2 5 2-19 2 20 2-21 2 15 2 0 2-22 2-34 2 41 2 8 2-37 2 7 2-11 2 47 2-3 2-35 2 39 2-32 2 19 2-35 2 10 2-30 2 16 2 22 2 12 2-58 2 1 2 27 2-39 2-18 2 25 2 4 2-30 2-19 2 38 2-10 2 6 2 42 2-35 2 37 2-11 2-3 2 44 2-2 2-21 2 54 2-43 2-6 2 42 2-16 2-20 2-20 2 3 2 12 2 27 2 5 2-3 2 7 2-6 2 5 2-36 2 10 2 10 2-20 2-12 2 2 2 63 2-40 2 13 2-16 2 4 2 40 2-39 2 26 2 0 2 5 2-12 2 12 2 20 2-18 2-15 2-4 2-10 2-11 2 6 2-18 2 18 2-10 2-6 2 6 2 22 2 18 2-45 2 35 2-20 2 21 2-45 2 54 2-59 2 59 2-44 2 13 2 29 2-36 2 34 2-43 2 52 2-9 2 7 2 9 2-41 2-17 2 47 2 3 2-36 2 35 2-10 2-47 2 29 2-9 2 15 2 11 2-6 2-7 2 2 2 14 2-55 2 57 2-50 2 8 2-5 2 9 2 45 2 3 2-54 2 36 2 5 2-9 2-22 2 35 2-15 2-15 2-32 2 7 2 52 2-54 2 26 2 10 2-18 2 28 2-17 2 8 2-11 2-36 2-35 2 1 2 13 2-3 2-32 2-14 2-8 2 34 2-12 2 19 2-5 2 0 2 4 2 12 2 3 2 30 2-2 2 31 2 27 2-1 2 4 2-52 2 26 2 31 2-41 2 46 2-12 2 4 2-19 2-33 2 31 2 23 2-30 2 13 2-22 2 29 2 3 2-3 2-38 2 48 2 9 2-27 2 21 2 3 2-10 2-28 2-7 2-15 2 53 2-38 2 34 2 0 2-31 2-13 2-4 2 22 2-10 2-2 2-3 2 12 2 40 2-47 2 17 2-19 2 42 2-10 2-44 2 37 2-34 2 2 2 40 2-39 2 21 2-43 2 20 2-5 2-8 2-7 2 33 2-48 2 7 2 18 2-57 2 19 2-47 2-5 2 15 2-55 2 27 2-41 2 30 2-37 2 15 2 26 2 19 2 11 2 19 2 16 2-3 2 33 2-26 2 42 2-33 2 61 2 0 2-31 2 31 2 11 2 10 2-36 2 4 2 17 2-27 2 38 2 12 2-33 2-6 2-6 2 18 2-26 2 54 2-39 2-20 2 34 2 15 2-16 2-37 2 27 2 25 2-62 2 28 2 8 2 4 2 18 2-35 2 19 2 20 2-20 2-23 2 43 2-1 2 12 2-55 2 32 2-32 2 10 2-2 2-15 2 51 2-5 2-44 2 20 2 3 2 6 2-1 2-8 2-8 2-22 2-34 2-5 2-22 2-46 2 40 2-33 2-44 2-9 2-30 2-18 2-15 2 26 2-6 2 45 2-12 2 39 2 74 2-28 2 77 2 12 2 3 2 27 2 6 2 8 2-59 2 67 2-50 2 38 2 11 2-36 2-4 2 50 2-41 2 33 2-4 2-23 2 31 2 3 2-47 2 17 2 41 2-13 2 1 2-26 2-14 2 13 2-21 2 41 2-27 2-10 2 59 2-15 2-30 2-17 2 13 2 36 2-35 2 10 2 40 2-37 2-27 2 21 2 18 2-46 2 10 2 39 2-44 2 19 2 35 2-50 2-11 2 64 2 1 2 0 2-4 2-24 2-29 2 44 2-11 2 12 2-13 2 11 2 2 2-13 2-44 2 47 2 7 2-19 2-16 2-3 2-6 2 3 2 9 2-8 2-6 2 54 2-39 2-5 2 35 2-37 2 54 2-53 2-11 2 65 2-25 2 20 2 1 2 14 2-10 2-47 2 58 2 3 2-20 2 20 2-65 2 68 2-3 2-3 2-21 2-29 2 30 2-42 2 35 2-46 2 7 2 51 2-58 2 45 2 18 2-8 2 11 2 8 2-54 2-7 2 16 2 30 2 25 2-47 2-15 2-10 2 11 2 3 2-4 2 7 2 49 2-54 2 11 2 28 2-46 2 53 2-26 2 32 2 1 2-15 2-47 2 26 2 28 2-49 2 18 2 44 2-6 2 0 2-14 2 18 2 2 2-68 2 53 2 15 2-4 2-59 2 59"/><path d="M174 1342l2 34 2-10 2 6 2 26 2-1 2-50 2 33 2 5 2-12 2 3 2 24 2-17 2-10 2 5 2-1 2-42 2 50 2-27 2 35 2-54 2 10 2 17 2-2 2 19 2-24 2 34 2-47 2 16 2-27 2 2 2 63 2-6 2-47 2 42 2 2 2-32 2 38 2-44 2-16 2 25 2-23 2 0 2 15 2 44 2-52 2 14 2 39 2-60 2 51 2-14 2 4 2-35 2 33 2-29 2 28 2 20 2-42 2 33 2 3 2-51 2 44 2-27 2 23 2-35 2-4 2 19 2-15 2 27 2-36 2 61 2-35 2 37 2-14 2 6 2-30 2 27 2-10 2-38 2 56 2-12 2 4 2-23 2 4 2 11 2-49 2 46 2-25 2 25 2-37 2 3 2-7 2 60 2-45 2 23 2-16 2-9 2 46 2-62 2 6 2-10 2 28 2 31 2-6 2-42 2 33 2-29 2 1 2 50 2 0 2-23 2 0 2 1 2-6 2 34 2-9 2-54 2 2 2 9 2-11 2 54 2-36 2-3 2 36 2-32 2 41 2-24 2-9 2 24 2-17 2-6 2-4 2 7 2 27 2-48 2-17 2 26 2 31 2 8 2-45 2 24 2-5 2-28 2 8 2-10 2-12 2 16 2 38 2-15 2-33 2-1 2 59 2-42 2-17 2 24 2 7 2-13 2-19 2-1 2 47 2 14 2-63 2-1 2 27 2-9 2-16 2 3 2 14 2 40 2-31 2-13 2 38 2-9 2 21 2-2 2-5 2-6 2 9 2-54 2 23 2-8 2 34 2-42 2 26 2 16 2-36 2 13 2-12 2 39 2-29 2 16 2-26 2 48 2-47 2 21 2 8 2-23 2 39 2-37 2 3 2 17 2-44 2 20 2 18 2-24 2-7 2-14 2 5 2 0 2 10 2 17 2-30 2 2 2 14 2 9 2 8 2-24 2 35 2 12 2-49 2 53 2-14 2 7 2-14 2 2 2-34 2 0 2 21 2-25 2 22 2 13 2-21 2 31 2 9 2-1 2-5 2-9 2 4 2-3 2-15 2-2 2 32 2 2 2-45 2 36 2 1 2 2 2-53 2 51 2-9 2 9 2 0 2-3 2-35 2-1 2 21 2-35 2-1 2 46 2 6 2-50 2 47 2 14 2-61 2 50 2-1 2-7 2-36 2 57 2 1 2-42 2 37 2-29 2 8 2 17 2-36 2-3 2-15 2-2 2 13 2 37 2-48 2 32 2-10 2 26 2-6 2-7 2-25 2 14 2 36 2-23 2-31 2 16 2 33 2 4 2-53 2-3 2 2 2 7 2-10 2 40 2-17 2 32 2-16 2-44 2 15 2-9 2-2 2 40 2-7 2 21 2-49 2-3 2 30 2 24 2-10 2 12 2-20 2-29 2 3 2 24 2-6 2 18 2-47 2 55 2-9 2 7 2-19 2-5 2-12 2 36 2 0 2-31 2 4 2-16 2-3 2 0 2-1 2-3 2 38 2-20 2-18 2 23 2-32 2 59 2-50 2 40 2 13 2-8 2-44 2 3 2 22 2-10 2-6 2 31 2-29 2 43 2-48 2-7 2-2 2 46 2-35 2 37 2-1 2-27 2-6 2-15 2 17 2 26 2-15 2 14 2 15 2-43 2 21 2 25 2-53 2 46 2 4 2-4 2-34 2 9 2 15 2-33 2 48 2-15 2-10 2-36 2 0 2 9 2 15 2-10 2 44 2-9 2-33 2 25 2-2 2 19 2-4 2-57 2-4 2 37 2 15 2-23 2 29 2 1 2-23 2 19 2-22 2 24 2-4 2-29 2 26 2 17 2-30 2-6 2-11 2 20 2-31 2 57 2-22 2 8 2 3 2-17 2 12 2-25 2 32 2 5 2-9 2-30 2 47 2-3 2-11 2-39 2 47 2-49 2 4 2 33 2 1 2 0 2-33 2 24 2-32 2 7 2 8 2-10 2 4 2 46 2-43 2 21 2 16 2-34 2 22 2-36 2 7 2 20 2 22 2-1 2-20 2-5 2-19 2 10 2-11 2-2 2-9 2 54 2-46 2 14 2 24 2-22 2-15 2 1 2 40 2-19 2-4 2-22 2 47 2-6 2-37 2 46 2-7 2-6 2-2 2-27 2 39 2-46 2 49 2-51 2-8 2 4 2 40 2-43 2 30 2 9 2-49 2 52 2-60 2 22 2-5 2 3 2 15 2 7 2 16 2 12 2-14 2 15 2 0 2 0 2 0 2-43 2 1 2-1 2 42 2-13 2-31 2 20 2-23 2 17 2 2 2 36 2-33 2-7 2 43 2-10 2-32 2 32 2-11 2-3 2-31 2-2 2 13 2 18 2-19 2-13 2 9 2-10 2 57 2-19 2-23 2 21 2-11 2-13 2 16 2 27 2-12 2-7 2 9 2-6 2-30 2 40 2-24 2-9 2-15 2 11 2 31 2-14 2-5 2 30 2-55 2 61 2-60 2 4 2-3 2 47 2-46 2 6 2 1 2-1 2 35 2-28 2-15 2 21 2-11 2-11 2 45 2 5 2-34 2 17 2 4 2 9 2-32 2-6 2 19 2 24 2-42 2-12 2 49 2-11 2 8 2 11 2-3 2-55 2 2 2 49 2-49 2 54 2-50 2 9 2-1 2-5 2 31 2-27 2 2 2 30 2 11 2-27 2 17 2 15 2-8 2-1 2-51 2 5 2 16 2 12 2-4 2 12 2 3 2-35 2 27 2-31 2 18 2 5 2-45 2 11 2 3 2-3 2 10 2-17 2 6 2 42 2-13 2 17 2-11 2-33 2-14 2 31 2-8 2-23 2-21 2 49 2-12 2 0 2-49 2 9 2-6 2-13 2 14 2-6 2 6 2-9 2 31 2 15 2-6 2-24 2 27 2 15 2 42 2 8 2-36 2 6 2 2 2-9 2 18 2 21 2-12 2-27 2 37 2-33 2 6 2-36 2 42 2-6 2-15 2-7 2 20 2-35 2-5 2 22 2 16 2 26 2 6 2-44 2 1 2 59 2-12 2-41 2 35 2-33 2 39 2-4 2-19 2-12 2-1 2 33 2-21 2 16 2-17 2-18 2 43 2-17 2-29 2 20 2-23 2 43 2-38 2 5 2 15 2 3 2-38 2 52 2-11 2 8 2-21 2-10 2 32 2-15 2-32 2 24 2 25 2 17 2-13 2 6 2-43 2 51 2-18 2 2 2 14 2-14 2 9 2-56 2 50 2-16 2-27 2 9 2 19 2 1 2-35 2 42 2-27 2 17 2-7 2 23 2-62 2 56 2-46 2 0 2-5 2 2 2 4 2 19 2 15 2-13 2-25 2 49 2-40 2-17 2 27 2-16 2 42 2-41 2 19 2-4 2-1 2 14 2-9 2-52 2 36 2-53 2-2 2 18 2-17 2 4 2-21 2-43 2 37 2-10 2-34 2 26 2 14 2-12 2 71 2 16 2 12 2 9 2 2 2 14 2-45 2 50 2 8 2-13 2-19 2 34 2-8 2 14 2-1 2-51 2 51 2-12 2-46 2 59 2-24 2-29 2 31 2 18 2 8 2-32 2 34 2-49 2 0 2 11 2 27 2-12 2 1 2-25 2 35 2-35 2 20 2-11 2 19 2 1 2 9 2-3 2-38 2 21 2 25 2-53 2-3 2-6 2 7 2-3 2 36 2 7 2-44 2 38 2-27 2-17 2 46 2 7 2-49 2 1 2-20 2 22 2 34 2-8 2-6 2-59 2-5 2 41 2-60 2-12 2 17 2-54 2 8 2 13 2-22 2-29 2-50 2 22 2-28 2 2 2 61 2-2 2 0 2-8 2 60 2-27 2 65 2-30 2 1 2 69 2-6 2-32 2 17 2 53 2-49 2 48 2-44 2 8 2 55 2-45 2 49 2-7 2-2 2 0 2-7 2-44 2 1 2 48 2 3 2-47 2 38 2-41 2 45 2-42 2 35 2-9 2-47 2 19 2-13 2 39 2-16 2 27 2 5 2-36 2 38 2-36 2-9 2 40 2-22 2 35 2-54 2 37 2-17 2-17 2 49 2-13 2-33 2-10 2 20 2 20 2-50 2 1 2-3 2-12 2-16 2 31 2-47 2-9 2-41 2 9 2-35 2-19 2-19 2-28 2-18 2-31 2 10 2-37 2 18 2 46 2 58 2 7 2 46 2 25 2 38 2 6 2-9 2 52 2 12 2 8 2-43 2 19 2 40 2-17 2-14 2 30 2-5 2 5 2-6 2 15 2-36 2 26 2 10 2-38 2-1 2 62 2-10 2-51 2-3 2 52 2 11 2-30 2-4 2 25 2 1 2-27 2-28 2 55 2-29 2 10 2 3 2-1 2-29 2 56 2-38 2 25 2-7 2 17 2-48 2 1 2 38 2 9 2-47 2 28 2 17 2-42 2-11 2 43 2-8 2 16 2-34 2-18 2 46 2-44 2 52 2-51 2 42 2-11 2-49 2 35 2 17 2 4 2 7 2-45 2 8 2 25 2-36 2 9 2 36 2-47 2 46 2-7 2 9 2-31 2-12 2 46 2-46 2 9 2 41 2-19 2-21 2 10 2-23 2 7 2 51 2-9 2 16 2-63 2 0 2 22 2 30 2-7 2 4 2-35 2 35 2-36 2 34 2-37 2 0 2 13 2-1 2 20 2-60 2 43 2 27 2-63 2 72 2-67 2 35 2-3 2-28 2 21 2 20 2 27 2-15 2 6 2 11 2-70 2 17 2 34 2 21 2-53 2 47 2-60 2 28 2 38 2-10 2 10 2-34 2-23 2 1 2 45 2-18 2-3 2 28 2-38 2 19 2 5 2-43 2 63 2-10 2 10 2-30 2 4 2-34 2 11 2-6"/></g>
</g>
<g transform="scale(0.5)">
<defs><pattern id="pat5u" width="74" height="58" patternUnits="userSpaceOnUse"><rect width="74" height="58" fill="#ff0000"/><path d="M30 2h2v2h-2zM38 2h2v4h-2zM50 6h4v4h-4zM6 8h4v2h-4zM24 8h4v4h-4zM16 14h2v4h-2zM16 16h2v4h-2zM44 16h4v2h-4zM70 16h2v2h-2zM0 22h2v4h-2zM6 24h4v2h-4zM64 24h2v2h-2zM14 28h4v4h-4zM20 28h2v4h-2zM4 30h4v4h-4zM10 30h4v2h-4zM36 32h2v4h-2zM8 34h4v2h-4zM14 36h4v4h-4zM28 36h2v2h-2zM64 36h4v4h-4zM26 42h2v4h-2zM38 42h4v4h-4zM62 42h2v4h-2zM66 42h4v4h-4zM50 44h2v4h-2zM64 44h2v2h-2zM70 44h2v2h-2zM18 46h2v2h-2zM70 48h2v2h-2zM30 50h4v4h-4zM36 50h4v4h-4zM30 52h2v4h-2zM44 52h2v4h-2zM46 52h2v4h-2zM58 52h2v2h-2zM60 52h2v4h-2zM56 54h2v4h-2zM10 56h4v2h-4zM18 56h2v4h-2z" fill="#fff"/></pattern></defs>
<defs><pattern id="pat5l" width="74" height="58" patternUnits="userSpaceOnUse"><rect width="74" height="58" fill="#ff0000"/><path d="M36 54h4v2h-4zM48 56h4v2h-4z" fill="#fff"/></pattern></defs>
<defs><pattern id="pat5s" width="74" height="58" patternUnits="userSpaceOnUse"><rect width="74" height="58" fill="#ff0000"/><path d="M0 0h2v4h-2zM4 0h2v4h-2zM6 0h2v4h-2zM8 0h2v2h-2zM12 0h2v2h-2zM18 0h4v2h-4zM20 0h4v4h-4zM28 0h4v2h-4zM48 0h2v4h-2zM52 0h4v4h-4zM58 0h4v2h-4zM60 0h4v4h-4zM68 0h2v4h-2zM70 0h4v2h-4zM0 2h4v2h-4zM10 2h2v4h-2zM12 2h4v4h-4zM20 2h2v4h-2zM22 2h4v4h-4zM32 2h4v4h-4zM40 2h4v2h-4zM42 2h4v2h-4zM46 2h2v4h-2zM50 2h2v2h-2zM56 2h4v2h-4zM58 2h2v2h-2zM62 2h4v4h-4zM64 2h4v2h-4zM68 2h4v4h-4zM0 4h4v2h-4zM4 4h4v2h-4zM6 4h4v4h-4zM20 4h2v4h-2zM22 4h2v2h-2zM24 4h2v4h-2zM28 4h4v2h-4zM30 4h2v2h-2zM34 4h4v2h-4zM36 4h4v4h-4zM38 4h2v4h-2zM42 4h2v2h-2zM44 4h4v4h-4zM46 4h4v2h-4zM50 4h4v2h-4zM56 4h4v2h-4zM64 4h2v4h-2zM66 4h4v2h-4zM4 6h4v2h-4zM8 6h2v2h-2zM10 6h4v2h-4zM16 6h2v2h-2zM22 6h4v4h-4zM26 6h4v2h-4zM32 6h4v2h-4zM44 6h2v4h-2zM50 6h2v2h-2zM52 6h2v4h-2zM54 6h4v2h-4zM58 6h4v2h-4zM62 6h4v2h-4zM70 6h2v4h-2zM72 6h2v4h-2zM0 8h2v4h-2zM4 8h4v2h-4zM8 8h2v2h-2zM12 8h4v4h-4zM22 8h2v4h-2zM26 8h2v2h-2zM28 8h2v2h-2zM44 8h2v4h-2zM54 8h2v2h-2zM58 8h4v2h-4zM64 8h2v4h-2zM70 8h2v4h-2zM72 8h2v2h-2zM0 10h2v2h-2zM4 10h2v4h-2zM14 10h2v4h-2zM18 10h4v2h-4zM20 10h4v2h-4zM32 10h2v2h-2zM46 10h4v2h-4zM54 10h4v2h-4zM58 10h2v2h-2zM60 10h4v4h-4zM64 10h2v4h-2zM66 10h2v4h-2zM0 12h4v4h-4zM2 12h2v4h-2zM8 12h2v2h-2zM22 12h4v2h-4zM26 12h2v2h-2zM28 12h2v2h-2zM36 12h4v2h-4zM50 12h4v2h-4zM52 12h4v2h-4zM54 12h2v4h-2zM56 12h4v2h-4zM58 12h2v4h-2zM60 12h4v2h-4zM62 12h2v4h-2zM68 12h2v4h-2zM72 12h4v2h-4zM0 14h2v4h-2zM2 14h4v4h-4zM20 14h4v4h-4zM22 14h4v4h-4zM24 14h4v2h-4zM26 14h4v2h-4zM30 14h2v2h-2zM42 14h4v2h-4zM52 14h4v2h-4zM62 14h2v2h-2zM64 14h4v2h-4zM68 14h4v2h-4zM70 14h2v2h-2zM4 16h4v2h-4zM8 16h2v4h-2zM16 16h2v2h-2zM18 16h4v4h-4zM20 16h4v4h-4zM24 16h4v4h-4zM26 16h4v2h-4zM28 16h2v2h-2zM42 16h4v4h-4zM44 16h2v2h-2zM48 16h4v4h-4zM54 16h4v2h-4zM56 16h4v4h-4zM62 16h2v2h-2zM64 16h4v4h-4zM4 18h2v2h-2zM26 18h4v4h-4zM30 18h2v4h-2zM34 18h2v4h-2zM42 18h2v2h-2zM44 18h2v4h-2zM48 18h2v2h-2zM50 18h4v2h-4zM56 18h4v4h-4zM62 18h2v4h-2zM66 18h2v2h-2zM68 18h2v2h-2zM0 20h2v2h-2zM12 20h4v2h-4zM16 20h4v4h-4zM18 20h2v2h-2zM20 20h2v2h-2zM30 20h2v4h-2zM34 20h4v2h-4zM40 20h4v2h-4zM42 20h2v4h-2zM44 20h2v4h-2zM52 20h4v2h-4zM54 20h4v4h-4zM56 20h2v2h-2zM66 20h4v4h-4zM70 20h4v2h-4zM0 22h2v2h-2zM2 22h2v4h-2zM12 22h4v2h-4zM16 22h4v4h-4zM20 22h2v4h-2zM26 22h4v2h-4zM32 22h2v4h-2zM34 22h2v4h-2zM36 22h2v4h-2zM40 22h2v4h-2zM46 22h2v4h-2zM70 22h2v2h-2zM72 22h2v4h-2zM0 24h2v2h-2zM4 24h4v4h-4zM6 24h4v4h-4zM12 24h2v2h-2zM14 24h4v4h-4zM20 24h2v2h-2zM28 24h2v2h-2zM30 24h4v4h-4zM38 24h2v4h-2zM40 24h4v2h-4zM48 24h4v4h-4zM50 24h2v4h-2zM52 24h2v4h-2zM58 24h2v4h-2zM64 24h2v4h-2zM66 24h2v2h-2zM72 24h2v4h-2zM2 26h4v4h-4zM14 26h4v4h-4zM18 26h2v4h-2zM22 26h4v2h-4zM26 26h2v4h-2zM28 26h2v2h-2zM30 26h2v2h-2zM32 26h4v2h-4zM40 26h2v4h-2zM44 26h4v2h-4zM46 26h2v2h-2zM48 26h2v2h-2zM52 26h2v4h-2zM56 26h2v2h-2zM60 26h2v2h-2zM70 26h2v4h-2zM72 26h2v4h-2zM0 28h2v2h-2zM2 28h4v2h-4zM14 28h2v2h-2zM24 28h4v4h-4zM30 28h2v4h-2zM38 28h4v4h-4zM40 28h4v2h-4zM42 28h4v4h-4zM46 28h2v2h-2zM54 28h2v4h-2zM60 28h2v2h-2zM66 28h2v4h-2zM16 30h4v4h-4zM20 30h4v4h-4zM28 30h2v4h-2zM32 30h2v2h-2zM44 30h4v4h-4zM50 30h2v2h-2zM54 30h2v4h-2zM56 30h4v4h-4zM58 30h2v2h-2zM62 30h4v4h-4zM0 32h4v4h-4zM10 32h2v4h-2zM12 32h2v2h-2zM22 32h4v4h-4zM24 32h4v4h-4zM28 32h2v2h-2zM32 32h2v2h-2zM44 32h2v4h-2zM46 32h2v2h-2zM50 32h2v4h-2zM52 32h4v4h-4zM54 32h2v4h-2zM56 32h2v4h-2zM62 32h4v2h-4zM68 32h2v2h-2zM2 34h4v4h-4zM8 34h4v2h-4zM14 34h4v4h-4zM16 34h2v4h-2zM20 34h2v4h-2zM22 34h4v4h-4zM26 34h4v4h-4zM30 34h4v2h-4zM32 34h2v2h-2zM36 34h2v4h-2zM38 34h4v4h-4zM44 34h2v2h-2zM46 34h4v2h-4zM48 34h2v2h-2zM54 34h4v2h-4zM60 34h4v2h-4zM68 34h4v2h-4zM70 34h2v2h-2zM2 36h2v2h-2zM4 36h4v4h-4zM6 36h4v2h-4zM16 36h2v2h-2zM20 36h2v4h-2zM22 36h2v4h-2zM26 36h4v2h-4zM28 36h4v2h-4zM32 36h4v2h-4zM48 36h4v4h-4zM50 36h2v2h-2zM58 36h4v4h-4zM60 36h4v2h-4zM64 36h4v2h-4zM66 36h4v2h-4zM70 36h2v2h-2zM72 36h4v2h-4zM0 38h2v4h-2zM4 38h2v2h-2zM10 38h4v2h-4zM18 38h4v2h-4zM22 38h4v4h-4zM24 38h2v4h-2zM30 38h4v2h-4zM32 38h2v4h-2zM38 38h4v4h-4zM42 38h4v2h-4zM56 38h2v4h-2zM70 38h4v4h-4zM72 38h4v4h-4zM0 40h4v2h-4zM6 40h2v4h-2zM8 40h2v4h-2zM10 40h4v2h-4zM16 40h4v4h-4zM26 40h4v4h-4zM32 40h4v4h-4zM36 40h2v2h-2zM40 40h4v2h-4zM42 40h2v4h-2zM44 40h4v2h-4zM48 40h4v4h-4zM54 40h2v4h-2zM62 40h2v4h-2zM64 40h4v4h-4zM68 40h2v2h-2zM2 42h2v2h-2zM4 42h4v4h-4zM12 42h4v2h-4zM26 42h2v2h-2zM32 42h4v2h-4zM38 42h4v4h-4zM40 42h2v2h-2zM42 42h2v4h-2zM46 42h4v2h-4zM48 42h4v4h-4zM54 42h4v4h-4zM56 42h2v2h-2zM64 42h2v2h-2zM66 42h2v4h-2zM70 42h2v4h-2zM72 42h4v2h-4zM2 44h4v2h-4zM4 44h2v2h-2zM8 44h4v2h-4zM12 44h2v4h-2zM14 44h4v4h-4zM18 44h2v2h-2zM20 44h2v4h-2zM24 44h4v2h-4zM26 44h4v4h-4zM28 44h2v2h-2zM30 44h2v2h-2zM34 44h2v2h-2zM36 44h2v2h-2zM42 44h2v2h-2zM44 44h4v2h-4zM48 44h4v2h-4zM52 44h2v2h-2zM62 44h2v4h-2zM68 44h4v4h-4zM72 44h4v2h-4zM2 46h4v4h-4zM4 46h4v2h-4zM6 46h2v2h-2zM8 46h2v4h-2zM12 46h4v4h-4zM14 46h2v4h-2zM18 46h4v4h-4zM22 46h2v4h-2zM26 46h4v4h-4zM28 46h4v2h-4zM30 46h4v2h-4zM32 46h2v4h-2zM34 46h2v2h-2zM36 46h4v4h-4zM40 46h4v4h-4zM48 46h4v2h-4zM50 46h2v4h-2zM52 46h4v2h-4zM56 46h2v4h-2zM58 46h4v4h-4zM60 46h4v2h-4zM64 46h4v4h-4zM68 46h2v2h-2zM70 46h2v4h-2zM0 48h4v4h-4zM10 48h2v4h-2zM12 48h2v2h-2zM20 48h2v4h-2zM26 48h4v4h-4zM34 48h2v4h-2zM42 48h2v4h-2zM48 48h4v2h-4zM52 48h4v4h-4zM54 48h2v2h-2zM56 48h2v2h-2zM64 48h4v4h-4zM68 48h2v4h-2zM70 48h2v2h-2zM2 50h4v4h-4zM6 50h4v2h-4zM12 50h4v2h-4zM18 50h4v4h-4zM22 50h4v4h-4zM26 50h2v4h-2zM32 50h2v4h-2zM34 50h2v2h-2zM38 50h2v4h-2zM44 50h4v2h-4zM48 50h2v4h-2zM52 50h2v2h-2zM60 50h4v4h-4zM62 50h4v4h-4zM68 50h2v2h-2zM70 50h2v2h-2zM2 52h2v2h-2zM4 52h4v2h-4zM18 52h4v2h-4zM20 52h2v2h-2zM22 52h2v2h-2zM32 52h4v2h-4zM36 52h2v4h-2zM40 52h4v4h-4zM50 52h4v4h-4zM52 52h2v2h-2zM60 52h4v2h-4zM0 54h2v4h-2zM4 54h4v4h-4zM10 54h4v4h-4zM12 54h2v2h-2zM14 54h4v4h-4zM18 54h4v4h-4zM28 54h2v4h-2zM36 54h2v2h-2zM38 54h2v4h-2zM42 54h2v2h-2zM66 54h4v2h-4zM68 54h4v4h-4zM0 56h4v4h-4zM2 56h4v2h-4zM6 56h4v4h-4zM16 56h2v2h-2zM18 56h4v2h-4zM22 56h2v4h-2zM24 56h4v4h-4zM38 56h4v2h-4zM42 56h2v4h-2zM46 56h4v4h-4zM54 56h2v2h-2zM60 56h2v2h-2zM62 56h4v2h-4zM68 56h2v2h-2zM72 56h4v4h-4z" fill="#fff"/></pattern></defs>
<path d="M174 1803l2 2 2-2 2 4 2 3 2 5 2 2 2 1 2 1 2 4 2 0 2-3 2 1 2 5 2 6 2 4 2-2 2-3 2-3 2-1 2 3 2-1 2-2 2 0 2-1 2-1 2-2 2 1 2 3 2-3 2 3 2-3 2 1 2 2 2-1 2-2 2 0 2 1 2-1 2-3 2-1 2 2 2 0 2-2 2 0 2 1 2 2 2 0 2 3 2-3 2-1 2 2 2-1 2-6 2 4 2 2 2-5 2 2 2-4 2 0 2-3 2 4 2-2 2 2 2 0 2-1 2-1 2 0 2-2 2 1 2 1 2-1 2 0 2 3 2-1 2-2 2 0 2-6 2 3 2 2 2 1 2 0 2-1 2 2 2-4 2 1 2 2 2 1 2-6 2 0 2 8 2-1 2-1 2 0 2-4 2 2 2 0 2-1 2 4 2-2 2 1 2 3 2-5 2 1 2 3 2 2 2 3 2-2 2-1 2-1 2 1 2 0 2 2 2-2 2-6 2 3 2-1 2 1 2 4 2-3 2-3 2-4 2 2 2 4 2 0 2-3 2 1 2-3 2 6 2-1 2-1 2 1 2-1 2-7 2 2 2 1 2 1 2 5 2-1 2 0 2 1 2-1 2 3 2-2 2-2 2 4 2 3 2 0 2 1 2 0 2-1 2-3 2 2 2 0 2-2 2 0 2-2 2 1 2-3 2-1 2 0 2 0 2-3 2-1 2 4 2 1 2-2 2 4 2 0 2 4 2-2 2 2 2-4 2 2 2 0 2-2 2 5 2-1 2 2 2 0 2-1 2-2 2 1 2-1 2-2 2 1 2 6 2 0 2-3 2 0 2 0 2 4 2 0 2 2 2 0 2 0 2-1 2 2 2-1 2-4 2-3 2-2 2 4 2 1 2 2 2-4 2 0 2 0 2-4 2-1 2 2 2 0 2 0 2 2 2 3 2-1 2-4 2 1 2-3 2 4 2 2 2-3 2 0 2 1 2 1 2 0 2 1 2 0 2 1 2 1 2 1 2 1 2 0 2-1 2 2 2 1 2 0 2-2 2-1 2-1 2 0 2 0 2 1 2 2 2 1 2 2 2-3 2 0 2-2 2-4 2 0 2 1 2-1 2 3 2-1 2 3 2 4 2-2 2-1 2-4 2-2 2 0 2 0 2-2 2 4 2 3 2 1 2-1 2-1 2-2 2-1 2 0 2 5 2 3 2-2 2-2 2 2 2-4 2 4 2-4 2-1 2 3 2-2 2-2 2 3 2-1 2-3 2-3 2 3 2 0 2-1 2-2 2 3 2 2 2-2 2-2 2 1 2 1 2-1 2 0 2-4 2 0 2-1 2 3 2 1 2-2 2 4 2 0 2-3 2-1 2 4 2 1 2-4 2-2 2 0 2 0 2 1 2-2 2 0 2 0 2 0 2 2 2 0 2 0 2 3 2 4 2-2 2 4 2-4 2-3 2-3 2 3 2-1 2 2 2-3 2 2 2 0 2-2 2 2 2 1 2 1 2 3 2 0 2-5 2 1 2 0 2 0 2 0 2 3 2-1 2 1 2 0 2 1 2 0 2 1 2 4 2-1 2-2 2-5 2-2 2-2 2 2 2 4 2 2 2-2 2 0 2 2 2-4 2 1 2-1 2 3 2-1 2 2 2 2 2-1 2-2 2-1 2 3 2-4 2 2 2 5 2-2 2-1 2-1 2-2 2 1 2 3 2-3 2 2 2-2 2 3 2-2 2-6 2 3 2-4 2 1 2 0 2-4 2 0 2 0 2-3 2 5 2 3 2 1 2 0 2 0 2 2 2-1 2-4 2-1 2 3 2-2 2-1 2 2 2-3 2 3 2 1 2 5 2-1 2-4 2 2 2 1 2 0 2-5 2 3 2 1 2 0 2-2 2 2 2-1 2-3 2 0 2-3 2 3 2 0 2 4 2 1 2-2 2-4 2-2 2 2 2 2 2-1 2-2 2 0 2 3 2-3 2-4 2-7 2 1 2 0 2-6 2-4 2-5 2-3 2-3 2 0 2 6 2 2 2 5 2 5 2 4 2 5 2 1 2 0 2 2 2-2 2 2 2-5 2-2 2-7 2-5 2 5 2 4 2 3 2 3 2 5 2-1 2 1 2-3 2 2 2 5 2 5 2 1 2-3 2-4 2-1 2 2 2 2 2 5 2 1 2 1 2 0 2 0 2 0 2-2 2 1 2 1 2 0 2 1 2-2 2-2 2 1 2 0 2 3 2 0 2-2 2-2 2 1 2-4 2-2 2-1 2-1 2 4 2 3 2 1 2-3 2-3 2 0 2-1 2-3 2 2 2 2 2 1 2-1 2-1 2 0 2 0 2 3 2-4 2 4 2 1 2-1 2 1 2-5 2 1 2 0 2 0 2 2 2-1 2-1 2 3 2-3 2 0 2-2 2 3 2 0 2-2 2 1 2 2 2-2 2-3 2 4 2-3 2-4 2-2 2 5 2 0 2-1 2 0 2 2 2 4 2-3 2 3 2-6 2 0 2 5 2 1 2-3 2 0 2 2 2-1 2 3 2 0 2-1 2 4 2-3 2 1 2-4 2 1 2 4 2 1 2 0 2 1 2-2 2-1 2-1 2 1 2-1 2-2 2 1 2-3 2 2 2-3 2 2 2-3 2 0 2-2 2-6 2-2 2-6 2-1 2 2 2 1 2 3 2-3 2 2 2 1 2-1 2-1 2-3 2-2 2 4 2-2 2 0 2 1 2-4 2 2 2-1 2-3 2 2 2 0 2-2 2-4 2 1 2 3 2 1 2-6 2 1 2 1 2-2 2 3 2-3 2-2 2 2 2-5 2-7 2-6 2-8 2-11 2-9 2-9 2-10 2-17 2-5 2-2 2 1 2 6 2 9 2 15 2 12 2 10 2 11 2 9 2 8 2 5 2 9 2 6 2-1 2 2 2 1 2 2 2-2 2-1 2 4 2 1 2 2 2-4 2-1 2-5 2-6 2-3 2-3 2 0 2 5 2 1 2 2 2 1 2 2 2 3 2 4 2 5 2-1 2-4 2 1 2 4 2 2 2 3 2-1 2 1 2-2 2 2 2-2 2 0 2 1 2 5 2-4 2 0 2 0 2 0 2 1 2 0 2 5 2-4 2 2 2-5 2 3 2 5 2 1 2-1 2-2 2 1 2 4 2-2 2-4 2 2 2 1 2 1 2 0 2 0 2 1 2-6 2 0 2 2 2 2 2 1 2-1 2 0 2-6 2-3 2-2 2-3 2-3 2 0 2-3 2-4 2-1 2-2 2-3 2 2 2 4 2 0 2 1 2 5 2 7 2 4 2 1 2 1 2 2 2-2 2 3 2 0 2-4 2 1 2-2 2 2 2 0 2 0 2-5 2-5 2-3 2-1 2-7 2-4 2-9 2-8 2-9 2-8 2-12 2-14 2-11 2-15 2-7 2-10 2-3 2 5 2 10 2 11 2 18 2 13 2 13 2 9 2 10 2 7 2 5 2 10 2 2 2 4 2 1 2 4 2-1 2 6 2 3 2-3 2 0 2 4 2 0 2 0 2-3 2-1 2 4 2-1 2 2 2 1 2-1 2-5 2-3 2-4 2-5 2-2 2-5 2 0 2-1 2-1 2 8 2 1 2 1 2 0 2 2 2 0 2 1 2 4 2-2 2 2 2-3 2 0 2-5 2-3 2 1 2-4 2-2 2 0 2-7 2-5 2-4 2-5 2-1 2-2 2-3 2 1 2-4 2 2 2 1 2 0 2-9 2-11 2-6 2-3 2-9 2-6 2-8 2-9 2-15 2-9 2-13 2-9 2-5 2-1 2 0 2 6 2 9 2 12 2 13 2 11 2 14 2 8 2 11 2 7 2 5 2 6 2 4 2 6 2-1 2 4 2 3 2 1 2 5 2 2 2 9 2 2 2 5 2 2 2-2 2-1 2 2 2 3 2 0 2-4 2-1 2-1 2-1 2-1 2 0 2-4 2-1 2 0 2-1 2-3 2 1 2 5 2 3 2 1 2-2 2 1 2 0 2 1 2 3 2-1 2 2 2 1 2-1 2 3 2-3 2 3 2 1 2-3 2-1 2-4 2-6 2-4 2-3 2 0 2-9 2-10 2-16 2-14 2-22 2-22 2-20 2-28 2-27 2-32 2-29 2-23 2-17 2-2 2 13 2 19 2 31 2 29 2 34 2 30 2 25 2 25 2 18 2 16 2 12 2 12 2 10 2 6 2 5 2 3 2 4 2 1 2 2 2 0 2 4 2 6 2-1 2 1 2 1 2 0 2-5 2 3 2 1 2 5 2-3 2-1 2-1 2 4 2 0 2-2 2-4 2 0 2 1 2 2 2-3 2-4 2 1 2 5 2-2 2 1 2 1 2 3 2-3 2 1 2-4 2-4 2 1 2 0 2 2 2 1 2 2 2 3 2-1 2-3 2 1 2 3 2 0 2 3 2 3 2 2 2-3 2 1 2-1 2-2 2 1 2 1 2-1 2-1 2-2 2 1 2 1 2 1 2 3 2 0 2-1 2 0 2 1 2-3 2-6 2 0 2 3 2-1 2-4 2 3 2 0 2-1 2-2 2 0 2-4 2-1 2 3 2-1 2 1 2 3 2 1 2 1 2 1 2 1 2-1 2-3 2-3 2 0 2-4 2 4 2-2 2-3 2 0 2-1 2 1 2-1 2 1 2 6 2 3 2 1 2 3 2-2 2-3 2 2 2 3 2-2 2-1 2 4 2 1 2-2 2 3 2 2 2-5 2 2 2-4 2-1 2 3 2-2 2 1 2 1 2-2 2 2 2-2 2-3 2 2 2 2 2 0 2-3 2 1 2-3 2-3 2-2 2-1 2 0 2 3 2 2 2-1 2-3 2 0 2-2L2364 1823l-2 4 -2 1 -2 1 -2 0 -2-2 -2-1 -2 1 -2 2 -2 1 -2 1 -2 1 -2 0 -2 2 -2-1 -2-3 -2-1 -2 3 -2 4 -2 0 -2 1 -2-2 -2 0 -2 1 -2-2 -2 1 -2 1 -2-2 -2 2 -2-1 -2-2 -2 3 -2 1 -2-1 -2-2 -2-1 -2-5 -2-1 -2 2 -2 3 -2-1 -2 2 -2-4 -2-4 -2-2 -2 2 -2 0 -2 3 -2 2 -2 5 -2 2 -2-4 -2 2 -2 0 -2 2 -2 1 -2-3 -2-2 -2-3 -2-2 -2-1 -2-1 -2-1 -2 3 -2-3 -2 1 -2 2 -2 2 -2 2 -2 2 -2 2 -2-1 -2 4 -2 3 -2-3 -2 0 -2 1 -2 1 -2-2 -2 1 -2 3 -2-1 -2-2 -2-1 -2-1 -2-1 -2 1 -2-1 -2 0 -2 0 -2 0 -2 2 -2 3 -2 0 -2 0 -2-4 -2-4 -2 0 -2 1 -2-2 -2-3 -2-2 -2-2 -2-2 -2 1 -2 3 -2 2 -2 0 -2-2 -2 0 -2 3 -2 0 -2 2 -2-2 -2 0 -2 0 -2 1 -2-3 -2-1 -2 3 -2 1 -2-1 -2-2 -2 0 -2 2 -2 1 -2 2 -2 0 -2 3 -2 1 -2 4 -2-4 -2-1 -2-2 -2 1 -2 0 -2-2 -2-3 -2 1 -2-3 -2-2 -2-1 -2-1 -2-2 -2-3 -2-2 -2-4 -2-3 -2-10 -2-6 -2-5 -2-12 -2-16 -2-21 -2-21 -2-24 -2-26 -2-23 -2-24 -2-15 -2-9 -2 4 -2 11 -2 19 -2 21 -2 26 -2 21 -2 21 -2 14 -2 18 -2 16 -2 11 -2 10 -2 6 -2 8 -2 3 -2 3 -2 2 -2 4 -2 0 -2-3 -2-2 -2-1 -2 3 -2 5 -2-3 -2-1 -2-2 -2-5 -2 2 -2-1 -2 2 -2 2 -2 0 -2 3 -2 0 -2-2 -2-4 -2-2 -2 2 -2 1 -2 0 -2 1 -2 4 -2 1 -2 1 -2-2 -2-2 -2-1 -2 4 -2 1 -2-2 -2 1 -2 0 -2 0 -2-4 -2-6 -2-3 -2-7 -2-3 -2-4 -2-2 -2 0 -2-2 -2 1 -2-3 -2-3 -2-2 -2-3 -2-4 -2-8 -2-8 -2-12 -2-12 -2-10 -2-8 -2-3 -2-4 -2-1 -2 0 -2 4 -2 7 -2 10 -2 7 -2 13 -2 9 -2 8 -2 8 -2 6 -2 2 -2 1 -2 5 -2 7 -2 0 -2 1 -2 1 -2 1 -2-2 -2 1 -2 1 -2-1 -2 5 -2 2 -2 4 -2 4 -2 2 -2 2 -2 4 -2 2 -2 4 -2 4 -2 2 -2 2 -2-3 -2 1 -2-2 -2-3 -2 0 -2-2 -2 0 -2 1 -2 0 -2-4 -2-3 -2 0 -2 2 -2 3 -2 2 -2 4 -2 3 -2 3 -2 3 -2 1 -2 0 -2 1 -2 0 -2-3 -2-1 -2 1 -2 0 -2 0 -2-2 -2-3 -2 4 -2-1 -2-1 -2 0 -2-4 -2-5 -2-4 -2-3 -2-5 -2-1 -2-4 -2-10 -2-10 -2-11 -2-11 -2-13 -2-8 -2-9 -2-4 -2 2 -2 9 -2 10 -2 11 -2 9 -2 10 -2 9 -2 8 -2 8 -2 9 -2 8 -2 2 -2 4 -2-1 -2 3 -2 4 -2 5 -2 0 -2-2 -2-4 -2 1 -2-1 -2 1 -2-2 -2-2 -2 1 -2 2 -2 0 -2 1 -2-2 -2-6 -2-4 -2 2 -2 1 -2-4 -2-5 -2 0 -2 3 -2 2 -2 3 -2 2 -2 1 -2 1 -2 4 -2 2 -2 2 -2 4 -2-3 -2-1 -2 0 -2-2 -2-2 -2 1 -2 6 -2 0 -2-1 -2-1 -2-1 -2 2 -2 0 -2 4 -2 0 -2-4 -2-1 -2-2 -2 0 -2-1 -2-2 -2 0 -2 4 -2 0 -2 2 -2-5 -2-1 -2-1 -2 1 -2 0 -2 1 -2 3 -2-3 -2 0 -2 0 -2 0 -2-3 -2 3 -2 0 -2 1 -2-5 -2-5 -2-3 -2-1 -2 3 -2 2 -2-3 -2-3 -2-3 -2-5 -2-1 -2-1 -2 2 -2 1 -2 1 -2 2 -2 1 -2 4 -2 4 -2 1 -2 1 -2-2 -2 1 -2-2 -2 1 -2 0 -2-3 -2-1 -2 0 -2 1 -2-4 -2-7 -2-5 -2-6 -2-7 -2-9 -2-6 -2-8 -2-12 -2-7 -2-5 -2 0 -2 2 -2 3 -2 13 -2 6 -2 6 -2 5 -2 9 -2 10 -2 7 -2 5 -2 2 -2-4 -2 0 -2 3 -2 0 -2 0 -2-4 -2-1 -2 4 -2-1 -2-1 -2 1 -2 4 -2 3 -2-1 -2-3 -2-1 -2 1 -2-1 -2 3 -2 1 -2 3 -2 1 -2-3 -2 1 -2 2 -2 2 -2 2 -2 1 -2-2 -2 3 -2-3 -2-3 -2-1 -2 0 -2 6 -2 1 -2 7 -2 2 -2 2 -2 3 -2-2 -2 1 -2-5 -2 2 -2 0 -2 6 -2 4 -2 0 -2 0 -2 2 -2 1 -2-6 -2-5 -2-3 -2-3 -2 1 -2 5 -2 0 -2 5 -2-2 -2 0 -2-2 -2-5 -2-2 -2-1 -2-1 -2 3 -2 1 -2-3 -2 0 -2 1 -2-3 -2 2 -2-1 -2 0 -2 1 -2 2 -2-1 -2-5 -2 1 -2 2 -2 2 -2-2 -2 2 -2 1 -2 0 -2 1 -2 2 -2 2 -2-3 -2-2 -2 1 -2 3 -2-2 -2-1 -2 0 -2-1 -2 1 -2 0 -2-2 -2 1 -2-3 -2 2 -2 2 -2 0 -2 4 -2-2 -2-1 -2 0 -2 1 -2 0 -2-4 -2-4 -2-2 -2 1 -2 1 -2 3 -2 3 -2 4 -2-2 -2-2 -2-3 -2 0 -2 2 -2 1 -2 5 -2 0 -2 1 -2 2 -2 2 -2 0 -2 2 -2-2 -2 0 -2-1 -2 0 -2 3 -2-1 -2-3 -2-1 -2-2 -2 0 -2 0 -2 0 -2-2 -2-3 -2 2 -2 1 -2 2 -2 2 -2 1 -2-2 -2-7 -2-6 -2-4 -2 1 -2 2 -2 3 -2 0 -2-3 -2-2 -2-5 -2-2 -2 5 -2 7 -2 3 -2 2 -2-2 -2 1 -2 1 -2 1 -2-1 -2-5 -2-4 -2-4 -2-5 -2-2 -2-5 -2 0 -2 1 -2 5 -2 5 -2 3 -2 2 -2-2 -2 2 -2 8 -2 3 -2 1 -2-3 -2-2 -2 1 -2 2 -2-2 -2-2 -2 2 -2 2 -2-1 -2-3 -2-3 -2 3 -2-1 -2 3 -2-2 -2 0 -2 3 -2 1 -2 3 -2 0 -2-2 -2-3 -2 5 -2 0 -2 0 -2-2 -2 0 -2 0 -2-2 -2 1 -2-4 -2 4 -2-4 -2 2 -2 1 -2-1 -2 0 -2 1 -2-1 -2-1 -2 1 -2 3 -2-1 -2-1 -2-3 -2 1 -2-3 -2-2 -2 2 -2 0 -2 2 -2 4 -2 0 -2 6 -2 3 -2-4 -2-1 -2-1 -2 4 -2-1 -2 1 -2 1 -2-3 -2-2 -2-1 -2-4 -2-2 -2 3 -2-1 -2 2 -2 2 -2 2 -2 1 -2-1 -2 1 -2-2 -2-4 -2-3 -2 2 -2-1 -2 3 -2 2 -2 0 -2-4 -2 0 -2 1 -2 2 -2 5 -2 1 -2-2 -2-4 -2-1 -2-1 -2 0 -2-3 -2-1 -2 2 -2-2 -2 0 -2 1 -2 0 -2-2 -2 3 -2 3 -2 0 -2 2 -2 0 -2-3 -2 1 -2 1 -2 0 -2 1 -2-2 -2-1 -2-4 -2-1 -2 3 -2 4 -2 1 -2 2 -2 0 -2-2 -2 1 -2-2 -2-3 -2 1 -2 1 -2 2 -2-2 -2-2 -2-1 -2 0 -2 5 -2 2 -2-2 -2-6 -2-2 -2 2 -2 2 -2-1 -2 0 -2-1 -2 1 -2 4 -2 2 -2 3 -2-3 -2-2 -2 0 -2 0 -2 3 -2 3 -2-2 -2-5 -2 0 -2 1 -2 3 -2 0 -2 1 -2 0 -2-2 -2-3 -2 2 -2 1 -2-3 -2 1 -2 4 -2-2 -2 2 -2 1 -2 2 -2 1 -2-1 -2-3 -2 1 -2 1 -2-1 -2-3 -2-1 -2-2 -2 0 -2-2 -2 3 -2 0 -2 0 -2 2 -2 3 -2 2 -2 0 -2-5 -2-3 -2 1 -2 0 -2 2 -2-3 -2-3 -2 3 -2 4 -2 4 -2 3 -2 0 -2-2 -2-3 -2-3 -2 0 -2 0 -2-1 -2 4 -2 2 -2-1 -2-2 -2-4 -2 0 -2 1 -2 2 -2 2 -2 1 -2-2 -2-4 -2-1 -2-1 -2-1 -2 1 -2-1 -2-1 -2-2 -2-5 -2 3 -2 5 -2 5 -2 2 -2-2 -2-2 -2 1 -2 2 -2 0 -2 0 -2-1 -2-5 -2-4 -2 4 -2 0 -2 1 -2 0 -2 5 -2 4 -2 1 -2-1 -2-2 -2-1 -2-2 -2-3 -2-1 -2 0 -2-2 -2 2 -2 1 -2 4 -2 0 -2-5 -2-2 -2 3 -2 4 -2 0 -2 0 -2 0 -2-2 -2-2 -2 2 -2-3 -2-1 -2-2 -2-3 -2 0 -2-1 -2 1 -2-1 -2 0 -2 0 -2 2 -2 0 -2-3 -2 2 -2 4 -2-1 -2 0 -2 0 -2 3 -2 1 -2 1 -2-1 -2 1 -2-1 -2-1 -2 0 -2 1 -2 1 -2-2 -2-3 -2-2 -2-1 -2 4 -2 2 -2-1 -2 0 -2-1 -2 0 -2 0 -2-3 -2-2 -2-4 -2-2 -2 4 -2 2 -2-3 -2-2 -2-1 -2-2 -2 2 -2 2 -2 1 -2 2 -2 1 -2 0 -2 4 -2 3 -2 2 -2-3 -2-3 -2 0 -2-1 -2 2 -2 0 -2-1 -2 3 -2 2 -2 2 -2-1 -2-2 -2-5 -2-5 -2-2 -2 1 -2 6 -2 0 -2-2 -2-2 -2-3 -2 2 -2 2 -2 0 -2 2 -2 1 -2 3 -2 1 -2-5 -2-1 -2 0 -2-3 -2 0 -2 1 -2 4 -2-3 -2 0 -2 0 -2-1 -2-1 -2-2 -2 8 -2 2 -2 2 -2 0 -2-4 -2-2 -2-2 -2-1 -2 1 -2 3 -2-1 -2 1 -2 0 -2 1 -2-2 -2 1 -2-2 -2 2 -2 0 -2 2 -2-2 -2 3 -2-2 -2-1 -2 6 -2 3 -2 1 -2 1 -2 0 -2-2 -2-1 -2 0 -2 1 -2 1 -2-1 -2 0 -2-2 -2 0 -2 1 -2-2 -2 0 -2 0 -2 4 -2 3 -2-2 -2-4 -2 0 -2-3 -2 4 -2-1 -2 1 -2 3 -2 2 -2 5 -2 1 -2 1 -2-1 -2-4 -2-1 -2 0 -2 1 -2 2 -2-4 -2-3 -2-4 -2 0 -2 5 -2 0 -2-1 -2 0 -2-2 -2-1 -2-5 -2-3 -2-6 -2 0 -2-5z" fill="url(#pat5u)"/>
<path d="M174 1819l2 5 2 0 2 6 2 3 2 5 2 1 2 2 2 0 2 1 2 0 2-5 2 0 2 4 2 3 2 4 2-2 2-1 2 0 2 1 2 4 2 1 2-1 2-1 2-5 2-2 2-3 2-1 2 1 2-4 2 3 2 0 2 4 2 2 2-3 2-4 2 0 2 0 2 2 2-1 2 0 2 2 2 0 2 1 2-1 2-1 2 0 2 1 2 2 2 0 2-1 2-1 2-3 2-6 2 1 2 2 2-3 2 2 2-2 2 0 2-2 2 2 2-1 2 2 2-1 2 0 2-1 2 1 2-3 2-1 2 1 2 2 2 2 2 4 2 0 2-2 2-2 2-8 2 2 2 1 2 1 2 0 2 0 2 3 2-4 2-1 2 0 2 3 2 0 2 1 2 5 2-1 2-3 2-1 2-2 2 0 2-2 2-2 2 3 2 2 2 2 2 0 2-6 2-1 2 2 2 5 2 5 2 2 2 1 2-2 2-2 2-3 2 1 2 0 2-2 2 1 2 0 2 3 2 3 2-2 2-3 2-4 2 0 2-1 2-2 2-1 2-2 2-2 2 2 2 1 2 2 2 3 2-2 2-4 2 2 2 4 2 2 2 3 2 0 2 0 2 1 2 0 2 1 2-2 2-4 2 1 2 2 2 3 2 2 2-1 2-1 2 0 2 1 2 1 2-1 2 1 2-1 2-1 2-3 2 0 2 0 2 1 2-4 2-2 2 3 2 0 2-2 2 0 2 0 2 1 2-1 2 1 2 0 2 3 2 2 2 1 2 3 2-2 2 2 2 2 2 0 2 0 2 0 2-4 2-3 2 2 2 5 2 0 2-4 2-1 2-2 2 2 2 0 2 1 2 3 2 2 2 1 2 2 2 1 2-1 2-4 2-5 2 0 2-1 2 0 2-4 2 4 2 5 2 1 2 0 2 0 2-2 2-1 2 2 2 2 2-2 2-5 2-5 2-3 2 5 2 2 2 1 2 1 2-1 2 1 2 1 2 1 2 4 2 2 2-1 2-2 2-2 2-1 2 0 2 4 2 2 2 1 2-2 2-4 2 1 2 0 2 0 2 3 2 3 2 2 2 0 2-3 2-4 2-4 2-3 2 3 2 3 2-2 2 0 2-1 2 3 2 5 2 0 2-2 2-3 2-2 2 0 2 0 2-3 2 2 2 0 2 2 2 1 2 3 2 1 2-1 2-1 2 3 2 1 2-1 2-2 2-1 2-2 2 2 2-4 2-1 2 3 2-1 2-2 2 3 2 2 2 0 2-1 2 0 2-3 2-1 2 0 2 5 2 2 2-3 2-3 2 0 2 0 2 2 2 3 2-3 2-2 2-4 2-1 2 1 2 0 2 1 2-2 2-2 2 2 2 6 2 2 2-2 2-5 2 0 2 1 2 2 2 2 2-2 2-1 2-1 2 3 2 2 2-1 2 2 2 0 2-2 2-1 2-4 2-3 2 1 2 4 2 1 2 2 2-1 2 0 2-1 2-1 2 3 2 0 2-2 2 0 2-3 2-3 2 2 2 0 2-1 2 0 2 2 2-2 2 1 2 3 2 0 2 1 2 1 2 4 2 2 2-1 2-5 2-2 2-1 2 0 2 4 2 0 2-2 2-3 2 1 2-2 2 3 2 4 2 2 2-1 2 1 2-1 2-2 2-2 2-2 2 1 2-3 2 2 2 4 2 1 2 2 2 3 2-1 2-1 2 1 2-4 2 1 2 1 2 4 2-3 2-6 2 0 2-4 2-2 2 0 2-2 2 2 2 3 2-1 2 3 2 1 2 1 2-3 2-1 2 1 2 1 2-1 2 0 2 1 2-1 2-2 2 4 2-4 2 4 2-1 2 2 2 0 2 0 2 2 2 0 2 0 2-5 2 3 2 2 2 0 2-3 2-1 2-3 2 0 2 2 2-3 2 1 2-3 2 3 2 3 2 1 2-2 2-2 2 2 2 2 2-2 2-1 2 2 2 3 2-1 2-3 2-8 2-2 2 2 2-2 2-3 2-5 2-5 2-1 2 0 2 5 2 2 2 5 2 4 2 4 2 5 2 1 2-1 2-1 2-1 2 2 2-2 2-3 2-7 2-5 2 2 2 5 2 2 2 3 2 0 2-3 2-2 2-1 2 4 2 6 2 7 2 2 2-1 2-2 2-2 2-1 2-2 2 3 2 2 2 0 2 0 2 0 2 2 2 1 2 3 2 1 2-3 2 0 2 1 2 0 2 2 2-2 2 0 2-2 2-2 2-1 2 0 2-5 2-1 2-2 2 0 2 3 2 2 2 2 2-4 2-3 2-3 2-1 2-1 2 2 2 4 2 4 2 0 2-1 2 0 2 1 2 2 2-4 2 0 2-2 2-2 2 3 2-1 2 2 2 0 2-1 2 1 2 0 2 1 2 2 2-3 2-1 2 2 2 3 2-2 2-2 2-1 2 0 2-1 2-2 2 2 2-2 2-2 2-1 2 5 2 1 2-2 2-1 2 0 2 1 2-2 2 3 2-1 2 0 2 3 2-1 2-3 2 1 2 1 2 2 2 5 2 2 2 0 2 2 2-5 2 0 2-5 2-1 2 3 2 3 2 5 2 6 2-1 2-2 2 0 2 0 2-4 2-6 2 0 2-2 2 5 2-1 2 2 2-3 2-2 2-2 2-7 2-1 2-6 2 0 2 1 2 3 2 3 2-3 2 2 2-1 2-2 2-2 2-2 2-1 2 3 2-1 2-3 2-1 2-3 2 1 2-1 2 1 2 3 2 1 2-3 2-4 2-1 2 1 2 1 2-4 2 1 2 4 2 0 2 0 2-3 2 0 2 4 2-2 2-5 2-7 2-10 2-9 2-5 2-6 2-6 2-13 2-3 2-2 2 0 2 5 2 7 2 12 2 8 2 6 2 9 2 7 2 6 2 5 2 7 2 4 2-1 2 0 2 1 2 3 2 0 2-1 2 2 2-1 2 2 2-1 2-1 2-4 2-4 2-1 2-2 2-1 2-1 2-2 2 1 2 1 2 5 2 3 2 3 2 3 2-2 2-3 2 1 2 3 2 5 2 5 2-1 2 0 2-3 2 3 2 0 2 0 2 0 2 3 2-3 2-1 2 0 2-1 2 1 2 1 2 5 2-2 2 0 2-4 2 0 2 2 2 1 2 0 2 2 2 1 2 4 2 0 2-4 2 0 2-2 2 1 2 1 2 1 2 0 2-6 2-1 2 2 2 2 2 0 2 1 2 3 2-4 2-2 2-2 2-4 2-1 2-1 2-2 2-3 2-2 2-3 2 0 2 5 2 4 2-1 2-2 2 4 2 6 2 2 2-1 2 0 2-2 2-1 2 2 2 2 2-1 2 1 2-1 2 4 2 2 2 0 2-5 2-4 2-3 2 1 2-4 2-2 2-8 2-9 2-8 2-8 2-9 2-10 2-9 2-11 2-10 2-9 2-2 2 4 2 9 2 8 2 13 2 11 2 11 2 10 2 10 2 4 2 1 2 5 2 3 2 4 2 5 2 4 2 0 2 1 2 1 2-4 2 3 2 2 2 0 2 0 2-1 2 1 2 3 2 0 2-1 2 0 2-1 2-3 2-3 2-3 2-4 2-2 2-3 2-2 2 0 2 3 2 4 2 0 2-1 2 0 2 2 2 0 2 3 2 2 2-1 2 3 2-2 2-2 2-4 2-4 2-2 2-4 2-2 2-2 2-4 2-4 2-2 2-5 2 1 2-1 2-1 2 2 2-1 2-1 2-1 2 0 2-7 2-5 2-1 2-2 2-6 2-8 2-8 2-9 2-13 2-7 2-10 2-7 2-4 2 0 2 1 2 4 2 3 2 8 2 10 2 12 2 12 2 8 2 8 2 4 2 3 2 2 2 3 2 3 2-1 2 2 2 0 2 2 2 4 2 3 2 7 2 3 2 6 2 4 2 0 2 0 2-1 2 2 2-1 2-4 2 1 2 2 2 2 2-1 2-1 2-4 2-1 2 0 2-1 2-2 2 2 2 4 2 2 2 0 2-3 2 0 2-2 2-2 2 1 2-2 2 5 2 2 2 1 2 3 2-5 2-3 2 1 2 2 2 3 2 0 2-4 2-2 2-3 2-3 2-8 2-6 2-10 2-11 2-16 2-18 2-14 2-21 2-21 2-26 2-21 2-19 2-11 2-4 2 9 2 15 2 24 2 23 2 26 2 24 2 21 2 21 2 16 2 12 2 5 2 6 2 10 2 3 2 4 2 2 2 3 2 2 2 1 2 1 2 2 2 3 2-1 2 3 2 2 2 0 2-1 2 2 2 1 2 4 2-4 2-1 2-3 2 0 2-2 2-1 2-2 2 0 2 2 2 1 2-1 2-3 2 1 2 3 2-1 2 0 2 0 2 2 2-2 2 0 2-3 2 0 2 2 2 0 2-2 2-3 2-1 2 2 2 2 2 2 2 3 2 2 2-1 2 0 2 4 2 4 2 0 2 0 2-3 2-2 2 0 2 0 2 0 2 1 2-1 2 1 2 1 2 1 2 2 2 1 2-3 2-1 2 2 2-1 2-1 2 0 2 3 2-3 2-4 2 1 2-2 2-2 2-2 2-2 2-2 2-1 2 3 2-3 2 1 2 1 2 1 2 2 2 3 2 2 2 3 2-1 2-2 2 0 2-2 2 4 2-2 2-5 2-2 2-3 2 0 2-2 2 2 2 4 2 4 2-2 2 1 2-3 2-2 2 1 2 5 2 1 2 2 2 1 2-1 2-3 2 2 2 1 2-2 2 2 2-1 2-1 2 2 2-1 2 0 2 2 2-1 2 0 2-4 2-3 2 1 2 3 2 1 2-2 2 0 2-1 2-1 2-1 2-2 2-1 2 1 2 2 2 0 2-1 2-1 2-4L2364 1855l-2 4 -2-3 -2-3 -2 4 -2 1 -2 4 -2-3 -2 3 -2 0 -2 1 -2 2 -2 2 -2 2 -2-3 -2-3 -2 1 -2 3 -2 0 -2 0 -2-1 -2-3 -2-1 -2-1 -2 3 -2 5 -2-2 -2-1 -2 0 -2 1 -2-4 -2-2 -2 1 -2 4 -2-2 -2 2 -2-3 -2 2 -2-3 -2 3 -2-2 -2 3 -2-5 -2 1 -2-4 -2 0 -2-3 -2 3 -2 1 -2 3 -2 1 -2-1 -2 0 -2 1 -2 1 -2 0 -2-3 -2 4 -2-1 -2-1 -2 0 -2 0 -2-5 -2 0 -2-1 -2 5 -2-1 -2 2 -2-2 -2-1 -2 3 -2-2 -2 3 -2 3 -2-2 -2 3 -2-2 -2 3 -2-3 -2 3 -2 5 -2-3 -2-1 -2-1 -2-2 -2 1 -2-1 -2-4 -2 0 -2 4 -2 1 -2-1 -2 2 -2 3 -2-3 -2-5 -2-1 -2 2 -2 2 -2-1 -2-3 -2-3 -2-1 -2-1 -2 0 -2 0 -2 0 -2-1 -2 4 -2-1 -2 3 -2 0 -2 1 -2-1 -2 1 -2 0 -2 0 -2-3 -2 0 -2 4 -2-4 -2 3 -2 0 -2 5 -2 2 -2-1 -2 1 -2-2 -2-2 -2-1 -2 4 -2-2 -2 1 -2 2 -2-2 -2 3 -2-4 -2-6 -2-1 -2 1 -2 3 -2-2 -2 3 -2 0 -2-3 -2-3 -2-3 -2 0 -2-8 -2 0 -2 0 -2-7 -2-9 -2-4 -2-8 -2-9 -2-16 -2-11 -2-12 -2-8 -2-7 -2 1 -2-1 -2 13 -2 8 -2 12 -2 8 -2 11 -2 5 -2 9 -2 4 -2 3 -2 3 -2 2 -2 3 -2 4 -2 0 -2-1 -2 2 -2 1 -2 3 -2-3 -2-1 -2 2 -2 0 -2-3 -2 0 -2 4 -2-3 -2 4 -2-2 -2 3 -2 1 -2-1 -2 0 -2 0 -2-2 -2-1 -2-3 -2 2 -2 1 -2 1 -2 2 -2 2 -2 1 -2 1 -2 1 -2 0 -2-2 -2 4 -2-2 -2-4 -2 4 -2-1 -2-1 -2-4 -2-4 -2-4 -2-2 -2-3 -2-2 -2-4 -2 2 -2-1 -2 0 -2 5 -2 0 -2-1 -2-2 -2-4 -2-1 -2-8 -2-4 -2-8 -2-2 -2-2 -2-1 -2-6 -2-5 -2 0 -2 3 -2 7 -2 4 -2 5 -2 9 -2 8 -2 1 -2 5 -2-2 -2 1 -2 1 -2 3 -2 6 -2-2 -2 0 -2 0 -2-5 -2-2 -2 5 -2 2 -2 1 -2 4 -2-1 -2 5 -2-1 -2 3 -2 1 -2 6 -2 4 -2 1 -2-3 -2 0 -2 0 -2-1 -2 1 -2 3 -2-5 -2 0 -2-2 -2 2 -2 3 -2 4 -2 1 -2-6 -2 0 -2 1 -2-1 -2 0 -2 6 -2 4 -2 1 -2 1 -2-2 -2-2 -2 2 -2-1 -2 3 -2-2 -2-1 -2-1 -2 1 -2 2 -2-8 -2-1 -2-4 -2 3 -2 0 -2-1 -2-2 -2 2 -2-4 -2-2 -2-2 -2-4 -2-8 -2-7 -2-2 -2-6 -2-5 -2-4 -2-7 -2-2 -2 1 -2 1 -2 6 -2 4 -2 8 -2 7 -2 6 -2 4 -2 4 -2 8 -2 5 -2 1 -2 1 -2 0 -2 1 -2 1 -2 4 -2 2 -2 0 -2-3 -2-2 -2-1 -2 1 -2-1 -2 0 -2-3 -2 3 -2-3 -2 2 -2 1 -2-4 -2-3 -2-3 -2-1 -2 0 -2-2 -2-2 -2 5 -2 0 -2 1 -2 1 -2 4 -2-2 -2 7 -2 2 -2-1 -2-2 -2-1 -2-1 -2 5 -2-3 -2-1 -2 1 -2 4 -2 3 -2-1 -2-2 -2-3 -2 2 -2-1 -2 2 -2-1 -2 1 -2 2 -2-5 -2-2 -2-1 -2-2 -2 0 -2-1 -2 2 -2 0 -2-3 -2-1 -2-1 -2 5 -2 1 -2 2 -2-2 -2 2 -2-3 -2-3 -2-1 -2 0 -2 4 -2-1 -2-2 -2-1 -2-3 -2 2 -2 0 -2 1 -2 0 -2-1 -2-1 -2-1 -2-5 -2 1 -2-3 -2 1 -2 4 -2 1 -2 1 -2 0 -2-2 -2 3 -2 2 -2 1 -2-2 -2 2 -2-3 -2 1 -2 3 -2-1 -2 1 -2-1 -2-3 -2-2 -2-2 -2-1 -2-1 -2-3 -2-10 -2-6 -2-6 -2-7 -2-3 -2-2 -2 3 -2 1 -2 1 -2 5 -2 3 -2 6 -2 4 -2 4 -2 6 -2 2 -2-2 -2 1 -2 0 -2-1 -2-1 -2 1 -2 1 -2-4 -2 1 -2 1 -2-1 -2 3 -2 0 -2-1 -2 0 -2 0 -2-2 -2-3 -2 5 -2-1 -2-1 -2-1 -2 6 -2 0 -2 2 -2 3 -2 1 -2 0 -2-2 -2 2 -2-2 -2 2 -2-3 -2-2 -2 4 -2-1 -2 6 -2 0 -2 6 -2 1 -2 1 -2-2 -2-2 -2 6 -2-2 -2 3 -2-4 -2 2 -2-2 -2-1 -2-1 -2 3 -2 8 -2-1 -2 1 -2-1 -2-3 -2-2 -2-2 -2-4 -2 4 -2-1 -2 1 -2 0 -2-1 -2 0 -2 0 -2-4 -2-1 -2 0 -2 1 -2 1 -2-1 -2 0 -2-1 -2 2 -2-2 -2-1 -2 4 -2-1 -2-3 -2 2 -2 0 -2-1 -2 1 -2 3 -2-1 -2 0 -2 0 -2-4 -2 3 -2 0 -2-3 -2 2 -2 3 -2 1 -2-1 -2-1 -2 2 -2 0 -2 0 -2-3 -2 3 -2-1 -2 1 -2 3 -2-2 -2-2 -2-1 -2-1 -2 0 -2 4 -2-2 -2-4 -2 0 -2 0 -2 1 -2 0 -2 4 -2 3 -2 3 -2-5 -2 0 -2-3 -2 2 -2 2 -2-1 -2 4 -2-2 -2-3 -2 3 -2 5 -2 1 -2 0 -2-2 -2 0 -2-3 -2-2 -2 4 -2-1 -2 1 -2-1 -2-2 -2 1 -2 0 -2-1 -2-4 -2-1 -2 4 -2-1 -2-1 -2-2 -2 2 -2-1 -2-1 -2 1 -2 0 -2-5 -2 1 -2-1 -2 1 -2-6 -2 2 -2-4 -2 2 -2 0 -2 0 -2 2 -2 3 -2 3 -2-2 -2-1 -2-5 -2-1 -2 2 -2-2 -2 2 -2-5 -2-1 -2-6 -2-2 -2-1 -2 6 -2 4 -2 3 -2 3 -2-3 -2 2 -2 3 -2 0 -2 2 -2 2 -2-3 -2-3 -2 5 -2 1 -2-2 -2 4 -2 0 -2-2 -2 0 -2-1 -2 0 -2-3 -2 2 -2 0 -2-1 -2 4 -2-1 -2 0 -2-2 -2 1 -2 2 -2 6 -2-3 -2 1 -2-1 -2-6 -2 2 -2-1 -2 3 -2-5 -2 4 -2-3 -2 0 -2 0 -2 4 -2 1 -2-1 -2-3 -2 0 -2-1 -2 2 -2-4 -2 0 -2 1 -2 2 -2 2 -2 0 -2 0 -2-1 -2 2 -2 1 -2-2 -2-1 -2 4 -2 1 -2 0 -2 4 -2 1 -2-4 -2 1 -2 1 -2-5 -2-1 -2 2 -2-1 -2-1 -2 0 -2 2 -2 0 -2-5 -2 0 -2 3 -2-4 -2 0 -2 2 -2-4 -2 1 -2 1 -2 4 -2 5 -2-1 -2 0 -2-6 -2 3 -2 0 -2-2 -2 3 -2 0 -2-3 -2 0 -2 1 -2-2 -2 4 -2-1 -2 1 -2 2 -2-6 -2-3 -2 1 -2 4 -2-1 -2 1 -2 0 -2-2 -2-2 -2 1 -2-6 -2 2 -2 4 -2 3 -2-4 -2-4 -2-1 -2 2 -2 0 -2 4 -2 0 -2 4 -2-1 -2 1 -2-2 -2-1 -2-3 -2-2 -2 1 -2 2 -2 2 -2-4 -2 1 -2-2 -2 0 -2 4 -2 0 -2-1 -2-2 -2 1 -2 0 -2 3 -2 2 -2-4 -2-2 -2 0 -2-1 -2 4 -2 1 -2-2 -2-2 -2 3 -2-1 -2 1 -2 1 -2 0 -2 0 -2 0 -2 2 -2-1 -2-1 -2-1 -2 0 -2 1 -2 3 -2 2 -2 0 -2 2 -2-2 -2 5 -2 1 -2-3 -2 1 -2 0 -2-3 -2-1 -2-1 -2 0 -2 1 -2 0 -2-2 -2 1 -2 0 -2 1 -2-1 -2 3 -2 1 -2-2 -2 5 -2-2 -2 1 -2-2 -2 1 -2-4 -2-1 -2 0 -2 1 -2-5 -2 1 -2 3 -2 1 -2 0 -2 1 -2 2 -2-2 -2-1 -2-2 -2 1 -2 2 -2-1 -2 5 -2 2 -2-5 -2 0 -2-2 -2 3 -2-4 -2-3 -2-1 -2 4 -2 1 -2-3 -2 2 -2-1 -2-1 -2 1 -2 0 -2-4 -2 4 -2-2 -2 1 -2 4 -2-2 -2 1 -2 0 -2-2 -2-2 -2 1 -2-1 -2 4 -2-1 -2 0 -2 1 -2 6 -2-2 -2-2 -2-2 -2 2 -2 3 -2-1 -2-2 -2 0 -2-2 -2 0 -2-2 -2 3 -2 0 -2-1 -2-1 -2-4 -2 1 -2 1 -2 0 -2-3 -2 4 -2 4 -2 1 -2-5 -2 1 -2-1 -2-3 -2 1 -2 1 -2-1 -2 0 -2 1 -2-2 -2 2 -2-1 -2 0 -2-4 -2 2 -2-2 -2 1 -2-1 -2-3 -2 2 -2-1 -2 1 -2 0 -2 4 -2 1 -2 0 -2-4 -2 3 -2 0 -2 4 -2 0 -2 1 -2 0 -2-1 -2-5 -2-1 -2 1 -2 3 -2-2 -2 3 -2-5 -2-1 -2 1 -2 1 -2 4 -2-1 -2-5 -2 1 -2 1 -2 4 -2-3 -2-5 -2 0 -2 1 -2-3 -2 3 -2-3 -2 2 -2 0 -2-1 -2-1 -2 2 -2 1 -2 4 -2 0 -2-1 -2 1 -2 0 -2-1 -2 0 -2 1 -2 3 -2 0 -2 1 -2-2 -2 0 -2-5 -2 0 -2 0 -2 1 -2 1 -2 0 -2 0 -2 3 -2 0 -2-2 -2 0 -2-4 -2 0 -2 3 -2-3 -2 1 -2 0 -2-3 -2 0 -2 4 -2 2 -2 4 -2-4 -2-5 -2 0 -2 0 -2 0 -2-2 -2 4 -2 0 -2 0 -2 4 -2 0 -2 0 -2-5 -2-2 -2 3 -2 3 -2-4 -2 2 -2-2 -2 3 -2 1 -2-1 -2 1 -2 0 -2 2 -2 2 -2 0 -2 1 -2-2 -2 0 -2 3 -2 3 -2 2 -2-1 -2-2 -2-1 -2 0 -2-2 -2 2 -2 5 -2-3 -2-2 -2-1 -2 0 -2 0 -2-2 -2 2 -2-2 -2 3 -2 2 -2-1 -2-5 -2 3 -2-1 -2 2 -2-3 -2 1 -2-1 -2-2 -2 4 -2 2 -2 1 -2 1 -2-2 -2 0 -2 1 -2 0 -2 0 -2-4 -2 1 -2-2 -2-1 -2 2 -2-4 -2 2 -2 2 -2-4 -2 1 -2-5 -2-1 -2-3 -2 0 -2-5z" fill="url(#pat5l)"/>
<g fill="none" stroke="#ff0000" stroke-width="2.0" stroke-dasharray="3 2"><path d="M174 1842l2-35 2 51 2-43 2-7 2 52 2 3 2-45 2 0 2 37 2-36 2 38 2 16 2-17 2-24 2-2 2 15 2 14 2-27 2 28 2-29 2 33 2 7 2-8 2-32 2-4 2 8 2 0 2-5 2 44 2-3 2-49 2 40 2 12 2-22 2-9 2-5 2-2 2 20 2 12 2-3 2-23 2 10 2 14 2-10 2-28 2 9 2 34 2-1 2-5 2-13 2-32 2 22 2-22 2 23 2 16 2-28 2-3 2 9 2-24 2 27 2 9 2-14 2 24 2-36 2 10 2-8 2 8 2-20 2 22 2-20 2 34 2-33 2-4 2 20 2 9 2-30 2 43 2 1 2-47 2 14 2 22 2-12 2 15 2-10 2 25 2-26 2 25 2 3 2-44 2 39 2-37 2 35 2 6 2-16 2-26 2 23 2-11 2-19 2 43 2-1 2 10 2-41 2 35 2-17 2-27 2-3 2 1 2 51 2-42 2 6 2-11 2 1 2 4 2 36 2-26 2-1 2-8 2 6 2 9 2-29 2 22 2-17 2 2 2 4 2-6 2 15 2-3 2-12 2-1 2 34 2-25 2 8 2 7 2-5 2-9 2-6 2 43 2-25 2 2 2-17 2 31 2-38 2 39 2-22 2 29 2-28 2 29 2-41 2 2 2 35 2 12 2-16 2-20 2 2 2-21 2 20 2 13 2 1 2-33 2 20 2 4 2 7 2-21 2 8 2 20 2-29 2 39 2-34 2 22 2-32 2 45 2-41 2-1 2 36 2-33 2 35 2-14 2-15 2-12 2 50 2-11 2 7 2 4 2-3 2-43 2 26 2-19 2 39 2-12 2-26 2-5 2 30 2-25 2 3 2-2 2 37 2-30 2 36 2-21 2-24 2 4 2 24 2-22 2 24 2-24 2 23 2-38 2-1 2 15 2 8 2-15 2 22 2-20 2 37 2-3 2 3 2-7 2-28 2-6 2 19 2 20 2-8 2-32 2 18 2-20 2 16 2-7 2-8 2 36 2-24 2 38 2 1 2-6 2-40 2-4 2 4 2 18 2-23 2 48 2-45 2 26 2-21 2 41 2-33 2 19 2-14 2 30 2-1 2-50 2-2 2 48 2-25 2 24 2-43 2 30 2 4 2-37 2 10 2 0 2 34 2-34 2-9 2-2 2 23 2-4 2 5 2 19 2-4 2 10 2-15 2-34 2 47 2-26 2 25 2-3 2-31 2 39 2-8 2-11 2-8 2 8 2 15 2-47 2-2 2 22 2 21 2-36 2 18 2-7 2-17 2 44 2-49 2 22 2 2 2 4 2-29 2 41 2 6 2 0 2-6 2-44 2 43 2 8 2-1 2-10 2-16 2-22 2 15 2 29 2-24 2 30 2-42 2 12 2 12 2-11 2-12 2 37 2-31 2-6 2 9 2 34 2-40 2 26 2-30 2 7 2 2 2-12 2 44 2-45 2 39 2-17 2-9 2-4 2-12 2 49 2-4 2-12 2-26 2 32 2-34 2 16 2 14 2-17 2 23 2-36 2 2 2 42 2 0 2-43 2 1 2 18 2-18 2 40 2-26 2 19 2 3 2-26 2 30 2-33 2 5 2-8 2-8 2 51 2-18 2 11 2-38 2 41 2-48 2 45 2-13 2-13 2-1 2-10 2 16 2-5 2 3 2 13 2-32 2 52 2-1 2-38 2-5 2 39 2-45 2 38 2-32 2 32 2-36 2 31 2-27 2 30 2-21 2 29 2-36 2 16 2 15 2-22 2 15 2-17 2 6 2-18 2 6 2 33 2-3 2-46 2 18 2 19 2-23 2 3 2-11 2 39 2-40 2 7 2 6 2 21 2-9 2-22 2-5 2 50 2-48 2 18 2-6 2-14 2-1 2 30 2 6 2-29 2 42 2-47 2-1 2 40 2 3 2-37 2 25 2-15 2 9 2-21 2-1 2 2 2 7 2-8 2 5 2-7 2 43 2-16 2-21 2 37 2-15 2 1 2-25 2-16 2 44 2-17 2-10 2 8 2-27 2-5 2 0 2 34 2 2 2-29 2 36 2-20 2-4 2 35 2-2 2 11 2-23 2-26 2 0 2 22 2 11 2-31 2-4 2 32 2 10 2-25 2-4 2 0 2 8 2 25 2 5 2 3 2-26 2-10 2-4 2 32 2-34 2 17 2-8 2-4 2 42 2-16 2 6 2-20 2-8 2 2 2 26 2 3 2-6 2-10 2-14 2-11 2 36 2-22 2 22 2-10 2 15 2-8 2-7 2-3 2-9 2-9 2 31 2-17 2-22 2 9 2 0 2-9 2 0 2-3 2 29 2-30 2 5 2 30 2 4 2-26 2 13 2-22 2 41 2-36 2 17 2-6 2 6 2-3 2 23 2-37 2 36 2-29 2-1 2 26 2-17 2 9 2-33 2 30 2-14 2-5 2 10 2 23 2-5 2-28 2 21 2-37 2 18 2-10 2 36 2-3 2-10 2 22 2-22 2 15 2-3 2 11 2-48 2 4 2 37 2 9 2-30 2 27 2-16 2 21 2-14 2 6 2-6 2 9 2-46 2 11 2 32 2-7 2-24 2 28 2 1 2 9 2-23 2 0 2-7 2-13 2 46 2-12 2 8 2-8 2-7 2-12 2 18 2-4 2-25 2 4 2-23 2 47 2-2 2-3 2-8 2 4 2-5 2-26 2 19 2-12 2 24 2 6 2 0 2-1 2-11 2-28 2 2 2 0 2 24 2-21 2 23 2 0 2-6 2 7 2-38 2 39 2-15 2 14 2-8 2-11 2 16 2-2 2-6 2-34 2 30 2-28 2 7 2-8 2 14 2-10 2 7 2-25 2 16 2-31 2 38 2-8 2 1 2-28 2 10 2-15 2 10 2 42 2-32 2 44 2 6 2-12 2 12 2 9 2-8 2-27 2 36 2-28 2 1 2 33 2-9 2 11 2-20 2 17 2-37 2 46 2-4 2-4 2-19 2 5 2-30 2 30 2-40 2 5 2-2 2 26 2 18 2-7 2 0 2-7 2 27 2-31 2-14 2 41 2-44 2 37 2-20 2-17 2 46 2-18 2-28 2 32 2-20 2 9 2-3 2 19 2 3 2-7 2-4 2-25 2 32 2 12 2-5 2-25 2 33 2-36 2-3 2-2 2 35 2 14 2-9 2-40 2 18 2-11 2 26 2-21 2 10 2-2 2-12 2 27 2-32 2 37 2-12 2-24 2 44 2 0 2-12 2-42 2 40 2-14 2 10 2-39 2-1 2-5 2 19 2-16 2 28 2-34 2 1 2 21 2 28 2-27 2 28 2-6 2 21 2-23 2-6 2-21 2 11 2 9 2-5 2 24 2-32 2 33 2-27 2-13 2 29 2-9 2-4 2-10 2-5 2 37 2-13 2-1 2-41 2-13 2 23 2-20 2 8 2-44 2 37 2-8 2 7 2-29 2-2 2 0 2 9 2 12 2 34 2 9 2-10 2 1 2 19 2-27 2 17 2-14 2 25 2-1 2 30 2-16 2-21 2 38 2-4 2-32 2 33 2-5 2-30 2-9 2 19 2-5 2 36 2-16 2-22 2 33 2-29 2 22 2-27 2 14 2-36 2 39 2 4 2 11 2-53 2 41 2-38 2-4 2 5 2 11 2-6 2 39 2-28 2 23 2-35 2 11 2 3 2-9 2-12 2 6 2-7 2-5 2 28 2-31 2 11 2-10 2 25 2 9 2-38 2-12 2 32 2 5 2-14 2-15 2-9 2 6 2 37 2-57 2 40 2-8 2-13 2 7 2-33 2 27 2-52 2 17 2-29 2 30 2-24 2 1 2 38 2-2 2-23 2 45 2-2 2-18 2 43 2-41 2 50 2-45 2 3 2-2 2 11 2-14 2 21 2-19 2 44 2-9 2-8 2-1 2 33 2 0 2-8 2 19 2-8 2 8 2-40 2 3 2-11 2 35 2-7 2-25 2-1 2 3 2 33 2 1 2 5 2-39 2-9 2 13 2 15 2-20 2-2 2-3 2 10 2 33 2-38 2 42 2-47 2 0 2 27 2 21 2-3 2-49 2 35 2-2 2 18 2-57 2 31 2 20 2-13 2-7 2-31 2 22 2 16 2-16 2-48 2-1 2-22 2 36 2-31 2 6 2-13 2-14 2-45 2-1 2 31 2 1 2 33 2 0 2 6 2 26 2 31 2-40 2 16 2 17 2 7 2 1 2 8 2 11 2 24 2 4 2-42 2 38 2-36 2 27 2-32 2 38 2-28 2-1 2 34 2 7 2-37 2 47 2-1 2 1 2-44 2 27 2-26 2 40 2-30 2-2 2 9 2 12 2 0 2-25 2-17 2 53 2-39 2 12 2 8 2-34 2 30 2-1 2-31 2 3 2 35 2 2 2-30 2-1 2 3 2 29 2-38 2 13 2 16 2 17 2 4 2-50 2 34 2-27 2 44 2-13 2-1 2-16 2 18 2 8 2-33 2-5 2 6 2 27 2-8 2-33 2 10 2 1 2 40 2-47 2 21 2 8 2 20 2-35 2-16 2 13 2 28 2-33 2 40 2-13 2-37 2 32 2-20 2 1 2 18 2-33 2 36 2-40 2 53 2-11 2 8 2-32 2-16 2 3 2 45 2-48 2 7 2 12 2 31 2-55 2 19 2-15 2 23 2-3 2-25 2 49 2-22 2-5 2 34 2-44 2 30 2-21 2 24 2-34 2 36 2-3 2 5 2-11 2 18 2-20 2-9 2-16 2 2 2 6 2 35 2-43 2-5 2 9 2 10 2-7 2 28 2 14 2-10 2-2 2 0 2-44 2 48 2-38 2-3 2 26 2-12 2-4 2-22 2 8 2 40 2-44 2-5 2 49 2-39 2 14"/><path d="M174 1798l2 58 2-51 2 5 2 6 2 37 2-9 2 22 2 1 2-12 2-25 2 43 2-8 2-11 2 22 2-9 2-2 2-29 2 37 2-38 2 42 2-3 2-25 2-24 2 14 2 0 2 30 2-21 2 16 2 4 2-24 2 25 2-49 2 24 2-3 2 31 2-26 2-20 2 30 2-37 2 9 2 4 2 29 2 12 2-7 2-11 2-34 2 47 2 2 2-35 2-1 2 24 2-1 2 15 2-10 2-42 2-5 2-3 2 28 2 7 2-27 2-8 2 35 2 3 2 15 2-18 2-14 2 17 2-24 2 22 2 9 2-30 2 11 2 9 2-28 2 25 2 16 2 0 2-39 2 24 2-21 2-2 2 9 2 36 2-53 2-1 2 25 2-26 2 34 2-29 2 11 2 21 2-26 2 17 2-22 2-4 2 31 2-10 2 29 2-9 2-8 2 1 2-28 2-2 2 39 2-14 2 5 2 1 2-6 2 11 2-37 2 5 2 6 2 20 2-8 2 28 2-32 2-9 2 33 2-49 2 26 2-24 2 46 2-43 2 35 2-31 2 26 2-30 2 36 2-6 2-13 2-21 2 51 2-36 2 33 2-36 2 4 2-16 2 49 2-26 2 17 2 7 2-38 2 26 2-15 2 34 2-15 2-26 2 2 2-7 2 17 2 18 2 7 2-18 2 13 2-4 2-39 2 41 2-34 2 26 2-17 2-2 2 29 2-2 2-25 2-14 2-4 2 12 2-8 2 7 2 42 2 4 2-5 2-9 2-24 2 5 2-8 2 9 2-22 2 7 2 26 2-6 2 17 2-40 2 24 2 25 2-31 2 3 2 23 2-3 2-35 2 10 2 31 2-11 2-23 2 20 2-23 2 50 2-15 2-20 2 26 2-2 2-29 2 13 2 21 2-16 2 3 2-19 2 3 2-13 2-7 2 44 2-8 2-27 2 36 2-46 2 1 2 13 2 29 2 1 2-39 2 10 2 34 2-16 2 4 2-19 2-9 2 41 2-5 2-7 2 2 2-30 2 22 2 20 2-43 2 7 2 11 2-22 2 27 2-33 2 51 2-46 2 3 2-1 2 1 2 13 2 20 2-13 2 7 2-26 2-6 2 28 2-15 2 19 2 10 2-4 2-37 2 14 2 0 2 6 2-7 2 25 2-37 2 34 2-22 2-19 2 51 2-4 2-11 2 6 2 5 2-48 2 3 2 43 2 11 2-15 2-19 2 28 2-41 2 8 2-1 2 7 2-11 2-11 2 19 2 27 2 1 2-42 2 38 2-13 2-27 2 32 2-20 2-17 2 43 2-34 2-2 2 34 2-45 2 25 2-23 2 40 2-25 2-14 2 35 2-35 2 22 2-14 2 0 2-6 2-3 2 34 2-34 2 24 2 25 2-42 2 37 2-17 2 15 2-32 2-5 2 38 2-10 2-33 2 42 2-8 2-16 2 14 2 10 2-41 2 6 2 39 2-45 2 33 2 9 2-16 2 14 2-5 2 4 2 2 2-19 2 15 2-38 2 1 2 6 2 15 2-10 2-11 2 35 2-13 2 31 2-6 2-17 2-13 2 28 2-39 2 1 2 18 2 9 2 8 2 5 2 2 2-28 2 14 2 11 2 6 2-24 2-28 2 44 2 7 2-35 2-2 2 29 2-37 2 0 2 40 2-16 2 15 2-1 2-42 2 17 2-6 2 38 2 1 2-6 2-26 2-14 2 51 2-15 2 7 2-1 2-45 2 48 2-43 2 32 2-5 2-35 2 37 2 8 2-23 2-9 2 34 2-41 2 1 2 35 2-32 2-10 2 2 2 20 2-13 2 35 2-19 2-13 2-9 2 23 2-23 2 25 2-13 2 31 2-5 2-40 2 37 2-36 2 41 2-35 2 24 2-8 2 3 2 19 2-1 2-21 2-6 2 9 2 6 2-36 2 41 2 5 2-17 2-9 2 3 2-20 2 1 2-4 2 45 2-13 2-32 2 16 2-18 2 46 2-40 2-1 2-8 2 9 2 26 2-36 2 12 2 18 2-6 2-27 2 0 2 9 2 22 2 4 2 18 2-41 2 26 2-3 2-28 2 25 2-33 2 35 2 1 2 9 2-22 2-11 2 2 2-1 2 30 2-18 2-10 2 14 2 21 2 2 2-16 2 29 2-11 2-13 2 6 2 9 2-31 2 5 2 16 2-24 2 30 2-2 2-31 2 5 2 39 2-37 2-1 2-2 2 7 2 10 2-18 2 3 2 43 2-48 2-2 2 38 2-34 2 7 2-16 2 36 2 10 2-5 2 4 2 3 2 1 2-5 2 4 2-6 2-44 2 28 2 17 2-10 2-31 2 35 2-20 2-5 2 1 2 31 2-34 2-5 2 9 2 11 2-25 2 29 2 19 2-50 2 50 2-39 2 33 2-24 2-14 2 9 2-4 2 36 2-41 2 10 2 35 2-35 2 12 2-20 2 4 2 27 2-32 2 26 2-26 2 39 2-12 2-7 2 18 2-17 2-20 2 9 2-11 2 46 2-9 2-40 2-3 2 54 2-29 2-10 2-9 2 19 2 29 2-50 2-1 2 6 2 23 2 17 2-29 2-6 2-1 2 42 2-12 2 5 2-31 2-3 2 11 2-9 2-11 2 26 2-19 2 10 2 21 2-45 2 42 2-13 2 9 2-40 2 22 2-21 2 42 2-14 2-37 2 25 2-10 2 19 2-8 2 11 2-24 2 19 2 16 2-22 2-1 2-14 2 1 2 17 2-32 2 33 2-22 2-15 2 49 2-44 2 37 2 5 2-46 2 0 2 49 2-54 2 17 2-7 2 31 2 3 2-43 2-7 2-1 2 5 2-4 2 5 2-31 2 17 2-23 2 9 2-3 2-1 2 5 2 5 2 18 2 3 2-8 2 4 2 14 2 3 2 20 2 20 2-29 2 39 2-13 2-35 2 54 2-42 2 32 2 6 2-27 2-14 2 15 2-6 2-1 2-9 2 23 2-40 2 33 2 10 2-31 2 20 2 20 2-46 2 5 2 3 2 4 2-2 2-1 2 46 2-48 2 0 2 16 2-15 2 13 2-7 2 26 2 16 2-40 2 14 2 21 2-6 2 9 2-1 2-41 2 5 2 46 2-49 2 26 2-27 2 28 2 13 2 13 2-5 2-15 2-17 2 39 2-14 2-2 2-9 2 1 2 15 2-22 2 32 2-42 2 26 2-29 2 1 2 29 2-10 2-18 2 8 2-15 2 2 2 23 2-30 2 26 2-23 2 22 2-30 2-7 2 31 2-46 2 2 2 3 2 37 2 4 2-14 2 25 2 11 2-10 2-33 2 2 2 43 2-36 2 44 2-33 2 16 2-19 2-10 2 41 2 1 2-2 2-34 2 32 2-52 2 45 2 1 2-17 2-38 2 19 2-30 2 24 2-4 2-56 2-11 2-6 2-13 2 19 2-24 2 56 2-40 2 44 2 19 2-18 2 7 2 35 2-32 2-1 2 43 2-18 2 31 2 11 2-26 2-9 2 43 2-49 2 6 2 46 2-37 2 32 2-39 2 11 2 31 2-14 2-22 2-6 2 3 2 38 2-13 2-15 2-23 2 29 2-28 2-4 2 17 2 9 2-21 2 28 2 5 2-1 2-18 2 6 2-6 2-6 2 15 2 0 2-17 2 19 2-14 2-18 2 2 2 26 2-29 2-4 2-2 2-4 2 28 2 7 2-45 2-5 2 35 2-34 2 45 2-53 2 38 2-29 2 15 2 29 2-57 2 49 2-23 2-33 2-4 2 7 2 22 2-32 2 11 2-36 2 17 2-55 2-7 2 12 2 25 2 11 2-1 2 7 2 3 2 19 2 4 2 20 2-38 2 50 2-11 2 28 2-1 2-28 2 19 2-25 2 15 2-19 2 37 2 8 2-19 2 6 2 18 2 23 2-14 2 12 2-6 2 14 2-9 2 1 2-3 2-44 2 34 2 14 2-53 2 34 2-32 2 17 2-9 2 38 2-12 2-33 2 39 2 2 2 7 2-45 2 36 2-18 2 12 2 6 2-26 2 3 2-10 2 29 2-30 2 5 2 35 2-8 2-39 2 36 2 5 2 1 2-41 2 14 2-24 2 24 2-23 2-40 2-7 2-14 2 2 2-29 2-5 2-56 2 24 2-37 2-29 2-1 2 18 2 44 2-21 2 50 2 6 2 35 2 22 2 31 2-13 2 53 2-10 2-22 2 26 2-20 2 5 2 13 2 40 2-29 2 24 2-3 2 8 2-40 2 5 2 43 2-32 2 33 2-39 2-1 2 32 2-26 2-2 2 31 2-39 2 33 2 1 2-18 2 21 2-27 2 40 2-40 2-10 2 1 2 16 2 16 2 9 2 8 2-11 2-38 2 33 2 0 2-20 2-20 2 19 2-21 2 21 2 20 2-30 2 41 2-45 2 4 2-9 2 38 2-27 2-1 2 1 2-1 2-3 2 0 2 18 2 9 2-11 2 27 2 1 2-40 2 33 2-21 2-15 2 46 2 8 2 4 2-2 2-33 2-4 2 5 2 8 2-33 2 30 2 21 2-43 2-6 2 18 2-5 2 14 2 2 2 0 2-11 2 2 2-13 2 13 2 23 2-50 2 10 2 13 2 7 2-18 2 3 2-12 2 31 2-11 2-20 2 17 2 9 2-32 2 0 2 39 2 3 2 3 2-23 2 26 2-39 2 30 2-32 2 18 2 19 2 1 2 9 2-12 2-24 2 41 2-17 2-26 2 43 2-54 2 43 2-8 2-13 2-13 2 22 2 10 2-4 2-39 2 8 2 0 2-5 2 13 2-7 2 34 2 12 2-33 2 13 2 11 2-37 2 26 2-22 2-5 2 10 2 6 2 0 2 8 2 7"/><path d="M174 1800l2 6 2 52 2-41 2 0 2 13 2 25 2-28 2 30 2-28 2 6 2 2 2 19 2-15 2 16 2-15 2 29 2-22 2-11 2 39 2-2 2-1 2-11 2-16 2 19 2-45 2 41 2-2 2-23 2 18 2-9 2-1 2-12 2 8 2 19 2-23 2-13 2 48 2-5 2-43 2 4 2 28 2-29 2 44 2-50 2 41 2-43 2 56 2-50 2-5 2 8 2 7 2-14 2 5 2 29 2 12 2-36 2 28 2-14 2 2 2 13 2-31 2-1 2 19 2-17 2-1 2-15 2 46 2-42 2 14 2 31 2-31 2-12 2 30 2 7 2 0 2-25 2-7 2-8 2 43 2-3 2-5 2-2 2-25 2 33 2 6 2-24 2 21 2-45 2 29 2-18 2 34 2-25 2 9 2-22 2 14 2 9 2-36 2 19 2 33 2-9 2-36 2 5 2 0 2 11 2-22 2 41 2-40 2 50 2 4 2-5 2-3 2-11 2-21 2 5 2 36 2-9 2-43 2 8 2-3 2-8 2-4 2 12 2-9 2 8 2-2 2-9 2 55 2 4 2-39 2-6 2-8 2 44 2-41 2 6 2 32 2 2 2-46 2 34 2-14 2 29 2-45 2-2 2 35 2 21 2-2 2-36 2 25 2-6 2 8 2-25 2-4 2 25 2-9 2-27 2 37 2 5 2 8 2-43 2 33 2-33 2-10 2 50 2-18 2-22 2 37 2-28 2-12 2-9 2 43 2-35 2-7 2 8 2 39 2-43 2 51 2-39 2 36 2-29 2-18 2-2 2 0 2 43 2-41 2 50 2-40 2-13 2 40 2 2 2-23 2 36 2-40 2 3 2-4 2-3 2 0 2 44 2-47 2 22 2 10 2-29 2 4 2-9 2 29 2-23 2-2 2 33 2-23 2 25 2 6 2-45 2 45 2-10 2-20 2 22 2-5 2-24 2-13 2 11 2 21 2-8 2-15 2-1 2 32 2 11 2-44 2 6 2-9 2 6 2 36 2-18 2 22 2-20 2-4 2 30 2-46 2 42 2-10 2-25 2 6 2-3 2 34 2-43 2 31 2 9 2-33 2 4 2-18 2 43 2-12 2 16 2 0 2-26 2-11 2 43 2-30 2 26 2-47 2 45 2-14 2-26 2 22 2-19 2 8 2 20 2-9 2 18 2-24 2-18 2 6 2 32 2-22 2 31 2-19 2-15 2 31 2-25 2-11 2 40 2-5 2 4 2-12 2-6 2-9 2-26 2 7 2 9 2 17 2-20 2 32 2-31 2-20 2 18 2 35 2-9 2 4 2-31 2 3 2 9 2-20 2-2 2-6 2 5 2-4 2 15 2 31 2 4 2-16 2-28 2 9 2 2 2 24 2-5 2-13 2 4 2-25 2 13 2-8 2 38 2-41 2 16 2 9 2 7 2-17 2-8 2 14 2 17 2-8 2 4 2-14 2-16 2 34 2-35 2 1 2 41 2-18 2-34 2 30 2 12 2 4 2-25 2-18 2 49 2-30 2 23 2-1 2-2 2 14 2 1 2-19 2 7 2-21 2 24 2-25 2-11 2 34 2-17 2 18 2-26 2 24 2 9 2-50 2 5 2 19 2-9 2-13 2 44 2 7 2-45 2-1 2 26 2 10 2 7 2-32 2-10 2 13 2 24 2-30 2-10 2 23 2 11 2-16 2-5 2-7 2 12 2-1 2-13 2-3 2 0 2 14 2 27 2 1 2 5 2-52 2 0 2 4 2 31 2 3 2-34 2 42 2-12 2 1 2-5 2 8 2-31 2 35 2-6 2-28 2 4 2-3 2 40 2-10 2-21 2-19 2-3 2 15 2-4 2 5 2-3 2-3 2 40 2 2 2-27 2-8 2 33 2-8 2-38 2 32 2 17 2-16 2-20 2 32 2-25 2-14 2 2 2 21 2 9 2 7 2 3 2-3 2-3 2-43 2 44 2-33 2 6 2 11 2-31 2 30 2-34 2 6 2 27 2-46 2 35 2-38 2 19 2-25 2 24 2-13 2-5 2 6 2 40 2-38 2 50 2 4 2-32 2-14 2-2 2 49 2-53 2-5 2 41 2-43 2 3 2-2 2 58 2-22 2 28 2-46 2 30 2-8 2 6 2-12 2 19 2-33 2 12 2 27 2 12 2-33 2 2 2-13 2 8 2 41 2-5 2-28 2-15 2 37 2-26 2 7 2-6 2 2 2-11 2 0 2 0 2 44 2-10 2-11 2-17 2-15 2 46 2-13 2 10 2-46 2 24 2-18 2 12 2 20 2 10 2-8 2 3 2-43 2 18 2-4 2-16 2 11 2-11 2 53 2-41 2 6 2-14 2 53 2-7 2-36 2 4 2 28 2-17 2-12 2 36 2-38 2-5 2 2 2-2 2-5 2 0 2 30 2 5 2 13 2 1 2-1 2-2 2-37 2 21 2 8 2 4 2-31 2 21 2 1 2 9 2-11 2 9 2-19 2 12 2-7 2-26 2 37 2-30 2 18 2-2 2 17 2-1 2-18 2 27 2-48 2 4 2 9 2 32 2-36 2-8 2 41 2 1 2 1 2-13 2 21 2-25 2-16 2-9 2 26 2-28 2 10 2 36 2-3 2-37 2-2 2 46 2-11 2-4 2-23 2 1 2-20 2 1 2 9 2-13 2-5 2 31 2-16 2 29 2-39 2 26 2 13 2 5 2-41 2-13 2 34 2-3 2-19 2 1 2 32 2-39 2 27 2 6 2-41 2 19 2 18 2-28 2 31 2 1 2-24 2 18 2-30 2 39 2-16 2-12 2 28 2-19 2 6 2-6 2-2 2-20 2 21 2-58 2 1 2-8 2-28 2 31 2-7 2-33 2-7 2 21 2-17 2 2 2 37 2-2 2 26 2 23 2 24 2-23 2 24 2-32 2 40 2-26 2 32 2-7 2-17 2 25 2-37 2 15 2-7 2 6 2-2 2-3 2 17 2 12 2-29 2 23 2 4 2-46 2 39 2 7 2-33 2-7 2 26 2 18 2-36 2 0 2 33 2 12 2-30 2 37 2 1 2-54 2 31 2 17 2-5 2-18 2 30 2-49 2 13 2-3 2 26 2-24 2 12 2 21 2 4 2-32 2 13 2 15 2-39 2 24 2-26 2 1 2-3 2 48 2-10 2-24 2-3 2 2 2 29 2 10 2-17 2 19 2-44 2 25 2-3 2 21 2-52 2 5 2 38 2-2 2-21 2 14 2 3 2-34 2 37 2-24 2 7 2-22 2 6 2-24 2 5 2 15 2 12 2-13 2-7 2 32 2-37 2 8 2-7 2 46 2 1 2-38 2 42 2-11 2 15 2-50 2 33 2-27 2 37 2-9 2 16 2-52 2-4 2 45 2-52 2 34 2-6 2-2 2-3 2-60 2-3 2-10 2 29 2-41 2 7 2-17 2-38 2 28 2 25 2-36 2 46 2 20 2-1 2 18 2-1 2 11 2 18 2-24 2 0 2 16 2 11 2-9 2-6 2 12 2 41 2-41 2 24 2-24 2 6 2 40 2-40 2 15 2 13 2-36 2 10 2 5 2 30 2 1 2-8 2 3 2-53 2 46 2-4 2-4 2-25 2-22 2 1 2 1 2 30 2-17 2 36 2-28 2 22 2-26 2 35 2-46 2 34 2 3 2-1 2 11 2-15 2-2 2-7 2 11 2-39 2 6 2 17 2-44 2-4 2-2 2 39 2-29 2-5 2 33 2 5 2-48 2 0 2 17 2-30 2-8 2 3 2 20 2-44 2 36 2-49 2 9 2-33 2-18 2 22 2-29 2 21 2-21 2-1 2 23 2 21 2 20 2-23 2 44 2-21 2 39 2 4 2-18 2 15 2 17 2-6 2 31 2-10 2-8 2 16 2-14 2 13 2-25 2 16 2 4 2-3 2-1 2 41 2 2 2-40 2 2 2 11 2 35 2-1 2-11 2-41 2 30 2-24 2-11 2-5 2 38 2 10 2-7 2-19 2 11 2 1 2-16 2-12 2 25 2-18 2-4 2 41 2 8 2-26 2 25 2 7 2-52 2 27 2 9 2-8 2-16 2 28 2-45 2 38 2-45 2 30 2-47 2 25 2-9 2-49 2 20 2-59 2-30 2-21 2 13 2-61 2-6 2-18 2-47 2 16 2-17 2 21 2 66 2 39 2 19 2 3 2 15 2 26 2 71 2-4 2 7 2 16 2 20 2-4 2-11 2-12 2 2 2 4 2 15 2 25 2-13 2 24 2 10 2-28 2 20 2-22 2 11 2-13 2 26 2-32 2-10 2 3 2 10 2-13 2 10 2-13 2 15 2-5 2 12 2 15 2-2 2-14 2 29 2-12 2-5 2-30 2 38 2-15 2-18 2-8 2 23 2-15 2 38 2 1 2-12 2-27 2-3 2 47 2-32 2 0 2-16 2 9 2 10 2 5 2 28 2 2 2-25 2-23 2 9 2 20 2 10 2-44 2 7 2 1 2 0 2 14 2 10 2 11 2-22 2 15 2-14 2 23 2 2 2-46 2 11 2 2 2 3 2 26 2-19 2-6 2 26 2 6 2-2 2-9 2 1 2-18 2-23 2 8 2 17 2 7 2-2 2 3 2-1 2 18 2-11 2 9 2-44 2 24 2-16 2 0 2-9 2 1 2 11 2 10 2-24 2 29 2 5 2-7 2 25 2-54 2 8 2 28 2-25 2 23 2-28 2-6 2 33 2 18 2-45 2 33 2-32 2 35 2-9 2-28 2 47 2-35 2 19 2-31 2 41 2-34 2-3 2 2 2 29 2 1 2-1 2-23 2-17 2 8 2 5 2-11 2 45 2-4 2-19 2 21 2-36 2 24 2-25 2-9 2-5 2 28"/></g>
</g>
<g transform="scale(0.5)">
<defs><pattern id="pat3u" width="74" height="58" patternUnits="userSpaceOnUse"><rect width="74" height="58" fill="#ff8800"/><path d="M2 0h4v4h-4zM6 0h2v2h-2zM20 0h2v4h-2zM30 0h2v4h-2zM50 0h2v2h-2zM62 0h4v2h-4zM66 0h4v2h-4zM22 2h2v2h-2zM38 2h4v2h-4zM16 4h2v2h-2zM36 4h2v2h-2zM56 4h2v4h-2zM8 6h2v4h-2zM10 6h2v2h-2zM42 6h4v2h-4zM48 6h4v4h-4zM60 6h2v2h-2zM62 6h4v2h-4zM68 6h2v4h-2zM50 8h4v2h-4zM62 8h2v4h-2zM66 8h2v2h-2zM8 10h4v4h-4zM12 10h4v2h-4zM30 10h2v2h-2zM62 10h4v2h-4zM0 12h2v2h-2zM6 12h2v4h-2zM16 12h4v4h-4zM32 12h4v4h-4zM62 12h2v2h-2zM0 14h4v4h-4zM32 14h2v4h-2zM46 14h4v4h-4zM50 14h2v4h-2zM6 16h2v4h-2zM8 16h2v4h-2zM20 16h2v2h-2zM30 16h4v2h-4zM40 16h4v2h-4zM54 16h4v4h-4zM18 20h2v4h-2zM66 20h2v4h-2zM20 22h2v4h-2zM28 22h2v2h-2zM58 22h4v2h-4zM28 24h4v4h-4zM64 24h2v4h-2zM0 26h2v2h-2zM58 26h2v2h-2zM62 26h2v2h-2zM0 28h4v2h-4zM2 28h2v4h-2zM12 28h2v4h-2zM52 28h4v2h-4zM60 28h2v4h-2zM62 28h4v2h-4zM38 30h4v4h-4zM60 30h2v2h-2zM62 30h2v2h-2zM66 30h4v4h-4zM4 32h4v2h-4zM14 32h4v2h-4zM36 32h4v4h-4zM12 34h2v4h-2zM18 34h2v4h-2zM20 34h4v4h-4zM62 34h4v2h-4zM64 34h4v4h-4zM32 36h2v2h-2zM44 36h4v2h-4zM52 36h4v2h-4zM66 36h4v4h-4zM6 38h4v4h-4zM16 38h2v4h-2zM30 38h4v4h-4zM34 38h4v2h-4zM40 38h4v4h-4zM72 38h4v2h-4zM4 40h2v2h-2zM12 40h4v2h-4zM24 40h2v4h-2zM32 42h2v4h-2zM38 42h4v4h-4zM46 42h4v2h-4zM60 42h2v4h-2zM62 42h2v4h-2zM12 44h4v4h-4zM38 44h4v4h-4zM64 44h4v2h-4zM50 46h2v2h-2zM6 48h4v2h-4zM8 48h2v4h-2zM42 48h2v4h-2zM60 48h2v4h-2zM24 50h4v2h-4zM38 50h2v4h-2zM52 50h4v2h-4zM12 52h2v4h-2zM22 52h2v4h-2zM38 52h2v4h-2zM26 54h2v4h-2zM32 54h2v4h-2zM42 54h2v2h-2zM12 56h4v2h-4zM20 56h2v4h-2zM28 56h4v4h-4zM32 56h4v4h-4zM44 56h2v4h-2zM48 56h2v2h-2zM50 56h4v4h-4z" fill="#fff"/></pattern></defs>
<defs><pattern id="pat3l" width="74" height="58" patternUnits="userSpaceOnUse"><rect width="74" height="58" fill="#ff8800"/><path d="M32 4h4v4h-4zM0 6h4v4h-4zM26 16h4v2h-4zM38 38h4v4h-4zM32 42h4v2h-4zM46 42h2v2h-2zM36 50h4v2h-4zM60 50h2v2h-2zM66 52h2v4h-2zM24 56h2v4h-2z" fill="#fff"/></pattern></defs>
<defs><pattern id="pat3s" width="74" height="58" patternUnits="userSpaceOnUse"><rect width="74" height="58" fill="#ff8800"/><path d="M6 0h2v4h-2zM14 0h2v2h-2zM24 0h2v2h-2zM26 0h2v4h-2zM32 0h4v4h-4zM40 0h2v2h-2zM46 0h4v4h-4zM48 0h4v2h-4zM50 0h2v2h-2zM60 0h4v2h-4zM0 2h2v2h-2zM2 2h4v4h-4zM6 2h2v2h-2zM8 2h4v4h-4zM16 2h4v2h-4zM20 2h4v4h-4zM30 2h4v4h-4zM34 2h4v4h-4zM38 2h4v2h-4zM40 2h4v2h-4zM44 2h2v4h-2zM46 2h2v4h-2zM60 2h4v2h-4zM64 2h4v2h-4zM70 2h2v4h-2zM2 4h4v4h-4zM6 4h2v2h-2zM8 4h2v2h-2zM12 4h2v2h-2zM18 4h4v2h-4zM20 4h2v4h-2zM30 4h2v4h-2zM34 4h2v4h-2zM44 4h2v4h-2zM48 4h2v4h-2zM50 4h2v4h-2zM52 4h4v4h-4zM64 4h4v4h-4zM72 4h2v4h-2zM0 6h4v4h-4zM2 6h4v2h-4zM4 6h2v4h-2zM8 6h4v2h-4zM16 6h2v4h-2zM18 6h2v2h-2zM20 6h4v2h-4zM22 6h4v4h-4zM24 6h2v4h-2zM30 6h4v2h-4zM34 6h4v4h-4zM36 6h2v2h-2zM38 6h2v4h-2zM42 6h4v2h-4zM46 6h2v2h-2zM56 6h2v4h-2zM60 6h4v4h-4zM62 6h2v4h-2zM66 6h2v2h-2zM70 6h4v2h-4zM0 8h2v4h-2zM2 8h4v2h-4zM6 8h4v4h-4zM12 8h4v4h-4zM14 8h4v4h-4zM16 8h4v2h-4zM22 8h2v4h-2zM24 8h2v4h-2zM28 8h2v4h-2zM30 8h4v4h-4zM32 8h4v4h-4zM34 8h2v2h-2zM40 8h2v2h-2zM44 8h4v4h-4zM50 8h2v4h-2zM52 8h4v2h-4zM58 8h2v2h-2zM62 8h4v4h-4zM64 8h4v4h-4zM66 8h4v4h-4zM72 8h4v2h-4zM20 10h4v4h-4zM36 10h2v2h-2zM40 10h4v4h-4zM50 10h4v4h-4zM56 10h4v4h-4zM62 10h2v4h-2zM64 10h2v4h-2zM0 12h4v2h-4zM10 12h4v4h-4zM12 12h2v2h-2zM18 12h4v2h-4zM24 12h2v4h-2zM26 12h4v4h-4zM28 12h4v2h-4zM30 12h4v2h-4zM32 12h2v4h-2zM34 12h4v2h-4zM36 12h4v2h-4zM46 12h2v4h-2zM52 12h2v2h-2zM54 12h4v2h-4zM56 12h4v4h-4zM58 12h4v2h-4zM60 12h4v2h-4zM62 12h4v2h-4zM66 12h4v2h-4zM18 14h4v2h-4zM20 14h2v2h-2zM24 14h4v4h-4zM28 14h4v4h-4zM30 14h4v4h-4zM32 14h2v2h-2zM36 14h4v4h-4zM40 14h4v2h-4zM42 14h4v2h-4zM50 14h4v2h-4zM54 14h2v4h-2zM56 14h2v2h-2zM62 14h4v4h-4zM64 14h4v2h-4zM66 14h4v2h-4zM68 14h2v2h-2zM72 14h4v4h-4zM0 16h4v4h-4zM2 16h4v4h-4zM6 16h2v4h-2zM12 16h4v2h-4zM20 16h4v4h-4zM22 16h4v4h-4zM26 16h4v2h-4zM32 16h2v4h-2zM34 16h2v4h-2zM40 16h2v2h-2zM42 16h2v2h-2zM48 16h2v2h-2zM50 16h2v2h-2zM52 16h2v4h-2zM58 16h4v4h-4zM60 16h4v2h-4zM62 16h2v4h-2zM70 16h2v4h-2zM72 16h2v2h-2zM0 18h4v2h-4zM6 18h4v4h-4zM16 18h4v4h-4zM22 18h2v4h-2zM24 18h4v2h-4zM26 18h4v4h-4zM28 18h2v4h-2zM30 18h4v2h-4zM34 18h2v4h-2zM38 18h2v4h-2zM46 18h2v4h-2zM50 18h2v4h-2zM56 18h2v4h-2zM62 18h2v4h-2zM66 18h4v2h-4zM68 18h4v4h-4zM0 20h4v2h-4zM4 20h2v4h-2zM6 20h4v4h-4zM16 20h2v2h-2zM24 20h4v2h-4zM32 20h4v4h-4zM34 20h4v2h-4zM36 20h2v2h-2zM38 20h2v4h-2zM40 20h4v4h-4zM48 20h2v2h-2zM50 20h2v4h-2zM54 20h2v2h-2zM56 20h4v4h-4zM70 20h2v2h-2zM0 22h4v4h-4zM4 22h2v2h-2zM6 22h4v4h-4zM16 22h4v2h-4zM20 22h4v2h-4zM26 22h2v4h-2zM28 22h4v2h-4zM36 22h2v2h-2zM38 22h4v2h-4zM44 22h2v2h-2zM52 22h2v2h-2zM56 22h4v4h-4zM62 22h4v2h-4zM64 22h2v4h-2zM68 22h2v4h-2zM72 22h2v4h-2zM2 24h2v4h-2zM8 24h4v2h-4zM10 24h4v2h-4zM14 24h2v2h-2zM18 24h2v4h-2zM26 24h4v4h-4zM28 24h4v2h-4zM34 24h4v2h-4zM40 24h4v4h-4zM48 24h2v4h-2zM52 24h2v2h-2zM56 24h2v2h-2zM58 24h2v2h-2zM66 24h2v2h-2zM68 24h4v2h-4zM72 24h4v2h-4zM2 26h2v2h-2zM10 26h2v4h-2zM12 26h2v4h-2zM16 26h4v4h-4zM18 26h2v4h-2zM22 26h2v4h-2zM26 26h4v4h-4zM30 26h2v4h-2zM34 26h4v4h-4zM40 26h2v4h-2zM44 26h4v2h-4zM46 26h4v4h-4zM50 26h2v2h-2zM56 26h2v2h-2zM60 26h4v4h-4zM64 26h4v4h-4zM66 26h4v4h-4zM70 26h2v4h-2zM4 28h4v2h-4zM6 28h2v4h-2zM12 28h4v2h-4zM20 28h4v2h-4zM22 28h2v4h-2zM24 28h2v2h-2zM26 28h2v2h-2zM32 28h2v2h-2zM34 28h4v4h-4zM54 28h2v2h-2zM58 28h4v2h-4zM2 30h2v2h-2zM12 30h4v4h-4zM14 30h4v2h-4zM18 30h2v2h-2zM36 30h4v2h-4zM42 30h4v2h-4zM48 30h2v2h-2zM52 30h4v4h-4zM68 30h4v4h-4zM72 30h2v4h-2zM0 32h2v2h-2zM4 32h4v2h-4zM6 32h4v2h-4zM8 32h2v4h-2zM10 32h2v4h-2zM18 32h4v2h-4zM22 32h4v2h-4zM32 32h4v2h-4zM34 32h2v2h-2zM36 32h4v4h-4zM38 32h2v2h-2zM42 32h4v4h-4zM44 32h4v2h-4zM52 32h2v2h-2zM54 32h4v4h-4zM56 32h4v4h-4zM58 32h2v4h-2zM64 32h4v2h-4zM68 32h2v2h-2zM0 34h2v4h-2zM6 34h2v4h-2zM10 34h2v2h-2zM12 34h4v4h-4zM16 34h4v2h-4zM18 34h4v4h-4zM22 34h4v4h-4zM24 34h2v4h-2zM26 34h2v2h-2zM30 34h4v2h-4zM32 34h2v2h-2zM36 34h2v2h-2zM38 34h2v2h-2zM42 34h2v2h-2zM48 34h4v4h-4zM50 34h4v4h-4zM60 34h2v4h-2zM66 34h2v2h-2zM68 34h2v2h-2zM70 34h4v2h-4zM72 34h2v4h-2zM0 36h4v4h-4zM2 36h2v2h-2zM4 36h4v2h-4zM8 36h4v4h-4zM12 36h2v4h-2zM14 36h2v4h-2zM24 36h4v2h-4zM26 36h2v2h-2zM28 36h2v2h-2zM30 36h4v2h-4zM40 36h2v2h-2zM44 36h2v4h-2zM48 36h4v4h-4zM50 36h4v2h-4zM56 36h2v2h-2zM58 36h4v2h-4zM72 36h2v2h-2zM0 38h4v4h-4zM4 38h2v2h-2zM6 38h2v4h-2zM8 38h2v4h-2zM14 38h4v2h-4zM16 38h4v2h-4zM18 38h2v2h-2zM20 38h2v2h-2zM22 38h4v4h-4zM26 38h4v2h-4zM34 38h4v2h-4zM40 38h2v4h-2zM48 38h4v4h-4zM50 38h2v2h-2zM54 38h4v2h-4zM60 38h2v4h-2zM0 40h2v4h-2zM4 40h4v2h-4zM6 40h2v2h-2zM8 40h4v2h-4zM12 40h4v4h-4zM16 40h4v4h-4zM28 40h4v4h-4zM32 40h4v2h-4zM34 40h4v4h-4zM38 40h2v2h-2zM58 40h2v2h-2zM60 40h2v4h-2zM70 40h4v4h-4zM0 42h2v2h-2zM8 42h2v4h-2zM12 42h4v4h-4zM16 42h4v2h-4zM36 42h4v2h-4zM50 42h2v2h-2zM52 42h2v4h-2zM56 42h4v2h-4zM64 42h2v4h-2zM68 42h2v4h-2zM70 42h2v2h-2zM72 42h2v4h-2zM0 44h4v2h-4zM2 44h2v4h-2zM6 44h4v2h-4zM8 44h4v4h-4zM24 44h2v4h-2zM26 44h2v4h-2zM30 44h4v4h-4zM48 44h4v2h-4zM52 44h4v2h-4zM60 44h4v2h-4zM62 44h4v2h-4zM64 44h4v2h-4zM72 44h2v2h-2zM0 46h4v4h-4zM6 46h4v4h-4zM10 46h2v2h-2zM16 46h4v2h-4zM18 46h2v4h-2zM20 46h4v2h-4zM24 46h2v4h-2zM28 46h4v4h-4zM36 46h2v2h-2zM38 46h2v2h-2zM40 46h2v2h-2zM42 46h2v4h-2zM54 46h2v4h-2zM60 46h4v2h-4zM62 46h4v4h-4zM64 46h4v2h-4zM66 46h2v2h-2zM70 46h4v2h-4zM4 48h4v2h-4zM12 48h2v2h-2zM18 48h2v2h-2zM20 48h2v2h-2zM28 48h4v2h-4zM32 48h4v4h-4zM34 48h4v2h-4zM46 48h4v4h-4zM50 48h2v4h-2zM52 48h2v2h-2zM56 48h4v4h-4zM64 48h2v4h-2zM68 48h2v4h-2zM70 48h4v2h-4zM72 48h4v4h-4zM4 50h4v2h-4zM10 50h4v2h-4zM18 50h4v2h-4zM30 50h2v4h-2zM42 50h4v2h-4zM44 50h2v4h-2zM50 50h4v4h-4zM52 50h2v4h-2zM62 50h4v4h-4zM66 50h2v2h-2zM72 50h2v4h-2zM10 52h4v4h-4zM12 52h4v4h-4zM38 52h2v2h-2zM40 52h2v2h-2zM52 52h2v4h-2zM56 52h4v4h-4zM64 52h2v2h-2zM66 52h4v4h-4zM68 52h4v4h-4zM8 54h4v4h-4zM14 54h4v4h-4zM18 54h2v4h-2zM22 54h4v4h-4zM30 54h2v4h-2zM40 54h4v4h-4zM50 54h2v2h-2zM52 54h2v4h-2zM54 54h4v4h-4zM2 56h4v4h-4zM4 56h2v4h-2zM6 56h2v4h-2zM8 56h2v4h-2zM10 56h4v2h-4zM12 56h2v2h-2zM22 56h4v4h-4zM24 56h2v4h-2zM26 56h2v4h-2zM30 56h2v2h-2zM32 56h2v4h-2zM42 56h2v2h-2zM44 56h2v4h-2zM46 56h4v4h-4zM58 56h2v4h-2zM64 56h2v2h-2zM68 56h2v4h-2zM70 56h4v4h-4zM72 56h4v4h-4z" fill="#fff"/></pattern></defs>
<path d="M174 2308l2-2 2 1 2 2 2 5 2 3 2 1 2 3 2 0 2-3 2 1 2 1 2-1 2 1 2-1 2 1 2 2 2 0 2 0 2-2 2 2 2-2 2 2 2-5 2 2 2 1 2 5 2-2 2-3 2-2 2 0 2 2 2 1 2 1 2-1 2 1 2-3 2-2 2 1 2-1 2-4 2 2 2 2 2 2 2-2 2-3 2-2 2 2 2 0 2 0 2-2 2 0 2-2 2 2 2 2 2-1 2-5 2-2 2-2 2 0 2 1 2 3 2 0 2 0 2 1 2 2 2-4 2 2 2-1 2 0 2 1 2 1 2 4 2 2 2-2 2 2 2-3 2 0 2-2 2 6 2 2 2 2 2 2 2-1 2 1 2-3 2 3 2-1 2 5 2-1 2 2 2-3 2 1 2-2 2 2 2-3 2-5 2-1 2 0 2 1 2 3 2-3 2-2 2-4 2 3 2 1 2 5 2 0 2 1 2-2 2-5 2 2 2 2 2-1 2 1 2-2 2-2 2 0 2 1 2 2 2-2 2 2 2-1 2 3 2 2 2 1 2 1 2-4 2-3 2 1 2-2 2 2 2 1 2 0 2 5 2-4 2-1 2-4 2-1 2-4 2 2 2 1 2-1 2-1 2 0 2-2 2 1 2-4 2-3 2 1 2 1 2 1 2 1 2 2 2 1 2 4 2 1 2-4 2-2 2-2 2 2 2 8 2 1 2 0 2-2 2 3 2-2 2-3 2 2 2 3 2-1 2 1 2-2 2 5 2 0 2 0 2-2 2-2 2-1 2 2 2-3 2 4 2 0 2-1 2 2 2 0 2 0 2 1 2-4 2-5 2 2 2 3 2-1 2-2 2 4 2-1 2 1 2-3 2 3 2 1 2-1 2-3 2 1 2 1 2 2 2 5 2 1 2-2 2-4 2-3 2-1 2 3 2 2 2-1 2 0 2 2 2-2 2 2 2 0 2 0 2-5 2 1 2-3 2 1 2 1 2 0 2 1 2-2 2 0 2 2 2-1 2 0 2 4 2 0 2-3 2-2 2 1 2 1 2 0 2 2 2-2 2 0 2-4 2 3 2-1 2 1 2 0 2 5 2-3 2-2 2-5 2-3 2 0 2 1 2-1 2-2 2-5 2 0 2-3 2 5 2 4 2 3 2 5 2-1 2 2 2-3 2 0 2-1 2-2 2 2 2-1 2-1 2-1 2 3 2-1 2 2 2 2 2-3 2 3 2 1 2-1 2-3 2 0 2 0 2 1 2-3 2 0 2 3 2 1 2 2 2 1 2-3 2 1 2-2 2 0 2-1 2 2 2 4 2-1 2 0 2-4 2-1 2 1 2 2 2 2 2-1 2-4 2 3 2 1 2-1 2-1 2-3 2-2 2 2 2 2 2 1 2-2 2-1 2 5 2-2 2 0 2 2 2-1 2 4 2-2 2 0 2-1 2-1 2-2 2 3 2 0 2 0 2 1 2-2 2-1 2 0 2-5 2-2 2 3 2-2 2 2 2-2 2 3 2 7 2 1 2 1 2-1 2 2 2 0 2-2 2 2 2-1 2-4 2 1 2 1 2 0 2 0 2-3 2-1 2 2 2-2 2 0 2 0 2 3 2-2 2 0 2-1 2-1 2-3 2 0 2 2 2 0 2 2 2 1 2 3 2 0 2 2 2-2 2-4 2-2 2-2 2 0 2 5 2-1 2-4 2 1 2-2 2 2 2 2 2 0 2-1 2-2 2 3 2-2 2-3 2 2 2 1 2 2 2 2 2-1 2 1 2-1 2 3 2-1 2 3 2-1 2 4 2 1 2-3 2-1 2 1 2-1 2 2 2-4 2 3 2-1 2-1 2-3 2-3 2 2 2 3 2 5 2 3 2-1 2-5 2 0 2 1 2 0 2-3 2-3 2 2 2-4 2 2 2-1 2 0 2-4 2-4 2 0 2 3 2-2 2 1 2 0 2-3 2 2 2 1 2-3 2-3 2 1 2 1 2-1 2-4 2-6 2-4 2-1 2 0 2-2 2-3 2 3 2 2 2 4 2 1 2 1 2-3 2 0 2-1 2-2 2 0 2 1 2 3 2 0 2-3 2 2 2 4 2 2 2-1 2 2 2 2 2 2 2 3 2-1 2-1 2 1 2 2 2 5 2-3 2 2 2 0 2-2 2 2 2 2 2 1 2 2 2-2 2-2 2-1 2 3 2-2 2 1 2 1 2 2 2 0 2 1 2 4 2-6 2-2 2 2 2 0 2-1 2 6 2 0 2-1 2 2 2-4 2 0 2-6 2-1 2 5 2 1 2 2 2-2 2 2 2 2 2 4 2 0 2-2 2 4 2 0 2-1 2-1 2-5 2 0 2 2 2 0 2 0 2 2 2 1 2-5 2 0 2-2 2 4 2-1 2 2 2-4 2 1 2-5 2 0 2 5 2-4 2 0 2 0 2 1 2 1 2 1 2-1 2 0 2 2 2-3 2-1 2-2 2 5 2 3 2 3 2 2 2 1 2-4 2-4 2 1 2 1 2-3 2-1 2 1 2 0 2 0 2 1 2 2 2-6 2-1 2 5 2-2 2-2 2 0 2-1 2 0 2-3 2 1 2 1 2-2 2 0 2 0 2 1 2 0 2-4 2 1 2 3 2 0 2-4 2-4 2 0 2-7 2-4 2-2 2-3 2 1 2 1 2 3 2 3 2 0 2 3 2 4 2-2 2 3 2-1 2-1 2 0 2 0 2 0 2 3 2 0 2-3 2 1 2 2 2 0 2 0 2 1 2-2 2-4 2 1 2 1 2-1 2-1 2-3 2 1 2-1 2-1 2-6 2-2 2-9 2-6 2-7 2-7 2-5 2-16 2-12 2-13 2-6 2-3 2 0 2 6 2 12 2 12 2 12 2 10 2 11 2 7 2 9 2 3 2 6 2 3 2 1 2 5 2-1 2 0 2 3 2 2 2-2 2-6 2 1 2 2 2-2 2 3 2-5 2-1 2-1 2-1 2 2 2 1 2 3 2 7 2 0 2 2 2-2 2 4 2 0 2 1 2 0 2-3 2 6 2 0 2 5 2-2 2 0 2 2 2 1 2 1 2-2 2-2 2-3 2 2 2 1 2 1 2-1 2 1 2 0 2 4 2-1 2-5 2 3 2 1 2-1 2 2 2-3 2-5 2 3 2-1 2 1 2-3 2 3 2-3 2-1 2 0 2 0 2-1 2-2 2 2 2-1 2 1 2 1 2 1 2-2 2-1 2 1 2-7 2 0 2-2 2 2 2-4 2-4 2-5 2 1 2 2 2 3 2-3 2 4 2 2 2 2 2 8 2 3 2 1 2-3 2-2 2 0 2 5 2-3 2 3 2 2 2-3 2-1 2-4 2-1 2 2 2-1 2-1 2-4 2-10 2-5 2-8 2-5 2-12 2-6 2-7 2-13 2-6 2-12 2 0 2-5 2 3 2 10 2 5 2 12 2 15 2 7 2 6 2 5 2 9 2 5 2 1 2 3 2 5 2 2 2 1 2 1 2 6 2 2 2 1 2-1 2 0 2-1 2 3 2-1 2 2 2-3 2 1 2 0 2-2 2-2 2 1 2 2 2 3 2-3 2-3 2-2 2-1 2 2 2-3 2-2 2-1 2-2 2-4 2-1 2-3 2-4 2 2 2 0 2 2 2 6 2 5 2-2 2 0 2 1 2 4 2 2 2 0 2 4 2-1 2-1 2-1 2-4 2 1 2-5 2-2 2-2 2-4 2-5 2-4 2-5 2-5 2-14 2-11 2-9 2-12 2-12 2-9 2-13 2-12 2-9 2-11 2-4 2-1 2 5 2 7 2 7 2 6 2 13 2 11 2 10 2 10 2 12 2 13 2 10 2 6 2 12 2 4 2 6 2 1 2 2 2 2 2 0 2 3 2-3 2 6 2 0 2 2 2-1 2-1 2 4 2-1 2-2 2-2 2-2 2-1 2-5 2 0 2-3 2 0 2 0 2-1 2 0 2-1 2 0 2 2 2 0 2-2 2 1 2 3 2 7 2 4 2-1 2 1 2-1 2 1 2 1 2 2 2 0 2-4 2 3 2-2 2-3 2-5 2-4 2-6 2-1 2-10 2-6 2-9 2-14 2-14 2-17 2-18 2-25 2-25 2-26 2-31 2-26 2-24 2-13 2-4 2 10 2 19 2 31 2 32 2 32 2 30 2 27 2 20 2 19 2 15 2 11 2 10 2 10 2 6 2 3 2 3 2 2 2 2 2 3 2 0 2-1 2 3 2-1 2 3 2-1 2-2 2 1 2 0 2 1 2-1 2 2 2 0 2-3 2 1 2-3 2 1 2-1 2 3 2 2 2 4 2-8 2-1 2 4 2 3 2 1 2 1 2-1 2 4 2 0 2 0 2 1 2-2 2 2 2 6 2-1 2 3 2-2 2-4 2 2 2-2 2-3 2 1 2-1 2-1 2 1 2-2 2 1 2-1 2 1 2 0 2-1 2 2 2-3 2-3 2 3 2 2 2-4 2 4 2-2 2 5 2-3 2-1 2-4 2 3 2 1 2 6 2-1 2-3 2 0 2-1 2 1 2-1 2 0 2-4 2 3 2 3 2-1 2-2 2 4 2-4 2 3 2-1 2-4 2 2 2 1 2 3 2 0 2 2 2-1 2-2 2-2 2-4 2-4 2-2 2 2 2-1 2 4 2 3 2 1 2-2 2 3 2-1 2 2 2 2 2 1 2-2 2-5 2 0 2 0 2 1 2 1 2 4 2-2 2-2 2-1 2-3 2 2 2 5 2 2 2 2 2-4 2-1 2 6 2 0 2 2 2-2 2-4 2 0 2-3 2-2 2-1 2-2 2 1 2 0 2-1 2-5 2-1 2 1 2 3 2-6L2364 2316l-2 5 -2 0 -2 2 -2 0 -2 1 -2-2 -2 0 -2 2 -2 4 -2 1 -2 2 -2 3 -2 1 -2 3 -2-1 -2-2 -2 1 -2-4 -2 1 -2 5 -2 0 -2-1 -2-4 -2-4 -2 0 -2 1 -2 2 -2 2 -2-5 -2-3 -2 0 -2 2 -2 1 -2 4 -2 3 -2 0 -2 1 -2-3 -2-1 -2-7 -2-2 -2 1 -2 0 -2-2 -2 2 -2-1 -2 2 -2 4 -2 2 -2 1 -2-2 -2 1 -2-1 -2 1 -2 1 -2-2 -2-2 -2 0 -2 0 -2-2 -2 3 -2-2 -2 2 -2 0 -2-3 -2-4 -2 0 -2 2 -2 3 -2 2 -2 3 -2 2 -2 6 -2 2 -2-5 -2-1 -2-4 -2-1 -2-1 -2-2 -2-5 -2 0 -2-2 -2 3 -2 1 -2-1 -2 4 -2 3 -2-1 -2 2 -2 2 -2-2 -2-1 -2 1 -2 2 -2 0 -2 2 -2 0 -2-1 -2 2 -2-1 -2-1 -2 2 -2 4 -2-1 -2-2 -2-4 -2 0 -2 0 -2-1 -2-2 -2 0 -2-2 -2 0 -2-1 -2 0 -2-1 -2-2 -2-1 -2 3 -2-4 -2 0 -2-2 -2 3 -2 0 -2 3 -2-1 -2-2 -2-4 -2-2 -2 0 -2 0 -2 0 -2 0 -2 2 -2 3 -2 0 -2 2 -2-2 -2-2 -2-2 -2-4 -2-1 -2-1 -2-3 -2-4 -2-3 -2-5 -2-5 -2-8 -2-12 -2-14 -2-17 -2-23 -2-26 -2-26 -2-24 -2-25 -2-17 -2-10 -2 1 -2 7 -2 17 -2 22 -2 27 -2 23 -2 21 -2 22 -2 14 -2 13 -2 9 -2 9 -2 5 -2 5 -2 10 -2 4 -2 8 -2 7 -2 7 -2 3 -2 1 -2-6 -2 1 -2-1 -2-3 -2 0 -2-1 -2-1 -2-3 -2-1 -2-1 -2-2 -2-1 -2-3 -2 2 -2 0 -2-3 -2-2 -2 0 -2 0 -2 3 -2 0 -2 1 -2 1 -2 0 -2 4 -2 2 -2 3 -2 2 -2 2 -2 1 -2-3 -2 1 -2 0 -2 0 -2 0 -2-4 -2 0 -2-3 -2-1 -2-2 -2-2 -2-2 -2-3 -2-7 -2-9 -2-6 -2-5 -2-8 -2-10 -2-6 -2-7 -2-12 -2-12 -2-8 -2-8 -2-7 -2-4 -2 1 -2 3 -2 9 -2 8 -2 13 -2 12 -2 7 -2 11 -2 10 -2 9 -2 10 -2 11 -2 6 -2 7 -2 4 -2 2 -2 0 -2-2 -2 3 -2 7 -2 1 -2 3 -2-1 -2-1 -2-3 -2-5 -2 0 -2 1 -2-1 -2 1 -2 1 -2 0 -2-6 -2-5 -2-2 -2 4 -2 2 -2 6 -2 2 -2-1 -2 3 -2 0 -2-2 -2 0 -2 1 -2-1 -2-1 -2 3 -2 2 -2 3 -2-3 -2 0 -2 1 -2 3 -2 4 -2 0 -2-2 -2 0 -2-1 -2 0 -2-2 -2 2 -2 0 -2 1 -2 0 -2-2 -2-6 -2-3 -2-1 -2-3 -2-2 -2-2 -2 0 -2-4 -2-7 -2-6 -2-6 -2-6 -2-11 -2-8 -2-5 -2-8 -2-4 -2 2 -2 1 -2 10 -2 7 -2 10 -2 7 -2 7 -2 11 -2 6 -2 7 -2 3 -2 4 -2 3 -2 2 -2-1 -2-1 -2-1 -2 4 -2-2 -2 1 -2 0 -2 0 -2 4 -2-2 -2 2 -2 3 -2-1 -2-1 -2-5 -2-5 -2-1 -2-2 -2-4 -2 1 -2-3 -2-1 -2-1 -2 5 -2 2 -2 3 -2-2 -2 3 -2 3 -2 6 -2-1 -2-1 -2 2 -2-1 -2 0 -2 1 -2 2 -2-2 -2 0 -2-2 -2-1 -2-2 -2 3 -2 5 -2 1 -2 3 -2-3 -2-1 -2-5 -2 1 -2 2 -2-2 -2 1 -2 0 -2-2 -2 3 -2 1 -2-2 -2 0 -2-1 -2 3 -2-3 -2-1 -2 1 -2 6 -2 5 -2 0 -2-4 -2-3 -2 0 -2 2 -2 2 -2-2 -2-4 -2-4 -2 0 -2 2 -2 0 -2 0 -2-1 -2 0 -2-2 -2-4 -2-6 -2-5 -2 2 -2 1 -2 2 -2 0 -2-1 -2 3 -2-3 -2 1 -2 0 -2 2 -2 5 -2-1 -2-4 -2-3 -2 0 -2 3 -2-3 -2 0 -2-4 -2-3 -2-2 -2-4 -2-6 -2-10 -2-8 -2-11 -2-8 -2-11 -2-7 -2 0 -2 2 -2 7 -2 10 -2 11 -2 10 -2 4 -2 6 -2 3 -2 4 -2 6 -2 3 -2 7 -2 2 -2 3 -2-1 -2 3 -2-1 -2 0 -2 0 -2 0 -2 2 -2 0 -2-3 -2 0 -2 1 -2 1 -2-1 -2 2 -2 1 -2-3 -2 1 -2 0 -2 0 -2 3 -2-1 -2-2 -2 0 -2-4 -2-5 -2-1 -2-2 -2-2 -2 0 -2 0 -2 3 -2 0 -2 0 -2 4 -2 2 -2 5 -2 3 -2-1 -2-2 -2 0 -2 2 -2-1 -2-1 -2 0 -2 0 -2 2 -2-1 -2-1 -2 1 -2 3 -2 3 -2 4 -2 2 -2 1 -2-6 -2 1 -2 2 -2 0 -2 1 -2-1 -2-1 -2-2 -2 1 -2 3 -2 0 -2 0 -2 5 -2 4 -2-1 -2-2 -2-2 -2-2 -2-4 -2 1 -2-1 -2-1 -2-2 -2-2 -2 2 -2 0 -2 0 -2 3 -2 0 -2-1 -2 0 -2-6 -2-4 -2 3 -2 1 -2 6 -2 2 -2 3 -2-4 -2 0 -2-1 -2 3 -2 2 -2 0 -2 2 -2-1 -2-3 -2 0 -2 1 -2 3 -2 4 -2 2 -2-6 -2-2 -2-1 -2-4 -2-3 -2-2 -2 3 -2-1 -2 2 -2-2 -2 1 -2 4 -2 2 -2 2 -2 0 -2-1 -2 0 -2-5 -2 1 -2-1 -2-1 -2 1 -2 2 -2-2 -2-1 -2-1 -2-2 -2-1 -2 2 -2 2 -2-2 -2-1 -2 1 -2 2 -2-1 -2-1 -2-3 -2-2 -2 3 -2 1 -2 1 -2 3 -2 0 -2 0 -2-2 -2 0 -2-2 -2-8 -2-4 -2-2 -2 1 -2 0 -2-1 -2-3 -2-3 -2 1 -2-1 -2-2 -2-4 -2 0 -2 5 -2 5 -2 3 -2 4 -2 1 -2-1 -2-1 -2-4 -2-6 -2-2 -2-3 -2 0 -2 3 -2 6 -2 5 -2 4 -2 1 -2 0 -2 1 -2 3 -2 1 -2-1 -2 1 -2 2 -2-2 -2-2 -2 1 -2-2 -2 2 -2 3 -2 1 -2-2 -2 1 -2 0 -2 3 -2-4 -2 0 -2 3 -2 2 -2 2 -2 3 -2 8 -2 2 -2-4 -2-5 -2-3 -2-1 -2 0 -2-1 -2 1 -2 1 -2-2 -2 3 -2-3 -2-1 -2-3 -2 1 -2 5 -2 2 -2 2 -2 4 -2-1 -2-1 -2-6 -2-4 -2-3 -2-1 -2 0 -2 1 -2 2 -2-1 -2 2 -2-1 -2-3 -2 1 -2 1 -2 0 -2-2 -2-1 -2 1 -2 1 -2 3 -2 2 -2-3 -2-2 -2 2 -2 2 -2 2 -2-1 -2-1 -2 0 -2-3 -2 1 -2 0 -2 2 -2 1 -2 1 -2 1 -2-3 -2-3 -2-1 -2 0 -2 0 -2 1 -2-1 -2 0 -2-3 -2 3 -2 7 -2 4 -2 2 -2-2 -2-2 -2 0 -2-1 -2-1 -2 0 -2-1 -2-3 -2 0 -2-1 -2-2 -2-7 -2-3 -2 3 -2 0 -2 4 -2-2 -2 1 -2 1 -2 1 -2 3 -2 4 -2 0 -2-1 -2-1 -2-1 -2 2 -2 0 -2 2 -2 0 -2 0 -2-4 -2 0 -2-3 -2 0 -2 1 -2-3 -2 0 -2 0 -2 1 -2-2 -2 2 -2 1 -2 3 -2 0 -2-2 -2-1 -2-1 -2 3 -2 2 -2 0 -2 0 -2 0 -2-1 -2 1 -2-1 -2 2 -2-3 -2-1 -2 1 -2-1 -2 3 -2 0 -2 1 -2-1 -2-2 -2-1 -2-2 -2-3 -2 2 -2 1 -2 0 -2 1 -2 0 -2 1 -2 0 -2-1 -2 3 -2 1 -2-1 -2 0 -2-4 -2-2 -2 0 -2 2 -2-1 -2-1 -2 0 -2 1 -2 3 -2 0 -2 1 -2-2 -2-3 -2-5 -2-4 -2 3 -2 0 -2 4 -2 2 -2-1 -2 0 -2 1 -2 2 -2 5 -2 2 -2 2 -2-4 -2 3 -2 1 -2 1 -2-3 -2 1 -2-3 -2 2 -2-2 -2 3 -2 0 -2 1 -2 2 -2 1 -2 0 -2-2 -2 0 -2-2 -2-1 -2-1 -2 3 -2-2 -2 0 -2-1 -2-1 -2 1 -2-3 -2 2 -2 1 -2 2 -2 0 -2 2 -2 2 -2 0 -2 0 -2 0 -2-3 -2-1 -2-1 -2 2 -2 1 -2 0 -2-2 -2-2 -2-2 -2-2 -2 2 -2 4 -2 1 -2-2 -2 1 -2-1 -2 3 -2-1 -2 4 -2 2 -2-2 -2-4 -2 0 -2 2 -2 0 -2 0 -2 0 -2-3 -2 0 -2 1 -2-3 -2 3 -2-3 -2 1 -2 1 -2 0 -2 0 -2 1 -2-2 -2 0 -2-1 -2-1 -2-2 -2 1 -2 2 -2 2 -2 0 -2 3 -2-1 -2-3 -2-5 -2-3 -2 1 -2-1 -2 1 -2 1 -2-1 -2-2 -2-4 -2-2 -2-1 -2 1 -2 1 -2 0 -2 4 -2 0 -2 1 -2-1 -2 0 -2 1 -2 1 -2 1 -2 4 -2 1 -2 1 -2-2 -2 2 -2-3 -2 1 -2 1 -2 0 -2 2 -2 1 -2 1 -2 2 -2 0 -2 1 -2 0 -2-1 -2 0 -2-3 -2 0 -2-2 -2-2 -2 1 -2 1 -2 0 -2 0 -2 0 -2-1 -2 1 -2 3 -2-1 -2-2 -2-1 -2-4 -2-1 -2-3 -2 4 -2 2 -2 3 -2 0 -2 4 -2 2 -2 1 -2 1 -2 1 -2-3 -2 2 -2 3 -2 2 -2 0 -2-1 -2-4 -2 0 -2-1 -2 1 -2-3 -2-2 -2-3 -2-2 -2 0 -2-3 -2 2 -2 0 -2 3 -2-1 -2 2 -2-1 -2-3 -2-1 -2-1 -2-1 -2-2 -2-2 -2 1 -2-2 -2 2 -2 0 -2 1 -2-3 -2-1 -2-1 -2 2 -2 2 -2 5 -2 1 -2 0 -2 0 -2 1 -2-2 -2-2 -2-1 -2 0 -2 0 -2 1 -2 4 -2 5 -2-1 -2-1 -2-4 -2-1 -2 0 -2-1 -2 1 -2 3 -2-1 -2 3 -2 0 -2 0 -2-1 -2 1 -2 3 -2 1 -2-2 -2-4 -2 1 -2-1 -2 3 -2 0 -2 4 -2 1 -2 0 -2-2 -2-3 -2 0 -2 2 -2 4 -2 1 -2-1 -2-2 -2-4 -2 0 -2-2 -2 0 -2 1 -2-2 -2-5 -2 0 -2-1 -2 1z" fill="url(#pat3u)"/>
<path d="M174 2326l2-1 2 1 2 0 2 5 2 2 2-1 2 0 2 2 2 0 2 4 2 2 2 1 2-1 2-4 2-2 2 0 2 3 2 2 2 0 2-1 2-4 2 0 2-3 2 1 2-1 2 4 2 2 2-1 2-3 2-1 2 1 2 0 2 0 2-3 2 1 2-3 2-1 2 1 2 0 2 1 2 4 2 1 2 1 2-5 2-4 2-1 2 0 2 0 2 1 2 2 2 2 2-1 2 0 2 0 2-1 2-5 2-2 2-2 2 1 2 1 2 3 2-1 2 0 2-2 2 2 2-1 2 2 2 2 2 1 2 1 2 1 2 3 2 1 2-2 2 1 2-3 2 0 2-2 2 3 2 0 2 2 2 3 2 2 2 3 2-1 2 1 2 0 2 4 2 1 2 0 2-2 2-3 2-2 2 3 2-1 2-1 2-1 2-2 2-4 2 0 2-3 2-2 2-4 2 3 2 1 2 4 2 1 2 2 2 1 2-3 2-1 2 1 2 0 2 0 2 0 2-1 2-1 2 2 2 2 2 0 2 3 2 0 2 1 2 0 2-1 2 0 2-2 2-1 2-1 2-2 2 0 2-1 2-1 2 3 2-2 2 2 2-1 2-1 2-4 2-1 2-1 2-1 2 0 2 1 2-1 2 0 2-4 2 0 2-1 2-1 2 1 2 2 2 4 2 2 2 1 2-1 2-1 2 1 2-1 2 3 2 5 2 3 2 1 2-3 2 0 2-2 2-2 2-1 2 2 2 1 2 1 2 0 2 2 2-1 2 0 2 0 2-1 2-1 2 3 2-3 2 3 2-1 2 0 2 3 2 0 2 0 2 0 2-2 2 0 2 4 2 2 2-2 2-4 2 1 2-3 2 1 2-1 2 2 2-1 2-4 2-2 2 2 2 2 2 2 2 2 2 0 2-1 2-2 2 1 2 1 2 3 2 0 2 0 2 0 2-2 2-2 2 0 2-2 2-1 2-2 2 3 2-1 2 1 2 1 2 0 2 2 2-3 2 1 2 1 2 2 2 0 2 2 2 0 2-1 2-2 2-1 2 0 2-3 2 2 2-2 2 3 2-1 2 3 2-1 2-1 2-3 2 4 2-2 2-2 2-5 2-2 2-1 2 0 2 1 2-2 2-4 2 0 2-3 2 4 2 5 2 3 2 2 2-1 2 0 2-3 2-1 2 0 2 1 2 1 2-2 2 0 2 2 2 4 2 0 2 1 2-1 2-3 2 1 2 0 2-1 2 0 2-1 2 0 2-1 2-2 2 3 2 2 2 1 2 2 2 1 2-1 2 0 2-3 2 1 2-1 2 1 2 3 2-2 2 1 2-1 2 1 2 0 2 0 2 0 2-2 2-3 2 1 2 1 2 2 2 0 2-3 2-1 2-2 2 2 2-1 2 0 2 0 2 3 2-1 2 0 2 3 2 0 2 4 2 0 2 0 2-2 2 0 2-2 2 1 2 1 2 1 2 0 2-4 2-3 2-1 2-1 2-1 2 2 2-4 2 0 2-3 2 3 2 7 2 2 2 1 2 0 2 3 2 1 2 0 2 1 2 1 2 0 2 2 2 2 2-2 2-4 2-7 2-3 2 3 2 0 2 1 2-1 2 0 2 0 2 1 2 3 2 3 2-1 2-1 2-1 2-2 2 0 2-1 2 3 2 0 2 1 2 1 2-2 2-2 2-2 2 2 2 3 2-2 2-3 2-1 2-1 2 1 2 2 2 0 2-1 2-1 2 3 2 1 2-2 2 1 2-2 2-1 2 0 2 1 2 3 2 4 2 6 2 1 2 1 2-4 2-2 2-2 2-5 2-1 2 3 2 1 2 3 2-3 2 2 2-1 2-1 2 1 2 0 2 1 2 3 2 5 2 4 2-2 2-8 2-3 2-2 2-2 2-3 2 0 2 4 2-3 2 0 2-1 2 2 2-1 2-3 2-2 2 2 2-1 2 2 2 2 2-2 2-1 2 1 2-1 2-3 2-1 2 0 2-1 2-4 2-5 2-6 2-3 2 0 2 3 2 2 2 6 2 4 2 1 2 1 2-1 2-4 2-3 2-5 2-5 2 0 2 4 2 2 2 1 2-1 2 3 2 3 2 1 2 0 2-1 2 2 2 4 2 8 2 2 2 0 2 2 2 0 2 0 2-3 2-1 2-1 2-3 2 2 2 3 2 1 2 1 2-2 2-1 2 1 2 2 2-2 2-2 2 1 2 2 2 1 2 1 2 2 2-2 2-1 2 1 2 1 2-1 2 5 2 0 2 1 2 0 2-2 2-2 2-4 2-1 2 2 2-2 2 1 2-3 2 2 2 3 2 4 2 1 2 2 2 6 2-2 2-4 2-3 2-1 2 0 2 3 2 1 2-2 2 0 2-2 2-3 2 1 2 0 2 4 2-3 2-2 2-6 2-1 2-3 2 4 2 6 2 0 2 1 2 0 2-3 2 0 2 0 2-2 2 2 2 2 2 1 2 1 2-1 2 4 2 2 2 2 2 2 2 1 2-4 2-5 2 0 2 0 2-3 2-1 2 2 2 1 2 1 2-1 2 0 2-2 2-1 2 6 2-1 2-2 2-4 2-3 2-3 2-1 2 1 2 1 2-2 2 0 2 0 2 1 2 1 2-2 2 0 2 2 2 1 2-3 2-5 2-2 2-4 2 0 2 0 2-3 2 0 2 0 2 2 2 2 2 1 2 5 2 4 2 0 2 2 2 1 2-3 2 0 2 0 2-1 2 3 2-1 2-2 2 1 2-1 2-1 2 0 2 3 2 0 2-2 2 0 2 0 2 0 2 1 2-3 2 1 2-3 2-2 2-7 2-3 2-6 2-4 2-3 2-6 2-4 2-10 2-11 2-10 2-7 2-2 2 0 2 7 2 11 2 8 2 11 2 8 2 10 2 6 2 4 2 2 2 3 2 4 2 0 2 3 2-3 2 0 2 3 2 4 2 1 2-5 2-2 2 0 2-1 2 3 2-3 2 1 2 0 2-2 2-1 2-2 2 5 2 6 2 4 2 2 2 0 2 1 2 0 2 0 2-2 2 0 2 4 2 4 2 2 2-2 2-2 2 0 2 3 2 4 2 0 2-5 2-6 2-1 2 1 2 3 2-3 2 1 2 0 2 2 2-1 2-3 2 2 2 0 2-1 2 2 2-2 2-1 2 5 2 1 2 3 2-3 2-1 2-5 2-3 2 2 2 1 2 2 2 0 2 2 2-2 2-1 2 0 2 1 2-2 2 1 2 1 2-6 2-3 2-3 2 2 2-3 2-2 2-5 2 1 2 1 2 3 2-1 2 4 2 2 2 1 2 5 2 5 2 1 2 1 2-3 2-2 2 2 2-4 2 0 2 0 2-1 2 2 2-4 2 1 2 1 2 1 2-2 2-3 2-4 2-3 2-7 2-6 2-11 2-7 2-7 2-10 2-7 2-10 2-1 2-2 2 4 2 8 2 5 2 8 2 11 2 6 2 6 2 6 2 7 2 4 2 0 2 2 2 2 2 3 2 1 2 3 2 6 2 2 2 0 2-1 2 0 2-2 2 2 2 0 2 1 2 0 2 2 2 0 2-4 2-3 2-1 2 0 2 3 2-3 2-2 2-3 2 1 2 1 2-1 2 0 2 2 2 0 2-3 2 1 2-2 2-6 2-2 2-4 2 2 2 5 2 6 2 0 2-1 2-1 2 1 2-1 2 0 2 5 2 3 2 1 2 1 2-3 2-1 2-7 2-3 2 2 2 0 2-2 2-4 2-7 2-6 2-11 2-10 2-9 2-10 2-11 2-7 2-12 2-13 2-8 2-9 2-3 2-1 2 4 2 7 2 8 2 8 2 12 2 12 2 7 2 6 2 10 2 8 2 5 2 6 2 9 2 7 2 3 2 2 2 2 2 2 2 1 2 3 2 0 2 4 2 0 2 0 2 0 2-1 2 3 2-1 2-2 2-2 2-3 2-2 2-4 2 0 2-1 2-1 2 0 2-3 2 0 2 0 2 2 2 3 2 0 2-2 2 3 2 1 2 2 2 1 2 1 2 3 2 1 2 1 2 0 2 3 2 1 2-1 2 6 2-1 2-3 2-7 2-7 2-8 2-4 2-10 2-5 2-5 2-9 2-9 2-13 2-14 2-22 2-21 2-23 2-27 2-22 2-17 2-7 2-1 2 10 2 17 2 25 2 24 2 26 2 26 2 23 2 17 2 14 2 12 2 8 2 5 2 5 2 3 2 4 2 3 2 1 2 1 2 4 2 2 2 2 2 2 2-2 2 0 2-3 2-2 2 0 2 0 2 0 2 0 2 2 2 4 2 2 2 1 2-3 2 0 2-3 2 2 2 0 2 4 2-3 2 1 2 2 2 1 2 0 2 1 2 0 2 2 2 0 2 2 2 1 2 0 2 0 2 4 2 2 2 1 2-4 2-2 2 1 2 1 2-2 2 1 2 0 2-2 2 0 2-2 2-1 2 1 2 2 2-2 2-2 2 1 2-3 2-4 2 1 2-1 2-3 2 2 2 0 2 5 2 2 2 1 2 1 2 4 2 1 2 5 2-2 2-6 2-2 2-3 2-2 2-3 2-2 2 0 2 4 2 3 2 0 2-2 2 2 2-3 2 2 2 0 2 0 2 2 2 2 2-1 2-1 2 1 2-1 2 2 2-1 2-2 2-4 2-2 2 1 2-2 2 2 2 0 2-1 2 2 2 7 2 1 2 3 2-1 2 0 2-3 2-4 2-1 2-2 2 0 2 3 2 5 2-2 2-2 2-1 2 0 2 4 2 4 2 1 2 0 2-5 2-1 2 4 2-1 2 2 2 1 2-3 2-1 2-3 2-2 2-1 2-4 2-2 2 0 2 2 2-1 2 0 2-2 2 0 2-5L2364 2353l-2 2 -2 2 -2 3 -2 0 -2-1 -2-2 -2 1 -2 1 -2 1 -2-1 -2 1 -2-1 -2 1 -2 3 -2 1 -2 2 -2 1 -2-2 -2-2 -2 1 -2-4 -2 2 -2 0 -2-4 -2-2 -2 1 -2 3 -2 3 -2-5 -2-4 -2 0 -2 0 -2 0 -2-1 -2 5 -2-1 -2 4 -2-2 -2-1 -2 1 -2-3 -2 4 -2-1 -2-3 -2 0 -2 1 -2-1 -2 3 -2 1 -2 3 -2-4 -2 1 -2 0 -2 0 -2 4 -2-1 -2-1 -2-2 -2 1 -2 0 -2 0 -2 0 -2-2 -2 1 -2 0 -2-2 -2-3 -2 0 -2 1 -2 5 -2 0 -2 1 -2 5 -2-5 -2-2 -2-1 -2 3 -2-1 -2 0 -2-2 -2 2 -2-3 -2 1 -2-4 -2 0 -2-2 -2 1 -2 3 -2 0 -2 2 -2 5 -2-1 -2-1 -2 0 -2-2 -2-1 -2 4 -2 1 -2 4 -2 2 -2-2 -2-1 -2-3 -2 1 -2-1 -2-3 -2 0 -2 2 -2-5 -2 0 -2-1 -2 2 -2 3 -2-4 -2-2 -2 0 -2 3 -2 5 -2-2 -2-1 -2-2 -2 2 -2 0 -2 3 -2-4 -2-4 -2 2 -2 1 -2-2 -2 2 -2-2 -2 1 -2-1 -2 1 -2-3 -2 2 -2-2 -2 0 -2 4 -2-1 -2-1 -2-2 -2 0 -2 1 -2 1 -2-4 -2-1 -2-3 -2-3 -2-5 -2-6 -2-6 -2-10 -2-12 -2-14 -2-10 -2-14 -2-17 -2-15 -2-5 -2 4 -2 7 -2 11 -2 13 -2 13 -2 9 -2 8 -2 8 -2 4 -2 10 -2 6 -2 6 -2 1 -2 1 -2 5 -2 3 -2 2 -2 0 -2 3 -2 2 -2 3 -2-3 -2 1 -2 2 -2-1 -2 3 -2 1 -2-2 -2-4 -2-2 -2-1 -2 1 -2 2 -2-5 -2 0 -2 1 -2-1 -2-1 -2 0 -2-1 -2 2 -2-5 -2 0 -2 2 -2 2 -2 5 -2 3 -2 1 -2 1 -2-1 -2 0 -2 2 -2 4 -2-3 -2-1 -2 0 -2-3 -2-4 -2-1 -2 1 -2-2 -2 2 -2-3 -2 1 -2-6 -2 0 -2-9 -2-2 -2-5 -2-7 -2-8 -2-6 -2-12 -2-5 -2-5 -2-8 -2-3 -2-1 -2 4 -2 2 -2 6 -2 3 -2 10 -2 7 -2 5 -2 9 -2 5 -2 9 -2 7 -2 6 -2 1 -2 5 -2 4 -2 2 -2-1 -2-1 -2 5 -2 3 -2 1 -2 0 -2 1 -2 3 -2-1 -2-5 -2-3 -2 0 -2 2 -2-1 -2-1 -2-1 -2-3 -2-3 -2-6 -2 2 -2 3 -2 4 -2 0 -2-1 -2 5 -2 1 -2-1 -2 2 -2 1 -2 0 -2-4 -2 3 -2-1 -2 5 -2-2 -2 1 -2 0 -2 0 -2 1 -2-2 -2 2 -2 3 -2 2 -2-3 -2-4 -2 1 -2-2 -2 2 -2 1 -2 3 -2-3 -2-2 -2 0 -2-4 -2 0 -2-3 -2-3 -2-2 -2 0 -2-5 -2-5 -2-6 -2-5 -2-4 -2-7 -2-5 -2 0 -2 6 -2 4 -2 4 -2 6 -2 3 -2 5 -2 6 -2 3 -2 4 -2 5 -2 2 -2-1 -2-1 -2 3 -2-3 -2 3 -2-1 -2 6 -2-2 -2-1 -2 2 -2-1 -2-3 -2-1 -2 3 -2 5 -2-3 -2 0 -2-5 -2 0 -2-1 -2-4 -2-1 -2 0 -2 1 -2 1 -2 1 -2 3 -2-1 -2 1 -2-2 -2 0 -2 2 -2 0 -2 2 -2-3 -2 0 -2-1 -2 0 -2 3 -2 4 -2-2 -2 0 -2-4 -2 0 -2-3 -2 5 -2 1 -2-1 -2-1 -2-3 -2 2 -2-1 -2 1 -2 5 -2-1 -2 3 -2 1 -2 0 -2-2 -2 1 -2 1 -2 0 -2-3 -2 5 -2-6 -2 0 -2 2 -2 3 -2 4 -2-3 -2-6 -2 0 -2 2 -2-2 -2-1 -2 2 -2-1 -2 2 -2-3 -2 2 -2-1 -2-2 -2 1 -2 0 -2-2 -2-6 -2 0 -2-5 -2 3 -2 0 -2 4 -2 1 -2-2 -2 3 -2-3 -2 1 -2 1 -2 0 -2 0 -2-1 -2 0 -2-1 -2 1 -2 2 -2-2 -2 0 -2-2 -2 0 -2-3 -2-4 -2-6 -2-7 -2-1 -2-9 -2-3 -2-5 -2-6 -2 3 -2 1 -2 7 -2 6 -2 9 -2 4 -2 2 -2 2 -2 0 -2 3 -2 1 -2 2 -2 3 -2 2 -2 2 -2-1 -2 6 -2-2 -2-4 -2 0 -2 0 -2 2 -2 1 -2-3 -2 2 -2 0 -2 6 -2-4 -2-4 -2 1 -2-1 -2 2 -2-1 -2-4 -2 2 -2 0 -2-2 -2 1 -2-1 -2-1 -2-1 -2 0 -2-2 -2-1 -2 2 -2 3 -2-2 -2 2 -2 4 -2 4 -2 1 -2-3 -2-1 -2-1 -2 2 -2 1 -2-4 -2 0 -2 2 -2 3 -2 0 -2-2 -2 1 -2-4 -2 3 -2-1 -2 5 -2 0 -2 0 -2-2 -2 4 -2-1 -2 0 -2 1 -2-1 -2-1 -2-2 -2 3 -2 2 -2 0 -2-1 -2 2 -2 3 -2-1 -2 2 -2-1 -2-3 -2-5 -2 2 -2 0 -2-3 -2 1 -2-1 -2 1 -2-3 -2-2 -2 5 -2-1 -2 2 -2 0 -2 1 -2-4 -2 5 -2 1 -2 1 -2-1 -2 1 -2-2 -2-1 -2-1 -2 0 -2 3 -2 1 -2 3 -2 0 -2 0 -2 2 -2-2 -2 0 -2 2 -2-1 -2-4 -2-2 -2 2 -2-1 -2-4 -2-2 -2 2 -2-1 -2 3 -2 1 -2-3 -2-1 -2 2 -2 1 -2 3 -2-2 -2-1 -2-4 -2 2 -2-3 -2 2 -2 3 -2 0 -2 0 -2 0 -2 0 -2-2 -2-3 -2 2 -2-1 -2-1 -2-1 -2 0 -2 2 -2 2 -2-2 -2-2 -2-1 -2 1 -2-3 -2-1 -2 0 -2 3 -2 2 -2-1 -2 5 -2 1 -2-5 -2-4 -2-3 -2 0 -2-3 -2 0 -2 0 -2-1 -2-1 -2-1 -2 4 -2-3 -2 0 -2 3 -2 2 -2 0 -2 0 -2 2 -2-3 -2 0 -2-7 -2-1 -2-1 -2-3 -2 3 -2 5 -2 6 -2-3 -2-1 -2 1 -2 1 -2 4 -2 3 -2 1 -2-1 -2 2 -2-1 -2-2 -2 2 -2 1 -2-3 -2 2 -2-4 -2-1 -2 2 -2 3 -2 3 -2 3 -2 0 -2-1 -2 3 -2-1 -2-1 -2-2 -2 5 -2 2 -2-1 -2 0 -2 0 -2-1 -2-4 -2-2 -2 3 -2-1 -2 0 -2 5 -2 2 -2-1 -2-1 -2 1 -2 3 -2-2 -2-2 -2-2 -2-3 -2 1 -2 1 -2-2 -2-1 -2-1 -2 1 -2 1 -2 1 -2-2 -2-2 -2 0 -2 2 -2 1 -2-3 -2-1 -2 1 -2 0 -2-4 -2 3 -2-2 -2 3 -2 2 -2-2 -2 6 -2 4 -2 0 -2-4 -2 0 -2 0 -2-7 -2 1 -2-2 -2 0 -2 2 -2 2 -2-1 -2 1 -2-1 -2 1 -2 3 -2 1 -2-1 -2-2 -2 3 -2-1 -2-1 -2 0 -2 1 -2 1 -2-3 -2 0 -2-2 -2-1 -2 4 -2-1 -2 1 -2 3 -2 0 -2 0 -2-4 -2-2 -2-7 -2 1 -2 0 -2 2 -2 2 -2 1 -2-4 -2 2 -2 2 -2 3 -2 2 -2-2 -2-3 -2 1 -2 1 -2-1 -2 2 -2 1 -2-3 -2-1 -2 2 -2 2 -2 2 -2-1 -2-2 -2-2 -2 0 -2 3 -2-4 -2 2 -2-4 -2 2 -2-1 -2-5 -2 1 -2 3 -2 4 -2 2 -2-2 -2-4 -2 1 -2 1 -2-1 -2-1 -2 3 -2-1 -2 2 -2 0 -2-2 -2 3 -2 3 -2-2 -2-1 -2-1 -2 0 -2 2 -2-4 -2 1 -2 2 -2-3 -2 1 -2-5 -2 0 -2 0 -2-1 -2 1 -2 2 -2 0 -2 0 -2 2 -2-2 -2-1 -2 1 -2 4 -2-1 -2 1 -2 2 -2-3 -2 0 -2-1 -2-4 -2-2 -2-6 -2-3 -2 0 -2 0 -2 2 -2 7 -2 1 -2 3 -2 1 -2 0 -2 4 -2 3 -2 0 -2-5 -2 3 -2 1 -2 0 -2-1 -2 2 -2-2 -2 4 -2-4 -2 2 -2-4 -2 2 -2 0 -2-3 -2 4 -2 1 -2 0 -2-7 -2 2 -2-3 -2 5 -2 0 -2 3 -2-1 -2 0 -2 1 -2-1 -2-4 -2 2 -2 2 -2 2 -2-2 -2 3 -2-1 -2 0 -2 2 -2-1 -2-3 -2 0 -2 4 -2-2 -2 1 -2 1 -2-3 -2-3 -2-1 -2 1 -2 4 -2 3 -2-1 -2-5 -2-3 -2 2 -2-2 -2 3 -2-1 -2-1 -2 0 -2 1 -2 0 -2 0 -2 0 -2 0 -2 0 -2-1 -2 0 -2 0 -2 6 -2-4 -2 1 -2-1 -2-5 -2 1 -2 3 -2 3 -2-1 -2-1 -2-2 -2-3 -2 4 -2-1 -2 1 -2 1 -2 2 -2-4 -2-4 -2 0 -2-1 -2 2 -2-1 -2-1 -2-1 -2-1 -2-2 -2-3 -2-3 -2-4 -2 0 -2 3 -2-3 -2 6 -2 2 -2 3 -2 1 -2 0 -2-1 -2 0 -2 1 -2 4 -2 3 -2 2 -2-3 -2-4 -2 1 -2 1 -2 2 -2 1 -2 2 -2 0 -2-2 -2-2 -2 2 -2 4 -2 1 -2-1 -2-4 -2 0 -2 0 -2 2 -2-2 -2 4 -2 1 -2-1 -2-2 -2-1 -2-1 -2 2 -2 1 -2-2 -2-1 -2-2 -2 0 -2 3 -2-2 -2 3 -2 1 -2 0 -2 1 -2 3 -2-1 -2 0 -2-3 -2 3 -2 0 -2 1 -2 3 -2-3 -2 2 -2 1 -2-2 -2 1 -2 3 -2 1 -2-1 -2-1 -2-2 -2-3 -2 0 -2-1 -2-4 -2-1 -2-2 -2 0 -2 1 -2-1 -2-2 -2-2 -2 0 -2 1 -2-3 -2 1 -2-1 -2 2 -2 2 -2-4 -2 1 -2-1 -2 1 -2-1 -2 0 -2-2 -2 2 -2 1 -2 2 -2 3 -2 1 -2 2 -2-5 -2-1 -2 0 -2 2 -2 1 -2 4 -2 2 -2-2 -2 3 -2-3 -2-4 -2 0 -2 1 -2 0 -2 3 -2-2 -2 4 -2-3 -2 1 -2-2 -2 1 -2 4 -2-1 -2-3 -2-2 -2 3 -2-2 -2 0 -2 1 -2 1 -2 3 -2 0 -2 4 -2-4 -2 2 -2 0 -2 1 -2 1 -2-3 -2 3 -2-1 -2-2 -2-6 -2 5 -2 1 -2-4 -2-6 -2 1 -2-1 -2 1z" fill="url(#pat3l)"/>
<path d="M1068 2303l2 1 2-1 2-7 2-3 2-6 2-4 2-5 2-1 2-5 2 7 2 6 2 7 2-1 2 3 2-5 2-1 2 1L1102 2290l-2 1 -2 0 -2 3 -2-1 -2-1 -2-4 -2-2 -2-3 -2 3 -2 2 -2 0 -2 1 -2 4 -2 6 -2 4 -2 1 -2-1z" fill="url(#pat3s)"/>
<g fill="none" stroke="#ff8800" stroke-width="2.0" stroke-dasharray="3 2"><path d="M174 2323l2-8 2 26 2 5 2-6 2-16 2 41 2-21 2 20 2 4 2-23 2-7 2 13 2-12 2-20 2 23 2-8 2 27 2-4 2-31 2 38 2-19 2 19 2-34 2 22 2 8 2-41 2 3 2 35 2-37 2 27 2 17 2-2 2 6 2-16 2-29 2 37 2 7 2-47 2 27 2-30 2 6 2-9 2 2 2 49 2-18 2-2 2-39 2 27 2 12 2-29 2 12 2 3 2-13 2 36 2-31 2 24 2-8 2-2 2-13 2 29 2-33 2 30 2-41 2 48 2-30 2-15 2 9 2 14 2 6 2-20 2 1 2 12 2 23 2-25 2-4 2 20 2-33 2 4 2 28 2 17 2 0 2 3 2-43 2 8 2 19 2-23 2 35 2-41 2 11 2 29 2-33 2-2 2 0 2 11 2 12 2 9 2-3 2 12 2-22 2-9 2-9 2 34 2 0 2-44 2 44 2-2 2-39 2 4 2-6 2 33 2-39 2 31 2 3 2-32 2 46 2-13 2 1 2-22 2 7 2-14 2 39 2 2 2 4 2 5 2-32 2-4 2 26 2 2 2-51 2 16 2 37 2-11 2 3 2 1 2-23 2 24 2-39 2 36 2-46 2 42 2-40 2 2 2 8 2 29 2-19 2-25 2 40 2-30 2-3 2-5 2 29 2-27 2 34 2-21 2-5 2 26 2-9 2 2 2-30 2 43 2 4 2-27 2-4 2 19 2-17 2 37 2-39 2-3 2 30 2 2 2-9 2 18 2-14 2 14 2-46 2 46 2 0 2-10 2-18 2-12 2 31 2-37 2 51 2-37 2 35 2 3 2-16 2-10 2 20 2-44 2 27 2-20 2 10 2 31 2-43 2 30 2-27 2 35 2-17 2-24 2 41 2 9 2-33 2-1 2 23 2-25 2-2 2 10 2 11 2-15 2 15 2-31 2-3 2 15 2 35 2-21 2 21 2-26 2-19 2 47 2-7 2-1 2-34 2-13 2 43 2-47 2 49 2-9 2-4 2 5 2-39 2 50 2 1 2-10 2-19 2 32 2-21 2 20 2-12 2-30 2 38 2-2 2-47 2 30 2-2 2-12 2 24 2 5 2-47 2 10 2 34 2-14 2 5 2-33 2 10 2 18 2 8 2 0 2-10 2-2 2 22 2-10 2-17 2-13 2 29 2-17 2-12 2 18 2 18 2 2 2 5 2-45 2 41 2-48 2-3 2 52 2-2 2-32 2 20 2 5 2-9 2-25 2 28 2-12 2 10 2 5 2 2 2 9 2 6 2-40 2 16 2 18 2-5 2-23 2-18 2 0 2 39 2-34 2 12 2-10 2 23 2-16 2 24 2-23 2 1 2 36 2-7 2-32 2-8 2 31 2-11 2 24 2-8 2-43 2 14 2 10 2 30 2-40 2 20 2-24 2 34 2-32 2-5 2 0 2 15 2-14 2 33 2-34 2 48 2-13 2-33 2 39 2-3 2 10 2-29 2-19 2 16 2-3 2 12 2 9 2-19 2 29 2-6 2-38 2 27 2-15 2-15 2 39 2-38 2 26 2-29 2 21 2 30 2-49 2 38 2 10 2-42 2 44 2-52 2 45 2-33 2 10 2 7 2-27 2 50 2-54 2 24 2-1 2 28 2-8 2-40 2 44 2-17 2 26 2-23 2-21 2 46 2-24 2 8 2-27 2-6 2 20 2 7 2-20 2-15 2 42 2-4 2-26 2 33 2-23 2-21 2 45 2-29 2 27 2 1 2-37 2 16 2 21 2 7 2-24 2 23 2-42 2 30 2 7 2-27 2 2 2 2 2 22 2-8 2-27 2 5 2 7 2-7 2-10 2 12 2-5 2 2 2 11 2 7 2-25 2 16 2 37 2-46 2 35 2 6 2-36 2 15 2-2 2-27 2 40 2 11 2-6 2-1 2-42 2-3 2-3 2 2 2-2 2-8 2 22 2-17 2 38 2-1 2-3 2 2 2-27 2-3 2 15 2-4 2 14 2-7 2-20 2-22 2-4 2 49 2-7 2-16 2 34 2-42 2 30 2-32 2 30 2-33 2 47 2-46 2-3 2 7 2 43 2 0 2-21 2 9 2 4 2-23 2 18 2-14 2 22 2 6 2 7 2-50 2 31 2 1 2-31 2 22 2 1 2 2 2 23 2-24 2 22 2-6 2-5 2-12 2 4 2-21 2 17 2-21 2 37 2 8 2-20 2 6 2 13 2-10 2 2 2 16 2-51 2 37 2 2 2-27 2 43 2 1 2 1 2-56 2 32 2-22 2 0 2 25 2-26 2 40 2-6 2 13 2-53 2 38 2-4 2 12 2-33 2 0 2 42 2-37 2 2 2 33 2-47 2 5 2-7 2 14 2 3 2-5 2 29 2-18 2 14 2 7 2-31 2 18 2 11 2-1 2-10 2-9 2 14 2-20 2-20 2-2 2 6 2 14 2 32 2-19 2 0 2-22 2 38 2-51 2 31 2 8 2-27 2 42 2-6 2-33 2 36 2-5 2-9 2-33 2 2 2-2 2 24 2-15 2 5 2 25 2 8 2-32 2 24 2 8 2-48 2 32 2-19 2 32 2-22 2 13 2 7 2 6 2-33 2 2 2 25 2-40 2-4 2 35 2-40 2 0 2 19 2 6 2-28 2 7 2 45 2-4 2-10 2-45 2 19 2 9 2 17 2 1 2-34 2 29 2 4 2-19 2-13 2 46 2-17 2 8 2-34 2 44 2-24 2 0 2 20 2-3 2-44 2 40 2 5 2-9 2 2 2 1 2-38 2 31 2-17 2-8 2-7 2 37 2-4 2-35 2 22 2 18 2-11 2-39 2 45 2-15 2 0 2 0 2-61 2 3 2-1 2 9 2 18 2-37 2 33 2 4 2-13 2 44 2-32 2 32 2 16 2 9 2-42 2-4 2 27 2 25 2-1 2-48 2 19 2-10 2 36 2-12 2-20 2 31 2 4 2-52 2 47 2-32 2 34 2-11 2-21 2-20 2 29 2 14 2-37 2 51 2 6 2-11 2-34 2 34 2-13 2 15 2-28 2 17 2-23 2 24 2 22 2-12 2-10 2 21 2-5 2-36 2 39 2-11 2-2 2-24 2-3 2 45 2-1 2-39 2-2 2-3 2 11 2-7 2 41 2-5 2 4 2-37 2 34 2-37 2 38 2-20 2-31 2 23 2 19 2-41 2 29 2-23 2 8 2-13 2 42 2-13 2 3 2-22 2-5 2 1 2-8 2-4 2 42 2-37 2 2 2 11 2-10 2 34 2-17 2-11 2 14 2-21 2-11 2 38 2 17 2-4 2-38 2-3 2-3 2 25 2-16 2-1 2 36 2-42 2 53 2-14 2-32 2 41 2-14 2-5 2-13 2 9 2-18 2-15 2 1 2 14 2 8 2-6 2-4 2 2 2-16 2-1 2-28 2 8 2-14 2 32 2-39 2 2 2 8 2 6 2 20 2 0 2-4 2 22 2-6 2-11 2 24 2 35 2 1 2-44 2 18 2 26 2 5 2-42 2-5 2 27 2-15 2 21 2-39 2 47 2-26 2 16 2-10 2 14 2-43 2 11 2 34 2 3 2-35 2 20 2 6 2-37 2 12 2 17 2-7 2-20 2 18 2 15 2-4 2-24 2-23 2 47 2-39 2 33 2-22 2 43 2-21 2 25 2-8 2-38 2 20 2 16 2 11 2-45 2 5 2-1 2 4 2-4 2 34 2-30 2-9 2-9 2 23 2 8 2-35 2-16 2 39 2-52 2 15 2 4 2 2 2-32 2 17 2-38 2-20 2-3 2 24 2 15 2-2 2 7 2-32 2 46 2-4 2-10 2 33 2-37 2 37 2-10 2 3 2 13 2 16 2-1 2 16 2-2 2-33 2 47 2-14 2 0 2-24 2 6 2 11 2 18 2-3 2-2 2-35 2 39 2-20 2-23 2 4 2 4 2 10 2 31 2-17 2-28 2-7 2 48 2-8 2-13 2 9 2-34 2 11 2 30 2-37 2 26 2-23 2 6 2 29 2-12 2 11 2-21 2 32 2-15 2-15 2 19 2-19 2 7 2 16 2-9 2 9 2-35 2 27 2-38 2-15 2 28 2-10 2-28 2 35 2-41 2 0 2-38 2-8 2-24 2-21 2 24 2-7 2-3 2 11 2 24 2-9 2 41 2 7 2-5 2 47 2 18 2-39 2 4 2 56 2-45 2 43 2 12 2-10 2 15 2-12 2-10 2 9 2-29 2 36 2-12 2-23 2 13 2-2 2 3 2-23 2 52 2-44 2 5 2 0 2 35 2-44 2 32 2 15 2-24 2-12 2 35 2-6 2-6 2-30 2 40 2-20 2-15 2 13 2-24 2 38 2 1 2-38 2 25 2-18 2-5 2 28 2-26 2 9 2 13 2-1 2 15 2-18 2-12 2 48 2-45 2-10 2 41 2-20 2-17 2 6 2 36 2 0 2-6 2-31 2 31 2-20 2-28 2 27 2 26 2-18 2 24 2-3 2-28 2 1 2-26 2 43 2-38 2 50 2-33 2 7 2-16 2-10 2 42 2-3 2 8 2-6 2-37 2 38 2-21 2-15 2 0 2 15 2 3 2 20 2-26 2-7 2-9 2 32 2 9 2 13 2-45 2 11 2-20 2 7 2 2 2 37 2-2 2-21 2-15 2 11 2 29 2-10 2-1 2 2 2-23 2-3 2-18 2 15 2 4 2-10 2 43 2-20 2 9 2-24 2-6 2-4 2 44 2 0 2-32 2 23 2-13 2-11 2-11 2 35 2 17 2-4 2 2 2-53 2 50 2-31 2 32 2-42 2 39 2-12 2 1 2-34 2 42 2-47 2 9 2-4 2 35 2-3 2-37"/><path d="M174 2347l2-10 2-2 2-26 2 37 2 10 2 7 2-34 2-14 2 43 2-28 2 26 2-5 2-24 2 32 2-30 2 2 2 10 2-26 2-1 2 32 2-27 2-5 2 4 2 37 2-27 2-9 2-7 2 10 2 38 2 8 2-50 2 35 2 9 2 3 2-42 2-3 2 32 2 7 2-39 2 9 2 9 2-5 2-9 2-5 2 29 2-19 2 12 2-33 2 22 2-15 2-1 2 2 2 36 2-44 2 46 2-16 2-14 2 5 2-10 2 23 2-35 2 33 2-16 2-18 2 31 2-29 2 44 2-22 2 27 2-47 2 31 2-24 2 15 2-23 2 3 2-4 2 3 2 50 2-15 2-33 2 32 2 6 2 8 2-39 2 34 2 6 2-26 2 3 2-16 2 33 2 2 2 3 2 8 2-39 2 26 2-5 2-31 2 4 2 38 2-2 2 10 2-40 2-12 2 37 2-2 2 0 2-33 2 8 2 30 2-20 2 17 2 11 2-53 2 53 2 0 2-23 2-22 2 46 2-46 2 12 2 19 2 2 2-4 2 19 2-42 2 5 2-3 2 5 2-5 2-17 2 1 2 14 2 29 2-38 2 7 2 8 2-21 2 29 2 0 2-22 2 31 2 12 2-13 2 6 2-46 2 10 2 29 2 5 2-42 2-11 2 53 2-6 2 10 2-11 2 8 2-3 2-25 2 20 2-29 2 32 2 2 2-3 2-7 2 21 2-18 2-18 2 8 2 3 2 24 2-30 2 19 2-24 2-8 2 38 2 3 2-28 2-1 2-12 2 40 2 11 2-36 2 29 2-14 2 14 2 5 2-37 2 20 2 16 2-9 2-20 2-10 2 2 2-9 2 17 2 8 2-2 2-7 2-18 2 12 2 35 2-46 2 0 2 41 2 1 2 12 2-9 2-35 2 15 2-20 2 27 2 15 2-43 2 47 2-41 2 30 2-36 2 2 2 10 2 33 2-14 2 7 2-13 2 16 2-4 2-46 2 31 2-24 2-8 2 24 2-21 2 38 2-37 2 31 2-15 2 14 2-12 2-10 2 36 2-11 2 0 2 2 2-36 2 51 2-4 2-38 2 38 2-13 2-7 2 19 2-2 2-11 2-37 2 13 2 25 2 0 2-48 2 29 2-22 2 3 2 11 2 16 2 11 2-32 2-6 2 24 2-22 2 49 2-35 2-15 2 32 2 4 2-34 2 32 2-18 2 33 2-45 2 40 2-24 2 0 2-19 2-1 2 42 2-8 2-25 2 34 2 7 2-14 2 14 2-14 2-28 2 0 2 27 2 8 2-6 2-33 2 45 2-31 2 21 2-30 2-11 2 54 2-33 2 35 2-35 2 27 2-39 2 42 2-31 2 16 2-17 2 24 2-41 2 8 2-9 2 31 2-21 2 5 2-11 2-1 2 15 2 12 2-11 2-18 2 36 2-25 2 40 2-29 2-17 2 41 2-27 2 15 2-11 2 21 2-3 2 3 2-29 2 32 2-49 2 42 2-3 2 17 2-1 2-40 2 16 2-17 2 45 2 0 2-43 2-11 2 36 2-18 2 25 2-44 2 5 2 8 2 13 2 29 2-2 2-51 2 45 2-35 2 31 2 5 2-11 2-37 2 50 2-23 2-29 2 34 2 16 2-3 2-30 2 25 2 9 2-6 2-17 2 10 2 2 2-4 2 6 2-23 2 18 2 13 2-52 2 38 2-7 2 17 2-49 2 6 2-3 2 46 2-34 2 4 2 30 2-25 2-23 2 19 2 21 2-14 2-16 2 39 2-36 2 11 2-16 2 28 2-13 2 27 2-8 2-21 2 2 2 35 2-20 2-8 2 25 2-48 2 37 2 3 2-11 2-25 2 36 2 7 2-36 2 42 2-26 2 20 2-34 2 12 2-25 2 31 2-1 2 19 2-24 2-25 2 12 2-11 2-4 2-8 2 22 2 26 2-17 2 22 2-45 2 26 2 7 2 2 2 5 2-25 2 15 2 3 2-14 2-11 2-24 2 17 2-24 2-6 2 19 2-3 2 28 2-35 2 51 2-20 2-9 2-20 2 52 2-10 2-40 2 3 2 20 2 16 2-19 2-24 2 51 2-14 2 13 2 6 2-45 2 41 2-5 2-16 2 19 2-21 2 13 2 4 2 20 2-46 2 7 2 16 2-22 2-3 2 28 2 0 2 8 2-26 2 16 2-18 2 33 2 11 2-8 2-16 2-9 2-2 2-5 2 39 2-18 2-23 2 39 2-28 2 17 2-17 2 27 2-38 2 39 2-3 2-25 2-23 2 19 2-20 2 13 2 39 2-38 2 3 2 19 2 8 2-30 2 4 2 11 2 5 2 14 2-9 2-15 2-3 2-11 2 17 2 13 2-32 2 9 2 32 2-42 2 3 2 32 2 5 2-35 2 42 2-40 2 34 2 11 2-22 2 18 2-33 2 9 2 14 2 7 2-30 2 13 2-8 2 17 2 7 2-37 2 29 2 6 2-4 2-35 2 2 2 39 2-7 2-33 2 4 2 8 2 32 2-18 2 4 2 14 2-14 2-21 2-3 2 40 2-1 2-21 2 3 2 18 2-43 2 19 2 6 2 1 2-38 2 34 2-18 2-19 2 5 2 43 2-19 2 3 2-19 2 19 2-4 2-17 2 20 2-29 2 6 2 24 2-40 2 46 2-6 2-31 2 21 2 11 2-5 2 17 2-17 2-6 2-12 2-8 2 46 2-53 2 41 2-19 2 12 2 0 2 6 2-6 2-19 2 20 2-25 2-10 2 52 2-8 2-40 2 33 2 9 2-41 2 0 2-12 2 13 2-6 2-13 2 39 2-13 2 9 2-2 2-59 2-10 2 13 2-9 2-31 2 49 2-21 2 8 2-11 2-2 2 57 2-26 2 23 2 27 2-24 2 32 2 9 2-48 2 32 2 15 2 6 2-42 2 0 2-2 2 39 2-33 2 26 2 5 2-37 2 35 2-30 2-13 2 40 2-5 2-37 2 35 2-28 2-3 2 31 2 18 2-36 2 1 2 35 2-1 2-29 2 31 2-37 2 37 2-11 2 24 2-17 2-20 2 20 2 10 2 0 2-43 2 14 2 29 2-37 2 16 2 6 2-26 2 10 2 23 2 17 2-52 2 20 2 20 2-33 2 39 2 3 2-9 2-38 2 26 2 11 2-42 2 36 2-32 2-8 2 2 2 35 2-11 2 3 2-6 2 32 2-13 2-5 2-31 2 12 2-4 2 17 2 1 2 10 2-37 2 33 2-36 2-2 2-13 2 52 2-53 2 49 2-33 2-9 2 6 2 28 2 21 2-33 2 33 2-10 2-19 2 29 2-7 2 15 2-17 2 1 2-25 2 25 2-29 2-10 2 35 2-36 2 21 2 6 2-40 2 41 2-2 2-46 2 22 2-33 2-20 2 29 2 1 2-11 2-27 2 33 2-13 2 9 2 22 2 2 2 14 2 9 2-12 2 15 2 0 2-4 2-14 2 38 2 6 2-38 2 21 2 22 2-25 2-5 2 24 2-37 2 13 2 4 2 27 2-14 2-1 2 2 2-36 2 39 2-41 2 8 2-7 2 23 2-11 2 31 2-46 2 46 2-25 2 19 2-5 2-17 2 9 2 14 2-15 2 3 2-30 2-17 2 8 2-9 2 57 2-28 2 24 2-1 2-37 2 13 2 6 2 33 2-21 2 14 2-18 2-8 2 39 2-30 2 17 2-44 2 44 2-38 2 1 2-16 2 43 2-18 2-41 2 23 2 4 2-51 2 29 2-19 2 11 2-64 2 6 2 30 2-18 2-30 2-11 2 17 2-18 2 18 2 12 2 40 2-32 2 47 2 18 2-29 2 13 2 38 2-27 2 39 2 6 2 2 2-25 2-1 2 29 2 2 2-37 2 35 2-29 2 8 2 2 2 35 2-16 2-26 2 37 2-48 2 13 2 37 2-44 2 20 2-4 2 19 2-47 2 27 2-37 2 40 2-16 2 13 2-27 2 5 2 10 2-2 2 19 2-29 2 25 2 27 2-4 2-41 2 24 2 25 2-37 2-13 2 13 2-13 2 11 2 13 2-19 2 21 2-11 2 12 2-15 2-38 2-10 2 34 2-9 2-9 2-43 2-23 2-27 2-12 2 17 2-43 2-1 2-27 2 17 2 9 2-3 2 25 2 10 2 51 2-15 2 27 2 22 2-1 2 22 2 12 2 28 2-35 2 8 2 34 2 5 2 18 2-44 2 44 2-5 2-15 2-10 2-22 2 46 2-1 2-29 2 19 2-11 2-23 2 13 2 20 2 16 2-9 2 2 2-2 2-10 2-4 2 14 2-20 2 27 2-19 2 27 2-37 2 13 2-3 2-14 2-1 2 13 2 17 2-15 2 29 2-26 2 2 2-3 2 0 2-4 2 25 2 14 2-16 2 9 2-2 2-10 2-3 2-19 2 27 2-26 2 1 2-9 2 42 2-17 2-10 2 18 2-32 2 24 2 12 2-13 2-30 2-3 2 9 2 20 2-31 2 45 2-4 2-41 2 31 2-28 2 12 2-8 2 33 2-24 2-15 2 49 2-51 2 10 2 40 2-34 2 17 2 23 2-31 2 23 2-28 2 18 2-24 2 23 2-32 2 5 2 29 2-21 2 17 2-3 2-8 2-8 2-9 2 39 2-5 2 0 2 11 2 3 2-34 2 25 2 1 2-50 2 45 2 1 2-1 2-43 2 52 2-37 2-6 2 7 2 38 2-22 2 5 2 10 2-39 2-3 2 50 2-10 2-31 2 35 2-1 2-10 2-18 2 6 2 3 2 30 2-57 2 35 2-29 2 2 2 8 2 28 2-42 2-2 2 36 2-1 2-5 2-19 2 1 2-18"/><path d="M174 2340l2-16 2 37 2-54 2 43 2-34 2 21 2 12 2-17 2 21 2 2 2 0 2-25 2 11 2 9 2-25 2 17 2-22 2 8 2 24 2-33 2 42 2-41 2 48 2-33 2 22 2 4 2-46 2 41 2-28 2 30 2-4 2 5 2 2 2-40 2 29 2-12 2 18 2 7 2-52 2 6 2 3 2 22 2 10 2-40 2 19 2 19 2-16 2-15 2-7 2-3 2 38 2-8 2-4 2-14 2 37 2-54 2 39 2-16 2 16 2 0 2-33 2 27 2-19 2 35 2-39 2 5 2 37 2-44 2-5 2-3 2 49 2-10 2-11 2 15 2-17 2 15 2-14 2-18 2 47 2-22 2-13 2 33 2-40 2 22 2 18 2-25 2-11 2 10 2 10 2-2 2 33 2-47 2 39 2-30 2-14 2 16 2-12 2 24 2-5 2 6 2-34 2 32 2 5 2 1 2 12 2-53 2 17 2 17 2 9 2-36 2 11 2-14 2 23 2 14 2 8 2-33 2 18 2 3 2 3 2 12 2-44 2 8 2 11 2-10 2-1 2-7 2 29 2-20 2 0 2-18 2 34 2 11 2-31 2 1 2 9 2 15 2-3 2-27 2 37 2-1 2-38 2 37 2-22 2-27 2 12 2-19 2 0 2 35 2-23 2 36 2-35 2 16 2-16 2 22 2 14 2-28 2 37 2-38 2-2 2 28 2 10 2-30 2-10 2-2 2 50 2-19 2-24 2 44 2-37 2 36 2-8 2 8 2-32 2-19 2 4 2 30 2-19 2 39 2-19 2 13 2-46 2 2 2 6 2 42 2-17 2-32 2 12 2-8 2 23 2-23 2 27 2-15 2-9 2 9 2 32 2-40 2 26 2-35 2 24 2 27 2-49 2 39 2-35 2-5 2 34 2-19 2 17 2-20 2-6 2 40 2 7 2-27 2 24 2-46 2 37 2 6 2-2 2-6 2 2 2-30 2-11 2 40 2-17 2 17 2-38 2 9 2-7 2 25 2-28 2 35 2 13 2-30 2-12 2 5 2 4 2-5 2-3 2 43 2-43 2 30 2-7 2 11 2-29 2-13 2 49 2-19 2-19 2 0 2 35 2-48 2 2 2 42 2-55 2 15 2-7 2-3 2 1 2 17 2-12 2 35 2 3 2 10 2-42 2-9 2 9 2-7 2-2 2 1 2 4 2 0 2 12 2-6 2-8 2 24 2-16 2 32 2-17 2 1 2-19 2-9 2-2 2 33 2-21 2-4 2 26 2-20 2 4 2 38 2-52 2 28 2-20 2 42 2-43 2 39 2-42 2 28 2 10 2-31 2 26 2-22 2 12 2-11 2 23 2-37 2 20 2-2 2 25 2-21 2 13 2-36 2 5 2 33 2-26 2 24 2 7 2-5 2-32 2-4 2 45 2-5 2-36 2 44 2-43 2-1 2 7 2 13 2 23 2-26 2-15 2 22 2 9 2-6 2 14 2-8 2 10 2-49 2 7 2 42 2-44 2 1 2-8 2 37 2-31 2 39 2-8 2-17 2 27 2-30 2-13 2 9 2 10 2-13 2 40 2-48 2 31 2-23 2 27 2 0 2 9 2-37 2 37 2 6 2-33 2-13 2 37 2-13 2-24 2 45 2-51 2 26 2 7 2 3 2-31 2 14 2-15 2 40 2-27 2 37 2-1 2-9 2-3 2 7 2 1 2-29 2 16 2-15 2 4 2-15 2 39 2-23 2-6 2 15 2-7 2-26 2 29 2 16 2-8 2-35 2 48 2-14 2-2 2-12 2 0 2-21 2 28 2 24 2-12 2 1 2 1 2 12 2-16 2 10 2-36 2 38 2-39 2 40 2-5 2-30 2 41 2-8 2-32 2 13 2 2 2 12 2-36 2-6 2 29 2-21 2 23 2-11 2-5 2 24 2-24 2-19 2 8 2 3 2 23 2-20 2-9 2 22 2 9 2-40 2 23 2 22 2-18 2-35 2-1 2 49 2-17 2-42 2 44 2-20 2 10 2-23 2-6 2-22 2 53 2-42 2 3 2 6 2 38 2-28 2-11 2 7 2 42 2-32 2-17 2 16 2 13 2-2 2-29 2 53 2 1 2-47 2 6 2-2 2 35 2-22 2 36 2-39 2 43 2-3 2-38 2 22 2-9 2 5 2-24 2 3 2 7 2 31 2-36 2-3 2 8 2-8 2 28 2-20 2 1 2 11 2 12 2 18 2-43 2 10 2-5 2 15 2 0 2-23 2 51 2-15 2 5 2 4 2-38 2 20 2-31 2 47 2-4 2-42 2 29 2-25 2-1 2 21 2 20 2-27 2-6 2 2 2 14 2 13 2-9 2-4 2-1 2 2 2 5 2 27 2-44 2-2 2 44 2-11 2 1 2 5 2-4 2-7 2 0 2-3 2-12 2-8 2 7 2-2 2-14 2 21 2-29 2 49 2-28 2-21 2 12 2 36 2-2 2-40 2 21 2 8 2-32 2 16 2 29 2 4 2-15 2 2 2 7 2-40 2-1 2 41 2-22 2 10 2-8 2-22 2 32 2-22 2-6 2-9 2 6 2 35 2-21 2 33 2-52 2 34 2-13 2 28 2-32 2-1 2-11 2 42 2-45 2 34 2-10 2-5 2-6 2-3 2-15 2 44 2-17 2-25 2 38 2-9 2-28 2 5 2 11 2 18 2-14 2-19 2 32 2-11 2-24 2 2 2 11 2-10 2-14 2 12 2-5 2 6 2 38 2-14 2 2 2-39 2 37 2-21 2 4 2 24 2-42 2 6 2 2 2 33 2-35 2 36 2-3 2-1 2-25 2-22 2 40 2-37 2-2 2 1 2-19 2-24 2-15 2 9 2-25 2-9 2 26 2-10 2-19 2 18 2 9 2 25 2 18 2 25 2-30 2 48 2 6 2-25 2 34 2-42 2 39 2 6 2 7 2-22 2 15 2-41 2 0 2 9 2 29 2 6 2-33 2 16 2-31 2 50 2-47 2 3 2 34 2 0 2-32 2 45 2-27 2 22 2-20 2 25 2-13 2-14 2 22 2-2 2-12 2-11 2 44 2-26 2-22 2 38 2-28 2 19 2-14 2-14 2 48 2-36 2 21 2-24 2 42 2-30 2-15 2 15 2-21 2 8 2-1 2 11 2 23 2-4 2-5 2-16 2-5 2-2 2 28 2-29 2 23 2 2 2 8 2-5 2-7 2 16 2-13 2 5 2 6 2-16 2-25 2-2 2 33 2-24 2-13 2 36 2-33 2 27 2-38 2 15 2-18 2-10 2 27 2-15 2 38 2-4 2-35 2 28 2 9 2-13 2 28 2-29 2 28 2-5 2 7 2-7 2-8 2-2 2-13 2 4 2 7 2 10 2 6 2-30 2 14 2 7 2-47 2 24 2-42 2 32 2-13 2-34 2-11 2 14 2-3 2-10 2-13 2-30 2 15 2 1 2 19 2 5 2 22 2 35 2-24 2 35 2-10 2 18 2 3 2 5 2-36 2 53 2-37 2 30 2 9 2-26 2-16 2 42 2-13 2-27 2-1 2 9 2 37 2-19 2 16 2-14 2-26 2 1 2 48 2-43 2-7 2-3 2 43 2-32 2-18 2 29 2 4 2 10 2-29 2-16 2 39 2-33 2 13 2-26 2 17 2-17 2 34 2-15 2 15 2-8 2 2 2 13 2-10 2-16 2 48 2-37 2 23 2 0 2-32 2 20 2 16 2-36 2 17 2-27 2 29 2-5 2 2 2-38 2 28 2-17 2-15 2-26 2-3 2-35 2 29 2-45 2 5 2 2 2 7 2-49 2 16 2-4 2-11 2 42 2 21 2-30 2 56 2-2 2 19 2-13 2 9 2-8 2 31 2-8 2-2 2 12 2 32 2-27 2 4 2 12 2 9 2 17 2-25 2-20 2 33 2 14 2-13 2-12 2-21 2 35 2 1 2-35 2 4 2 15 2-23 2 20 2-36 2-4 2 6 2 25 2-26 2 27 2-27 2 0 2 10 2 41 2-25 2-10 2 18 2 5 2 20 2 12 2-39 2 39 2-6 2-7 2-17 2-18 2-5 2-9 2 5 2-7 2 35 2-34 2-7 2-15 2 40 2-61 2 1 2-12 2-3 2-57 2 1 2-52 2-38 2-10 2 2 2-14 2 1 2-29 2 34 2 28 2 47 2-4 2 26 2 26 2 61 2 12 2 33 2 13 2-29 2 35 2-19 2 6 2 23 2-6 2-15 2 44 2-5 2 1 2-49 2 7 2 43 2-32 2 25 2 6 2 4 2-43 2 21 2-22 2 25 2-29 2 31 2 4 2-10 2-18 2 41 2 10 2-14 2 11 2-7 2 9 2-4 2-42 2 42 2-32 2-15 2-2 2 33 2-30 2 1 2 47 2-35 2 10 2-13 2 37 2-19 2-14 2 40 2-28 2 15 2-27 2-12 2 53 2-50 2 45 2-8 2 4 2-11 2-34 2 41 2-48 2 48 2 0 2-38 2 25 2-19 2-6 2 19 2-9 2 37 2-21 2 10 2-4 2 18 2-45 2 37 2-6 2-37 2 19 2 23 2-33 2 6 2-6 2 18 2-15 2 36 2-43 2-5 2 26 2 25 2-57 2 5 2 17 2 1 2-11 2 14 2 29 2-51 2 8 2 24 2-13 2-20 2 24 2-10 2-2 2 33 2-32 2-11 2 3 2-3 2-4 2 2 2 43 2-40 2 43 2-16 2-7 2-8 2 20 2 16 2-39 2 23 2-20 2 32 2-38 2 6 2 14 2-2 2-27 2 6 2-1 2 45 2-31 2 3 2 29 2-30 2 21 2-7 2-35 2 7 2-8 2 42 2-30 2-18 2-3 2 57 2-32 2 27"/></g>
</g>
<g transform="scale(0.5)">
<defs><pattern id="pat1u" width="74" height="58" patternUnits="userSpaceOnUse"><rect width="74" height="58" fill="#0000ff"/><path d="M0 0h2v2h-2zM16 0h4v4h-4zM34 0h4v4h-4zM12 2h2v2h-2zM20 2h4v2h-4zM22 2h2v2h-2zM26 2h2v4h-2zM38 2h2v4h-2zM42 2h2v2h-2zM56 2h4v2h-4zM68 2h2v4h-2zM2 4h2v2h-2zM12 4h4v2h-4zM20 4h4v2h-4zM24 4h2v2h-2zM42 4h4v2h-4zM44 4h2v4h-2zM54 4h2v2h-2zM58 4h4v2h-4zM70 4h2v2h-2zM10 6h2v2h-2zM30 6h2v4h-2zM48 6h4v2h-4zM58 6h4v4h-4zM64 6h2v4h-2zM8 8h4v4h-4zM16 8h2v4h-2zM20 8h4v4h-4zM22 8h4v4h-4zM28 8h4v2h-4zM36 8h4v4h-4zM42 8h2v2h-2zM44 8h2v4h-2zM48 8h4v2h-4zM50 8h4v4h-4zM54 8h4v2h-4zM62 8h4v2h-4zM64 8h2v4h-2zM2 10h4v4h-4zM10 10h4v4h-4zM20 10h2v2h-2zM24 10h4v4h-4zM26 10h4v2h-4zM28 10h2v4h-2zM32 10h4v2h-4zM44 10h2v2h-2zM50 10h4v4h-4zM58 10h4v4h-4zM0 12h2v4h-2zM14 12h4v4h-4zM40 12h4v4h-4zM70 12h4v2h-4zM0 14h4v4h-4zM4 14h4v4h-4zM6 14h2v4h-2zM8 14h4v2h-4zM22 14h4v4h-4zM26 14h2v2h-2zM38 14h4v4h-4zM44 14h2v2h-2zM46 14h2v4h-2zM48 14h2v2h-2zM50 14h2v4h-2zM66 14h2v2h-2zM0 16h4v2h-4zM4 16h2v4h-2zM10 16h4v4h-4zM12 16h2v4h-2zM14 16h4v4h-4zM26 16h4v4h-4zM32 16h4v2h-4zM52 16h2v2h-2zM58 16h2v2h-2zM68 16h2v2h-2zM12 18h4v4h-4zM20 18h4v2h-4zM34 18h2v2h-2zM38 18h4v4h-4zM44 18h4v4h-4zM52 18h4v4h-4zM70 18h2v4h-2zM2 20h2v4h-2zM12 20h2v2h-2zM14 20h2v4h-2zM20 20h2v2h-2zM22 20h2v2h-2zM24 20h4v4h-4zM34 20h4v2h-4zM48 20h4v4h-4zM2 22h2v2h-2zM12 22h2v2h-2zM24 22h4v2h-4zM28 22h2v2h-2zM32 22h4v2h-4zM34 22h2v4h-2zM36 22h2v2h-2zM48 22h2v2h-2zM62 22h2v2h-2zM64 22h2v4h-2zM72 22h4v2h-4zM0 24h4v2h-4zM4 24h4v2h-4zM8 24h4v2h-4zM16 24h4v2h-4zM22 24h4v2h-4zM24 24h2v2h-2zM36 24h2v2h-2zM58 24h4v4h-4zM60 24h2v4h-2zM8 26h4v4h-4zM20 26h2v4h-2zM32 26h2v4h-2zM38 26h4v4h-4zM46 26h2v2h-2zM52 26h2v4h-2zM66 26h2v2h-2zM70 26h4v2h-4zM2 28h4v4h-4zM6 28h2v4h-2zM34 28h2v4h-2zM36 28h4v2h-4zM44 28h4v4h-4zM0 30h4v2h-4zM4 30h4v4h-4zM14 30h4v2h-4zM36 30h4v4h-4zM64 30h4v2h-4zM20 32h4v2h-4zM22 32h4v2h-4zM28 32h4v2h-4zM42 32h2v2h-2zM54 32h2v4h-2zM72 32h4v4h-4zM28 34h4v4h-4zM30 34h2v2h-2zM56 34h4v4h-4zM60 34h2v4h-2zM12 36h4v4h-4zM16 36h2v2h-2zM22 36h4v4h-4zM32 36h4v2h-4zM44 36h2v4h-2zM60 36h2v2h-2zM72 36h2v2h-2zM6 38h4v4h-4zM8 38h4v2h-4zM22 38h4v2h-4zM26 38h4v2h-4zM34 38h4v2h-4zM44 38h2v4h-2zM46 38h2v4h-2zM48 38h2v2h-2zM54 38h4v4h-4zM66 38h2v4h-2zM68 38h4v2h-4zM0 40h4v2h-4zM20 40h2v4h-2zM32 40h4v4h-4zM34 40h2v2h-2zM54 40h2v2h-2zM14 42h4v4h-4zM20 42h4v4h-4zM30 42h4v2h-4zM38 42h4v4h-4zM44 42h4v2h-4zM52 42h4v2h-4zM72 42h2v2h-2zM6 44h4v4h-4zM8 44h2v4h-2zM10 44h4v2h-4zM20 44h2v4h-2zM30 44h2v4h-2zM40 44h2v4h-2zM48 44h2v4h-2zM52 44h4v2h-4zM54 44h4v2h-4zM70 44h4v2h-4zM2 46h2v2h-2zM34 46h2v4h-2zM38 46h2v2h-2zM40 46h2v4h-2zM54 46h2v4h-2zM58 46h2v2h-2zM62 46h2v4h-2zM70 46h4v2h-4zM8 48h4v2h-4zM22 48h4v2h-4zM28 48h2v2h-2zM32 48h2v2h-2zM38 48h2v4h-2zM42 48h4v4h-4zM48 48h4v4h-4zM50 48h4v2h-4zM56 48h4v4h-4zM60 48h2v4h-2zM62 48h2v2h-2zM20 50h4v2h-4zM28 50h4v2h-4zM38 50h4v4h-4zM42 50h4v2h-4zM48 50h2v2h-2zM58 50h4v2h-4zM64 50h2v4h-2zM66 50h2v4h-2zM6 52h2v2h-2zM12 52h4v2h-4zM20 52h2v2h-2zM32 52h2v4h-2zM42 52h4v4h-4zM50 52h2v2h-2zM62 52h2v2h-2zM68 52h4v4h-4zM70 52h4v4h-4zM6 54h2v2h-2zM8 54h4v4h-4zM12 54h2v2h-2zM26 54h2v4h-2zM28 54h2v2h-2zM48 54h4v2h-4zM54 54h4v4h-4zM58 54h2v2h-2zM60 54h2v4h-2zM62 54h4v4h-4zM12 56h2v4h-2zM14 56h2v4h-2zM22 56h4v4h-4zM32 56h4v4h-4zM58 56h4v4h-4zM60 56h2v2h-2zM62 56h2v4h-2z" fill="#fff"/></pattern></defs>
<defs><pattern id="pat1l" width="74" height="58" patternUnits="userSpaceOnUse"><rect width="74" height="58" fill="#0000ff"/><path d="M54 0h2v4h-2zM58 0h4v4h-4zM18 2h2v4h-2zM22 2h4v2h-4zM42 4h2v4h-2zM72 4h4v2h-4zM66 6h2v4h-2zM54 8h4v2h-4zM70 8h4v2h-4zM4 12h4v4h-4zM14 12h4v2h-4zM48 12h4v4h-4zM56 12h2v2h-2zM10 14h2v4h-2zM24 14h4v2h-4zM20 18h2v2h-2zM50 18h2v2h-2zM0 22h4v2h-4zM34 22h4v2h-4zM60 22h4v2h-4zM60 24h4v4h-4zM56 26h4v2h-4zM38 28h2v2h-2zM2 32h4v4h-4zM38 32h4v4h-4zM66 34h2v4h-2zM52 38h2v2h-2zM62 38h4v2h-4zM60 40h2v4h-2zM8 42h2v4h-2zM42 42h2v4h-2zM30 44h2v2h-2zM52 46h4v4h-4zM14 48h4v4h-4zM36 50h2v2h-2zM38 50h2v2h-2zM62 50h4v4h-4zM10 52h2v4h-2zM66 54h2v2h-2zM10 56h4v2h-4z" fill="#fff"/></pattern></defs>
<defs><pattern id="pat1s" width="74" height="58" patternUnits="userSpaceOnUse"><rect width="74" height="58" fill="#0000ff"/><path d="M4 0h4v2h-4zM10 0h4v4h-4zM12 0h2v2h-2zM28 0h2v2h-2zM30 0h4v4h-4zM46 0h4v4h-4zM50 0h2v4h-2zM54 0h2v2h-2zM64 0h4v2h-4zM66 0h2v2h-2zM68 0h2v4h-2zM4 2h4v2h-4zM12 2h4v4h-4zM20 2h2v2h-2zM24 2h4v4h-4zM26 2h2v2h-2zM28 2h2v4h-2zM32 2h2v4h-2zM48 2h4v2h-4zM52 2h2v4h-2zM54 2h2v2h-2zM56 2h2v4h-2zM60 2h4v2h-4zM70 2h4v4h-4zM12 4h4v2h-4zM18 4h4v4h-4zM26 4h4v4h-4zM30 4h4v2h-4zM42 4h4v4h-4zM64 4h4v2h-4zM70 4h2v4h-2zM0 6h2v2h-2zM2 6h4v4h-4zM4 6h4v4h-4zM6 6h4v4h-4zM8 6h4v4h-4zM12 6h4v2h-4zM20 6h4v2h-4zM30 6h4v2h-4zM32 6h4v2h-4zM38 6h2v4h-2zM42 6h4v2h-4zM44 6h4v4h-4zM48 6h4v4h-4zM64 6h4v2h-4zM2 8h4v4h-4zM4 8h4v4h-4zM6 8h4v2h-4zM14 8h2v4h-2zM18 8h2v4h-2zM26 8h2v2h-2zM34 8h2v2h-2zM40 8h4v4h-4zM46 8h4v2h-4zM54 8h4v2h-4zM64 8h4v2h-4zM68 8h4v2h-4zM4 10h2v4h-2zM6 10h4v4h-4zM14 10h4v2h-4zM20 10h4v4h-4zM22 10h4v2h-4zM28 10h2v2h-2zM30 10h4v2h-4zM32 10h2v4h-2zM34 10h2v2h-2zM38 10h2v2h-2zM44 10h2v4h-2zM48 10h2v4h-2zM56 10h4v4h-4zM60 10h4v2h-4zM64 10h4v2h-4zM4 12h4v2h-4zM10 12h4v2h-4zM14 12h4v2h-4zM18 12h4v2h-4zM20 12h2v4h-2zM22 12h2v2h-2zM34 12h2v2h-2zM38 12h2v2h-2zM40 12h2v4h-2zM42 12h4v4h-4zM44 12h2v4h-2zM56 12h4v2h-4zM58 12h2v4h-2zM70 12h4v2h-4zM4 14h4v2h-4zM20 14h4v4h-4zM22 14h2v2h-2zM24 14h2v2h-2zM26 14h4v2h-4zM38 14h4v2h-4zM40 14h2v4h-2zM48 14h2v4h-2zM52 14h2v2h-2zM58 14h4v2h-4zM60 14h2v4h-2zM72 14h2v4h-2zM0 16h2v4h-2zM10 16h2v2h-2zM14 16h4v4h-4zM16 16h2v2h-2zM20 16h2v2h-2zM22 16h4v4h-4zM26 16h2v2h-2zM30 16h4v2h-4zM32 16h2v2h-2zM34 16h2v2h-2zM36 16h2v2h-2zM40 16h2v2h-2zM42 16h4v4h-4zM44 16h4v2h-4zM46 16h2v4h-2zM56 16h2v2h-2zM62 16h2v4h-2zM68 16h4v2h-4zM72 16h2v2h-2zM4 18h4v2h-4zM6 18h2v2h-2zM16 18h4v4h-4zM20 18h2v4h-2zM26 18h4v2h-4zM42 18h2v4h-2zM48 18h4v4h-4zM60 18h2v4h-2zM0 20h4v2h-4zM28 20h2v4h-2zM40 20h4v4h-4zM46 20h4v4h-4zM56 20h4v4h-4zM70 20h2v2h-2zM72 20h4v4h-4zM0 22h4v4h-4zM2 22h4v4h-4zM12 22h2v2h-2zM18 22h4v2h-4zM26 22h4v4h-4zM28 22h4v4h-4zM30 22h4v2h-4zM32 22h4v2h-4zM34 22h4v2h-4zM40 22h4v4h-4zM42 22h4v2h-4zM46 22h2v2h-2zM62 22h4v2h-4zM68 22h2v2h-2zM2 24h4v2h-4zM4 24h2v2h-2zM6 24h2v4h-2zM16 24h2v4h-2zM26 24h4v2h-4zM38 24h4v2h-4zM40 24h2v4h-2zM48 24h4v2h-4zM50 24h4v2h-4zM54 24h2v4h-2zM64 24h4v4h-4zM66 24h2v2h-2zM70 24h2v4h-2zM10 26h2v4h-2zM20 26h2v2h-2zM22 26h4v4h-4zM24 26h4v2h-4zM30 26h4v4h-4zM36 26h2v2h-2zM42 26h2v4h-2zM44 26h4v2h-4zM48 26h4v4h-4zM52 26h4v2h-4zM56 26h2v2h-2zM58 26h2v2h-2zM64 26h2v2h-2zM68 26h4v4h-4zM70 26h2v4h-2zM2 28h4v2h-4zM4 28h2v4h-2zM6 28h4v2h-4zM18 28h2v2h-2zM24 28h4v4h-4zM28 28h4v2h-4zM34 28h2v4h-2zM44 28h2v4h-2zM46 28h4v4h-4zM48 28h4v2h-4zM50 28h2v2h-2zM22 30h4v2h-4zM26 30h2v2h-2zM32 30h4v2h-4zM42 30h4v4h-4zM50 30h4v2h-4zM58 30h4v4h-4zM62 30h4v4h-4zM66 30h2v4h-2zM68 30h4v2h-4zM4 32h2v4h-2zM12 32h2v2h-2zM20 32h4v4h-4zM22 32h4v4h-4zM26 32h2v2h-2zM28 32h2v4h-2zM32 32h2v4h-2zM36 32h2v4h-2zM38 32h4v4h-4zM40 32h2v2h-2zM42 32h2v4h-2zM46 32h4v4h-4zM52 32h4v4h-4zM60 32h2v2h-2zM62 32h4v4h-4zM2 34h2v2h-2zM16 34h4v2h-4zM24 34h2v2h-2zM28 34h2v4h-2zM34 34h2v2h-2zM36 34h2v4h-2zM38 34h4v4h-4zM44 34h4v2h-4zM48 34h4v4h-4zM56 34h2v4h-2zM60 34h4v2h-4zM0 36h4v2h-4zM6 36h2v4h-2zM12 36h2v4h-2zM18 36h2v4h-2zM24 36h4v2h-4zM36 36h4v4h-4zM40 36h2v4h-2zM44 36h4v4h-4zM48 36h2v2h-2zM52 36h4v4h-4zM60 36h2v4h-2zM68 36h4v2h-4zM72 36h4v2h-4zM4 38h4v2h-4zM12 38h2v2h-2zM22 38h4v4h-4zM24 38h2v4h-2zM42 38h2v2h-2zM46 38h2v2h-2zM54 38h2v2h-2zM58 38h2v2h-2zM12 40h4v4h-4zM14 40h4v4h-4zM22 40h4v2h-4zM26 40h4v4h-4zM30 40h2v2h-2zM48 40h2v2h-2zM54 40h4v2h-4zM58 40h2v4h-2zM62 40h2v2h-2zM14 42h4v4h-4zM28 42h2v2h-2zM34 42h4v2h-4zM36 42h4v2h-4zM40 42h4v4h-4zM42 42h4v2h-4zM46 42h4v2h-4zM50 42h2v2h-2zM0 44h2v4h-2zM4 44h2v4h-2zM8 44h2v2h-2zM12 44h2v2h-2zM20 44h2v4h-2zM22 44h2v2h-2zM38 44h2v2h-2zM42 44h4v2h-4zM50 44h2v4h-2zM52 44h2v2h-2zM54 44h2v4h-2zM60 44h4v2h-4zM64 44h2v2h-2zM70 44h4v4h-4zM72 44h2v4h-2zM2 46h4v4h-4zM4 46h2v4h-2zM8 46h2v2h-2zM16 46h2v4h-2zM34 46h2v4h-2zM36 46h4v4h-4zM40 46h4v2h-4zM44 46h2v2h-2zM50 46h2v2h-2zM68 46h4v4h-4zM70 46h2v4h-2zM72 46h2v2h-2zM2 48h4v2h-4zM6 48h4v4h-4zM10 48h4v2h-4zM16 48h2v2h-2zM22 48h4v4h-4zM32 48h4v4h-4zM54 48h2v4h-2zM60 48h4v4h-4zM70 48h4v2h-4zM2 50h4v4h-4zM6 50h2v2h-2zM8 50h4v2h-4zM18 50h4v2h-4zM24 50h4v4h-4zM30 50h4v4h-4zM36 50h2v2h-2zM38 50h2v4h-2zM64 50h2v2h-2zM66 50h4v4h-4zM70 50h4v4h-4zM0 52h2v4h-2zM12 52h2v4h-2zM16 52h2v2h-2zM30 52h2v4h-2zM34 52h4v2h-4zM40 52h2v2h-2zM46 52h4v2h-4zM54 52h4v4h-4zM72 52h2v4h-2zM0 54h2v4h-2zM12 54h2v4h-2zM26 54h2v4h-2zM44 54h2v4h-2zM46 54h2v2h-2zM66 54h4v4h-4zM68 54h2v2h-2zM70 54h4v4h-4zM20 56h4v4h-4zM22 56h2v2h-2zM24 56h4v4h-4zM36 56h4v2h-4zM40 56h2v2h-2zM46 56h2v2h-2zM50 56h4v4h-4zM54 56h4v2h-4zM58 56h4v2h-4zM66 56h4v2h-4zM72 56h2v4h-2z" fill="#fff"/></pattern></defs>
<path d="M174 2762l2 9 2 8 2 7 2 5 2 0 2-2 2 3 2 1 2 2 2 2 2 2 2-1 2-3 2-2 2 0 2 1 2 2 2 5 2-4 2-1 2-3 2 5 2-1 2 2 2 2 2-2 2 2 2 0 2-5 2 0 2 0 2-1 2 0 2-1 2-2 2-4 2 3 2 4 2-4 2 0 2-3 2 4 2 6 2-2 2 0 2-2 2 1 2-3 2 2 2-4 2 2 2 2 2 1 2 0 2 1 2 2 2-3 2-2 2-1 2 1 2-4 2 2 2-2 2 0 2-1 2 0 2 4 2-1 2-1 2-1 2-4 2 3 2 1 2 2 2 0 2 0 2 0 2 2 2-3 2-1 2-1 2-1 2-2 2 0 2 1 2 2 2-1 2 5 2 6 2-1 2-2 2 1 2-2 2 3 2-3 2-2 2 1 2 1 2 1 2-5 2-2 2 3 2 1 2 1 2-4 2 0 2 4 2 2 2 4 2-2 2 2 2 0 2-2 2-3 2 3 2 1 2-5 2-1 2 3 2 0 2-1 2-2 2 4 2-2 2-1 2-1 2 3 2-2 2 0 2-1 2 1 2-2 2-5 2-1 2 1 2 2 2-1 2 2 2 0 2 0 2 1 2 1 2 2 2-3 2 2 2-2 2 6 2 1 2-4 2 1 2-3 2-1 2 3 2 4 2-4 2 2 2-3 2 2 2 3 2 6 2-1 2 0 2-6 2 0 2-3 2-2 2-5 2 2 2 3 2 2 2-3 2 2 2-2 2 5 2-1 2-4 2-4 2 2 2 1 2 1 2 1 2 2 2 1 2 2 2 1 2 2 2-1 2-3 2 0 2 1 2-2 2 2 2 1 2 3 2 0 2-4 2 2 2 1 2-3 2 1 2 1 2 3 2-1 2 1 2 1 2-3 2-2 2-1 2 3 2-1 2 2 2 1 2-4 2 1 2-1 2-1 2-3 2 2 2 3 2 4 2 1 2 4 2-1 2-2 2 3 2 0 2 0 2-7 2-2 2 4 2-1 2 0 2 1 2 4 2-1 2 1 2-3 2-2 2-1 2 1 2-1 2-1 2 0 2-2 2-2 2 2 2-4 2 1 2 2 2 1 2 3 2 1 2 0 2 0 2-1 2-1 2 2 2 1 2-4 2 2 2-2 2 1 2 4 2 0 2-1 2-4 2 0 2-1 2-2 2 5 2-2 2-1 2 0 2 2 2-5 2 1 2 0 2 1 2 0 2 1 2-1 2 2 2 2 2-3 2 2 2-4 2 0 2 0 2 0 2 5 2-1 2 0 2-3 2 0 2 0 2 1 2-1 2-1 2 1 2-3 2-2 2 3 2 0 2 6 2 0 2-2 2 1 2 2 2-3 2-3 2 3 2-3 2-2 2 4 2 4 2-2 2 1 2 0 2 3 2 0 2-2 2-1 2-6 2 5 2-1 2 0 2-4 2 2 2 2 2-1 2-2 2 4 2-5 2-1 2 2 2 5 2-2 2 0 2 1 2-3 2 0 2 3 2 0 2 0 2 2 2-3 2 1 2 0 2 4 2 4 2-1 2-2 2-1 2-4 2-3 2 1 2 1 2 1 2-1 2-3 2 2 2 6 2 1 2-1 2 0 2-7 2 0 2 1 2 0 2-5 2-1 2 3 2 5 2 1 2-3 2-1 2-5 2 1 2-3 2 3 2-1 2 0 2-2 2 2 2-2 2-3 2 2 2 4 2 0 2-4 2 3 2-5 2 3 2 2 2 1 2-1 2 4 2-3 2-4 2-2 2 4 2-2 2 0 2 4 2-5 2 1 2-1 2 1 2 0 2 6 2 3 2 0 2-4 2 3 2-1 2-2 2 0 2 1 2 2 2 0 2 5 2-1 2-4 2-1 2-2 2 4 2-1 2 0 2-3 2 0 2 0 2-3 2 3 2 0 2-2 2 4 2 0 2 1 2 1 2-5 2-5 2-2 2 4 2-3 2 2 2 2 2 0 2 2 2-1 2 1 2-5 2 1 2-3 2 2 2 0 2-3 2-2 2-1 2 0 2-5 2-1 2 2 2-4 2 4 2 3 2 4 2-4 2 0 2 3 2 4 2 1 2 2 2 2 2-1 2-1 2 2 2 1 2-4 2 2 2-1 2 1 2 2 2-2 2 1 2 1 2 1 2-1 2-2 2 2 2-2 2 5 2-3 2-3 2 4 2-2 2-2 2 3 2-1 2 0 2 1 2 4 2 0 2-2 2-1 2-3 2 0 2-3 2 3 2-2 2 1 2 2 2-2 2 0 2 1 2-5 2 2 2 2 2 2 2 4 2-2 2-4 2-5 2 3 2 1 2 4 2 1 2-1 2 0 2-1 2-1 2 2 2 0 2 0 2 1 2-1 2 2 2-3 2 6 2 0 2-4 2 0 2 4 2-3 2 2 2 0 2 0 2 5 2 0 2-3 2-2 2-2 2 1 2 3 2-1 2-3 2-3 2-1 2-4 2 3 2-2 2 3 2-1 2 0 2-3 2 0 2 1 2-3 2 0 2-3 2 4 2-1 2 0 2-1 2-1 2-4 2 2 2 0 2 2 2 2 2-1 2 0 2 0 2 3 2 1 2 2 2-4 2 4 2 0 2-1 2 4 2 0 2-1 2-2 2 0 2 1 2 0 2 1 2-1 2 1 2-6 2 2 2-3 2 2 2 1 2-1 2-6 2-1 2-3 2 0 2 3 2-1 2-5 2 2 2-2 2-1 2-3 2 0 2 4 2-1 2-1 2-3 2-4 2-3 2 1 2 5 2 4 2-1 2 0 2-2 2 2 2 2 2-3 2 0 2-3 2-5 2 0 2-2 2-6 2-6 2-3 2-1 2-4 2-3 2-4 2-1 2 1 2 9 2 3 2 5 2 4 2 2 2 5 2 8 2 4 2 2 2 5 2-2 2 4 2-1 2 0 2 1 2 2 2 2 2-4 2 0 2-3 2-3 2-3 2 0 2-4 2-5 2-1 2-1 2 0 2 4 2 2 2 7 2 5 2 3 2 0 2 3 2-5 2 3 2-1 2 1 2 0 2 1 2 3 2-1 2 1 2 2 2 1 2 2 2-6 2-2 2 4 2 4 2-2 2-1 2 2 2-3 2 4 2-6 2 1 2-4 2-6 2 2 2-4 2-3 2-1 2 4 2 0 2 2 2 0 2 3 2 3 2-1 2 4 2-2 2 1 2 1 2 1 2 1 2-3 2 1 2 0 2-1 2 2 2 4 2-7 2-1 2-2 2 2 2-2 2-7 2-2 2 3 2 1 2-2 2 1 2 5 2 1 2 1 2 4 2-3 2 2 2-3 2 2 2 1 2 0 2-6 2-1 2 0 2 2 2 2 2 0 2-3 2-1 2 3 2-1 2-2 2-3 2-2 2-3 2-2 2-2 2-6 2-3 2-8 2-5 2-4 2-4 2-1 2-3 2 3 2 5 2 2 2 7 2 5 2 1 2 8 2 3 2 7 2 6 2 2 2 4 2 2 2 1 2-4 2-1 2 1 2 1 2 3 2 0 2 0 2-3 2-1 2-4 2 2 2 0 2-6 2 2 2-1 2 0 2 0 2-3 2-3 2 2 2-3 2 3 2-1 2 1 2 2 2 2 2 2 2 4 2 1 2 3 2 1 2-2 2 1 2-2 2 3 2 1 2 0 2-2 2-5 2 1 2 2 2-2 2 1 2-6 2 3 2-1 2 0 2 3 2-2 2 1 2-2 2-2 2-3 2-1 2 2 2-7 2-4 2-3 2-7 2-7 2-8 2-7 2-3 2-7 2-8 2-10 2-6 2-9 2 0 2 0 2 5 2 5 2 6 2 6 2 8 2 6 2 7 2 9 2 7 2 9 2 7 2 3 2 3 2 2 2 1 2-2 2 1 2 3 2-1 2 4 2-3 2 3 2-2 2 1 2 0 2-4 2-1 2 1 2 0 2-2 2 0 2-2 2-2 2-3 2 1 2-3 2-1 2-4 2-3 2-1 2 1 2 2 2 4 2 9 2 1 2 0 2 4 2 0 2 3 2 3 2 1 2 1 2 3 2 2 2 0 2 0 2 0 2 0 2-3 2-1 2-4 2-2 2-6 2 0 2-5 2-4 2-9 2-13 2-16 2-19 2-19 2-17 2-20 2-15 2-10 2-6 2-5 2 4 2 9 2 16 2 17 2 20 2 18 2 18 2 10 2 8 2 11 2 10 2 8 2 8 2-1 2 3 2 3 2 1 2-1 2 1 2 6 2 6 2 1 2-4 2 0 2-2 2 2 2 3 2-3 2-1 2 2 2 1 2 3 2-4 2-4 2 3 2 2 2 4 2 1 2 1 2 1 2-2 2-1 2-2 2 1 2-3 2 1 2-1 2 0 2 2 2 3 2-2 2-2 2-1 2-5 2 3 2-2 2 4 2 0 2 2 2 0 2-2 2 0 2 3 2-1 2-2 2 2 2-1 2-2 2-2 2 5 2 4 2 1 2-2 2-4 2 2 2-1 2 0 2-3 2 2 2 2 2-2 2-2 2 3 2 2 2 4 2 2 2 0 2 1 2 0 2-2 2 0 2 3 2-5 2 0 2-5 2 2 2 1 2 2 2 1 2 3 2 1 2-4 2 1 2 0 2 0 2-3 2 1 2-3 2-5 2 0 2-1 2-4 2-3 2-4 2-2 2 7 2 4 2 3 2 1 2 4 2 3 2 3 2 4 2-4 2 3 2 0 2 1 2-4 2-2 2 1 2 5 2 0 2-4 2 1 2-1 2 1 2 1 2 0 2-3 2 1 2-2 2-4 2-2 2 2 2 2 2 2 2 0 2 0 2 0 2-2 2-6 2 0 2 4 2 0 2-3 2 2 2 4 2 0 2 2 2-3L2364 2824l-2 3 -2 0 -2 0 -2-3 -2-2 -2-4 -2-3 -2 0 -2 3 -2 4 -2 2 -2-1 -2 3 -2 0 -2-1 -2-3 -2-3 -2 2 -2 1 -2 5 -2 1 -2 3 -2-3 -2-4 -2 1 -2 1 -2-1 -2 0 -2 0 -2-2 -2 4 -2 4 -2 3 -2 0 -2-3 -2-2 -2 0 -2-5 -2-4 -2 0 -2-1 -2-1 -2-2 -2-5 -2-6 -2 1 -2 3 -2 3 -2 2 -2 0 -2 1 -2 7 -2 2 -2 2 -2-1 -2 0 -2 0 -2-1 -2 2 -2 1 -2-1 -2-3 -2-2 -2 2 -2-1 -2 4 -2-2 -2 4 -2-1 -2-2 -2 2 -2 0 -2-2 -2-2 -2-2 -2 1 -2 1 -2 1 -2-2 -2-2 -2 0 -2-3 -2 2 -2-3 -2-1 -2-3 -2 1 -2 1 -2 4 -2 1 -2-1 -2 0 -2-1 -2-1 -2-2 -2-2 -2 1 -2 2 -2 2 -2 0 -2-1 -2-3 -2-1 -2-2 -2 5 -2-2 -2 4 -2 3 -2 1 -2-1 -2-1 -2 0 -2-1 -2 0 -2-3 -2-2 -2-2 -2 3 -2 1 -2 1 -2 1 -2 1 -2 2 -2-4 -2-1 -2 1 -2 5 -2 2 -2-2 -2-2 -2-2 -2-1 -2 1 -2-3 -2-2 -2 0 -2-1 -2 3 -2 0 -2 0 -2-4 -2-2 -2 1 -2-3 -2-2 -2-1 -2 0 -2-5 -2-5 -2-8 -2-9 -2-9 -2-10 -2-14 -2-9 -2-16 -2-15 -2-13 -2-8 -2-4 -2 4 -2 5 -2 9 -2 13 -2 15 -2 14 -2 13 -2 13 -2 12 -2 9 -2 6 -2 2 -2 0 -2-2 -2 1 -2 1 -2 4 -2 3 -2 2 -2 2 -2 2 -2 1 -2-2 -2 1 -2-1 -2-2 -2-1 -2-1 -2-1 -2 3 -2-2 -2-2 -2-4 -2-7 -2-2 -2-1 -2-3 -2-1 -2 2 -2 5 -2 5 -2 6 -2-1 -2-1 -2 1 -2 4 -2 4 -2-1 -2-2 -2 1 -2 0 -2 2 -2-3 -2 0 -2 2 -2-3 -2 1 -2-1 -2 1 -2 1 -2-2 -2-1 -2 1 -2-2 -2-2 -2-5 -2-6 -2-8 -2-5 -2-5 -2-8 -2-7 -2-9 -2-6 -2-4 -2-5 -2-7 -2-2 -2 0 -2 9 -2 8 -2 8 -2 4 -2 9 -2 3 -2 9 -2 8 -2 5 -2 5 -2 1 -2 1 -2 7 -2 4 -2 4 -2 5 -2-1 -2 2 -2-1 -2 0 -2-6 -2-4 -2-1 -2-2 -2 6 -2 1 -2 2 -2 0 -2 0 -2 0 -2 0 -2 0 -2 2 -2 1 -2 2 -2 0 -2 1 -2 1 -2-3 -2-1 -2-1 -2-2 -2-1 -2-1 -2 0 -2 0 -2-2 -2 0 -2-4 -2 1 -2 0 -2 1 -2 1 -2 4 -2 0 -2 4 -2 0 -2 0 -2 2 -2 1 -2 3 -2 3 -2-2 -2-4 -2-4 -2-1 -2 1 -2 3 -2 3 -2 2 -2-2 -2-2 -2-5 -2-6 -2-4 -2-6 -2-6 -2-10 -2-8 -2-3 -2-1 -2-1 -2 3 -2 1 -2 3 -2 2 -2 6 -2 4 -2 4 -2 6 -2 5 -2 1 -2 2 -2 5 -2 2 -2 4 -2-2 -2-4 -2 1 -2 3 -2 1 -2-1 -2-4 -2-1 -2 1 -2 4 -2 6 -2 1 -2-1 -2 0 -2-1 -2 2 -2-2 -2-1 -2-2 -2-4 -2-1 -2 0 -2 2 -2 0 -2 1 -2 3 -2 0 -2-3 -2 1 -2 4 -2 5 -2-1 -2-5 -2-4 -2-2 -2 1 -2 3 -2 0 -2 1 -2-2 -2-1 -2 1 -2 1 -2 1 -2-2 -2-4 -2-3 -2-3 -2 0 -2-1 -2 3 -2 2 -2 2 -2-3 -2 3 -2 4 -2 4 -2 4 -2-2 -2 0 -2 0 -2-1 -2 0 -2-2 -2-3 -2 1 -2 4 -2 4 -2-1 -2-2 -2-2 -2-2 -2-2 -2 1 -2 0 -2-1 -2 1 -2-1 -2 6 -2-3 -2 1 -2-1 -2-7 -2-6 -2-4 -2-5 -2-3 -2 2 -2 1 -2 5 -2 6 -2 1 -2 1 -2 2 -2 2 -2 0 -2 4 -2-3 -2-3 -2-3 -2 1 -2 1 -2 0 -2 0 -2 0 -2 0 -2-7 -2-8 -2-8 -2-2 -2-5 -2-4 -2-4 -2-5 -2-1 -2 0 -2 2 -2 1 -2 2 -2 2 -2 6 -2 5 -2 3 -2 4 -2 1 -2 2 -2 0 -2 0 -2-1 -2-2 -2-1 -2 1 -2 3 -2 4 -2-1 -2-1 -2-1 -2 0 -2 3 -2 4 -2 1 -2 0 -2-3 -2 1 -2 0 -2-1 -2 1 -2-2 -2 1 -2 1 -2-3 -2 2 -2 5 -2 5 -2 6 -2 2 -2 0 -2-4 -2-2 -2-1 -2 6 -2 2 -2 1 -2 1 -2 0 -2-1 -2-2 -2 1 -2 0 -2 1 -2-2 -2 1 -2 3 -2-3 -2 1 -2 1 -2-1 -2 0 -2 1 -2-3 -2-1 -2-2 -2-2 -2-1 -2-2 -2 2 -2 3 -2 2 -2 0 -2 1 -2-6 -2 1 -2 0 -2 3 -2 0 -2 2 -2 3 -2-1 -2 0 -2-3 -2 1 -2-1 -2 4 -2 1 -2 1 -2 1 -2 3 -2 0 -2-2 -2 0 -2 2 -2 3 -2 1 -2-3 -2-1 -2 0 -2 0 -2 1 -2-4 -2 0 -2 2 -2 1 -2-4 -2 2 -2 0 -2 0 -2 0 -2 1 -2 2 -2-1 -2 0 -2-2 -2 0 -2-1 -2-3 -2-2 -2 0 -2-4 -2 2 -2 0 -2 1 -2 0 -2 2 -2-2 -2-1 -2 2 -2-2 -2 1 -2-1 -2-1 -2-3 -2 1 -2 3 -2 4 -2-1 -2 2 -2 2 -2 1 -2 0 -2-5 -2-2 -2 1 -2 2 -2 1 -2 2 -2 1 -2-4 -2-1 -2 1 -2-1 -2 1 -2 2 -2 0 -2-2 -2 0 -2 2 -2 1 -2 3 -2 0 -2-2 -2-1 -2-3 -2 2 -2-2 -2 0 -2 1 -2-1 -2-2 -2-1 -2 0 -2-4 -2-1 -2 0 -2 1 -2-3 -2-5 -2-3 -2 1 -2 0 -2 4 -2 5 -2 4 -2 2 -2-1 -2 1 -2-3 -2 0 -2 2 -2-1 -2 4 -2 1 -2 2 -2-4 -2-2 -2-5 -2-2 -2 1 -2-2 -2 2 -2 4 -2 4 -2 3 -2 2 -2 0 -2-2 -2-1 -2 3 -2 0 -2 2 -2-3 -2-1 -2-1 -2 2 -2 1 -2-1 -2 1 -2 1 -2 3 -2-1 -2-7 -2 0 -2-3 -2 1 -2 4 -2 2 -2 2 -2 0 -2 5 -2 2 -2-5 -2-6 -2-4 -2-1 -2 2 -2 1 -2 3 -2-5 -2-2 -2 1 -2-2 -2 3 -2 3 -2 2 -2-2 -2-1 -2 0 -2 0 -2-1 -2 0 -2-2 -2-1 -2 1 -2-1 -2 3 -2 2 -2 0 -2-2 -2 1 -2-3 -2 0 -2 0 -2 1 -2 1 -2 5 -2 0 -2 2 -2 1 -2 1 -2-2 -2 1 -2 2 -2-1 -2-1 -2-1 -2 1 -2 0 -2 2 -2-2 -2-4 -2-3 -2 1 -2 3 -2-1 -2 1 -2 4 -2 3 -2 3 -2 0 -2 0 -2-1 -2-5 -2-2 -2 1 -2 0 -2 1 -2-1 -2 2 -2 0 -2 2 -2-2 -2 1 -2-1 -2-4 -2 0 -2-3 -2-3 -2 0 -2 3 -2-2 -2 3 -2 1 -2-1 -2-1 -2 5 -2-1 -2 0 -2-3 -2 1 -2 1 -2 1 -2 2 -2-2 -2 0 -2 0 -2 0 -2 0 -2-1 -2 2 -2 5 -2-3 -2 0 -2 2 -2-2 -2-2 -2 1 -2-2 -2-5 -2 1 -2 0 -2 3 -2-2 -2-5 -2-1 -2-1 -2-1 -2 3 -2 1 -2 3 -2 3 -2 3 -2 2 -2-1 -2 0 -2-1 -2 3 -2-5 -2-1 -2-2 -2 4 -2 2 -2 1 -2-2 -2 0 -2-3 -2-1 -2 1 -2 1 -2 0 -2 0 -2-2 -2-4 -2 3 -2 3 -2 3 -2 4 -2 2 -2 1 -2-1 -2-2 -2 1 -2-1 -2 0 -2-1 -2-1 -2 2 -2 2 -2 2 -2 0 -2-5 -2-5 -2-1 -2 0 -2 0 -2-1 -2-3 -2 0 -2-1 -2-1 -2 2 -2 1 -2-1 -2 3 -2 3 -2 5 -2 3 -2 1 -2-1 -2-1 -2 0 -2 5 -2-2 -2-4 -2 1 -2 0 -2-2 -2-4 -2 1 -2 1 -2 1 -2 1 -2-1 -2-3 -2-3 -2 1 -2-1 -2 0 -2-2 -2 1 -2 2 -2 2 -2 2 -2 0 -2 2 -2 0 -2 3 -2-3 -2-1 -2-3 -2-2 -2 0 -2-1 -2 1 -2 1 -2 2 -2 2 -2-1 -2-4 -2-3 -2-2 -2 2 -2 4 -2 1 -2 3 -2 0 -2-2 -2-3 -2-5 -2-2 -2 0 -2-1 -2-2 -2 0 -2-2 -2 2 -2 2 -2-2 -2-6 -2 0 -2-1 -2 6 -2 4 -2 1 -2-3 -2 2 -2 3 -2 6 -2 4 -2 4 -2-3 -2-2 -2-6 -2 0 -2 0 -2 4 -2 0 -2 2 -2-2 -2-1 -2-2 -2 0 -2-1 -2 1 -2-2 -2-3 -2-1 -2-1 -2 2 -2 0 -2 1 -2-1 -2 0 -2 1 -2-3 -2-1 -2-5 -2 1 -2 2 -2 7 -2 1 -2 1 -2-1 -2-1 -2-2 -2-1 -2 3 -2-1 -2 1 -2-3 -2 1 -2 3 -2 6 -2 0 -2 3 -2 3 -2 0 -2-3 -2 0 -2 0 -2-3 -2-1 -2-1 -2-6 -2-1 -2-2 -2 4 -2 2 -2-2 -2-2 -2 0 -2 2 -2 3 -2-2 -2-4 -2 1 -2 1 -2 5 -2-1 -2 0 -2 0 -2 0 -2 0 -2 1 -2-1 -2-2 -2-2 -2-1 -2-2 -2-2 -2 1 -2 1 -2-1 -2-1 -2-3 -2 1 -2 0 -2 0 -2-2 -2 1 -2-1 -2 2 -2 0 -2 2 -2 1 -2-3 -2 2 -2 1 -2-1 -2 0 -2 2 -2 3 -2-1 -2 1 -2 0 -2-1 -2-2 -2-2 -2 3 -2 2 -2-1 -2 1 -2 0 -2-3 -2 2 -2-2 -2 3 -2 3 -2 3 -2-4 -2-4 -2 1 -2-2 -2 2 -2-5 -2 0 -2 3 -2 0 -2-1 -2 1 -2 1 -2 1 -2 1 -2 4 -2 1 -2-1 -2 1 -2 1 -2 1 -2 0 -2-3 -2-1 -2 0 -2 1 -2-3 -2 1 -2 1 -2-2 -2 0 -2-1 -2-1 -2-2 -2-2 -2 0 -2 0 -2-1 -2 3 -2 0 -2-2 -2-5 -2-5 -2-6z" fill="url(#pat1u)"/>
<path d="M174 2798l2 6 2 5 2 5 2 2 2 0 2-3 2 1 2 0 2 0 2 2 2 2 2 1 2 1 2 0 2 2 2-1 2-1 2 3 2-1 2 0 2 1 2 3 2 0 2-1 2-1 2-1 2 1 2-1 2-4 2-1 2-1 2-1 2-1 2 1 2 0 2-3 2 0 2 5 2-2 2 2 2-1 2 4 2 4 2-3 2-3 2-3 2 2 2-2 2 3 2 0 2-1 2 1 2-2 2-3 2 2 2 2 2 1 2 0 2-1 2 1 2-3 2-2 2 0 2 1 2-1 2-2 2 3 2-1 2-2 2 0 2-2 2 1 2-1 2 2 2 0 2 0 2-1 2 3 2 1 2 1 2-1 2-1 2 2 2 2 2 1 2 2 2 2 2 1 2-1 2 0 2 0 2 0 2 0 2 1 2-5 2-1 2-1 2 4 2 2 2-3 2-2 2 0 2 2 2 2 2-2 2-4 2 2 2 1 2 6 2 1 2 1 2 3 2 0 2 0 2 3 2 0 2-3 2-3 2 0 2-6 2-3 2-1 2 3 2-1 2 1 2-3 2 1 2 2 2 1 2 1 2-1 2-1 2-7 2-2 2-1 2 5 2 1 2 3 2-1 2 0 2 1 2-1 2 0 2-2 2 1 2 1 2 3 2 2 2-1 2 1 2 0 2 2 2 1 2 2 2-2 2 0 2-4 2 0 2 0 2 6 2 2 2 3 2-4 2-4 2-6 2-3 2-2 2 3 2-1 2-4 2-6 2 1 2 0 2 6 2 2 2-2 2-2 2 2 2 0 2 2 2 1 2 0 2 2 2 5 2 3 2 2 2 0 2-3 2-1 2-4 2-2 2 2 2 3 2 4 2 1 2-2 2-2 2-1 2-1 2 1 2 0 2 2 2 3 2 1 2 3 2-3 2 0 2-2 2 0 2-2 2-2 2-2 2-1 2 2 2 0 2 1 2-1 2 3 2 3 2 1 2-1 2-1 2-1 2-1 2 4 2 2 2 0 2-1 2 4 2 2 2-5 2 0 2 1 2 1 2-1 2-3 2-5 2-3 2-3 2 1 2-1 2-2 2 1 2 1 2 0 2 3 2 1 2 0 2 0 2 1 2 5 2 5 2 0 2-2 2-2 2-2 2 1 2 1 2 0 2 1 2-1 2 2 2 1 2-1 2-2 2-4 2-3 2-3 2-3 2 4 2 2 2 0 2 0 2-1 2-1 2 1 2 3 2 0 2 2 2-1 2-2 2-4 2 2 2 1 2 5 2-3 2 1 2 0 2 1 2-2 2-3 2-3 2-3 2-1 2-3 2 1 2 1 2 1 2 5 2 2 2-3 2 0 2-1 2 5 2 2 2-1 2 2 2 2 2-2 2 0 2 3 2-5 2-2 2 1 2 0 2 0 2 0 2 0 2 2 2-2 2-1 2-1 2-1 2 3 2 0 2 1 2-5 2 1 2 1 2-1 2-3 2 2 2-3 2 0 2 3 2 3 2 0 2 4 2 1 2-1 2 2 2-2 2 0 2-2 2 1 2-1 2 0 2-1 2 2 2 5 2 1 2 0 2 0 2-3 2-3 2-4 2-1 2 1 2-3 2-1 2 3 2 4 2 2 2-2 2 0 2-1 2 1 2 1 2 1 2-2 2-1 2 2 2-1 2-1 2-2 2 0 2-5 2-1 2-1 2 0 2 0 2 3 2-1 2 2 2 0 2-2 2-3 2 1 2-1 2 1 2 2 2 0 2 1 2 0 2 0 2 1 2 2 2-2 2-3 2-3 2 2 2-1 2 2 2 5 2-3 2-1 2-2 2 1 2 4 2 6 2 5 2-2 2-5 2 0 2-2 2-2 2-4 2-1 2 3 2 0 2 7 2 1 2-3 2-1 2-1 2 1 2-1 2-2 2 1 2 1 2 3 2-2 2 0 2-3 2 1 2 2 2 0 2-2 2-3 2-4 2-4 2-2 2 2 2-1 2 2 2 5 2 2 2 4 2-2 2-1 2-4 2 1 2-2 2 0 2 3 2-1 2 1 2-2 2-4 2-5 2-4 2 0 2-1 2 3 2 5 2 3 2-1 2 0 2 1 2 4 2 0 2 1 2 2 2 1 2-1 2 0 2 2 2-2 2 3 2 1 2 2 2 0 2-3 2-1 2-2 2 0 2 2 2 0 2-2 2-1 2 1 2-1 2 1 2 4 2-1 2-2 2-1 2-2 2-1 2 2 2 5 2 0 2-1 2-2 2-2 2 1 2-4 2-3 2-1 2 3 2 1 2 1 2-1 2 2 2-2 2 1 2 2 2-2 2 0 2-1 2 0 2-2 2 4 2 0 2 2 2 3 2 1 2 0 2 2 2 0 2 1 2-2 2-1 2 0 2 0 2 0 2-2 2 4 2-1 2-2 2 0 2 4 2-1 2 0 2 0 2 1 2 3 2-1 2-3 2-2 2 0 2 2 2 0 2-3 2-1 2-1 2-1 2-4 2 1 2-1 2 3 2 0 2 1 2-3 2-2 2 0 2-3 2 0 2-1 2 6 2-1 2 0 2-2 2-3 2-2 2 2 2 1 2 2 2 2 2 1 2 3 2-1 2 0 2 1 2-1 2-1 2 3 2-3 2-1 2 2 2-1 2 0 2-1 2 2 2 1 2 0 2-1 2-1 2-2 2-6 2 1 2 2 2 4 2 0 2-2 2-6 2-5 2-5 2-2 2 3 2-1 2-1 2 2 2-1 2 1 2 0 2-1 2 3 2 0 2-1 2-4 2-3 2 0 2 1 2 1 2 1 2-4 2-3 2-1 2 1 2 2 2 1 2 0 2 0 2-2 2-1 2-4 2-3 2-5 2-6 2-2 2-2 2-1 2-2 2 0 2 1 2 5 2 4 2 4 2 5 2 2 2 8 2 8 2 7 2 0 2 0 2 0 2 0 2-1 2-1 2 3 2 3 2 3 2-4 2 0 2-2 2-2 2-1 2-1 2-6 2-5 2-1 2-2 2 3 2 5 2 4 2 6 2 7 2 1 2-1 2 3 2-6 2 1 2-1 2 1 2 0 2-1 2 2 2 2 2 2 2 2 2 1 2-4 2-4 2-1 2 3 2 2 2 0 2 1 2 0 2 0 2 2 2-4 2-4 2-4 2-3 2 3 2-2 2-2 2-3 2 1 2 0 2 3 2 3 2 4 2 2 2-1 2-1 2-1 2 1 2 2 2-1 2 0 2-3 2-1 2 2 2 4 2 5 2 1 2-5 2-4 2-1 2 3 2 0 2-3 2-1 2 0 2-2 2 0 2 1 2 4 2 2 2 1 2 2 2-2 2 1 2 0 2 1 2-1 2-6 2-4 2-1 2 1 2 4 2 1 2-1 2-3 2-1 2 4 2 2 2-4 2-2 2-5 2-2 2-1 2-5 2-6 2-4 2-4 2-6 2-2 2-3 2-1 2-3 2 1 2 1 2 3 2 8 2 10 2 6 2 6 2 4 2 6 2 5 2 2 2 2 2-2 2-3 2-3 2-1 2 1 2 4 2 4 2 2 2-3 2-3 2-1 2-2 2 0 2 0 2-4 2 0 2-4 2-1 2-1 2 0 2-1 2 4 2 0 2 2 2 0 2 0 2 1 2 1 2 2 2 1 2 1 2 3 2-1 2-1 2 0 2-2 2-1 2-2 2 0 2 0 2 0 2 0 2 0 2-2 2-1 2-6 2 2 2 1 2 4 2 6 2 0 2 1 2-2 2 1 2-5 2-4 2-4 2-7 2-1 2-1 2-5 2-5 2-8 2-9 2-3 2-9 2-4 2-8 2-8 2-9 2 0 2 2 2 7 2 5 2 4 2 6 2 9 2 7 2 8 2 5 2 5 2 8 2 6 2 5 2 2 2 2 2-1 2 1 2 2 2-1 2-1 2 1 2-1 2 3 2-2 2 0 2 3 2-2 2 0 2-1 2 2 2 1 2-4 2-4 2-1 2 1 2 1 2-6 2-5 2-5 2-2 2 1 2 3 2 1 2 2 2 7 2 4 2 2 2 2 2-3 2 1 2 1 2 1 2 2 2 1 2-1 2 2 2-1 2-2 2-2 2-2 2-3 2-4 2-1 2-1 2 2 2 0 2-2 2-6 2-9 2-12 2-13 2-13 2-14 2-15 2-13 2-9 2-5 2-4 2 4 2 8 2 13 2 15 2 16 2 9 2 14 2 10 2 9 2 9 2 8 2 5 2 5 2 0 2 1 2 2 2 3 2-1 2 2 2 4 2 0 2 0 2-3 2 1 2 0 2 2 2 3 2-1 2 1 2 2 2 2 2 2 2-2 2-5 2-1 2 1 2 4 2-2 2-1 2-1 2-1 2-1 2-3 2 2 2 2 2 3 2 0 2 1 2 0 2 1 2 1 2-1 2-3 2-4 2 2 2-5 2 2 2 1 2 3 2 1 2 0 2-2 2-2 2-1 2 2 2 2 2 1 2 1 2 0 2 1 2-1 2-4 2-1 2-1 2 3 2 1 2 3 2-2 2 3 2 0 2 2 2 2 2-1 2-1 2-1 2 2 2 2 2 2 2 0 2-2 2 2 2 1 2-4 2 2 2-4 2 1 2-2 2 2 2 3 2 1 2-1 2-2 2 1 2 0 2 0 2 1 2-2 2-2 2-7 2-1 2 0 2-2 2-3 2-3 2-1 2 6 2 5 2 2 2 1 2 1 2 0 2 4 2 5 2 0 2 2 2 3 2 0 2-3 2-4 2-4 2 2 2 0 2 0 2 1 2-1 2-1 2 4 2 3 2-3 2-1 2-5 2-1 2-2 2 3 2 3 2 1 2 0 2-3 2 1 2-2 2-4 2-3 2 0 2 3 2 4 2 2 2 3 2 0 2 0 2-3L2364 2847l-2 2 -2 0 -2-1 -2-1 -2 1 -2-4 -2-3 -2 4 -2 2 -2 0 -2 2 -2-4 -2 3 -2-1 -2 4 -2-2 -2 0 -2 4 -2-3 -2 4 -2 0 -2 1 -2-4 -2-2 -2 5 -2 0 -2 0 -2 0 -2 3 -2 0 -2 3 -2-1 -2-3 -2 3 -2-3 -2 1 -2-3 -2-3 -2-1 -2 2 -2-2 -2-7 -2-1 -2-4 -2-2 -2 0 -2 3 -2 3 -2 1 -2-3 -2 1 -2 6 -2 0 -2 4 -2-3 -2 2 -2 2 -2-1 -2-1 -2 5 -2 2 -2-4 -2-4 -2 1 -2 0 -2 2 -2-1 -2 3 -2-1 -2-3 -2 1 -2 1 -2-1 -2-4 -2-2 -2 1 -2-1 -2 2 -2-2 -2-2 -2 1 -2-3 -2 5 -2-1 -2 1 -2-2 -2-1 -2-1 -2 3 -2 0 -2 1 -2 1 -2-2 -2-3 -2-2 -2-7 -2 2 -2 3 -2 3 -2-1 -2 0 -2-3 -2 1 -2 0 -2 6 -2-5 -2 1 -2 5 -2 3 -2 0 -2 1 -2-1 -2-2 -2 2 -2-1 -2-2 -2 0 -2 6 -2-1 -2-2 -2-4 -2 0 -2 2 -2-2 -2 0 -2 1 -2 1 -2-2 -2 1 -2-2 -2 0 -2-5 -2 2 -2 0 -2 1 -2 3 -2-1 -2-1 -2-3 -2 2 -2-5 -2 0 -2 0 -2-1 -2-1 -2 0 -2-1 -2-5 -2-2 -2-5 -2-3 -2-6 -2-9 -2-10 -2-2 -2-11 -2-13 -2-12 -2-9 -2-4 -2 6 -2 6 -2 6 -2 9 -2 11 -2 10 -2 8 -2 6 -2 7 -2 3 -2 3 -2 5 -2 0 -2 1 -2-2 -2 0 -2-1 -2 4 -2-1 -2 4 -2 4 -2-1 -2-3 -2 1 -2-2 -2-3 -2 0 -2 3 -2-1 -2 2 -2 0 -2-2 -2-2 -2-4 -2 1 -2-1 -2-5 -2-2 -2-1 -2 5 -2 5 -2 6 -2 1 -2-2 -2 0 -2 0 -2 5 -2-3 -2-3 -2 5 -2-1 -2 4 -2-3 -2 2 -2 2 -2-2 -2 0 -2 0 -2-1 -2 1 -2-5 -2-4 -2 3 -2-1 -2-3 -2-4 -2-3 -2-7 -2-4 -2-3 -2-9 -2-7 -2-8 -2-5 -2-4 -2-5 -2-7 -2 1 -2 2 -2 5 -2 7 -2 8 -2 4 -2 10 -2 2 -2 9 -2 6 -2 3 -2 5 -2 3 -2 2 -2 5 -2 6 -2 1 -2 1 -2-6 -2 1 -2-2 -2 2 -2-5 -2-2 -2 0 -2-1 -2 3 -2-1 -2-1 -2 3 -2 3 -2-1 -2 2 -2 2 -2 4 -2 0 -2 2 -2 0 -2 0 -2 0 -2-3 -2 0 -2 1 -2-4 -2 0 -2-1 -2-1 -2 1 -2-1 -2-2 -2-3 -2 4 -2 1 -2-1 -2-1 -2 3 -2 0 -2 0 -2-1 -2 1 -2 1 -2 2 -2 1 -2 3 -2-5 -2-2 -2 0 -2 5 -2 0 -2-1 -2 0 -2-1 -2 0 -2 1 -2-1 -2-6 -2-6 -2-4 -2-6 -2-11 -2-3 -2-6 -2-3 -2-3 -2 1 -2 3 -2 7 -2 3 -2 8 -2 0 -2 5 -2 5 -2 7 -2 1 -2 1 -2 3 -2-2 -2 3 -2 1 -2-1 -2 5 -2 1 -2 0 -2-2 -2-5 -2 0 -2 2 -2-2 -2 3 -2-2 -2 3 -2 1 -2 1 -2 2 -2 3 -2 0 -2-2 -2-4 -2 0 -2-3 -2 3 -2 0 -2 0 -2 1 -2 0 -2-2 -2-1 -2 4 -2 1 -2 2 -2-4 -2-3 -2 1 -2 1 -2 2 -2 1 -2 1 -2 0 -2-2 -2-2 -2 2 -2 1 -2-1 -2-2 -2-2 -2-3 -2 0 -2 1 -2 4 -2 1 -2 0 -2-2 -2 0 -2 1 -2 4 -2-1 -2 0 -2 1 -2 3 -2-4 -2-1 -2 2 -2 0 -2-1 -2 0 -2 6 -2-1 -2-1 -2-3 -2-3 -2-1 -2 3 -2-2 -2 1 -2 1 -2-2 -2 4 -2-5 -2 0 -2 0 -2-6 -2 1 -2-2 -2-1 -2-3 -2 1 -2-1 -2 0 -2 5 -2 1 -2 0 -2 2 -2-1 -2-3 -2 5 -2-2 -2 0 -2-1 -2 1 -2 0 -2-1 -2-4 -2 0 -2-2 -2-8 -2-2 -2-5 -2-5 -2-9 -2-9 -2-4 -2 0 -2 0 -2-1 -2 2 -2 4 -2 2 -2 2 -2 9 -2 3 -2 1 -2 4 -2 2 -2 1 -2-3 -2 2 -2-3 -2 3 -2 4 -2-3 -2 0 -2-1 -2-2 -2 1 -2 0 -2-4 -2 4 -2 5 -2 2 -2-1 -2-3 -2 1 -2-2 -2 0 -2 4 -2 4 -2 2 -2 3 -2-2 -2 2 -2 3 -2 2 -2 0 -2 1 -2 4 -2-1 -2 0 -2 2 -2 4 -2 1 -2-4 -2 1 -2 3 -2 0 -2-4 -2 0 -2 0 -2 1 -2-2 -2 0 -2 4 -2-2 -2 0 -2 3 -2-4 -2 1 -2-1 -2-5 -2-2 -2 1 -2 1 -2 0 -2-1 -2 0 -2 3 -2 0 -2-1 -2 2 -2-2 -2 2 -2 0 -2 0 -2-2 -2 4 -2 3 -2-1 -2 3 -2-2 -2 1 -2-1 -2 3 -2 0 -2-3 -2-2 -2 1 -2 3 -2 1 -2 3 -2 2 -2 2 -2-1 -2-2 -2-3 -2-4 -2 3 -2 0 -2 1 -2 0 -2 0 -2 2 -2-3 -2-1 -2 1 -2-1 -2-1 -2 0 -2 2 -2-2 -2 1 -2-3 -2 1 -2-3 -2 0 -2 4 -2 2 -2-2 -2-1 -2-2 -2 0 -2 6 -2 1 -2-6 -2 1 -2 2 -2-2 -2-1 -2-4 -2 2 -2-3 -2 0 -2 6 -2 3 -2-1 -2-1 -2 1 -2-3 -2 1 -2-2 -2 1 -2 4 -2 1 -2 0 -2-2 -2 0 -2 0 -2-1 -2 0 -2 0 -2-1 -2 4 -2-1 -2-2 -2-1 -2 2 -2 0 -2 0 -2 1 -2 0 -2-1 -2-1 -2 2 -2-2 -2 2 -2 3 -2-3 -2-1 -2-1 -2 2 -2-2 -2-2 -2-2 -2-1 -2-3 -2-2 -2 0 -2-1 -2 1 -2 0 -2-1 -2 3 -2 1 -2-2 -2 2 -2-3 -2 3 -2 2 -2 1 -2 0 -2 2 -2 3 -2-2 -2 1 -2-5 -2-2 -2 0 -2 2 -2 2 -2 2 -2 0 -2 2 -2 0 -2-1 -2 1 -2-3 -2 3 -2 2 -2-2 -2-5 -2 1 -2-2 -2 5 -2 0 -2 1 -2 3 -2 2 -2 2 -2-5 -2-4 -2 2 -2-3 -2 1 -2 4 -2 1 -2-1 -2-1 -2 2 -2 3 -2-3 -2-1 -2-4 -2-1 -2 1 -2 1 -2 0 -2-4 -2 0 -2 0 -2 1 -2 2 -2-1 -2 1 -2 0 -2-3 -2-2 -2 1 -2-1 -2 0 -2 2 -2-3 -2 3 -2 0 -2 5 -2 0 -2-3 -2-1 -2 2 -2-2 -2 1 -2 4 -2-2 -2 1 -2 4 -2-2 -2-1 -2-1 -2 4 -2-2 -2 0 -2 1 -2 0 -2 1 -2 1 -2-2 -2 2 -2 2 -2-1 -2 0 -2-5 -2 0 -2 2 -2 0 -2 1 -2 5 -2 1 -2 2 -2-2 -2-2 -2-2 -2-5 -2 0 -2 4 -2 1 -2 1 -2 0 -2 0 -2-4 -2 3 -2-2 -2 4 -2 3 -2-3 -2-2 -2 1 -2-3 -2 1 -2 0 -2-1 -2 1 -2-3 -2 1 -2-2 -2 3 -2-4 -2 0 -2 4 -2 2 -2 4 -2 0 -2 0 -2-3 -2-2 -2-2 -2-2 -2 2 -2 0 -2 0 -2 6 -2-2 -2 1 -2 0 -2-2 -2-1 -2 2 -2-2 -2-1 -2 1 -2 0 -2-1 -2-6 -2-1 -2 3 -2 3 -2-1 -2 5 -2 1 -2-5 -2-1 -2 0 -2 5 -2-2 -2 0 -2-3 -2 3 -2-2 -2 1 -2-1 -2 7 -2-1 -2-1 -2-1 -2 2 -2-2 -2 1 -2-2 -2 2 -2-3 -2 1 -2-2 -2 0 -2 3 -2 0 -2 1 -2-2 -2-2 -2 1 -2 1 -2-1 -2 1 -2-2 -2-2 -2 2 -2 3 -2 4 -2-1 -2-1 -2 2 -2-3 -2-4 -2 0 -2 1 -2 4 -2-1 -2 0 -2-1 -2-2 -2-3 -2 4 -2 1 -2-1 -2 2 -2 3 -2 0 -2 0 -2-4 -2-1 -2 1 -2 0 -2 7 -2 0 -2-5 -2 1 -2 3 -2 0 -2-2 -2-1 -2-1 -2 1 -2-1 -2 0 -2-1 -2-4 -2 1 -2-3 -2 0 -2-2 -2 0 -2 4 -2 4 -2-1 -2-1 -2-1 -2 0 -2 5 -2-2 -2 0 -2-3 -2 2 -2 0 -2 2 -2-1 -2 0 -2-2 -2-3 -2 1 -2 0 -2-2 -2-3 -2-1 -2 3 -2 0 -2 2 -2 2 -2 1 -2-2 -2-6 -2 2 -2 2 -2 1 -2-1 -2-2 -2-3 -2 0 -2 3 -2 0 -2 0 -2 3 -2-4 -2-1 -2 3 -2 5 -2-1 -2-2 -2 1 -2 2 -2 4 -2 2 -2 0 -2-1 -2-5 -2-1 -2-2 -2 2 -2 2 -2 0 -2-1 -2-1 -2-6 -2-2 -2 3 -2 4 -2 0 -2 1 -2-2 -2-2 -2-1 -2-2 -2 1 -2-2 -2-2 -2 2 -2-2 -2 1 -2-5 -2 4 -2 1 -2 8 -2-1 -2 3 -2 0 -2-1 -2-6 -2-1 -2 4 -2 1 -2 2 -2 0 -2-2 -2 0 -2 2 -2-1 -2 3 -2 2 -2 0 -2-3 -2-2 -2 0 -2-1 -2 4 -2 0 -2-5 -2 1 -2-3 -2 3 -2 0 -2-2 -2 0 -2 0 -2 1 -2 1 -2 1 -2-2 -2 3 -2-2 -2 2 -2 0 -2-1 -2 2 -2-1 -2-1 -2 3 -2 1 -2-5 -2 0 -2-1 -2-2 -2-4 -2 0 -2 1 -2-1 -2 1 -2 0 -2 2 -2-3 -2 0 -2-3 -2 4 -2 0 -2-3 -2 1 -2 3 -2 2 -2 0 -2 6 -2 1 -2-1 -2-3 -2 1 -2 0 -2-2 -2 3 -2 0 -2 0 -2 0 -2-2 -2 3 -2 2 -2-3 -2 2 -2-2 -2-1 -2 2 -2-1 -2 1 -2 0 -2 0 -2-4 -2 0 -2-1 -2-2 -2 2 -2-3 -2 3 -2 6 -2 1 -2-1 -2 2 -2-3 -2-2 -2 0 -2 2 -2 3 -2-2 -2-1 -2 2 -2 2 -2-1 -2-1 -2-2 -2 2 -2-1 -2-3 -2 1 -2 1 -2 0 -2 3 -2-2 -2 1 -2-1 -2-4 -2 2 -2-3 -2-4 -2 0 -2-4 -2 0 -2-2 -2-2 -2-1z" fill="url(#pat1l)"/>
<path d="M1444 2761l2 1 2-4 2-8 2-3 2-4 2-7 2-7 2-12 2-9 2-4 2 6 2 11 2 10 2 11 2 7 2 3 2 8 2 9 2 3 2 3 2 5L1486 2780l-2-5 -2-2 -2-4 -2-8 -2-5 -2-2 -2-4 -2-5 -2-3 -2-9 -2-1 -2 1 -2 4 -2 3 -2 4 -2 1 -2 3 -2 6 -2 6 -2 2 -2 0z" fill="url(#pat1s)"/>
<path d="M1698 2775l2-1 2-4 2-2 2-2 2-10 2 0 2-16 2-9 2-6 2-7 2-7 2-3 2 4 2 9 2 9 2 10 2 11 2 3 2 10 2 2 2 7 2 7 2 2L1744 2782l-2-2 -2-6 -2-7 -2-3 -2-8 -2-1 -2-5 -2-7 -2-2 -2-5 -2-3 -2 3 -2 1 -2 4 -2 4 -2 5 -2 8 -2 3 -2 6 -2 2 -2 2 -2 3 -2 2z" fill="url(#pat1s)"/>
<path d="M1860 2777l2-7 2-6 2-1 2-7 2-8 2-10 2-7 2-8 2-6 2-15 2-15 2-7 2-15 2 0 2 3 2 7 2 5 2 14 2 11 2 10 2 9 2 9 2 6 2 8 2 12 2 7 2 3 2 3 2 2L1918 2774l-2-2 -2-3 -2-3 -2-7 -2-9 -2-7 -2-9 -2-7 -2-6 -2-8 -2-6 -2-6 -2-5 -2-5 -2 0 -2 0 -2 9 -2 6 -2 10 -2 8 -2 7 -2 3 -2 7 -2 8 -2 7 -2 7 -2 3 -2 4 -2 7z" fill="url(#pat1s)"/>
<path d="M2022 2762l2-9 2-11 2-16 2-22 2-23 2-30 2-27 2-30 2-22 2-15 2-7 2 9 2 20 2 32 2 26 2 31 2 23 2 23 2 10 2 10 2 10 2 12L2066 2756l-2-10 -2-11 -2-8 -2-10 -2-18 -2-18 -2-20 -2-17 -2-16 -2-9 -2-4 -2 5 -2 6 -2 10 -2 15 -2 20 -2 17 -2 19 -2 19 -2 16 -2 13 -2 9z" fill="url(#pat1s)"/>
<g fill="none" stroke="#0000ff" stroke-width="1.6" stroke-dasharray="2 3"><path d="M174 2830l2 6 2-18 2 24 2-59 2 34 2-4 2-1 2 34 2-11 2-42 2 21 2-6 2 46 2-11 2-9 2-18 2-24 2 5 2 0 2 3 2 17 2-16 2 5 2-3 2 26 2 10 2-40 2 7 2-6 2-9 2 10 2 18 2 29 2-35 2-12 2 45 2-12 2-2 2-15 2 25 2-52 2 45 2-26 2 31 2 2 2-38 2-7 2 49 2-4 2-2 2-39 2 32 2-44 2 33 2-27 2 40 2 15 2-5 2-32 2-9 2 28 2 9 2-14 2-25 2 41 2-30 2-13 2-4 2 1 2 1 2-4 2-10 2 58 2 1 2-10 2-29 2-10 2 44 2-12 2 3 2 1 2-33 2 47 2-45 2 28 2-26 2 10 2 0 2 28 2-8 2-15 2 6 2-32 2 18 2-3 2-13 2 55 2-55 2 52 2-35 2-12 2 7 2 13 2-10 2 23 2 4 2-27 2 17 2-12 2-9 2 8 2-6 2 35 2-38 2 25 2 13 2 11 2-26 2 7 2-21 2 16 2 21 2-1 2-23 2 15 2-38 2 23 2-10 2-5 2 35 2-55 2 5 2 36 2 16 2-48 2 10 2-10 2 45 2-7 2-38 2 47 2-1 2-7 2 0 2-47 2 54 2-12 2 6 2-42 2 21 2-11 2 5 2 32 2-18 2 27 2-16 2-13 2 24 2-53 2 19 2 1 2 42 2-41 2-25 2 1 2 27 2-3 2 15 2 8 2-50 2 19 2-12 2 52 2-49 2 34 2-34 2 10 2 34 2-22 2 25 2-1 2-43 2 39 2-3 2-10 2-36 2 3 2 50 2-18 2-16 2 17 2 24 2-27 2 6 2 19 2-26 2 11 2 17 2-32 2 16 2-12 2-27 2 44 2 12 2-22 2-20 2-14 2 5 2 18 2-25 2 50 2-48 2 47 2-9 2-40 2 43 2-18 2 20 2-5 2 5 2 12 2-14 2-38 2 36 2 21 2-30 2-18 2 5 2-11 2 54 2-46 2 0 2 23 2 12 2-1 2-33 2 2 2 19 2 13 2-3 2-45 2 34 2-2 2 18 2-14 2-26 2-9 2 49 2-22 2-32 2 54 2 3 2 6 2-47 2 33 2-38 2-1 2 1 2 48 2-28 2 30 2-20 2 19 2-25 2-6 2-3 2 26 2-18 2-22 2-3 2-1 2 38 2-21 2 27 2-2 2-36 2 29 2-30 2 40 2-3 2-7 2-26 2-1 2-14 2 42 2 2 2-44 2 58 2-58 2 55 2-6 2-8 2 13 2-38 2 19 2-5 2-21 2 11 2 2 2 23 2-2 2-8 2-34 2 6 2 36 2 13 2-49 2 16 2 28 2-39 2-9 2-1 2 50 2-14 2-28 2-4 2-7 2 2 2 38 2 20 2-13 2 5 2-6 2-4 2-19 2-9 2 30 2-4 2 16 2-26 2 19 2-23 2-18 2-7 2 36 2-8 2-7 2 12 2 1 2 20 2-48 2 43 2-10 2-28 2 3 2-14 2 38 2-19 2 31 2 5 2-3 2-27 2 24 2 4 2-6 2-15 2-34 2 45 2-35 2 27 2-38 2 21 2-11 2 3 2 43 2-51 2 50 2 2 2-49 2-6 2 56 2-47 2 15 2 31 2-54 2 23 2 12 2-29 2 29 2-21 2 31 2-43 2 6 2-14 2 18 2-4 2-16 2 44 2-40 2 16 2 23 2-5 2 6 2-45 2 5 2 17 2 0 2 25 2-34 2 11 2 5 2-7 2 32 2-57 2 43 2 3 2 16 2-52 2 46 2-4 2 1 2-31 2-2 2 38 2-38 2 2 2 13 2 28 2-25 2-16 2 9 2 13 2 1 2-8 2-23 2 7 2 32 2-5 2-36 2 28 2-12 2 8 2-27 2 43 2 4 2 9 2-3 2-1 2-10 2-12 2-20 2 23 2-10 2 27 2-2 2-42 2 29 2-22 2-19 2 8 2-6 2 5 2-1 2-9 2 12 2 36 2-47 2 1 2 36 2-8 2 5 2-38 2 29 2-15 2 11 2 9 2 18 2 9 2-25 2-5 2-6 2-1 2-16 2 2 2 7 2-10 2 60 2-28 2 12 2-40 2 52 2-51 2 2 2 29 2-13 2 5 2 24 2 4 2-52 2 16 2-12 2 48 2-9 2-5 2 9 2-31 2 12 2 28 2-37 2-18 2 35 2-1 2-7 2-20 2 40 2-16 2-5 2 19 2-21 2-22 2-5 2 48 2-23 2-20 2-2 2 41 2-17 2 25 2-53 2 19 2 7 2-21 2 19 2 9 2-31 2 56 2-4 2-17 2-29 2 51 2-8 2-19 2-24 2 45 2-43 2 50 2-39 2 25 2-27 2-3 2 26 2 6 2 1 2-23 2 19 2 8 2-43 2 4 2 26 2-22 2-10 2 23 2-21 2-1 2-4 2 53 2-12 2-1 2-39 2 5 2-13 2-1 2 54 2-17 2 3 2-32 2 43 2-9 2-40 2-4 2 15 2 1 2-21 2 15 2-10 2 16 2-4 2 29 2-1 2-34 2 10 2-13 2 32 2-12 2 37 2-15 2-4 2 12 2-6 2-23 2 39 2-6 2-14 2 0 2-2 2 15 2-27 2-8 2-16 2-3 2 55 2-57 2 56 2-38 2 28 2-53 2 54 2-23 2 19 2-4 2-1 2-8 2-35 2 20 2 18 2-11 2 14 2-23 2 2 2 7 2-2 2 5 2-40 2 27 2-38 2 34 2 17 2 0 2-17 2-8 2 35 2-1 2-33 2-12 2 6 2 26 2 2 2-44 2 40 2-51 2 39 2-1 2-59 2 19 2 21 2-8 2-20 2 2 2 20 2-10 2 17 2 23 2 10 2-21 2 31 2 0 2-7 2-21 2 7 2-13 2 53 2-37 2-13 2 53 2-56 2 26 2 27 2-18 2-36 2 4 2 14 2-20 2 10 2 19 2 2 2-29 2 57 2-1 2-45 2 40 2-1 2 4 2-27 2-1 2-18 2 45 2-39 2 0 2 19 2 34 2-33 2-17 2 1 2 44 2-50 2 43 2-8 2-16 2 9 2-27 2 42 2-29 2-19 2 44 2-27 2 7 2 24 2 3 2-44 2 46 2-3 2-9 2-40 2 47 2-16 2-27 2 20 2 9 2 1 2-17 2 9 2 3 2-20 2 6 2 15 2-30 2 33 2-24 2-8 2 26 2 13 2-19 2-24 2 5 2 28 2 18 2-52 2 48 2-15 2 20 2-44 2-6 2 22 2 4 2 18 2 11 2 2 2-22 2 12 2 5 2-21 2-30 2 0 2-6 2 38 2-26 2 25 2-28 2 30 2-11 2-29 2 23 2-17 2 11 2-14 2 18 2 19 2-50 2 6 2-16 2-7 2 38 2-40 2-10 2 20 2 15 2 9 2 7 2-28 2 57 2-46 2 35 2 22 2-52 2 46 2 14 2-15 2 2 2-29 2-5 2-9 2 24 2 19 2 4 2 7 2-20 2-29 2 45 2-24 2-12 2-6 2 36 2 4 2-37 2-10 2 46 2-44 2 34 2-29 2-14 2 6 2 6 2-9 2 41 2-21 2-13 2-4 2 40 2-34 2 44 2-44 2 16 2-14 2 40 2-40 2 39 2-40 2 23 2-15 2-15 2 36 2-6 2 13 2-54 2 42 2-36 2 47 2-31 2-6 2 2 2 30 2 13 2-59 2 50 2-52 2 12 2 30 2-7 2-21 2-38 2-4 2 41 2-11 2-47 2 25 2-8 2-25 2 31 2 11 2-39 2 6 2 4 2 54 2-19 2-8 2 19 2 26 2 1 2-40 2 61 2-41 2 14 2 15 2-21 2-16 2 23 2-7 2 21 2 1 2-33 2 43 2-44 2 39 2-39 2 43 2 7 2-12 2 1 2-29 2-9 2 4 2 16 2-31 2 48 2-34 2 9 2-35 2 14 2 45 2-6 2-5 2-42 2 48 2-11 2-8 2-24 2 57 2-4 2-10 2 1 2-12 2-8 2 17 2 20 2-57 2 19 2-12 2 39 2-9 2-29 2 37 2 5 2-25 2 12 2-27 2-29 2 5 2 27 2-9 2-22 2 2 2-43 2 21 2-7 2 8 2 13 2-50 2 12 2 44 2 23 2-37 2 68 2-48 2 10 2-6 2 66 2-35 2 41 2-3 2-52 2 7 2 5 2-4 2-11 2 54 2-28 2 32 2-21 2-23 2 49 2-56 2 49 2-8 2 8 2-3 2 12 2-60 2 20 2 1 2-7 2-1 2 29 2-19 2-19 2 27 2 16 2-36 2 14 2 29 2-12 2 21 2-3 2-3 2-14 2 11 2-17 2-24 2-15 2 27 2-21 2 48 2-35 2 39 2 1 2-30 2-6 2-18 2 6 2-4 2 37 2-37 2 19 2-17 2 8 2 30 2 0 2-21 2 37 2 0 2-53 2 50 2-51 2-4 2 51 2 10 2-52 2 37 2 1 2 14 2-59 2 50 2-1 2-18 2-7 2 2 2 37 2-43 2-15 2 58 2-26 2-24 2 49 2-15 2-3 2-15 2-1 2-6 2-14 2 36 2 21 2-54 2 44 2-4 2-39 2 0 2-3 2 42 2-35 2 18 2 2 2-24 2 14 2 25 2-49 2 3 2 8 2 35 2 16 2-20 2-15 2 8 2-11 2-19 2 62 2-39 2-18 2 58 2-5 2-7 2-44 2 43 2-20 2-9 2 2 2 11 2-16 2-9 2 26 2-17 2-20 2 7 2 49 2-10 2-45 2 21 2 34 2-55 2 19 2 6 2 24 2-2 2 3 2-1 2-43 2 28"/><path d="M174 2820l2-33 2 46 2-38 2 30 2-14 2 38 2-5 2-31 2 18 2 2 2 2 2-37 2 55 2-57 2 29 2 14 2-47 2 35 2 7 2-33 2 17 2 28 2-5 2-27 2 15 2-18 2 32 2-26 2 31 2-9 2-37 2 5 2-16 2 51 2-29 2 5 2 25 2-55 2 33 2 25 2-17 2 17 2-23 2-26 2 53 2-18 2-24 2-14 2 18 2-21 2 52 2-1 2-32 2 41 2-57 2 34 2 15 2-38 2-6 2 28 2-18 2 27 2-14 2-8 2 13 2-3 2 23 2-15 2 2 2 8 2-17 2 14 2-55 2 1 2 10 2 47 2-5 2-42 2 23 2-13 2 35 2-32 2 17 2 8 2-40 2 20 2 0 2-13 2 10 2-12 2 11 2 38 2-25 2 22 2 0 2-5 2-43 2 48 2-47 2 41 2 10 2-1 2-17 2 15 2-7 2 8 2-55 2 3 2 47 2-1 2-36 2 32 2-31 2 27 2-29 2-1 2 21 2-32 2 31 2-29 2 45 2-1 2-27 2-17 2 22 2 24 2-30 2-8 2 37 2-24 2 15 2-33 2 22 2 23 2-32 2 27 2 8 2-3 2-3 2-48 2 30 2 2 2 20 2-3 2-23 2-20 2 35 2-4 2-1 2-33 2 45 2-19 2 18 2-20 2 0 2 20 2 6 2 10 2-8 2 11 2-40 2 27 2-4 2-5 2 6 2-53 2 17 2 13 2 2 2-12 2 31 2-3 2 6 2-31 2-15 2 46 2-6 2-15 2-21 2 37 2 0 2-36 2 26 2-2 2 18 2-45 2 41 2-31 2 23 2-27 2 16 2-19 2 8 2 42 2-45 2 40 2 9 2-46 2 39 2-52 2 25 2-24 2-1 2 22 2 5 2 11 2-16 2 17 2 7 2-35 2 12 2-21 2 3 2 47 2-13 2 2 2-8 2-12 2-4 2 0 2 30 2-41 2 19 2 37 2-44 2 1 2 41 2-36 2 18 2-28 2 20 2 26 2-55 2 45 2-3 2-36 2 50 2-36 2 27 2-44 2-8 2 18 2-19 2 34 2 24 2-38 2 4 2-19 2 39 2-43 2 22 2-14 2 30 2 10 2-14 2 15 2-5 2 14 2-47 2 18 2 29 2-48 2 36 2-36 2-10 2 7 2 11 2 6 2 17 2-35 2 49 2-34 2-14 2 27 2-20 2 28 2-36 2 6 2-9 2 7 2 47 2-40 2 41 2-35 2-5 2-7 2 21 2-31 2 35 2-13 2 26 2-39 2 39 2-46 2-7 2 52 2-38 2 42 2-7 2-42 2 29 2 3 2 10 2 9 2 1 2-53 2 47 2-10 2-37 2 47 2-47 2 11 2 32 2 10 2-40 2 20 2-16 2-14 2 48 2-32 2-23 2 26 2-19 2 5 2 20 2 26 2-60 2 43 2 12 2-12 2 5 2-24 2-14 2-7 2 2 2 43 2-39 2 4 2 20 2-26 2 52 2-56 2 2 2 27 2 31 2-59 2 36 2-10 2-12 2 40 2-26 2 24 2 3 2-2 2-17 2 14 2-37 2 19 2-8 2 15 2-5 2-35 2 47 2-10 2-24 2 24 2 9 2 0 2-31 2-16 2 56 2-41 2 40 2-45 2 49 2-17 2-26 2 3 2-25 2 44 2-22 2-15 2 16 2-19 2 14 2-5 2 37 2-53 2 15 2 27 2-26 2-16 2 24 2-13 2 15 2-11 2 16 2 31 2-16 2-19 2 29 2-35 2-17 2 49 2-51 2 50 2 4 2-44 2 25 2 5 2-26 2 36 2-10 2-28 2 12 2 4 2 21 2-43 2 21 2 25 2-19 2-7 2-5 2 24 2-28 2 29 2-9 2-26 2-3 2 17 2 17 2 7 2-29 2 8 2-9 2 20 2-29 2 29 2 6 2 1 2-35 2 17 2 8 2-26 2 10 2 36 2-59 2 2 2 46 2-4 2-37 2 1 2 41 2-23 2 24 2-45 2 38 2-4 2-4 2-33 2 14 2-16 2 7 2 16 2-24 2-6 2 29 2-23 2 50 2-12 2 21 2-8 2-35 2 42 2-19 2 12 2-43 2 42 2-1 2-32 2 15 2 22 2-26 2-18 2 9 2 21 2 19 2-33 2-20 2 6 2-4 2 17 2-10 2 4 2 45 2-24 2-25 2 3 2 31 2 17 2-22 2-2 2-23 2 0 2 37 2-11 2-26 2 34 2-3 2-18 2-11 2 36 2 6 2-28 2 16 2-23 2-22 2 0 2 53 2-10 2 7 2-6 2-2 2 4 2-12 2-3 2-22 2 39 2-19 2 9 2 21 2-41 2 35 2 1 2-21 2-25 2-2 2 39 2 2 2 5 2-27 2-12 2 15 2 13 2-28 2 7 2 38 2-22 2-10 2 36 2-40 2 21 2-12 2 27 2-40 2 15 2-11 2-10 2 33 2-45 2 16 2 35 2-9 2-8 2 4 2 1 2 12 2-30 2 15 2-17 2-16 2 25 2-22 2 7 2-5 2 0 2 33 2-36 2-10 2 20 2 34 2-18 2-23 2-9 2 13 2 3 2 28 2-13 2 20 2-36 2 3 2 38 2-57 2 17 2 16 2-17 2 29 2-11 2 19 2-8 2-5 2 14 2-49 2 21 2-33 2 42 2-34 2 25 2-41 2 39 2 4 2-32 2-8 2 8 2 23 2-7 2-25 2-8 2 34 2-36 2-3 2 51 2-28 2-9 2 36 2 0 2-20 2-12 2 24 2-21 2 35 2-22 2-36 2-2 2 11 2 6 2-21 2 46 2-34 2 22 2-31 2-29 2 43 2-21 2-10 2-6 2 39 2-20 2 6 2 32 2 18 2-17 2 2 2 5 2-24 2 53 2-2 2-14 2-16 2 21 2-4 2-16 2 1 2 31 2-46 2 27 2-31 2 47 2-53 2 3 2 16 2 22 2-45 2 54 2-3 2-32 2 44 2-11 2 6 2-18 2-1 2 15 2-40 2 2 2 9 2-4 2 25 2 8 2-15 2 23 2-15 2 27 2-1 2-6 2-41 2 37 2 12 2-21 2 17 2-4 2-26 2-13 2-8 2 16 2 35 2-7 2 2 2-36 2 3 2 20 2-37 2 34 2-35 2 47 2-6 2-30 2-8 2 45 2 10 2-23 2 3 2 19 2-29 2 21 2-47 2-1 2 53 2-20 2-20 2 4 2 23 2-42 2-3 2 24 2-18 2-6 2 16 2 41 2-52 2 36 2-36 2 21 2-3 2 30 2-46 2 46 2-41 2 39 2-43 2 0 2 46 2-21 2 14 2 7 2 4 2-11 2-11 2 20 2-10 2-14 2 13 2-5 2 7 2-23 2-33 2 16 2 12 2-31 2 22 2-37 2 5 2 9 2-32 2 45 2 0 2 5 2 1 2-2 2 12 2 15 2-48 2 60 2 3 2-39 2 30 2 13 2-41 2 48 2-52 2 53 2-54 2 22 2-8 2 9 2 29 2-41 2-14 2 7 2 3 2-6 2 4 2-5 2 8 2-2 2-9 2 1 2 51 2-9 2-42 2 32 2-34 2 2 2 28 2-5 2 15 2-35 2 18 2 14 2-17 2-7 2 25 2-1 2 25 2-56 2 37 2-28 2 17 2 13 2-34 2 25 2 10 2-3 2-43 2 41 2 9 2-27 2 16 2-31 2-3 2 34 2-5 2 13 2-24 2 15 2 5 2-26 2-5 2 3 2-18 2 1 2-17 2 3 2-41 2-8 2-4 2 13 2-2 2 3 2 14 2-31 2 15 2-4 2-4 2 37 2 16 2 21 2-5 2 26 2 4 2 7 2 2 2-40 2 11 2 28 2-10 2-27 2 16 2-15 2 50 2-41 2-5 2-11 2 14 2 38 2-57 2 33 2-32 2 40 2 13 2-33 2 9 2 18 2-51 2-3 2 41 2-9 2 14 2-21 2 25 2-45 2 36 2-30 2 29 2-25 2 30 2 4 2-34 2 42 2-11 2-1 2 13 2-27 2-11 2 1 2 23 2 12 2 6 2-9 2-26 2-13 2-5 2 15 2-10 2 33 2-56 2 20 2 5 2-11 2-26 2-67 2 0 2-9 2-30 2-20 2 1 2 64 2-27 2-6 2 61 2-24 2 70 2-22 2 29 2-22 2 54 2 18 2-16 2 4 2-7 2-24 2 57 2-7 2-9 2 26 2-41 2-3 2 20 2-20 2 0 2-8 2 38 2-29 2-10 2 57 2-2 2-33 2 16 2-39 2 12 2 9 2 15 2 17 2-11 2 23 2-2 2-52 2 35 2-37 2 53 2-45 2-11 2 54 2-58 2 62 2-11 2-1 2-49 2 55 2-24 2 19 2-48 2-8 2 61 2-44 2-7 2-8 2 13 2 36 2-35 2 47 2-61 2 4 2 2 2 54 2-5 2-43 2 9 2-7 2 26 2-25 2 28 2-17 2-9 2 40 2-52 2 22 2 15 2 25 2-15 2-27 2 27 2 12 2-54 2-1 2 6 2 5 2 5 2-11 2 50 2-56 2 18 2 29 2-18 2 35 2-2 2-52 2 19 2 23 2-8 2 7 2-34 2 19 2-14 2-17 2 30 2-37 2 45 2-10 2-45 2 45 2 12 2-17 2-27 2 16 2-15 2 41 2-12 2 28 2-15 2 6 2-13 2 10 2 14 2-3 2-3 2-46 2 18 2 4 2 7 2 14 2-30 2 5 2-25 2 21 2 31 2-2 2 2 2 9 2-26 2-19 2 1 2 27 2-45 2-3 2 60 2-54 2-5 2 53 2-12 2 7 2-31 2 29 2-43 2 17 2 28"/><path d="M174 2762l2 43 2-23 2 3 2 55 2-12 2-31 2-9 2 40 2-38 2 47 2-26 2-6 2 9 2 16 2 20 2-4 2-8 2 9 2-15 2-37 2 49 2-45 2 12 2 6 2 3 2 7 2 0 2 3 2-6 2 29 2-58 2 55 2-60 2 5 2 10 2 34 2-6 2-17 2 30 2-45 2 40 2 4 2-13 2 10 2-15 2 9 2-44 2 46 2 10 2-10 2 7 2-54 2-1 2 28 2 12 2 15 2-37 2-7 2 29 2-23 2 18 2-21 2 27 2-40 2 29 2 1 2-31 2 16 2 7 2 18 2-38 2 31 2-37 2 49 2-32 2-2 2 16 2 12 2 14 2-48 2 47 2-56 2 46 2-40 2 46 2-42 2 2 2 45 2 5 2 1 2-21 2-5 2 19 2-18 2 12 2-47 2 38 2 15 2-11 2 16 2-26 2-21 2 32 2-33 2 1 2 27 2 17 2-43 2 7 2 8 2-2 2-20 2 30 2 24 2-51 2 10 2-17 2 0 2 37 2 18 2-19 2-21 2 25 2-29 2 13 2 32 2-17 2-35 2 6 2-9 2-3 2 55 2-11 2 13 2-22 2-8 2 5 2 2 2-28 2 35 2-40 2 50 2-18 2 4 2-19 2-6 2 28 2-42 2 0 2 26 2-14 2 24 2-15 2 33 2-28 2 21 2-5 2 15 2 6 2-20 2 18 2-33 2 1 2-18 2 17 2 5 2-3 2-16 2-14 2 18 2-20 2 54 2-37 2 8 2-21 2 46 2-51 2 47 2-34 2 6 2 37 2-4 2-5 2 14 2-28 2 18 2-29 2 9 2-14 2 11 2 13 2-29 2 49 2-32 2 25 2-42 2 56 2-47 2 2 2 31 2 12 2-39 2 5 2-18 2 7 2 13 2 3 2 23 2-36 2 32 2 4 2-34 2 15 2-33 2 55 2-40 2 5 2 39 2-9 2-12 2 4 2-28 2-4 2 7 2-2 2-7 2 1 2 35 2-25 2-9 2 39 2-26 2-9 2 11 2-6 2 32 2 2 2-13 2 21 2-38 2 39 2-36 2-13 2 46 2-23 2 14 2-46 2 47 2-45 2 2 2-3 2 39 2 9 2 5 2-45 2 11 2 14 2-23 2 44 2-19 2-28 2-2 2 37 2-28 2 9 2 12 2 18 2-44 2 45 2-39 2-1 2 6 2-7 2 33 2-41 2 42 2-36 2-10 2 17 2 35 2-23 2-9 2-24 2 29 2-23 2 8 2 41 2 0 2-19 2-6 2-20 2 41 2-14 2 11 2 5 2 0 2-39 2-9 2-10 2 15 2-14 2 47 2-19 2-16 2 30 2-38 2 47 2 3 2 3 2 1 2-1 2-14 2 0 2 18 2-59 2 32 2 11 2 6 2 9 2-54 2 6 2-3 2 30 2 23 2-18 2-2 2-32 2 14 2 36 2-59 2 52 2-20 2 17 2-47 2 5 2 52 2-40 2 16 2 3 2-34 2 0 2 54 2-55 2 8 2 8 2-7 2 44 2-35 2 39 2 0 2-19 2-22 2-6 2 46 2-17 2 13 2-20 2-29 2 20 2 2 2-1 2 9 2-29 2 46 2-36 2 42 2-53 2 5 2 34 2-43 2 11 2 43 2-32 2 33 2-5 2-2 2-43 2 32 2-35 2 5 2 19 2-17 2-2 2 9 2 19 2-36 2 9 2 16 2 21 2-18 2-13 2 5 2 27 2-16 2-25 2-8 2-4 2 51 2-15 2-14 2-21 2 15 2 31 2 8 2-49 2 35 2-15 2 20 2-36 2 3 2 33 2-23 2 17 2-22 2-5 2 50 2-36 2-11 2 33 2-25 2 4 2-10 2 27 2-23 2 38 2-47 2 7 2 31 2-1 2-11 2 20 2-18 2-24 2-4 2 30 2-20 2 38 2-13 2-41 2 14 2-22 2 6 2 26 2 13 2-1 2 10 2-53 2 44 2-10 2-7 2 0 2 4 2 16 2-55 2 29 2 28 2-26 2 6 2-29 2 28 2-25 2-15 2 37 2-41 2 10 2 8 2 32 2-36 2 41 2-38 2 52 2-27 2 14 2 7 2-9 2-10 2 5 2-2 2 9 2-24 2 36 2-29 2 24 2-7 2 11 2 8 2-52 2 53 2-10 2 7 2 2 2-10 2-28 2 20 2 12 2-27 2-16 2 45 2-26 2 16 2 7 2-13 2 13 2-49 2 17 2 38 2-10 2-31 2-2 2-2 2-1 2-11 2 20 2-17 2 51 2-24 2 30 2-5 2-36 2 21 2-29 2 33 2-8 2-37 2 5 2 41 2 12 2-21 2 22 2-56 2 57 2-20 2 18 2-40 2 31 2-19 2 28 2-25 2 29 2-53 2 5 2 28 2-3 2 25 2-43 2 13 2 11 2 6 2-45 2 43 2-42 2-1 2 9 2-8 2 16 2 21 2-40 2 1 2 48 2-21 2 18 2-12 2-36 2 9 2 25 2 19 2-58 2 7 2 36 2-17 2 25 2 4 2-34 2-5 2 28 2-10 2 4 2-37 2 15 2 36 2-38 2-6 2 43 2-4 2 6 2-45 2 18 2 25 2-25 2 27 2 1 2 7 2-11 2 5 2-2 2 7 2-35 2 29 2-10 2-19 2 12 2-27 2 30 2-6 2-35 2 43 2 7 2-12 2-12 2-2 2-37 2 51 2-18 2 2 2-9 2 14 2-32 2 44 2-59 2 55 2-31 2-14 2 21 2-37 2 56 2-4 2 5 2-51 2 42 2-18 2 10 2 0 2-24 2-4 2-5 2 34 2-8 2-48 2 39 2-29 2 5 2-2 2-17 2 8 2 11 2-37 2 10 2 1 2 49 2-16 2-19 2 60 2 6 2-26 2-1 2 3 2 42 2-13 2-39 2 10 2 3 2-2 2 32 2-43 2 23 2 11 2 2 2-4 2-27 2 13 2-20 2-10 2 25 2-15 2 30 2-39 2 0 2 18 2 19 2-7 2 23 2-24 2-1 2 0 2-13 2 3 2 52 2-16 2 20 2-4 2-40 2-8 2 9 2 19 2-22 2 32 2-41 2 29 2 26 2-40 2 0 2 14 2 14 2-1 2-33 2 34 2-47 2 45 2-35 2 30 2 5 2 1 2-39 2-11 2 59 2-43 2-2 2 21 2 29 2-9 2-49 2 59 2-56 2 48 2 1 2-24 2 22 2 7 2-37 2-18 2 10 2-18 2 2 2 45 2-11 2-24 2-1 2-15 2 12 2 45 2-23 2 4 2 12 2-16 2 5 2 15 2-11 2-23 2 44 2-11 2-43 2-3 2 49 2-9 2-18 2-23 2 7 2 38 2-42 2 5 2-4 2 42 2-46 2-6 2 5 2-25 2 5 2 12 2 18 2-50 2-8 2 28 2-16 2 3 2-37 2 10 2 36 2-4 2 28 2-34 2 55 2-41 2 43 2-24 2 1 2 37 2 5 2-9 2-11 2 27 2-38 2 52 2-17 2 2 2-28 2-2 2-8 2 35 2-39 2 13 2 32 2-30 2 21 2 2 2-9 2-5 2-24 2 20 2 15 2-32 2 28 2 17 2-25 2-26 2 33 2 13 2-4 2-24 2-10 2 11 2-7 2 41 2-3 2-9 2 9 2-54 2 47 2-48 2 46 2-49 2 55 2-40 2 25 2 4 2-36 2 41 2-42 2 8 2 43 2-5 2-36 2 27 2-46 2-7 2 3 2 27 2-45 2-11 2 15 2 10 2-19 2-34 2 3 2-27 2 36 2-13 2-3 2 13 2 1 2 10 2-16 2 28 2-40 2 12 2 37 2-5 2 32 2 16 2-44 2 60 2-1 2-43 2 7 2 0 2 6 2 32 2 12 2-18 2 23 2-19 2-15 2-17 2 3 2 18 2-17 2 42 2-24 2-1 2-28 2 49 2-16 2-34 2 17 2 36 2-60 2-1 2 33 2 13 2 5 2 6 2-52 2 44 2 0 2 5 2 4 2-14 2 14 2-9 2 2 2-7 2 9 2-14 2-16 2 41 2-1 2-42 2 10 2-11 2 40 2-25 2-6 2-7 2 13 2 7 2-38 2-5 2-8 2-29 2-23 2-19 2-60 2-26 2 6 2 5 2-53 2 57 2-40 2 66 2 12 2 28 2 41 2-15 2 47 2 1 2 7 2 38 2 1 2 2 2-33 2 6 2 27 2-21 2 47 2-48 2 51 2-30 2 31 2-22 2 19 2-38 2 1 2 11 2 24 2-24 2 46 2-25 2 5 2-42 2 52 2 2 2-1 2-42 2 38 2-8 2-24 2 38 2-9 2-29 2 3 2 24 2-31 2 35 2-16 2-1 2-24 2 24 2 28 2-59 2 35 2 11 2-34 2 22 2-31 2 38 2 1 2-23 2-3 2-15 2 43 2-39 2 36 2-27 2 48 2-2 2 3 2 0 2-32 2 24 2-5 2-19 2 32 2-29 2 23 2 8 2-56 2-2 2 61 2-53 2 0 2 2 2 26 2-8 2-9 2 25 2-36 2 8 2 45 2-45 2 2 2 32 2 14 2-29 2 0 2 8 2-33 2 39 2-36 2 11 2 38 2 2 2-59 2 0 2 44 2-43 2-12 2 10 2-18 2-1 2 24 2 5 2-11 2 37 2-44 2 33 2 0 2-12 2 44 2-56 2 1 2 9 2 19 2 32 2-40 2 20 2-34 2 53 2-49 2 42 2-52 2 18 2 35 2-4 2-49 2 14 2 44 2-20 2-5 2 2 2-40 2 41 2 16 2-47 2 0 2-1 2-8 2 42 2-14 2 33 2-61 2 35 2 0 2-19 2-8 2 32 2-38"/></g>
</g>
<line x1="86.0" y1="1471.0" x2="86.0" y2="1492.5" stroke="#000" stroke-width="4"/>
<line x1="164.5" y1="1471.0" x2="164.5" y2="1481.5" stroke="#000" stroke-width="4"/>
<line x1="244.3" y1="1471.0" x2="244.3" y2="1492.5" stroke="#000" stroke-width="4"/>
<line x1="322.7" y1="1471.0" x2="322.7" y2="1481.5" stroke="#000" stroke-width="4"/>
<line x1="401.2" y1="1471.0" x2="401.2" y2="1492.5" stroke="#000" stroke-width="4"/>
<line x1="478.9" y1="1471.0" x2="478.9" y2="1481.5" stroke="#000" stroke-width="4"/>
<line x1="557.8" y1="1471.0" x2="557.8" y2="1492.5" stroke="#000" stroke-width="4"/>
<line x1="636.1" y1="1471.0" x2="636.1" y2="1481.5" stroke="#000" stroke-width="4"/>
<line x1="714.3" y1="1471.0" x2="714.3" y2="1492.5" stroke="#000" stroke-width="4"/>
<line x1="792.5" y1="1471.0" x2="792.5" y2="1481.5" stroke="#000" stroke-width="4"/>
<line x1="870.7" y1="1471.0" x2="870.7" y2="1492.5" stroke="#000" stroke-width="4"/>
<line x1="948.9" y1="1471.0" x2="948.9" y2="1481.5" stroke="#000" stroke-width="4"/>
<line x1="1027.2" y1="1471.0" x2="1027.2" y2="1492.5" stroke="#000" stroke-width="4"/>
<line x1="1105.3" y1="1471.0" x2="1105.3" y2="1481.5" stroke="#000" stroke-width="4"/>
<line x1="1183.6" y1="1471.0" x2="1183.6" y2="1492.5" stroke="#000" stroke-width="4"/>
<rect x="86.0" y="25.0" width="1097.6" height="1446.0" fill="none" stroke="#000" stroke-width="4"/>
<text transform="translate(86.0,1551.5) scale(0.965,1)" text-anchor="middle" class="t" style="font-size:57px">400</text>
<text transform="translate(244.3,1551.5) scale(0.965,1)" text-anchor="middle" class="t" style="font-size:57px">600</text>
<text transform="translate(401.2,1551.5) scale(0.965,1)" text-anchor="middle" class="t" style="font-size:57px">800</text>
<text transform="translate(557.8,1551.5) scale(0.965,1)" text-anchor="middle" class="t" style="font-size:57px">1000</text>
<text transform="translate(714.3,1551.5) scale(0.965,1)" text-anchor="middle" class="t" style="font-size:57px">1200</text>
<text transform="translate(870.7,1551.5) scale(0.965,1)" text-anchor="middle" class="t" style="font-size:57px">1400</text>
<text transform="translate(1027.2,1551.5) scale(0.965,1)" text-anchor="middle" class="t" style="font-size:57px">1600</text>
<text transform="translate(1183.6,1551.5) scale(0.965,1)" text-anchor="middle" class="t" style="font-size:57px">1800</text>
<text x="416.3" y="1614.5" class="t">Raman Shift (cm<tspan dy="-21.3" font-size="48">-1</tspan><tspan dy="21.3">)</tspan></text>
<text transform="translate(66.5,693.2) rotate(-90)" text-anchor="middle" class="t" style="font-size:56.6px">Raman Intensity</text>
<text x="149.2" y="407.6" class="t">10% Sudan I</text>
<text x="158.0" y="641.5" class="t">7% Sudan I</text>
<text x="163.2" y="888.8" class="t">5% Sudan I</text>
<text x="173.9" y="1140" class="t">3% Sudan I</text>
<text x="182.2" y="1373.6" class="t">1% Sudan I</text>
<text transform="translate(680.1,216) scale(0.98,1)" class="t" style="font-size:55px">1223</text>
<text transform="translate(808.0,228) scale(0.98,1)" class="t" style="font-size:55px">1387</text>
<text transform="translate(891.6,151.3) scale(0.98,1)" class="t" style="font-size:55px">1494</text>
<text transform="translate(970.8,75.4) scale(0.98,1)" class="t" style="font-size:55px">1593</text>
<line x1="732.8" y1="238.6" x2="732.8" y2="300.5" stroke="#000" stroke-width="1.6"/>
<polygon points="725.8,299.5 739.8,299.5 739.1,307.0 737.1,312.0 735.8,319.0 733.6,325.5 732.0,325.5 729.8,319.0 728.5,312.0 726.5,307.0" fill="#000"/>
<line x1="860.6" y1="248" x2="860.6" y2="310" stroke="#000" stroke-width="1.6"/>
<polygon points="853.6,309.0 867.6,309.0 866.9,316.5 864.9,321.5 863.6,328.5 861.4,335.0 859.8,335.0 857.6,328.5 856.3,321.5 854.3,316.5" fill="#000"/>
<line x1="943.4" y1="166.6" x2="943.4" y2="280" stroke="#000" stroke-width="1.6"/>
<polygon points="936.4,279.0 950.4,279.0 949.7,286.5 947.7,291.5 946.4,298.5 944.2,305.0 942.6,305.0 940.4,298.5 939.1,291.5 937.1,286.5" fill="#000"/>
<line x1="1021.8" y1="80" x2="1021.8" y2="196" stroke="#000" stroke-width="1.6"/>
<polygon points="1014.8,195.0 1028.8,195.0 1028.1,202.5 1026.1,207.5 1024.8,214.5 1022.6,221.0 1021.0,221.0 1018.8,214.5 1017.5,207.5 1015.5,202.5" fill="#000"/>
</svg>
</body></html>
